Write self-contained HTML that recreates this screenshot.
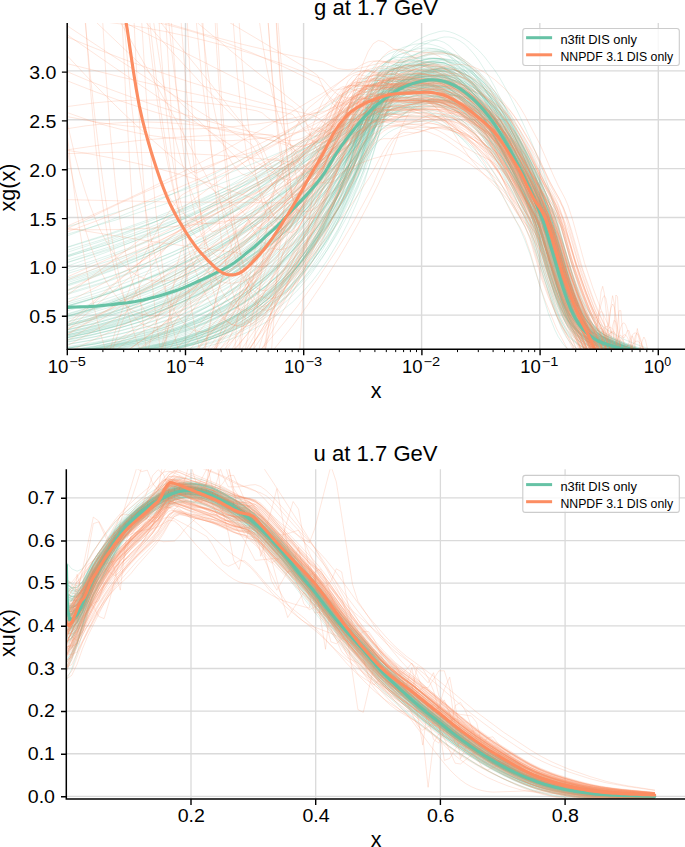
<!DOCTYPE html><html><head><meta charset="utf-8"><style>html,body{margin:0;padding:0;background:#fff;}svg{display:block;}text{font-family:"Liberation Sans", sans-serif;fill:#000;}</style></head><body>
<svg width="685" height="847" viewBox="0 0 685 847">
<rect width="685" height="847" fill="#fff"/>
<defs>
<clipPath id="ct"><rect x="67.2" y="23.0" width="617.8" height="326.3"/></clipPath>
<clipPath id="cb"><rect x="66.3" y="469.2" width="618.7" height="329.8"/></clipPath>
</defs>
<path d="M185.5,23.0V349.3M303.6,23.0V349.3M421.6,23.0V349.3M539.8,23.0V349.3M658.3,23.0V349.3M67.2,315.15H685.0M67.2,266.30H685.0M67.2,217.45H685.0M67.2,168.60H685.0M67.2,119.75H685.0M67.2,70.90H685.0" stroke="#dadada" stroke-width="1.4" fill="none"/>
<path d="M191.00,469.2V799.0M315.70,469.2V799.0M440.40,469.2V799.0M565.10,469.2V799.0M66.3,796.40H685.0M66.3,753.76H685.0M66.3,711.12H685.0M66.3,668.48H685.0M66.3,625.84H685.0M66.3,583.20H685.0M66.3,540.56H685.0M66.3,497.92H685.0" stroke="#dadada" stroke-width="1.3" fill="none"/>
<g clip-path="url(#ct)" fill="none" stroke-linejoin="round"><path d="M64.9 316.3l25.3-7.1 20.2-6.3 25.3-9.1 20.2-8.2 20.2-9.1 20.3-10.2 20.2-11.4 20.2-12.7 20.2-14.2 20.2-15.8 20.3-17.7 20.2-19.8 20.2-22 15.2-18.2 10.1-13.5 15.1-22.7 5.1-6.6 5.1-5.3 5-3.8 5.1-2.3 5-.9 10.1 .3 10.1-.3 5.1 .5 5 1.1 10.2 3.6 10.1 5.7 5 3.6 10.1 9.4 10.1 11.6 5.1 6.7 10.1 15.7 10.1 18.1 10.1 19.2 10.1 21.1 5.1 11.7 5 13.3 18.3 60.9 4.9 15.3 6.6 16.2 3.3 6.2 3.3 5.1 3.3 4.2 4.9 5 5 3.8 4.9 3 8.2 3.4 26.6 8.5M128.6 352.3l22.3-3.7 20.2-4.5 20.2-5.7 20.2-7.4 15.2-6.9 15.2-8.3 15.1-10.1 15.2-12.2 15.2-14.7 15.1-17.9 10.1-13.9 5.1-7.7 10.1-16.8 10.1-19.1 10.1-21.8 5.1-13.3 15.1-44.6 5.1-12.8 5-10.4 5.1-7.4 5.1-4.2 5-1.4 10.1 1.1 10.1-2.3 10.1-1 5.1 .2 5 .8 5.1 1.5 10.1 4.3 10.1 6.2 5.1 3.9 10.1 9.3 10.1 11.3 5.1 6.7 10.1 15.8 10.1 17.9 10.1 19.2 10.1 21.5 5 12.3 5.1 14.9 19.8 65.2 4.9 12.9 3.3 7.1 3.3 5.8 3.3 4.8 4.9 5.6 5 4.3 4.9 3.3 4.9 2.6 5 1.9 24.6 7.7M64.9 304.6l25.3-7.1 20.2-6.2 25.3-8.7 20.2-7.6 20.2-8.4 20.3-9.2 20.2-10 20.2-11 20.2-12 20.2-13.1 20.3-14.4 15.1-11.7 20.2-16.8 15.2-13.7 15.2-14.8 20.2-21 5.1-4.5 5-3.8 5.1-3 5-2.3 5.1-1.8 10.1-2.9 5-.9 5.1-.2 5 .4 5.1 1.3 5.1 2.1 10.1 5.3 5 3.6 5.1 4.1 10.1 9.9 10.1 12 5.1 6.9 10.1 16.1 10.1 17.9 10.1 18.9 10.1 21.2 5 12 5.1 14.9 18.1 58 5 13 4.9 10.2 3.3 5.3 3.3 4.3 3.3 3.4 4.9 3.9 5 2.9 4.9 2.1 4.9 1.5 8.1 1.6M64.9 351.5l35.4-5.1 30.4-6 25.2-6.5 25.3-8.3 15.2-6.1 10.1-4.5 20.2-10.6 10.1-6.1 10.1-6.8 15.2-11.4 10.1-8.6 10.1-9.4 15.2-16.1 10.1-12.1 10.1-13.3 15.1-22.6 15.2-26.2 10.1-19.7 5.1-10.9 20.2-51.7 5.1-10.6 5-8.2 5.1-5.7 5-3.1 5.1-.9 5 .3 5.1-.2 10.1-2.1 5-.5 5.1 .1 5.1 .8 5 1.7 10.1 5.3 10.1 7.2 10.1 9.1 10.2 11.3 10.1 13.8 5 8.1 10.1 18.4 10.1 20.2 10.1 22 5.1 12 4.9 13.1 3.3 10.2 18.1 63.8 5 15.5 6.6 16.3 3.3 6.3 3.3 5.3 4.9 6.2 4.9 4.9 5 3.8 4.9 3 6.6 3.1 11.5 4.6 11.6 4.2 11.6 3.5M131.6 352.3l24.3-4.2 25.3-5.9 20.2-6.3 20.2-8.1 10.1-4.9 10.2-5.5 15.1-9.8 15.2-11.9 15.2-14.3 15.1-17.3 10.1-13.6 10.1-15.3 5.1-8.5 10.1-18.6 10.1-21.1 10.1-24.3 5.1-15.2 15.1-48.9 5.1-13.2 5.1-10 5-6.1 5.1-2.4 5 1.1 5.1 2.6 5 1.6 15.2-2.4 10.1-1.1 10.1 .4 5.1 .9 5 1.5 5.1 2.3 5 3 5.1 3.6 5 4.2 10.2 10.3 10.1 12.4 10.1 14.9 15.1 27.3 10.1 19.7 6.7 14.2 9.9 23.5 3.3 9.5 18.1 62 5 15.4 4.9 12.7 3.3 6.9 3.3 5.8 3.3 4.6 4.9 5.7 5 4.4 6.6 4.4 4.9 2.4 6.6 2.5 27.5 9.1M64.9 335.3l25.3-6.1 25.3-7.3 25.3-9 20.2-8.5 20.2-9.9 20.2-11.5 20.2-13.5 15.2-11.6 10.1-8.4 10.1-9.2 15.2-15.1 10.1-11.2 10.1-11.9 15.2-19.9 15.1-22.2 10.1-16.3 10.2-17.8 20.2-41.4 5-9.1 5.1-7.7 5-6.2 5.1-4.4 5.1-3.1 15.1-6.7 10.1-2.9 5.1-.7 5-.2 5.1 .5 5 1.1 5.1 1.6 5.1 2.2 5 3 10.1 7.6 10.1 10.2 10.1 12.1 10.2 14.1 10.1 16.4 10.1 18.8 15.1 30.1 10.1 22.1 5.1 12.3 6.6 19.7 16.5 58 4.9 15.7 6.6 16.6 3.3 6.4 4.9 7.8 3.3 4.1 5 5.1 4.9 4 4.9 3.2 6.6 3.2 16.5 6.8 8.2 2.9 10.5 3.2M64.9 279.1l20.3-6.8 20.2-7.2 20.2-7.8 20.2-8.5 20.2-9.1 20.3-9.8 20.2-10.6 15.1-8.5 20.3-12.1 20.2-13.1 20.2-14.1 20.2-15.3 15.2-12.2 15.1-12.9 20.3-18.2 25.2-24.8 10.2-7.7 20.2-12 10.1-4.4 10.1-3 5-.9 5.1-.3 5.1 .5 5 1.5 5.1 2.4 10.1 6.4 5 4 10.1 9.7 10.2 12.3 5 7.2 5.1 8 10.1 18.3 10.1 19.8 10.1 21.3 11.7 28 5 15 16.5 58 4.9 15.9 6.6 17 3.3 6.6 3.3 5.5 3.3 4.6 4.9 5.5 4.9 4.3 6.6 4.3 6.6 3.1 16.5 6.7 9.9 3.4 10.8 3.2M64.9 247.8l45.5-14.5 45.5-16.2 45.5-18.2 40.5-18.1 40.4-20.1 20.2-10.8 20.2-11.4 30.4-18.3 25.2-16.2 15.2-10.5 5.1-3.3 5-2.7 5.1-2.1 5-1.6 10.1-2.2 10.1-1.2 5.1 .1 5.1 .6 10.1 2.8 5 2.2 10.1 6.3 10.1 8.8 10.2 10.9 5 6.3 5.1 7.1 10.1 16.6 10.1 18.6 10.1 19.8 10.1 22.1 4.9 12.3 5 14.8 19.7 67.5 6.6 17.3 3.3 6.8 3.3 5.5 3.3 4.5 5 5.1 3.2 2.7 5 3.2 8.2 3.2 26 6.8M64.9 326.4l25.3-6.7 25.3-7.9 25.3-9.3 20.2-8.6 20.2-9.8 20.2-11.2 20.2-12.8 15.2-10.7 20.2-16.1 20.2-18.3 20.3-20.8 15.1-17.6 10.1-12.7 10.1-13.5 15.2-22.1 10.1-16.4 15.2-28 5-8.5 5.1-7.3 5.1-5.9 5-4.5 5.1-2.9 10.1-2.9 20.2-9.6 10.1-4.1 5.1-1.2 5 0 5.1 1.1 5 2.3 5.1 3.5 5 4.8 5.1 5.9 5 6.8 10.2 16.3 5 9.1 10.1 19.8 25.3 53.2 10.1 23.5 6.6 18.8 18.1 64.6 4.9 16 6.6 17.1 3.3 6.7 3.3 5.6 5 6.8 4.9 5.4 4.9 4.2 6.6 4.5 19.8 9.7 13.2 4.9 15.1 4.7M64.9 280.7l40.5-13.3 20.2-7.5 20.2-8.1 20.2-8.7 20.3-9.3 20.2-10.1 15.1-8 25.3-14.5 20.2-12.6 25.3-17.2 20.2-14.9 20.2-16 20.3-17.3 10.1-9.2 20.2-20.2 5.1-4.6 5-3.8 5.1-3.1 5-1.9 5.1-1.2 20.2-2.6 10.1 .1 10.1 1.9 10.1 3.4 5.1 2.9 10.1 7.2 10.1 9.4 10.1 11.6 5.1 7.1 10.1 16.9 5 9.5 10.1 21.1 10.1 23.7 5.1 13.1 6.6 19.5 16.5 58.6 4.9 16 6.6 16.9 3.3 6.4 3.3 5.2 3.3 4.1 4.9 4.8 3.3 2.4 4.9 2.9 6.6 2.5 16.5 4.4 13.4 4.1M76.8 352.3l28.6-3.8 30.3-5.4 25.3-6 20.2-5.9 20.2-7.2 20.2-8.9 20.3-10.8 15.1-9.7 10.1-7.3 10.1-8 15.2-13.8 10.1-10.3 10.1-11.5 15.2-19.4 15.2-22.6 15.1-26.4 5.1-10.8 15.1-35 5.1-9.8 5.1-7.7 5-5.2 5.1-2.8 5-.7 10.1 .9 15.2-3.3 10.1-.9 10.1 .9 5.1 1.1 5 1.6 5.1 2.3 5 2.8 5.1 3.5 10.1 8.7 10.1 11.1 5.1 6.7 5 7.6 15.2 26 10.1 19.2 10.1 21.7 4.9 12 3.3 9.7 19.8 64.3 4.9 12.9 3.3 7.1 3.3 5.8 3.3 4.7 5 5.5 4.9 4.2 4.9 3.1 8.3 3.5 16.4 4.3 6.5 2M64.9 263.2l45.5-15 40.5-15.1 40.4-17.2 20.2-9.4 20.2-9.9 35.4-19.1 30.4-18 20.2-13 15.1-10.3 15.2-10.6 15.2-11.5 10.1-7.1 10.1-5.5 10.1-3.1 10.1-1.8 15.2-.8 10.1 .6 5 .9 10.2 2.7 10.1 3.3 5 2.3 5.1 3.3 10.1 8.3 10.1 10.4 5.1 6.1 10.1 14.9 10.1 17 10.1 18.4 10.1 20.9 5 12.1 5.1 14.5 16.5 55.1 4.9 15.1 4.9 12.4 5 9.5 3.3 5 4.9 5.8 5 4.4 4.9 3.4 4.9 2.5 5 1.8 20.7 5.8M149.6 352.3l21.5-3.9 20.2-4.9 20.2-6.5 15.2-6.1 15.2-7.5 15.1-9.3 15.2-11.3 15.2-14 10.1-11 5-6.1 10.1-13.5 5.1-7.5 10.1-16.6 5-9.2 10.2-20.4 10.1-23.4 5-13.5 20.2-67 5.1-13.4 5.1-10.3 5-6.6 5.1-3 5-.2 5.1 1.2 5-.1 10.1-3 5.1-.9 5-.4 5.1 .2 5.1 .9 5 1.9 10.1 5.8 10.1 7.9 10.1 10.1 5.1 5.9 10.1 14 5.1 8.2 10.1 18.3 10.1 19.5 10.1 21.3 5 11.6 5.1 12.8 3.3 10 18.1 63.2 4.9 15.3 6.6 16.2 3.3 6.2 3.3 5.2 3.3 4.3 5 5.3 4.9 4.1 6.6 4.2 6.6 3.1 18.1 7.4 17.3 5.5M64.9 269.6l25.3-8 20.2-6.9 25.3-9.2 20.2-8 25.3-10.6 20.2-9.2 20.2-9.8 20.3-10.5 25.2-14.1 20.3-12.1 20.2-12.9 20.2-13.8 40.4-29.7 25.3-22.4 10.1-8.7 5.1-3.7 5-3.1 10.1-4.8 5.1-1.6 5-.8 5.1 .1 5.1 1 5 2.1 5.1 2.9 10.1 7.3 10.1 9.2 10.1 11.6 5.1 7 5 7.9 10.1 17.9 15.2 29.8 10.1 23 5 13.1 5.1 15.8 14.8 52.6 5 16.2 6.5 17.6 3.3 6.8 5 8.2 3.3 4.4 4.9 5.3 5 4.2 4.9 3.3 9.9 4.6 19.7 7.6 9.9 3.1M149.6 352.3l21.5-3.9 20.2-4.8 20.2-6.3 15.2-5.9 15.2-7.3 15.1-9 15.2-10.9 15.2-13.4 10.1-10.6 5-5.9 10.1-12.9 10.1-14.8 5.1-8.2 10.1-18.1 10.1-20.8 5.1-11.5 5-13.3 15.2-46.5 5-14.2 5.1-11.9 5.1-9 5-5.9 5.1-3.2 5-2.2 5.1-1.4 10.1-5.5 5-2 5.1-1.2 5 0 5.1 1.1 5.1 2.3 5 3.5 5.1 4.5 10.1 10.1 10.1 11.6 5 6.8 5.1 7.6 10.1 17.4 20.2 39.1 10.1 22.3 5.1 12.7 5 15.7 15 51.1 4.9 15.4 6.6 16.5 3.3 6.4 3.3 5.3 3.3 4.5 4.9 5.5 5 4.3 4.9 3.4 9.9 4.7 24.7 8.8M64.9 319.9l25.3-6.8 20.2-6.1 25.3-8.7 20.2-7.9 20.2-8.8 20.3-10 20.2-11.1 15.1-9.2 20.3-13.5 20.2-15.2 20.2-17.1 15.2-14.1 20.2-20.8 15.2-17.2 10.1-12.5 20.2-27.3 5-5.8 5.1-5 5.1-3.9 5-3.1 20.2-8.5 10.1-2.7 5.1-.5 5 .1 5.1 1 5.1 1.8 5 2.4 5.1 3 10.1 7.9 10.1 10.1 10.1 12 5.1 6.9 10.1 15.8 20.2 35.9 10.1 20.1 5 11.4 6.7 18.5 19.8 63.4 6.6 16.1 3.3 6.2 3.3 5.1 3.3 4.3 4.9 5.1 5 4 4.9 3.2 9.9 4.5 26.9 9.4M64.9 306.7l25.3-7.2 20.2-6.4 25.3-9 20.2-8 20.2-8.7 20.3-9.7 20.2-10.6 20.2-11.6 20.2-12.8 20.2-14.1 20.3-15.5 15.1-12.6 15.2-13.6 15.2-14.6 20.2-20.8 20.2-23 5.1-5 5-4.2 10.1-7.4 5.1-3.4 5-2.7 5.1-1.9 5-1.4 5.1-.9 5-.3 5.1 .5 5.1 1.4 5 2.3 5.1 3 10.1 7.2 5 4 10.1 9.5 10.2 11.6 5 6.8 10.1 16 15.2 27.3 10.1 20.2 5 11.2 5.1 12.3 3.3 9.7 16.5 54.7 4.9 15.1 6.6 16 3.3 6.2 3.3 5.2 3.3 4.2 4.9 5.1 5 4.1 4.9 3.3 9.9 4.6 26.5 9.5M64.9 332.6l25.3-5.8 25.3-6.8 25.3-8 20.2-7.5 20.2-8.6 20.2-9.8 20.2-11.3 20.3-12.8 20.2-14.7 20.2-16.9 20.2-19.2 10.1-10.7 10.1-11.4 10.1-12.1 10.2-13.1 15.1-21.2 5.1-7.8 20.2-35.2 5.1-7.4 5-5.9 5.1-4.1 5-2.1 5.1-.6 10.1 .1 10.1-1.1 5 .1 5.1 .5 10.1 2.8 5.1 2.1 5 2.6 5.1 3.5 10.1 8.9 10.1 11.2 10.1 13.7 5.1 7.9 10.1 18.2 15.1 29.6 10.1 21.3 5.1 11.6 6.6 17.6 21.4 70 6.6 16.2 3.3 6.2 3.3 5.1 3.3 4.1 4.9 4.7 3.3 2.5 4.9 2.9 6.6 2.6 27.9 7.8M64.9 333.7l25.3-5.7 25.3-6.7 25.3-7.9 20.2-7.4 20.2-8.6 20.2-9.7 20.2-11.2 20.3-12.8 20.2-14.7 20.2-16.9 20.2-19.4 15.2-16.3 10.1-11.9 10.1-12.7 15.2-20.8 10.1-15.7 15.1-26.6 5.1-7.6 5.1-6.3 5-4.7 5.1-2.9 5-1.5 10.1-1.1 10.1-2 5.1-.3 5 .4 5.1 1.2 5.1 2 5 2.5 5.1 3.3 5 4.1 10.1 10.3 10.1 12.8 10.2 15 5 8.6 20.2 38.2 15.2 31.8 5 12.3 5.1 15.1 14.8 48.9 5 14.9 4.9 12.2 3.3 6.5 3.3 5.4 3.3 4.3 4.9 5.1 5 3.7 4.9 2.8 8.2 3.1 21.9 5.5M64.9 324.9l25.3-6.6 20.2-6.1 25.3-8.8 20.2-8.1 20.2-9.2 20.3-10.5 20.2-11.8 15.1-9.9 20.3-14.7 15.1-12.3 20.3-18.4 15.1-15.4 15.2-16.8 15.1-18.6 10.2-13.6 20.2-29.1 5-6.4 5.1-5.6 5-4.5 5.1-3.8 20.2-13.3 5.1-2.5 10.1-3.5 5-.9 5.1-.2 5 .7 5.1 1.7 5.1 2.4 5 3.3 5.1 4.1 10.1 9.2 10.1 10.7 5 6.2 5.1 6.8 10.1 16.2 10.1 18.3 10.1 19.6 10.1 21.8 5.1 12.4 5 14.9 16.6 56.8 5 15.3 6.6 16.2 3.2 6.2 3.3 5.1 3.3 4.2 5 5.1 4.9 4 5 3.1 8.2 3.6 29.5 10.1M64.9 348.7l30.4-4.7 30.3-6.1 15.2-3.7 15.1-4.3 25.3-8.5 15.2-6 10.1-4.5 20.2-10.4 20.2-12.3 10.1-7.1 10.1-7.7 15.2-12.9 15.2-14.7 15.1-16.9 15.2-19.3 10.1-14.3 10.1-15.7 15.2-26.3 5-9.8 20.3-46.5 5-9.4 5.1-7 5-4.4 5.1-1.9 5 0 10.1 1.7 10.1-.3 5.1 .6 5.1 1.1 10.1 3.9 5 2.8 10.1 7.9 10.1 10.2 5.1 6.1 10.1 14.1 10.1 17.4 15.2 29.4 10.1 21.4 5 11.7 5.1 12.8 3.3 9.8 16.5 56.2 4.9 15.5 4.9 12.8 5 9.9 3.3 5.2 4.9 6.1 5 4.6 6.5 4.5 8.3 3.6 28.7 9M64.9 352l30.4-4.1 25.2-4.5 25.3-5.7 25.3-7.3 15.2-5.3 10.1-4 20.2-9.3 20.2-11.3 15.2-10.1 10.1-7.6 10.1-8.4 15.2-14.2 10.1-10.7 10.1-11.8 15.1-20.1 15.2-23.2 10.1-17.5 5.1-9.4 5-10.8 15.2-36.1 5-10.5 5.1-8.5 5.1-6.1 5-3.6 5.1-1.1 10.1 1.5 15.1-1.8 10.1-.3 5.1 .5 10.1 2 10.1 3.5 5.1 2.8 5 3.2 10.1 8.1 10.2 10.2 5 5.9 10.1 14.3 15.2 25.8 10.1 19.1 10.1 21.8 4.9 12.3 3.3 9.8 19.8 65.7 4.9 13.2 3.3 7.3 3.3 6 3.3 4.9 5 5.8 4.9 4.5 4.9 3.4 5 2.5 4.9 1.9 24.9 7.6M142.6 352.3l23.4-4.4 20.3-5.1 20.2-6.8 10.1-4.1 10.1-4.8 15.2-8.5 15.1-10.4 15.2-12.9 10.1-10.2 5.1-5.6 10.1-12.5 10.1-14.4 10.1-16.5 10.1-19 10.1-21.8 5.1-12.1 5-13.7 15.2-51.4 5-15.8 5.1-13 5-9.4 5.1-5.4 5.1-1.6 5 1.2 5.1 2.4 5 1.1 15.2-1.8 15.1-.9 15.2 .2 5.1 .3 5 1 5.1 2.2 5 2.8 5.1 3.4 5 4.1 10.2 10.1 10.1 12.6 10.1 15.9 15.1 28.2 15.2 31.6 8.2 20 3.3 9.5 18.1 62.2 5 15.5 4.9 12.8 3.3 6.9 3.3 5.8 3.3 4.7 4.9 5.6 5 4.3 6.6 4.4 9.9 4.2 27.6 9.1M64.9 351.3l30.4-4.8 25.2-5.3 25.3-7 20.2-7.1 20.3-8.8 15.1-8 10.1-6 10.1-6.8 15.2-11.5 10.1-8.8 10.1-9.8 15.2-16.8 15.2-19.7 15.1-23.1 10.1-17.7 10.1-19.6 5.1-10.8 5-12.3 15.2-39.4 5.1-11.5 5-9.7 5.1-7.7 5-5.5 5.1-3.5 10.1-5.2 15.2-12.6 15.1-10.1 10.1-5.3 5.1-2.2 10.1-3.1 5.1-.7 5 .8 5.1 1.7 5 2.3 5.1 2.9 5 3.5 10.1 9 5.1 5.7 10.1 13.2 5.1 7.8 10.1 18.1 10.1 20.6 10.1 22.1 11.7 28.7 5 14.2 3.3 11 16.4 61.9 6.6 22.6 6.6 17.8 3.3 7 5 8.5 4.9 6.6 6.6 6.9 6.6 5.2 6.6 4.1 9.8 5.5 11.6 4.9 11.5 4.2 14.7 4.6M64.9 348.6l30.4-4.6 30.3-6 25.3-6.4 25.2-7.9 25.3-9.8 20.2-9.6 20.3-11.4 20.2-13.6 10.1-7.7 10.1-8.5 15.2-14.1 15.1-16.1 15.2-18.4 10.1-13.7 10.1-14.9 15.2-25 5-9.8 15.2-33 5.1-9.6 5-7.7 5.1-5.5 5-2.9 5.1-1 10.1 1.3 10.1-.9 10.1 .3 10.1 1.9 5.1 1.5 5 2 5.1 2.8 5 3.4 10.1 8.6 10.2 10.7 5 6.3 5.1 7.2 10.1 16.6 15.1 28 10.1 21.1 6.7 16 3.3 9.3 21.4 70.2 5 13 3.3 7.1 3.3 5.9 3.3 4.8 4.9 5.7 5 4.4 4.9 3.4 4.9 2.6 5 1.8 20.4 5.9M64.9 227.5l50.6-14.8 50.5-16.4 50.6-18.2 45.5-18.1 35.4-15.2 30.3-14 15.2-5.7 5-2.5 10.1-7 15.2-12.4 5-3.5 10.2-5.7 15.1-6.7 15.2-4.3 10.1-1.7 5-.3 5.1 .2 5.1 .8 5 1.3 5.1 2 5 2.5 5.1 3.1 5 3.6 10.1 9 10.2 11.1 5 6.4 5.1 7.1 10.1 16.4 10.1 18.1 10.1 19.3 5 10.5 8.4 19.1 4.9 14 16.5 55.6 4.9 15.4 6.6 16.3 3.3 6.3 3.3 5.2 3.3 4.3 5 5.1 4.9 3.9 4.9 3.1 8.3 3.4 25.7 8.2M64.9 318.3l25.3-6.8 20.2-6.3 25.3-8.8 20.2-7.9 20.2-9 20.3-9.9 20.2-11.2 15.1-9.2 20.3-13.6 20.2-15.2 20.2-17 20.2-18.9 20.2-21.3 15.2-17.5 10.1-12.7 20.2-29.1 5.1-6 5.1-4.7 5-3.5 5.1-2 5-.8 20.2-1.1 5.1 .1 10.1 1.1 5.1 1 5 1.6 5.1 2.1 5 2.8 5.1 3.6 5 4.4 5.1 5.1 5 5.9 5.1 7 5.1 8 10.1 18 10.1 19.3 10.1 21.3 5 11.6 5.1 13 5 16 15 51.3 4.9 15.2 6.6 16 3.3 6.1 3.3 5.1 3.3 4.2 4.9 5.1 5 4 4.9 3.1 8.2 3.6 23.1 8.4 7.9 2.5M122.8 352.3l28.1-4.8 25.2-5.9 20.3-6.3 20.2-8 10.1-4.9 10.1-5.4 15.2-9.6 10.1-7.5 10.1-8.4 15.2-14.8 15.1-17.8 10.1-13.8 10.1-15.6 5.1-8.6 10.1-18.9 10.1-21.3 10.1-24.6 15.2-48 5-15.1 5.1-12.7 5.1-9.6 5-6 5.1-2.5 5 .6 5.1 2.1 5 .9 10.1-.5 5.1 .6 5 1 10.2 3.6 10.1 5.6 5 3.6 10.1 9 10.1 11.1 10.2 13 10.1 15.7 10.1 18.3 10.1 19.4 15.1 31.7 6.7 16.4 3.3 9.6 16.5 55.5 4.9 15.4 5 12.8 3.3 7 3.3 5.8 3.3 4.7 4.9 5.6 5 4.3 4.9 3.3 4.9 2.5 5 1.9 29.5 9.6M64.9 335.6l25.3-5.5 20.2-5.1 25.3-7.5 20.2-7 20.2-8.1 20.3-9.3 20.2-10.8 15.1-9 20.3-13.7 20.2-15.8 20.2-18.2 15.2-15.4 10.1-11.2 10.1-12 15.2-19.7 10.1-15 15.1-25.3 5.1-7.2 5-5.9 5.1-4.3 5.1-2.5 5-.9 10.1 .8 25.3-.7 10.1 .6 10.1 1.8 10.1 2.9 5.1 2.3 5 2.9 5.1 3.5 5 4.2 5.1 4.9 5.1 5.5 5 6.5 5.1 7.4 10.1 16.9 15.1 28 10.1 21.4 5.1 12.3 3.3 9.6 19.8 63.6 4.9 12.8 3.3 7 3.3 5.7 3.3 4.7 4.9 5.3 5 4.1 4.9 3.1 8.2 3.3 22.2 5.7M130.2 352.3l25.7-4.6 20.2-4.9 20.3-6.3 15.1-5.9 15.2-7.3 15.2-8.8 15.1-10.8 15.2-13 15.2-16 10.1-12.5 5-6.8 10.1-15.2 5.1-8.4 10.1-18.5 10.1-21.1 10.1-24.2 5.1-15 15.1-49.5 5.1-14 5-11 5.1-7.6 5.1-4.2 5-1.5 10.1 .5 15.2-5.3 10.1-1.8 5-.1 5.1 .5 5.1 1.1 5 2 10.1 6 10.1 8.5 10.1 10.6 10.2 13.2 5 7.6 10.1 17.4 15.2 28.6 10.1 21.4 5 12 6.7 19 18.2 64.6 4.9 15.7 6.6 16.5 3.3 6.4 4.9 7.8 3.3 4.2 5 5.2 4.9 4 6.6 4.1 24.7 11.3 19.2 6.1M64.9 341l25.3-5.3 25.3-6.4 25.3-7.9 20.2-7.6 20.2-9 20.2-10.6 20.2-12.5 15.2-10.8 10.1-8 10.1-8.6 15.2-14.4 10.1-10.7 10.1-11.5 15.2-19.3 15.1-21.7 15.2-24.6 5.1-9.2 20.2-42 5-8.8 5.1-7 5-5.2 5.1-3.1 5.1-1.6 10.1-1.9 10.1-2.6 10.1-1.1 5 .1 5.1 .6 5 1.1 10.2 3.7 5 2.9 10.1 7.3 10.1 9.9 10.1 11.6 10.2 13.6 5 7.7 10.1 17.1 15.2 27.4 10.1 20 5 11.4 6.7 18.6 16.5 55.3 5 14.9 6.5 15.7 3.3 6.1 3.3 5 3.3 4.1 5 5.2 4.9 4 4.9 3.1 6.6 3.2 21.4 8.5 14.8 4.6M64.9 342.6l25.3-4.7 25.3-5.6 25.3-6.9 20.2-6.5 20.2-7.7 20.2-9 20.2-10.5 20.3-12.4 20.2-14.4 10.1-8.1 10.1-8.7 10.1-9.5 10.1-10.3 15.2-17 15.1-19.1 15.2-21.5 10.1-15.9 20.2-38.4 5.1-8 5.1-6.5 5-4.6 5.1-2.7 5-.8 10.1-.3 15.2-4 10.1-2.2 5.1-.6 10.1-.5 5 .5 5.1 1.2 5 1.6 5.1 2.3 5 2.8 10.2 7.5 10.1 9.8 5 6 5.1 7 10.1 16.5 15.1 28.8 10 22 5 12.4 6.6 19.9 14.8 52.3 6.6 21 6.6 16 3.3 6.2 3.3 5 3.2 4.1 5 5 4.9 3.8 5 2.9 8.2 3.3 26 8.2M64.9 306.7l25.3-7.4 20.2-6.6 25.3-9.3 20.2-8.2 20.2-9.1 20.3-10 20.2-11 20.2-12.2 20.2-13.4 20.2-14.8 20.3-16.4 15.1-13.3 15.2-14.3 15.2-15.4 15.1-16.5 20.2-24.1 10.2-10.2 5-3.9 5.1-3.3 10.1-5.8 5-2.2 5.1-1.6 5-1.2 5.1-.5 5 0 5.1 .7 5.1 1.5 5 2.2 10.1 6.4 10.1 8.2 10.1 10.4 10.2 12.2 10.1 14.6 5 8.3 20.2 37 10.1 20.7 6.7 15.4 6.6 18.9 14.9 49.5 4.9 15.2 6.6 16.2 3.3 6.3 3.3 5.1 3.3 4.2 4.9 5.1 4.9 3.9 5 3 8.2 3.4 25.1 7.9M64.9 314.5l25.3-7.5 20.2-6.8 20.3-7.7 20.2-8.5 20.2-9.6 15.2-7.9 20.2-11.7 15.1-9.6 20.3-14.2 15.1-11.8 20.2-17.3 15.2-14.4 15.2-15.6 15.1-17 10.1-12.2 25.3-33.2 5.1-5.8 10.1-9.5 15.2-10.8 10.1-6.5 15.1-7.2 10.1-3.8 10.1-2.6 10.2-1.2 5 .2 5.1 .7 5 1.4 5.1 2.4 5 3.2 5.1 3.9 5 4.6 5.1 5.5 5.1 6.5 5 7.4 10.1 18.1 10.1 20.8 5.1 11.2 15.1 37.5 6.7 19.8 18.2 66.2 4.9 16.2 6.6 17.2 3.3 6.7 3.3 5.5 4.9 6.7 5 5.2 4.9 4 4.9 3.1 6.6 3.2 19.8 8 16 5M171.3 352.3l20-4 20.2-5.3 15.2-5.2 15.2-6.5 15.1-8.2 15.2-10.1 15.2-12.6 10.1-10.2 10.1-11.7 5-6.6 10.1-14.6 10.1-17.1 5.1-9.4 10.1-21.3 10.1-24.6 5.1-14 5-17 15.2-56.4 5.1-15.6 5-12.3 5.1-8.2 5-4.3 5.1-.7 5 1.3 5.1 .6 10.1-3.2 5-.9 5.1-.1 5.1 .7 5 1.8 5.1 2.7 10.1 7.1 5 4.4 10.1 10.9 5.1 6.6 5.1 7.4 10.1 17.8 10.1 20.2 10.1 21.5 10.1 23.5 5 13 5.1 15.2 16.5 59.2 4.9 16.4 6.6 17.5 3.3 6.9 4.9 8.2 5 6.4 4.9 5.1 5 3.9 4.9 3.2 26.3 12.2 20.1 6.4M135.5 352.3l25.5-4.3 20.2-4.5 20.2-5.8 20.2-7.4 10.1-4.5 10.2-5 15.1-8.9 15.2-10.7 15.2-12.9 15.1-15.6 15.2-18.7 10.1-14.6 5-8 10.2-17.6 10.1-19.9 10.1-22.6 5-13.8 15.2-46.8 5.1-13.4 5-10.8 5.1-7.7 5-3.8 5.1-1.1 10.1 1.4 20.2-6.4 5.1-1 5-.3 5.1 .2 5 .8 5.1 1.6 5 2.2 5.1 2.9 5 3.5 10.2 9.2 10.1 11.6 10.1 14.3 5 8.3 10.1 18.6 10.1 19.8 13.3 29.2 5 12.4 4.9 14.8 16.5 57.4 4.9 15.8 6.6 16.9 3.3 6.6 4.9 7.7 5 5.9 4.9 4.7 5 3.6 4.9 2.9 8.2 3.6 21.5 7.4 9.2 2.8M180.2 352.3l21.2-4.3 20.2-5.6 15.2-5.5 15.2-6.8 15.1-8.6 10.1-6.8 15.2-12.5 10.1-10 10.1-11.6 5.1-6.6 10.1-14.5 10.1-17 10.1-19.6 10.1-22.9 5.1-13.9 15.1-50.2 5.1-15.2 5.1-12.6 5-9.3 5.1-5.7 5-2.8 5.1-.1 5 .8 10.1-2.5 5.1-.7 5 .2 5.1 1.1 5.1 2.2 5 3 10.1 8.5 10.1 9.7 10.1 11.8 10.2 14.1 5 8.1 20.2 36.3 10.1 20.1 5.1 11.1 5 12.7 23.2 73.9 6.6 15.9 3.3 6.1 3.3 5 3.3 4.1 4.9 4.7 3.3 2.6 5 3 8.2 3.4 24.1 6.9M64.9 348.1l25.3-4.1 25.3-5.2 25.3-6.6 20.2-6.5 20.2-7.7 20.2-9.4 20.2-11.3 15.2-9.9 10.1-7.5 10.1-8.1 15.2-13.8 10.1-10.2 10.1-11.3 15.2-19 15.1-21.9 15.2-25.1 5.1-9.8 15.1-33.3 5.1-10 5-8.3 5.1-6.2 5-4.1 5.1-2 10.1-.7 30.3-5.9 10.1-1.1 5.1-.1 10.1 .9 5.1 1 5 1.6 5.1 2.4 5 3.1 5.1 3.7 10.1 9.3 5.1 5.5 5 6.3 10.1 15.2 10.1 17.7 10.1 19 10.1 20.9 6.7 15.7 5 14.2 16.5 55.6 4.9 15.3 6.6 16.1 3.3 6.2 3.3 5.1 3.3 4.2 4.9 5.1 4.9 3.8 5 3 8.2 3.4 27.6 9M151.4 352.3l19.7-3.8 20.2-5.2 15.2-5 15.1-6.2 15.2-7.8 15.2-9.6 15.1-11.9 10.1-9.6 10.2-11 5-6.1 10.1-13.7 10.1-15.9 5.1-8.8 10.1-19.7 10.1-22.7 5.1-12.7 5-15.1 15.2-52.9 5-15.7 5.1-12.8 5-9.3 5.1-5.5 5.1-2.1 10.1 .8 15.1-5.4 5.1-1.3 5-1 5.1-.4 5 .2 5.1 .8 5.1 1.3 5 2.1 5.1 2.9 5 3.4 10.1 9.2 10.1 11.5 10.2 14.3 5 8.5 10.1 19 10.1 20.5 15.2 34 5 13.1 5.1 15.6 14.8 52.6 6.6 21.2 6.6 16.2 3.3 6.2 3.3 5.1 3.3 4.2 4.9 5.1 5 3.9 4.9 3 4.9 2.3 13.2 4.8 11.5 4.7 15.7 4.7M157.4 352.3l18.7-3.5 20.3-5 20.2-6.6 15.1-6.3 15.2-7.9 15.2-9.7 15.1-12 10.2-9.6 10.1-11 5-6.1 10.1-13.7 10.1-15.7 5.1-8.7 10.1-19.4 10.1-22.4 5.1-12.6 5-15.2 15.2-51.1 5-14.4 5.1-11.4 5.1-7.7 5-4 5.1-.7 10.1 2.3 15.1-3.9 5.1-.7 5-.1 5.1 .4 5.1 1 5 1.6 5.1 2.1 5 2.8 10.1 7.3 10.1 9.5 5.1 5.7 5.1 6.5 10.1 15.6 10.1 18.1 10.1 19.7 10.1 22.3 5 12.5 6.7 19.8 16.5 57.9 5 15.5 6.5 16.3 3.3 6.3 3.3 5.2 3.3 4.2 5 5.2 4.9 4.1 4.9 3.1 9.9 4.3 19.8 7.2 9.4 2.9M72.3 352.3l33.1-4.7 25.3-4.9 25.2-6.3 20.2-6.4 20.3-7.9 20.2-9.7 10.1-5.7 10.1-6.2 15.2-10.8 10.1-8.1 10.1-9.1 15.2-15.5 15.1-18 15.2-21.2 15.1-24.7 10.2-18.8 5-10.8 15.2-37.3 5-11.2 5.1-9.4 5-7.1 5.1-4.8 5.1-2.7 10.1-2.7 15.1-7.9 10.1-4.8 10.1-3.6 5.1-.9 5.1-.2 5 .8 5.1 1.6 5 2.5 5.1 3.1 5 4 5.1 4.7 5 5.5 5.1 6.3 5.1 7 10.1 16.7 20.2 39.6 10.1 21.9 5 12 6.7 18.4 18.2 62.6 4.9 15.3 6.6 15.9 3.3 6.2 3.3 5 3.3 4.2 4.9 5.1 5 4 4.9 3 6.6 3 21.4 8.3 15.3 4.7M64.9 326.5l25.3-6.1 20.2-5.4 25.3-7.9 20.2-7.2 20.2-8 20.3-9.1 20.2-10.3 20.2-11.5 20.2-13 20.2-14.6 20.3-16.4 15.1-13.7 15.2-15 15.2-16.4 15.1-18 20.2-26.3 5.1-5.7 5.1-4.8 5-3.9 5.1-3 15.1-6.9 5.1-1.6 10.1-2 5-.3 5.1 .1 10.1 1.9 5.1 1.6 5 2.1 10.1 5.8 5.1 3.7 10.1 8.6 10.1 10.3 5.1 5.9 10.1 14.1 15.1 24.9 10.1 18.3 8.4 16.8 4.9 11.2 3.3 8.9 21.4 68.1 5 12.5 3.3 6.8 3.3 5.6 3.3 4.6 4.9 5.3 4.9 4 5 3 8.2 3.2 11.5 2.8 9.5 2.8M64.9 306.4l25.3-7.4 25.3-8.3 25.3-9.4 20.2-8.3 20.2-9.2 20.2-10.1 20.2-11.1 20.3-12.2 20.2-13.5 20.2-14.9 20.2-16.3 15.2-13.3 15.1-14.4 15.2-15.4 10.1-10.9 20.2-24.6 5.1-5.5 10.1-9.1 15.2-11.8 10.1-7.1 5-3.1 5.1-2.2 5-1.2 5.1-.1 5.1 1.1 5 2.6 5.1 3.6 5 4.4 10.1 9.8 10.1 12.4 5.1 7.2 5.1 8.2 10.1 18.4 15.1 30.2 10.1 22.3 5.1 12.3 5 14.1 18.3 62.9 4.9 15.4 6.6 16.3 3.3 6.2 3.3 5.2 3.3 4.3 4.9 5.3 5 4.1 4.9 3.2 6.6 3.2 23 8.8 11.8 3.8M64.9 340.1l25.3-5.1 25.3-6.1 25.3-7.4 20.2-7.1 20.2-8.2 20.2-9.6 20.2-11.3 15.2-9.6 20.2-14.7 15.2-12.5 10.1-9.3 10.1-10 15.2-16.4 15.1-18.5 15.2-20.8 10.1-16 15.2-25.6 5-7.3 5.1-6 5-4.5 5.1-3 5.1-1.6 15.1-2 5.1-.3 10.1 .9 5 1.4 5.1 2.1 5 2.9 5.1 3.6 15.2 13 10.1 9.9 10.1 11.3 10.1 13.6 10.1 16 15.2 26.5 10.1 20.2 5 11.6 5.1 14 18.3 59 6.6 16.8 3.3 6.6 5 7.5 3.2 3.8 5.4 4.4M155.2 352.3l20.9-4.3 20.3-5.5 15.1-5.5 15.2-6.8 15.2-8.6 15.1-10.7 10.1-8.6 5.1-4.8 10.1-10.8 10.1-12.6 5.1-7 10.1-15.7 10.1-18.3 10.1-21.3 10.1-24.9 5.1-15.3 15.1-52.4 5.1-15.8 5-13.3 5.1-10 5-6.6 5.1-3.5 5.1-1.9 5-2.4 10.1-9.8 10.1-8.3 5.1-3.2 5-2.4 5.1-1.6 5-.5 5.1 .7 5.1 1.8 5 3.3 5.1 4.6 10.1 10.5 10.1 12.5 5 7.2 5.1 8.2 10.1 19 15.2 31.8 10.1 23.3 5 12.6 5.1 13.9 5 16.6 15 54.7 4.9 16.7 6.6 17.9 3.3 7.1 4.9 8.5 5 6.7 4.9 5.4 5 4.3 4.9 3.5 6.6 3.5 26.3 12.8 17.3 5.3M64.9 337.7l30.4-6.5 25.2-6.7 25.3-8.1 20.2-7.6 20.3-8.9 20.2-10.3 20.2-11.9 20.2-13.8 15.2-11.9 15.1-13.2 15.2-14.8 15.2-16.5 10.1-12.1 10.1-13 15.2-21.5 10.1-15.9 15.1-28.4 5.1-8.8 5-7.4 5.1-5.8 5.1-3.8 5-1.9 5.1-.2 5 .9 5.1 .3 10.1-.2 15.1 1 10.2 1.9 10.1 2.7 5 2 10.1 5.8 10.1 8.1 10.2 10 10.1 12.4 10.1 15.4 10.1 17.7 10.1 18.8 11.7 24.2 5 11.5 4.9 13.6 16.5 54 4.9 14.9 5 12.1 4.9 9.4 3.3 4.8 5 5.7 4.9 4.2 4.9 3.2 8.3 3.4 13.1 3.2 8.6 2.6M64.9 330.7l30.4-7.2 25.2-7.2 25.3-8.4 20.2-7.8 20.3-8.9 20.2-10.1 20.2-11.6 20.2-13.1 20.2-15 20.3-17.1 20.2-19.5 20.2-22.1 15.2-18.7 15.1-20.5 10.1-15.1 15.2-26.7 5.1-8.2 5-7.1 5.1-5.5 5-3.9 5.1-2.2 5-.8 20.2-1.1 5.1 .6 5.1 1.2 5 2 10.1 5.7 10.1 7.8 10.1 9.9 10.2 12.2 5 7.1 10.1 16.7 15.2 28.6 10.1 21.4 5 11.8 5.1 13.1 3.3 10.2 16.5 57 4.9 15.6 6.6 16.4 3.3 6.3 3.3 5.3 3.3 4.3 4.9 5.2 5 4 4.9 3.1 8.2 3.6 21.4 7.6 8.9 2.7M64.9 324.6l25.3-6.3 20.2-5.7 20.3-6.5 20.2-7.3 20.2-8.2 20.2-9.3 20.2-10.4 15.2-8.6 20.2-12.8 20.2-14.4 20.3-16.3 15.1-13.5 15.2-14.7 15.1-16.2 15.2-17.6 20.2-26.1 5.1-5.7 5-4.7 5.1-3.7 5.1-2.6 20.2-7.5 5-1.2 10.1-1.5 10.1 0 5.1 .8 5.1 1.5 10.1 3.9 10.1 5.8 5 3.8 5.1 4.3 10.1 10.1 10.1 12.4 5.1 7.5 10.1 17.1 15.1 28.7 10.1 21.7 5.1 12.2 6.6 18.8 16.5 54.3 4.9 14.1 3.3 7.8 4.9 9.1 5 6.5 4.9 4.4 6.2 3.7M64.9 317.1l20.3-5.4 20.2-5.9 20.2-6.7 20.2-7.4 20.2-8.2 15.2-6.8 20.2-10 15.2-8.2 20.2-12 20.2-13.5 20.2-14.9 20.3-16.7 20.2-18.5 15.1-15.3 15.2-16.8 15.2-19.3 5-5.9 5.1-5 5-3.9 5.1-2.7 5.1-1.3 10.1 .3 20.2-.5 10.1 .3 10.1 1.7 5.1 1.5 10.1 3.4 5 2.5 5.1 3.2 10.1 8.1 10.1 10.6 5.1 6.5 10.1 15.2 10.1 17 10.1 19.2 5 10.7 5.1 12 5 14.3 19.9 65.5 5 13.2 4.9 10.3 3.3 5.4 3.3 4.3 3.3 3.5 4.9 4 5 2.9 4.9 2.1 9.4 2.4M117.2 352.3l28.6-4.7 25.3-5.6 20.2-5.9 20.2-7.5 10.1-4.5 10.1-5.1 15.2-8.8 10.1-6.7 10.1-7.7 15.2-13.3 15.2-16 10.1-12.3 10.1-13.9 10.1-15.6 10.1-17.6 5.1-9.6 10.1-21.2 5-12.8 15.2-42.3 5-12.1 5.1-9.7 5.1-6.6 5-3.4 5.1-.5 10.1 2.8 10.1-.2 5 .4 5.1 1 5 1.5 5.1 2.1 10.1 5.3 10.1 6.4 10.1 8.7 10.1 10.7 10.2 12 10.1 14 15.1 25.3 15.2 27.7 10.1 21.1 3.3 7.4 3.3 8.8 21.4 66.4 4.9 11.9 3.3 6.4 3.3 5.2 3.3 4.1 3.3 3.3 5 3.9 3.2 2.1 5 2.3 4.9 1.5 7.1 1.3M64.9 302.9l20.3-6.1 20.2-6.7 20.2-7.3 20.2-8.1 20.2-8.9 20.3-9.7 20.2-10.8 15.1-8.7 20.3-12.7 20.2-14 20.2-15.3 20.2-16.9 20.2-18.5 15.2-15.1 15.2-16.3 20.2-24.5 5-5.3 5.1-4.4 5.1-3.3 5-2.1 5.1-1.2 20.2-2.3 10.1 .1 10.1 1.7 10.1 3.3 5.1 2.2 5 2.7 5.1 3.7 10.1 9.2 10.1 11.3 10.1 14 5.1 8.3 10.1 18 10.1 19.1 10.1 20.8 5 11.4 6.7 17.8 16.5 54.4 5 15.2 6.5 16.2 3.3 6.3 3.3 5.1 3.3 4.2 5 5 4.9 3.8 4.9 3 8.3 3.4 24 7.4M114.2 352.3l26.6-4.3 20.2-4.3 20.2-5.4 20.2-6.9 20.2-8.8 15.2-8.1 15.2-9.7 15.1-11.5 15.2-13.9 15.2-16.5 15.1-19.8 10.1-15.3 5.1-8.4 10.1-18.3 10.1-20.8 5.1-12.5 15.1-40.8 5.1-11.8 5-9.7 5.1-7 5.1-4.4 5-2.2 5.1-1 5-1.7 10.1-5 10.1-3.3 5.1-.8 5-.1 5.1 .8 5.1 1.6 5 2.5 10.1 7 10.1 8.9 10.1 11.3 5.1 6.5 5.1 7.2 10.1 16.9 20.2 39.2 10.1 21.9 5 12.2 5.1 14.3 16.5 54.8 4.9 15 4.9 12.3 3.3 6.6 3.3 5.5 3.3 4.4 5 5.1 4.9 3.9 5 2.9 8.2 3.3 27.6 8.2M64.9 336.6l30.4-6.5 25.2-6.5 25.3-7.8 25.3-9.3 25.3-11 20.2-10.4 20.2-12 20.2-13.7 20.2-15.9 15.2-13.5 15.2-14.9 15.1-16.6 10.1-12.1 10.2-13 15.1-21.3 10.1-15.8 15.2-28.5 5.1-8.5 5-7 5.1-4.9 5-2.9 5.1-.8 5 .7 5.1 1.5 10.1 2.3 5 1.7 5.1 2.3 5.1 3 10.1 7.1 5 4.3 10.1 10.6 10.1 12.2 10.2 14.4 10.1 16.7 15.1 27.1 10.1 19.9 5.1 11.1 5 13 18.3 58.8 4.9 14.4 5 11.7 4.9 9 3.3 4.6 4.9 5.4 5 4.1 4.9 3 8.2 3.5 22.9 6.2M64.9 342.3l30.4-5.8 25.2-6 25.3-7.2 20.2-6.9 20.3-8.2 20.2-9.5 20.2-11.1 20.2-13 20.2-15.2 15.2-13.2 10.1-9.6 10.1-10.4 15.2-17.3 15.1-19.4 10.2-14.3 10.1-16 15.1-27.7 5.1-8.3 5-7.1 5.1-5.6 5.1-4 5-2.7 10.1-3.6 10.1-4.7 5.1-1.9 5-1.4 5.1-.6 5 .4 5.1 1.3 5.1 2.2 5 3 5.1 3.9 10.1 9.1 10.1 11.1 10.1 13.9 5.1 8.2 10.1 18.2 10.1 19.4 10.1 21.1 5 11.4 5.1 12.8 23.3 74.8 6.6 15.9 3.3 6.1 3.2 5 3.3 4 5 4.6 3.3 2.5 4.9 2.9 8.3 3.2 21.6 5.7M160.6 352.3l20.6-4.2 15.2-4.1 15.1-5.1 15.2-6.5 15.2-8.1 10.1-6.5 15.1-11.9 10.1-9.6 10.2-11.1 5-6.2 10.1-14 10.1-16.3 10.1-19 10.1-22.1 5.1-13.1 20.2-64.3 5.1-13.2 5-10 5.1-6.6 5-3.2 5.1-.7 5.1 .4 5-1.2 5.1-2 10.1-2.9 10.1-1.8 5-.4 5.1 0 5 .6 5.1 1.2 10.1 3.5 5.1 2.4 5 2.9 5.1 3.8 10.1 9.3 10.1 11.5 5.1 6.7 10.1 15.8 15.1 27.8 10.1 20 10.1 22.3 6.7 17.9 16.5 54 5 15 4.9 12.3 4.9 9.6 3.3 4.9 5 5.6 4.9 4.2 5 3.2 4.9 2.3 4.9 1.7 21.1 5.2M88.7 352.3l26.8-3.9 25.3-4.8 25.2-6.4 20.3-6.5 20.2-8.1 20.2-10.1 10.1-5.9 10.1-6.5 15.2-11.4 15.1-13.3 15.2-15.7 15.2-18.5 15.1-21.7 10.1-16.6 10.2-18.5 5-10.4 5.1-11.8 15.1-37 5.1-10.3 5-8.3 5.1-5.9 5.1-3.5 5-1.5 5.1-.5 10.1-3.1 5-1 5.1-.5 5 .2 5.1 .9 5 1.6 5.1 2.6 5.1 3.4 10.1 8.2 10.1 9.5 10.1 10.6 10.1 12.2 10.1 14.8 15.2 25.5 10.1 18.7 10.1 21.4 5 13.1 21.6 68.8 4.9 12.6 4.9 9.8 3.3 5 5 5.9 4.9 4.4 5 3.3 4.9 2.4 4.9 1.8 19.9 5M64.9 351l30.4-4.5 25.2-4.9 25.3-6.2 25.3-8.1 20.2-7.9 20.2-9.8 10.1-5.6 10.1-6.2 15.2-10.6 10.1-7.9 10.1-8.8 15.2-14.9 10.1-11.3 10.1-12.4 15.2-21 15.1-24.5 10.2-18.4 5-10.5 15.2-36.2 5-10.9 5.1-9.3 5-7.2 5.1-4.9 5.1-2.8 5-1.1 5.1-.6 20.2-4.9 10.1-1 5 .1 5.1 .7 5.1 1.3 10.1 4.2 5 3 10.1 8.4 10.1 10.3 10.2 11.5 10.1 12.6 10.1 14.7 15.1 24 10.1 17.9 8.4 17.1 3.3 7.8 3.3 9.4 16.4 53.7 5 14.9 4.9 12.5 6.6 12.7 5 7.1 4.9 5.7 4.9 4.6 6.6 4.9 8.3 4.3 26.5 10.3M64.9 256.3l25.3-8.6 20.2-7.5 40.5-16.4 20.2-9 20.2-9.6 20.2-10.1 20.2-10.9 35.4-20.6 20.3-12.9 15.1-10.2 20.2-14.3 25.3-19 20.2-16.7 10.1-7.8 5.1-3.3 10.1-5.7 5.1-2.4 5-1.7 15.2-4.9 10.1-2.7 5-1.1 10.2-1.2 5 .1 5.1 .6 5 1.3 5.1 2.1 5 2.9 5.1 3.5 5 4.2 5.1 5 10.1 12.1 5.1 7.1 5 8 10.1 18.4 10.1 20.5 10.1 21.8 6.7 15.6 5 12.9 6.6 20.4 14.8 53 4.9 16.4 6.6 17.7 3.3 6.9 5 8.3 4.9 6.2 4.9 5 5 3.8 4.9 3.1 14.8 6.5 14.9 5.4 12.3 3.8M64.9 267l40.5-14.4 35.4-14.3 35.3-16.1 35.4-18.2 25.3-14.5 20.2-12.5 25.3-16.8 20.2-14.6 20.2-15.6 15.2-12.5 20.2-17.7 20.2-19.4 10.2-8 5-3.1 5.1-2.5 5-1.5 20.2-5.2 10.1-1.5 10.2-.1 5 1 5.1 1.5 5 2 10.1 6.3 10.1 8.5 10.2 11.3 5 6.7 5.1 7.7 10.1 17.8 15.1 30.3 10.1 23 5.1 12.9 4.9 15.2 18.2 65.7 4.9 16 6.6 17 3.3 6.6 4.9 7.9 3.3 4.4 5 5.2 4.9 4.2 6.6 4.3 21.4 10.2 9.9 3.7 14.5 4.4M64.9 338.2l30.4-6.5 25.2-6.7 25.3-8.1 20.2-7.6 20.3-8.9 20.2-10.3 20.2-12 20.2-14 20.2-16.2 10.1-9.1 10.2-9.7 10.1-10.6 10.1-11.4 15.1-18.7 15.2-21 15.2-23.5 10.1-18.1 15.1-30 5.1-8.4 5.1-7 5-5.4 5.1-3.5 5-2.1 20.2-4.7 5.1-.4 5 .5 5.1 1.3 5.1 2.1 5 2.9 10.1 8 10.1 9.7 10.1 11.8 5.1 6.8 10.1 16 10.1 18.4 10.1 19.5 10.1 21.6 5.1 12.1 5 13.5 19.9 68.7 5 15.3 6.5 16 3.3 6.2 3.3 5.1 3.3 4.3 5 5.3 4.9 4.2 5 3.2 6.5 3.2 21.4 8.4 12 3.9M64.9 311.5l25.3-7.3 25.3-8.4 25.3-9.5 25.2-10.8 25.3-12.3 20.2-11.1 20.2-12.3 20.3-13.6 20.2-15.2 15.2-12.4 15.1-13.5 15.2-14.5 20.2-21.3 20.2-23.6 15.2-19.6 15.2-23.2 5-7 5.1-5.8 5-3.9 5.1-2.1 5-.4 5.1 1 20.2 6.2 5.1 2 10.1 5.2 5 3.1 10.1 8 10.1 9.8 10.2 11.6 10.1 13.9 10.1 16.8 15.1 28.3 10.1 20.8 5.1 11.3 4.9 12.2 3.3 9.6 21.4 71.3 5 12.9 3.3 7.1 3.3 5.9 3.3 4.8 4.9 5.7 4.9 4.4 5 3.4 4.9 2.5 5 2 27.4 8.8M140.2 352.3l20.8-3.8 20.2-4.8 20.2-6.4 15.2-6.1 15.1-7.5 15.2-9.2 15.2-11.2 15.1-13.8 10.2-11 5-6 10.1-13.4 10.1-15.4 5.1-8.5 10.1-18.9 10.1-21.7 5.1-12.1 5-14.4 15.2-48.7 5-14 5.1-11.3 5-7.9 5.1-4.4 5.1-1.3 10.1 1.3 10.1-2.9 10.1-1.6 5 0 5.1 .8 5 1.5 5.1 2.2 5.1 2.8 5 3.6 10.1 9.1 10.1 11.6 10.1 13.8 5.1 8 10.1 18.2 10.1 19.6 20.2 41.9 5.1 12 5 14.7 15 48.6 4.9 14.7 6.6 15.4 3.3 5.9 3.3 4.8 3.3 3.8 4.9 4.6 5 3.4 4.9 2.6 6.6 2.5 14.8 4.1 15.1 4.8M64.9 338.1l30.4-6.6 25.2-6.8 25.3-8.2 20.2-7.8 20.3-9.1 20.2-10.5 20.2-12.3 20.2-14.3 15.2-12.3 15.1-13.7 15.2-15.4 15.2-17.2 10.1-12.6 10.1-13.7 15.2-22.5 5-8.3 15.2-29.6 5-8.9 5.1-7.4 5-5.6 5.1-3.4 5.1-1.5 5 .2 10.1 2 20.2-.5 10.1 .3 15.2 1.9 10.1 2.1 5.1 2.3 5 2.8 5.1 3.3 10.1 8.5 5.1 4.9 10.1 11.6 10.1 14.5 10.1 17.3 10.1 18.4 13.4 27.1 6.6 15.2 3.3 9.1 21.4 69.1 4.9 12.7 3.3 6.9 3.3 5.7 3.3 4.6 4.9 5.5 5 4.1 4.9 3 8.3 3.4 11.5 2.9 10 3M64.9 272.3l25.3-8.4 20.2-7.3 20.3-7.8 20.2-8.4 20.2-9 20.2-9.6 20.2-10.4 20.2-11.1 20.3-11.9 15.1-9.5 30.4-20.5 20.2-15 15.1-11.9 15.2-12.4 20.2-17.9 5.1-3.8 10.1-5.9 15.2-6 15.1-3.5 10.1-1.3 5.1-.3 10.1 .8 10.1 2.7 10.1 4.6 10.1 7.1 5.1 4.5 10.1 10.6 5.1 6.1 5 6.8 10.1 16.3 10.1 18.6 10.1 19.8 10.1 21.7 6.7 16.1 5 14.5 19.7 65.7 6.6 16.8 3.3 6.6 3.3 5.3 3.3 4.3 5 5.1 4.9 3.9 4.9 2.9 8.3 3.2 26.4 7.9M64.9 257.4l45.5-13.7 45.5-15.6 45.5-17.5 40.5-17.5 40.4-19.5 35.4-18.9 45.5-26.5 25.3-17.5 10.1-5.6 15.1-4.8 15.2-3.5 10.1-1.3 5.1-.2 10.1-.1 5 .5 5.1 1.3 5 1.7 5.1 2.4 10.1 6.5 10.1 8.8 5.1 5.5 5 6.4 10.1 15.7 5.1 9 10.1 19.8 5 10.7 8.4 19.1 4.9 12.6 5 15.2 14.8 51.5 4.9 16 6.6 17 3.3 6.7 3.3 5.4 3.3 4.5 4.9 5.3 3.3 2.9 5 3.3 8.2 3.8 11.5 2.9 8.4 2.6M129.6 352.3l26.3-4.6 20.2-4.8 20.3-6.1 20.2-7.9 10.1-4.8 10.1-5.5 15.2-9.6 15.1-11.7 15.2-14.1 15.2-17.1 10.1-13.4 5-7.3 10.1-16.3 5.1-8.9 10.1-19.6 10.1-22.4 5.1-12.6 5-14.8 15.2-47.8 5-13.3 5.1-10.7 5.1-7.6 5-4.8 15.2-7.2 5-3.7 5.1-3.1 5-2.3 5.1-1.5 5-.2 5.1 1 5.1 2.1 5 4 15.2 16.5 10.1 12.6 5 7.5 5.1 8.5 10.1 19.2 15.2 31.2 10.1 23.4 5 13.4 5.1 16.1 20 70.6 6.6 17.9 3.3 7.1 4.9 8.6 4.9 6.7 5 5.5 4.9 4.4 6.6 4.7 26.4 13.6 9.8 4.6 15.2 4.5M64.9 295.1l25.3-7.7 20.2-6.8 20.3-7.4 20.2-8 20.2-8.8 20.2-9.5 20.2-10.4 20.2-11.3 20.3-12.3 20.2-13.4 20.2-14.6 20.2-15.8 15.2-12.8 15.2-13.7 15.1-14.6 20.2-21.3 10.2-8.8 5-3.4 5.1-2.7 5-2.5 5.1-1.9 10.1-2.8 5-.7 5.1 .1 5 .9 5.1 1.9 5.1 2.9 5 3.9 5.1 4.8 15.1 15.8 10.1 11.5 10.2 12.9 15.1 22.5 10.1 16.3 10.1 18.8 5.1 11 5 13.1 18.3 60.6 4.9 15 6.6 15.8 3.3 6 3.3 5 3.3 4.2 4.9 5 5 3.9 4.9 3 8.2 3.5 29.3 10M101.8 352.3l23.8-3.5 25.3-4.8 20.2-5 20.2-6.1 20.2-7.8 15.2-7 10.1-5.4 10.1-6 15.2-10.4 15.1-12.2 15.2-14.5 15.2-17 15.1-20.2 15.2-23.8 10.1-19.5 15.2-31.8 5-9.5 5.1-8.2 5-6.6 5.1-4.9 5.1-3.5 5-2.7 15.2-11 5-3 5.1-2.4 10.1-3.3 5-1 5.1-.3 10.1 1.3 5.1 1.5 10.1 4.7 5 3.2 5.1 3.8 10.1 9.2 10.1 11.2 5.1 6.6 10.1 15.5 15.1 26.8 10.1 19.6 10 21.8 6.6 18.2 18.1 58.1 6.6 16.7 5 9.2 3.3 4.7 4.9 5.5 3.3 2.8 4.9 3.4 5 2.4 4.9 1.6 17 3.6M64.9 256.6l45.5-14.8 25.3-9.2 20.2-7.7 40.5-17 40.4-19.1 25.3-13 20.2-11.2 20.2-11.8 20.2-12.5 20.3-13.3 25.2-17.3 25.3-19.4 10.1-7 5.1-2.9 10.1-4.5 5-1.5 5.1-.8 5 0 5.1 1 5.1 1.8 5 2.7 5.1 3.5 10.1 8.6 10.1 10.8 5 6.4 5.1 7.1 10.1 17 10.1 19.2 10.1 20.4 10.1 22.6 5.1 12.5 5 14.7 16.6 57.1 5 15.7 6.6 16.6 3.2 6.5 3.3 5.2 3.3 4.4 5 5.2 4.9 4 5 3.1 8.2 3.6 27.5 9M83 352.3l27.4-4 25.3-5 25.3-6.5 20.2-6.7 20.2-8.4 10.1-4.9 10.1-5.4 10.1-6.1 10.2-6.9 15.1-11.7 10.1-9 10.1-10 15.2-17.3 15.2-20.3 15.1-24 15.2-28.3 10.1-21.7 5.1-12.4 15.1-44 5.1-13.4 5-11.2 5.1-8.6 5.1-5.6 5-2.9 5.1-.7 5 .4 5.1-.9 10.1-3.3 5-1.2 10.1-.9 10.2 .8 5 1.3 5.1 2 5 2.5 10.1 7.3 10.1 9.5 10.2 12.2 5 7.1 10.1 17.1 10.1 19.7 10.1 21.7 10.1 23.9 5.1 13.3 4.9 15.2 16.5 60.3 6.6 21.9 6.6 17 3.3 6.6 4.9 7.9 3.3 4.3 5 5.1 4.9 4.1 6.6 4.1 21.4 9.3 9.9 3.5 10.6 3.2M64.9 250.9l45.5-13.8 45.5-15.6 40.5-15.4 40.4-17 40.4-18.9 35.4-18.3 20.2-11.1 30.4-17.7 25.3-16 10.1-4.8 15.1-3.4 15.2-2 10.1-.1 15.2 1.6 5 1.3 5.1 1.9 5 2.5 5.1 3 5 3.8 10.2 9 5 5.4 5.1 6.3 5 7.3 10.1 17.1 15.2 29.9 10.1 22.7 6.6 16.2 4.9 14.8 14.8 50.2 5 15.4 4.9 12.7 3.3 6.9 3.3 5.6 3.3 4.4 5 5.2 3.2 2.7 5 3.2 8.2 3.2 16.4 3.2M64.9 335.4l25.3-5.7 20.2-5.3 25.3-7.8 20.2-7.4 20.2-8.5 20.3-9.8 20.2-11.3 15.1-9.7 20.3-14.6 20.2-16.9 10.1-9.4 10.1-10.1 15.2-16.5 10.1-12.1 10.1-13 15.2-21.4 10.1-16.4 15.1-27.3 5.1-7.5 5-6 5.1-4.3 5.1-2.7 5-1.3 10.1-.8 35.4-8.5 10.1-.8 5.1 .2 5 .8 5.1 1.7 5 2.3 5.1 2.9 5 3.7 5.1 4.3 10.1 10.7 5.1 6.3 5 7.1 10.1 16.7 10.1 18.7 10.1 20.1 8.4 18.3 4.9 12.2 6.6 19.6 14.8 51.3 5 15.8 6.6 16.9 3.3 6.5 4.9 7.7 3.3 4 4.9 4.9 5 3.7 4.9 2.9 9.9 3.9 27.2 8.8M64.9 317.1l25.3-6.8 20.2-6.1 25.3-8.6 20.2-7.8 20.2-8.6 20.3-9.7 20.2-10.7 20.2-12 20.2-13.3 20.2-14.8 20.3-16.5 20.2-18.4 15.1-15.2 15.2-16.4 15.2-18.1 20.2-26.5 5.1-5.5 5-4.6 5.1-3.6 5-2.6 5.1-1.8 15.1-4.7 10.1-1.9 5.1-.2 5.1 .4 5 1 5.1 1.6 10.1 4.8 10.1 7.2 5 4.4 10.2 10.5 10.1 12.8 5 7.6 10.1 17.2 10.1 18.5 10.1 20 6.7 14.6 5 12 3.3 9.5 18.1 60.2 4.9 14.6 6.6 15.2 3.3 5.8 3.3 4.8 3.3 4 4.9 4.8 5 3.8 4.9 2.9 6.6 2.8 25.9 8.6M64.9 347.2l30.4-5 25.2-5.3 25.3-6.5 25.3-8.2 20.2-7.9 20.2-9.5 20.2-11.2 20.3-13.4 10.1-7.6 10.1-8.3 10.1-9.1 10.1-9.9 10.1-10.8 10.1-11.7 15.2-19.7 15.2-22.5 15.1-25.5 5.1-9.7 20.2-43.8 5.1-9.1 5-7.3 5.1-5.3 5-2.7 5.1-1.2 5-.2 5.1-1 10.1-2.6 5-.7 10.2-.3 5 .4 10.1 2.6 5.1 2.2 5 2.9 10.1 7.3 10.2 9.8 10.1 12 5 6.9 10.1 16.2 10.1 18.6 10.1 19.7 6.7 14 6.6 15 5 12.5 3.3 9.8 16.4 56.4 6.6 20.3 6.6 15.5 3.3 5.9 3.3 4.9 3.3 4 4.9 4.8 5 3.8 4.9 2.9 9.9 4.1 26.5 8.6M153.9 352.3l27.3-5.1 20.2-5.2 20.2-6.7 10.1-4.2 10.2-4.7 15.1-8.4 15.2-10.3 15.2-12.5 15.1-15.4 10.1-12.1 5.1-6.7 10.1-14.9 10.1-16.9 10.1-19.5 10.1-22.2 10.1-25.7 5.1-16.3 15.2-52.8 5-14.1 5.1-10.5 5-6.6 5.1-2.3 5 1.1 10.1 5.7 5.1 .8 5 1.4 5.1 2.4 5.1 3.1 5 4 5.1 5 15.1 16.2 10.1 13.1 5.1 7.8 20.2 35.5 10.1 19.6 5.1 10.8 5 12.1 5.1 14.9 16.7 58 6.6 20.5 6.6 15.7 3.3 6.1 4.9 7.5 3.3 4 4.9 5.1 5 4.1 4.9 3.1 6.6 3.2 18.1 7.5 13.6 4.8M64.9 234.9l50.6-14.8 45.5-14.7 45.5-16.2 45.5-17.9 25.2-10.7 25.3-11.3 25.3-11.9 30.3-15.2 10.1-4.6 10.1-5.4 25.3-16.5 10.1-4.8 10.1-3.1 10.1-1.9 5.1-.3 10.1 1 5.1 1.3 5 1.8 5.1 2.5 10.1 6.7 10.1 9 10.1 11 5.1 6.4 5 7.1 10.1 16.3 15.2 27.7 10.1 20.8 6.6 15.1 6.6 18.8 19.7 65.7 6.6 16.6 3.3 6.5 3.3 5.3 3.3 4.3 4.9 5.2 5 4 4.9 3 6.6 2.8 25.3 7.8M64.9 351.9l30.4-4.2 25.2-4.6 25.3-5.9 25.3-7.6 15.2-5.5 10.1-4.2 20.2-9.7 10.1-5.7 10.1-6.2 15.2-10.6 10.1-8 10.1-8.8 15.2-15 10.1-11.3 10.1-12.5 15.1-21.3 15.2-24.7 10.1-18.7 5.1-10.8 15.1-36 5.1-10.8 5-9 5.1-6.9 5.1-4.8 5-2.9 10.1-3.1 10.1-4.8 5.1-1.9 5-1.4 5.1-.9 5-.2 5.1 .6 5.1 1.3 5 2.1 10.1 6.3 10.1 8.4 10.1 10.7 5.1 6.1 10.1 14.5 5.1 8.5 10.1 18.4 10.1 19.7 10.1 21.4 5 11.8 6.7 18.4 16.5 56.1 5 15.6 6.5 16.7 3.3 6.5 3.3 5.3 3.3 4.4 5 5.2 4.9 4.1 4.9 3.1 8.3 3.7 28.7 9.5M123.6 352.3l27.3-4.7 20.2-4.7 20.2-6 20.2-7.8 15.2-7.2 15.2-8.8 15.1-10.5 15.2-12.8 15.2-15.4 15.1-18.7 10.1-14.5 5.1-8 10.1-17.5 10.1-20 10.1-22.5 5.1-13.4 15.1-46.6 5.1-14.2 5-11.9 5.1-9 5.1-5.9 5-3.4 10.1-2.9 15.2-8.6 10.1-4 5-1.3 5.1-.8 5.1 0 5 1.2 5.1 2 10.1 5.5 5 3.5 5.1 4.1 5 4.8 5.1 5.5 5.1 6.4 5 7.2 10.1 17.5 10.1 20.2 10.1 21.7 10.1 23.1 5.1 12.7 6.6 19.6 16.5 59.1 4.9 16.4 6.6 17.7 3.3 6.9 4.9 8.4 5 6.5 4.9 5 4.9 4.1 6.6 4.1 21.4 10 9.9 3.6 14.2 4.3M64.9 307.6l20.3-6.2 20.2-6.8 20.2-7.6 20.2-8.4 20.2-9.3 15.2-7.6 20.2-11.2 15.2-9.2 20.2-13.4 20.2-14.9 20.2-16.4 20.3-18.3 15.1-15.1 15.2-16.2 15.2-17.6 20.2-26.4 10.1-10.9 5-4.3 5.1-3.4 5.1-2.5 10.1-4.3 10.1-3.1 15.1-3.2 5.1-.4 10.1 .2 5.1 .7 10.1 2.7 5 2.1 5.1 3.2 5 3.8 10.1 9.4 10.2 11.8 10.1 14.3 5 8.3 10.1 18.6 10.1 19.8 15.2 32.5 4.9 12.3 3.3 9.5 18.1 61.3 5 15.1 6.6 15.9 3.3 6.1 3.3 5 3.3 4.2 4.9 4.9 4.9 3.9 5 3 8.2 3.5 28.1 9.3M64.9 281.8l25.3-8 20.2-6.9 20.3-7.4 20.2-8 20.2-8.6 20.2-9.2 20.2-10 15.2-8 25.3-14.3 20.2-12.4 20.2-13.4 20.2-14.4 20.2-15.5 15.2-12.4 15.2-13.1 25.3-23.6 10.1-7.8 5-2.8 5.1-2.2 15.1-4.9 10.1-1.8 5.1-.1 5.1 .5 5 1.1 5.1 1.7 5 2.4 5.1 3.1 5 3.8 5.1 4.5 10.1 10.7 5.1 6.3 10.1 14.7 5 8.5 10.1 18.9 10.1 20.1 10.1 21.8 6.7 16 6.6 19.2 19.8 66.3 6.6 16.8 3.3 6.5 3.3 5.3 3.3 4.3 4.9 5.1 4.9 3.9 5 3 8.2 3.2 25.2 7.6M64.9 290.3l25.3-7.5 20.2-6.6 20.3-7.1 20.2-7.7 20.2-8.3 20.2-8.9 20.2-9.7 15.2-7.8 25.3-14 20.2-12.3 20.2-13.2 20.2-14.4 20.2-15.4 15.2-12.5 15.2-13.1 25.3-23.8 5-3.8 5.1-3.2 5-2.3 5.1-1.5 15.1-3.1 10.1-.9 5.1 .3 10.1 1.9 5.1 1.6 5 2.1 5.1 2.8 5 3.4 5.1 4 10.1 9.8 10.1 12 10.1 15.1 10.1 17.9 15.2 29.2 10.1 21.9 4.9 11.8 3.3 9.3 16.5 53.9 4.9 15.1 5 12.3 4.9 9.6 3.3 4.8 5 5.6 4.9 4.2 4.9 3 8.3 3.2 19.1 4.3M78.4 352.3l32-4.5 25.3-4.6 25.3-6.1 25.3-7.8 15.1-5.8 10.1-4.4 20.2-10.1 10.2-5.9 10.1-6.6 15.1-11.2 15.2-13 15.2-15.3 15.1-17.7 15.2-20.7 15.2-24.1 10.1-18.2 5-10.3 15.2-37 5-11.3 5.1-9.3 5.1-6.8 5-4 5.1-1.2 5 1 5.1 1.7 5 .8 10.1-.1 10.1 1.2 5.1 1.2 15.2 4.8 5 2.2 10.1 6.7 10.1 8.8 10.2 11.2 5 6.8 10.1 16.6 15.2 29.2 10.1 21.7 5 11.8 6.7 17.8 16.5 53.6 5 15 3.2 8.5 5 10.3 3.3 5.4 3.3 4.3 4.9 4.8 5 3.4 4.9 2.6 4.9 1.8 15.2 2.8M69.1 352.3l31.2-4.4 30.4-5.9 25.2-6.5 15.2-4.8 10.1-3.6 15.2-6.2 10.1-4.8 10.1-5.2 10.1-5.8 10.1-6.5 10.1-7.1 15.2-12.3 15.1-14.2 15.2-16.8 15.2-19.5 15.1-22.8 15.2-26.7 10.1-20.2 5.1-11.4 15.1-41.4 5.1-12.8 5-10.6 5.1-7.8 5.1-4.7 5-1.8 5.1 .4 5 1.8 5.1 .8 10.1-.5 5 .3 5.1 .9 5 1.3 10.2 3.8 10.1 5.8 5 3.9 5.1 4.9 10.1 11.6 10.1 14.2 10.1 17.7 15.2 30.4 15.1 33.9 5.1 12.7 5 14.6 16.6 56.9 5 15.4 4.9 12.6 4.9 9.7 3.3 4.9 5 5.8 4.9 4.2 5 3.2 8.2 3.4 18.1 4.6 14.5 4.6M74 352.3l31.4-4.4 25.3-4.6 25.2-6.1 25.3-7.8 20.2-7.8 20.2-9.7 10.1-5.6 10.2-6.2 15.1-10.6 10.1-8 10.1-8.9 15.2-15.2 15.2-17.7 15.1-20.6 15.2-24.1 10.1-18.2 5.1-9.9 5-11.4 15.2-37.6 5-10.7 5.1-8.7 5.1-6.2 5-3.7 5.1-1.4 10.1 .2 10.1-2 10.1-.7 5 .5 5.1 1.2 5.1 1.9 5 2.6 10.1 7 10.1 9 10.1 11.1 10.2 13.3 5 7.8 10.1 17.5 15.2 28.3 10.1 20.2 5 11.3 6.7 18.1 19.8 63.5 6.6 16.2 3.3 6.2 3.3 5.1 3.3 4.2 4.9 4.8 5 3.7 4.9 2.8 6.6 2.5 13.2 3.7 16.4 5.1M64.9 274.3l45.5-13.7 25.3-8.5 20.2-7.3 25.3-9.9 20.2-8.4 20.2-9 20.3-9.6 35.3-18.3 35.4-20.4 20.2-12.8 20.3-13.5 35.4-25.5 10.1-5.7 15.1-4.7 15.2-3.5 10.1-.9 15.2 .6 5 1 5.1 1.9 5 2.6 5.1 3.3 5 3.9 10.2 9.7 5 5.7 10.1 13.6 5.1 8.1 15.1 27.4 10.1 19.5 10 20.7 5 11.4 4.9 13.6 19.8 62.1 4.9 12.2 3.3 6.5 3.3 5.3 3.3 4.2 3.3 3.4 4.9 3.8 5 2.8 6.6 2.3 19.8 4.1M64.9 283.5l25.3-8.2 20.2-7.2 25.3-9.7 20.2-8.6 20.2-9.2 20.3-9.9 20.2-10.8 20.2-11.7 25.3-15.8 20.2-13.9 20.2-15 20.2-16.1 20.3-17.5 15.1-14.1 15.2-15 20.2-21.6 10.1-9.3 5.1-3.7 5-2.9 5.1-2.1 10.1-2.8 5-.4 5.1 .5 5.1 1.5 5 2.6 5.1 3.7 10.1 8.6 10.1 10.6 5 6.4 5.1 7.3 5.1 8.5 10.1 19 15.1 31.6 10.1 24 5.1 13.4 5 16.3 15 53.6 4.9 16.4 6.6 17.6 3.3 6.9 4.9 8.3 5 6.4 4.9 5.1 5 4.2 4.9 3.2 6.6 3.3 24.7 10.9 13.9 4.4M126.6 352.3l24.3-4 20.2-4.3 20.2-5.6 20.2-7 15.2-6.6 15.2-7.9 15.1-9.5 15.2-11.4 15.2-13.7 10.1-10.6 15.1-18.6 10.1-14.5 10.1-16.3 10.2-18.9 15.1-34.7 10.1-21.1 5.1-8.5 5-6.7 5.1-4.8 5.1-3.3 5-2.5 5.1-3.5 10.1-8.4 5-3.4 5.1-2.8 10.1-4.2 5-1.4 5.1-.8 5.1 0 5 .6 5.1 1.4 10.1 4.4 5 3.1 5.1 3.7 10.1 9.5 5.1 5.7 5 6.5 10.1 15.8 10.1 18.4 15.2 30.1 10.1 22.6 6.6 17.3 16.5 53.8 4.9 14.9 4.9 12.3 5 9.5 3.3 4.9 4.9 5.6 5 4.2 4.9 3.2 4.9 2.2 5 1.6 17.2 3.7M64.9 340l30.4-6 25.2-6.2 25.3-7.4 20.2-7 20.3-8.1 20.2-9.4 20.2-11 20.2-12.7 20.2-14.8 15.2-12.6 15.2-14.1 15.1-15.8 10.1-11.5 10.1-12.5 15.2-20.4 5.1-7.7 15.1-26.3 5.1-7.9 5-6.5 5.1-4.8 5.1-2.8 5-1 5.1 .4 5 1.4 5.1 .6 15.1 .7 30.4-.7 5 .3 5.1 .8 5 1.3 5.1 1.9 5 2.5 5.1 3.2 5.1 3.7 5 4.6 5.1 5.3 5 6.3 10.1 15.4 15.2 26 11.7 23.4 5 11.2 4.9 13.5 16.5 53.5 4.9 14.7 5 11.9 4.9 9.2 3.3 4.8 5 5.5 4.9 4.2 4.9 3.1 8.3 3.5 14.8 3.8 9 2.8M64.9 263.3l45.5-13.8 45.5-15.8 25.3-9.6 20.2-8.3 40.5-17.9 20.2-9.8 20.2-10.4 35.4-19.6 40.4-24.5 10.1-6.7 20.3-14.7 10.1-5.4 15.1-4.2 15.2-2.3 10.1-.3 15.2 1.7 5 1.2 5.1 1.9 5 2.4 10.1 6.6 10.2 8.6 10.1 10.8 5 6.5 5.1 7.4 10.1 16.6 15.1 28 8.4 17.2 4.9 11.4 5 14 19.7 64.6 6.6 16.8 3.3 6.6 3.3 5.4 3.3 4.5 4.9 5.4 3.3 2.8 5 3.4 8.2 3.8 17.9 4.7M64.9 322.1l25.3-6.6 20.2-6.1 25.3-8.6 20.2-7.8 20.2-8.9 20.3-9.9 20.2-11.2 20.2-12.6 20.2-14.1 20.2-15.9 20.3-17.9 20.2-20.2 15.1-16.7 15.2-18.2 10.1-13.2 20.2-30 5.1-6.8 5.1-5.9 5-4.9 5.1-3.8 5-2.7 20.2-7.7 10.1-2.8 5.1-.8 5.1-.2 5 .4 5.1 1.1 10.1 3.8 10.1 5.9 5 3.8 10.2 9.4 10.1 12.1 5 7.3 10.1 17.1 15.2 30 10.1 23 3.3 8.5 6.6 19.3 18.1 65.1 4.9 15.9 6.6 16.7 3.3 6.5 5 7.7 3.3 4.1 4.9 5.1 4.9 4 5 3 4.9 2.4 11.5 4.5 20.7 7M64.9 291.3l25.3-7.7 20.2-6.8 20.3-7.4 20.2-8 20.2-8.6 20.2-9.4 20.2-10.2 20.2-11.1 20.3-12 20.2-13 20.2-14.1 15.2-11.4 20.2-16.2 25.3-21.6 10.1-9.9 10.1-10.7 10.1-9.5 10.1-7.9 10.1-7.1 10.1-5.5 10.1-3.8 5.1-1.2 5-.4 5.1 .4 5.1 1.3 5 2 5.1 2.9 10.1 7.3 5 4.5 10.1 10.9 5.1 6.4 5.1 7.3 10.1 17 10.1 19.3 10.1 20.4 10.1 22.4 5 12.5 5.1 14.9 19.8 66.9 6.5 17.4 3.3 6.8 3.3 5.5 3.3 4.5 5 5.4 4.9 4 5 3.1 8.2 3.4 26.9 8M64.9 236.7l45.5-16.5 25.3-10.1 20.2-8.6 40.5-18.6 20.2-10.1 20.2-10.7 20.2-11.2 20.2-11.9 35.4-22.4 45.5-31.7 25.3-20.2 10.1-6.9 5.1-2.8 10.1-3.8 10.1-2.6 5-.5 5.1 0 10.1 1.4 5.1 1.4 10.1 4.7 5 3.3 10.1 9 10.1 11.2 10.2 13.3 5 7.6 10.1 17.6 10.1 19.7 10.1 21.2 10.1 23.3 5.1 13 4.9 15.3 16.5 59.1 4.9 16.2 6.6 17.3 3.3 6.8 5 8.1 3.3 4.3 4.9 5.3 4.9 4.1 6.6 4.2 23.1 10.2 9.9 3.5 10.5 3.1M64.9 338.4l25.3-5.3 25.3-6.4 25.3-7.7 20.2-7.4 20.2-8.4 20.2-9.9 20.2-11.5 15.2-9.8 20.2-14.9 20.2-17.4 10.2-9.7 10.1-10.4 15.1-17.3 15.2-19.3 15.2-21.6 10.1-16.2 15.1-28.1 5.1-8.6 5-7.5 5.1-5.9 5.1-4.4 5-2.8 5.1-1.5 5-.6 10.1-2.5 10.1-1.8 15.2-1.2 10.1 .7 10.1 2.1 10.1 4.5 5.1 3.1 5 3.6 10.2 9 10.1 11.1 5 6.5 10.1 15.2 10.1 17.8 15.2 29.1 9.9 21.4 4.9 12.2 3.3 9.6 16.5 55.4 4.9 15.4 5 12.7 4.9 9.9 3.3 5.2 4.9 6.1 5 4.6 6.6 4.5 8.2 3.7 27.1 8.6M64.9 344.9l30.4-5.3 25.2-5.5 25.3-6.8 20.2-6.5 20.3-7.7 20.2-9.1 20.2-10.6 15.2-9.2 20.2-14.2 10.1-8 10.1-8.7 10.1-9.4 10.1-10.3 15.2-17 15.1-19.2 15.2-21.8 10.1-16.9 15.2-28.2 5-8.1 5.1-6.8 5.1-5 5-3.2 5.1-1.5 10.1-.9 10.1-2.1 5-.7 10.1-.3 10.2 1.4 10.1 2.5 5 2 5.1 2.7 5 3.3 5.1 3.8 10.1 9.4 10.1 11.3 5.1 6.6 10.1 15.8 15.1 27.2 10.1 19.9 10 22 6.6 18.1 18.1 57.8 5 12.8 4.9 10 3.3 5.1 3.3 4 5 4.7 4.9 3.3 4.9 2.4 5 1.6 15.9 2.7M144.4 352.3l26.7-4.8 20.2-4.9 20.2-6.4 10.1-3.9 10.1-4.4 15.2-7.9 15.2-9.5 15.1-11.6 15.2-14.1 10.1-11.1 10.1-12.6 10.1-14.4 10.1-16.4 10.2-18.7 10.1-21.4 5-13.2 15.2-44.3 5-12.6 5.1-10 5.1-6.7 5-3.3 5.1-.4 10.1 2.4 10.1-1.3 5-.1 5.1 .6 5 1.3 5.1 2 10.1 5.7 10.1 7.6 10.1 9.2 10.1 11.3 10.2 14 10.1 16.8 15.1 27.7 10.1 20.9 5.1 11.9 5 14.5 15 48.8 4.9 14.9 5 12.3 3.3 6.7 3.2 5.4 3.3 4.4 3.3 3.5 5 4 4.9 3 5 2.1 4.9 1.5 6.9 1.5M73 352.3l32.4-4.6 25.3-4.8 25.2-6.3 25.3-8.1 20.2-8.2 20.2-10.1 10.1-5.8 10.2-6.6 15.1-11.1 10.1-8.5 10.1-9.4 15.2-16.1 15.2-18.8 15.1-21.9 15.2-25.7 10.1-19.4 5.1-10.9 20.2-51.5 5-10.5 5.1-8.3 5.1-5.8 5-3.4 5.1-1.3 5-.4 5.1-1 10.1-3.3 5-1 5.1-.5 5 .2 5.1 .9 5.1 1.6 5 2.6 5.1 3.3 5 4 10.1 9.7 10.1 12.2 10.2 14.6 5 8.4 10.1 19 15.2 30.3 10.1 21.1 5 11.5 6.7 17.7 16.5 54.4 5 15.1 6.5 15.9 3.3 6.2 3.3 5 3.3 4 5 4.9 4.9 3.7 4.9 2.8 6.6 2.7 11.6 3.6 11.5 4.2 12.7 3.7M115.9 352.3l24.9-3.9 20.2-4.1 20.2-5.3 20.2-6.6 15.2-6.1 15.1-7.3 15.2-8.6 15.2-10.4 15.1-12.4 15.2-14.7 15.2-17.6 15.1-21 10.1-16.3 5.1-8.8 10.1-19.5 5.1-11.9 15.1-39.1 5.1-10.7 5-8.4 5.1-5.6 5.1-2.9 5-.5 10.1 1.5 15.2-3.8 10.1-2 10.1-.6 10.1 .9 5.1 1 5 1.6 5.1 2.5 5 3.2 5.1 3.9 5 4.5 10.2 10.9 5 6.5 10.1 15.8 10.1 17.9 10.1 19.1 10.1 21.3 5.1 12.2 3.3 9.1 21.4 68.6 4.9 12.5 5 9.6 3.3 5 4.9 5.7 5 4.1 4.9 3.2 4.9 2.3 5 1.5 17.1 3.7M64.9 253.1l45.5-14.8 45.5-16.9 40.5-16.8 40.4-18.8 25.3-12.9 20.2-11 25.3-14.6 20.2-12.5 40.4-26.3 10.1-7.6 25.3-21 10.1-6.6 10.1-4.6 5.1-1.5 5-.9 5.1-.1 5.1 .9 5 1.9 5.1 3 10.1 8.1 5 5.2 10.1 12.5 5.1 7.4 10.1 16.7 5.1 9.6 30.3 65.6 11.7 27.4 5 14 19.7 63.6 5 12.6 3.3 6.8 3.3 5.5 3.3 4.4 4.9 4.8 3.3 2.4 4.9 2.7 6.6 2.4 11.6 2.3 24.2 6.3M64.9 332.3l30.4-6.9 25.2-6.9 25.3-8 25.3-9.5 25.3-11.2 20.2-10.4 20.2-11.8 20.2-13.5 20.2-15.4 20.3-17.5 20.2-19.9 15.1-16.8 10.2-12.1 10.1-13 15.1-21.1 10.1-16 15.2-26.8 5.1-7.6 5-6.3 5.1-4.6 5-2.9 5.1-1.5 20.2-2.1 5.1 .4 5 1.5 5.1 2.2 5 3 5.1 3.7 5 4.4 10.1 10.8 5.1 6.5 10.1 15 5.1 8.6 25.2 47.8 10.1 20.3 5.1 11.3 6.6 18.6 16.5 54.6 4.9 14.5 6.6 15.3 3.3 5.8 3.3 4.9 3.3 4.1 4.9 5 4.9 3.9 6.6 4 23.1 9.6 18.7 6M64.9 316.7l25.3-7.4 20.2-6.7 20.3-7.5 20.2-8.4 20.2-9.5 20.2-10.6 20.2-12 15.2-9.9 20.2-14.6 20.2-16.4 20.3-18.4 20.2-20.6 20.2-23.2 15.2-19.3 10.1-14 20.2-31.3 5-6.4 5.1-5.2 5.1-3.8 5-2.5 5.1-1.2 5-.3 15.2-2 10.1 0 10.1 1.6 5.1 1.1 5 1.7 10.1 4.6 5.1 3.5 10.1 8.8 10.1 10.8 10.1 13.1 5.1 7.6 10.1 17.3 10.1 19.1 10.1 20.2 10.1 22.5 4.9 12.8 3.3 10 16.5 56.7 4.9 15.6 6.6 16.5 3.3 6.3 5 7.6 3.3 4 4.9 4.8 4.9 3.8 5 3 9.9 4.1 18.1 6.5 10.2 3.2M64.9 317.2l25.3-7.5 20.2-6.9 20.3-7.7 20.2-8.7 20.2-9.9 20.2-11 20.2-12.5 15.2-10.4 20.2-15.3 20.2-17.4 20.3-19.5 15.1-16.2 15.2-17.7 15.1-19.4 10.2-14.1 20.2-32 5-7 5.1-6 5-4.8 5.1-3.6 5.1-2.6 10.1-4.7 15.1-7.6 10.1-3.6 5.1-.8 5-.2 5.1 .7 5.1 1.5 5 2.7 5.1 3.8 5 4.6 10.1 11.7 10.1 14.2 5.1 8.2 10.1 18.6 20.2 41.3 10.1 23.1 5.1 12.9 5 15.1 16.6 60 5 16.6 6.6 17.7 3.2 6.9 5 8.1 3.3 4.3 4.9 5.1 5 3.9 4.9 3 19.8 7.7 13.1 5.7 16.1 4.8M119.1 352.3l26.7-4.5 20.2-4.5 20.3-5.7 15.1-5.4 20.2-8.8 15.2-8.2 15.2-9.9 15.1-11.9 15.2-14.3 15.2-17.2 10.1-13.4 5-7.3 10.1-16.1 10.1-18.1 10.2-20.7 5-12.5 15.2-41.7 5-12 5.1-9.8 5-7.1 5.1-4.3 5.1-1.8 10.1-.3 10.1-3.1 10.1-2.5 10.1-1.3 5-.1 5.1 .4 10.1 2.1 5.1 1.6 5 2.3 5.1 3 5 3.7 10.1 9.1 10.2 11.2 5 6.5 10.1 15.5 15.2 27 10.1 19.6 10.1 22.1 3.3 8.1 3.3 9.5 19.7 64.6 5 13.2 3.3 7.3 3.3 6.1 3.3 4.9 4.9 5.8 5 4.5 4.9 3.5 4.9 2.5 5 1.9 22.5 6.5M64.9 294l40.5-12.6 35.4-12.8 35.3-14.9 30.4-14.5 20.2-10.8 20.2-11.6 20.2-12.7 20.3-13.8 20.2-15 15.1-12.1 15.2-12.8 20.2-19.1 5.1-4.1 5-3.4 10.1-4.9 10.2-3.6 25.2-10.4 10.1-3.7 5.1-1.3 5-.8 5.1-.1 5.1 .5 5 1.1 5.1 1.6 5 2.4 5.1 3.4 5 4 10.1 10.2 5.1 6.1 5.1 6.9 10.1 16.3 20.2 37.6 10.1 21.2 5 12.2 5.1 14.8 14.8 48.7 5 15 6.5 15.9 3.3 6 3.3 5 3.3 4.1 5 4.7 3.3 2.5 4.9 3.1 8.2 3.4 23.6 6.6M64.9 248.2l45.5-13.9 40.5-13.7 40.4-15.3 40.4-16.8 25.3-11.4 20.2-9.7 40.5-20.9 25.3-14.1 30.3-18 25.3-16.4 10.1-5.7 5-2.1 10.1-2.6 5.1-.5 5 .1 5.1 1 10.1 3.9 5.1 2.7 10.1 7.1 5 4.4 10.1 10.3 10.2 12.2 5 7.2 15.2 25.1 10.1 18.8 10.1 21.8 5 12.6 6.7 20.1 18.2 63.2 4.9 14.5 4.9 11.5 3.3 6.1 3.3 5 3.3 4 5 4.7 4.9 3.5 4.9 2.5 5 1.7 5.7 1.2M87.7 352.3l32.8-4.9 25.3-5.1 25.3-6.7 20.2-6.8 20.2-8.4 20.2-10.4 10.2-6.2 10.1-6.8 15.1-11.7 10.1-9 10.2-9.9 15.1-17.1 15.2-20.1 15.1-23.7 15.2-27.7 10.1-21.2 5.1-12.6 15.1-42.2 5.1-12.1 5.1-9.9 5-7.2 5.1-4.4 5-2.1 10.1-.2 10.1-2.7 5.1-1 5-.5 5.1 .3 5.1 .9 5 2.2 10.1 6.3 10.1 8 10.1 9.9 10.2 12.1 5 7.1 10.1 16.4 10.1 18 10.1 19.1 10.1 21.6 5.1 12.5 4.9 15.6 16.5 57.9 4.9 15.4 6.6 16.3 3.3 6.4 5 7.8 4.9 6.2 3.3 3.4 4.9 4.3 6.6 4.4 23.1 11.3 9.9 3.6 11.8 3.6M111.2 352.3l24.5-3.8 25.3-5.1 25.3-6.9 20.2-7.2 20.2-9 15.2-8.2 10.1-6.4 10.1-7.1 15.1-12.4 15.2-14.7 10.1-11.3 15.2-19.7 10.1-15.1 10.1-16.9 5.1-9.3 10.1-20.2 5-11.9 15.2-41.8 5-12.3 5.1-9.8 5.1-6.8 5-3.4 5.1-.2 10.1 4.8 5 1 10.1 1.2 10.1 2.4 15.2 5.5 10.1 4.4 10.1 6.9 5.1 4.1 10.1 9.7 5.1 5.8 5 6.5 5.1 7.4 15.1 25.4 10.1 18.9 10.1 21.6 6.7 17.6 16.5 53.6 5 14.8 4.9 12.3 4.9 9.4 3.3 4.8 5 5.6 4.9 4.2 5 3.2 4.9 2.3 4.9 1.6 18.9 4.5M168.1 352.3l23.2-4.7 20.2-5.7 10.1-3.6 10.1-4.1 15.2-7.5 15.2-9.4 15.1-11.7 10.2-9.3 5-5.3 10.1-11.7 5.1-6.6 10.1-14.7 10.1-17.1 10.1-19.8 10.1-23 10.1-26.6 5.1-16.4 15.1-59.8 5.1-17.6 5.1-14 5-9.4 5.1-4.6 5 .3 10.1 7.5 5.1 1.1 10.1-.5 10.1 .4 5.1 .6 5 1.3 5.1 1.8 5 2.3 10.1 6.7 10.1 9.2 5.1 5.6 10.1 13.3 10.1 16.5 5.1 9.6 15.1 31.2 15.2 32.8 6.6 16 3.3 9.1 18.1 60.2 4.9 15.2 5 12.5 3.3 6.9 3.3 5.8 4.9 6.8 4.9 5.2 5 4.2 6.6 4.4 6.6 3.2 9.8 4.1 14.9 5.4 12.8 3.9M64.9 333.4l30.4-7 25.2-7.1 25.3-8.4 25.3-10 25.3-11.9 20.2-11.1 20.2-12.7 20.2-14.6 20.2-16.8 15.2-14.2 15.2-15.8 15.1-17.5 10.1-12.7 10.2-13.6 10.1-14.6 10.1-15.7 5-8.2 5.1-9.4 15.2-30 5-8.3 5.1-6.5 5-4.4 5.1-2.3 5-.6 20.2 3.2 5.1 1.6 5.1 2.2 5 3.2 5.1 3.9 5 4.5 5.1 5.4 10.1 12.1 10.1 14 5.1 8 10.1 18 15.1 29 10.1 21.1 5.1 11.7 5 13.1 5.1 16.2 14.8 50.8 5 14.9 6.5 15.5 3.3 5.9 3.3 5 3.3 4.1 5 5 4.9 4.1 5 3 6.5 3.1 24.7 10 12.4 3.7M108.9 352.3l26.8-4.1 25.3-5.2 20.2-5.3 20.2-6.8 20.2-8.4 15.2-7.7 10.1-6 10.1-6.6 15.2-11.5 15.2-13.7 15.1-16.2 15.2-19.2 15.1-22.8 10.2-17.6 5-9.5 10.1-21.1 20.2-53.1 5.1-11.4 5.1-9.1 5-6.5 5.1-4 5-2 10.1-1.9 5.1-2.3 10.1-3.2 10.1-1.5 5.1 .1 5 .9 5.1 1.7 10.1 5 5 3.5 10.1 8.6 10.2 11.1 10.1 13.4 5 7.7 10.1 17.8 10.1 19.1 10.1 20.1 8.4 18 4.9 11.9 5 14.1 16.4 54.9 5 15.1 6.6 15.8 3.3 6 3.3 4.9 3.3 4.1 4.9 4.7 4.9 3.7 5 2.8 8.2 3.2 27.4 8.5M64.9 348.7l30.4-5 25.2-5.3 25.3-6.7 20.2-6.6 20.3-8 20.2-9.7 20.2-11.6 10.1-6.6 10.1-7.3 10.1-8.1 10.1-8.8 15.2-14.9 10.1-11.1 10.1-12.2 15.2-20.7 15.1-23.7 10.2-17.8 5-9.7 5.1-11.1 15.1-35.1 5.1-9.7 5-7.7 5.1-5.6 5.1-3.3 5-1.4 10.1-.7 10.1-2.5 5.1-.9 10.1-.6 10.1 1.4 5.1 1.4 5 1.9 10.1 5.3 5.1 3.7 10.1 9 10.1 10.9 10.1 13.1 5.1 7.7 10.1 17.3 10.1 18.4 10.1 20.2 5 11.1 5.1 12.2 3.3 9.4 18.1 61.3 4.9 15.2 6.6 16 3.3 6.1 3.3 5.1 3.3 4.1 5 5.1 4.9 3.9 4.9 3 8.3 3.5 28.9 9.7M64.9 286.9l25.3-8.4 20.2-7.3 20.3-7.9 20.2-8.6 20.2-9.4 20.2-10.1 20.2-11 15.2-8.9 20.2-12.7 20.2-13.8 20.3-15 15.1-12.1 15.2-12.8 15.1-13.6 15.2-14.5 25.3-25.9 10.1-8.4 20.2-13.4 5.1-2.8 10.1-4.8 5-1.8 5.1-1.3 5-.6 5.1 .2 5.1 .9 5 2 5.1 2.8 10.1 7.3 10.1 9.6 5 5.8 5.1 6.5 5.1 7.4 5 8.3 10.1 18.4 10.1 19.8 5.1 10.8 10.1 23.7 5 13.7 5.1 16.7 14.8 53.3 5 15.7 6.5 16.7 3.3 6.6 3.3 5.4 5 6.7 4.9 5.3 5 4.3 4.9 3.4 8.2 4.3 21.4 9.9 15.7 5M64.9 315.1l25.3-7.3 20.2-6.5 20.3-7.4 20.2-8.2 20.2-9.1 20.2-10.3 20.2-11.4 15.2-9.4 20.2-13.9 20.2-15.5 20.3-17.3 15.1-14.3 15.2-15.5 15.1-16.9 15.2-18.6 20.2-27.3 5.1-5.7 5-4.9 5.1-4.1 5.1-3.1 15.1-6.6 10.1-3.3 5.1-1.2 10.1-1.3 5-.1 10.2 1.1 10.1 3.2 5 2.4 10.1 7 10.1 9.3 10.2 11.4 10.1 14 5 8.2 10.1 17.9 10.1 19.1 10.1 21 5.1 11.6 6.6 17.8 18.1 61.4 4.9 15.1 6.6 15.7 3.3 6 3.3 5 3.3 4.1 5 5 4.9 3.8 4.9 3 8.3 3.5 29.1 9.8M64.9 325.6l25.3-6.4 20.2-5.9 25.3-8.4 20.2-7.7 20.2-8.7 20.3-9.8 20.2-11.2 15.1-9.3 20.3-13.8 20.2-15.6 20.2-17.6 15.2-14.8 20.2-21.9 15.2-18.2 10.1-13.5 20.2-29.5 5-6.1 5.1-5.1 5.1-3.9 5-2.8 5.1-1.8 15.1-4.2 10.1-2 10.1-1 5.1 .1 10.1 1.5 10.1 3.1 5.1 2.5 10.1 6.6 10.1 8.2 10.1 9.6 10.1 11.4 5.1 6.7 10.1 15 5 8.5 10.1 19.3 6.7 15 5 12.6 4.9 15.2 19.8 70.1 4.9 14.2 3.3 7.7 3.3 6.5 3.3 5.3 5 6.3 4.9 4.7 4.9 3.7 5 2.6 4.9 2 24.2 7.5M64.9 336.6l25.3-5.6 25.3-6.7 25.3-8 20.2-7.6 20.2-8.9 20.2-10.2 20.2-11.9 15.2-10.2 20.2-15.4 15.2-13.1 10.1-9.6 10.1-10.4 15.2-17 15.1-19.1 10.1-13.9 10.2-15.3 20.2-34 5-7.6 5.1-6.4 5-5.2 5.1-4 15.2-9.5 10.1-4.8 5-1.9 10.1-3 10.1-1.9 5.1-.3 5.1 .1 5 .8 5.1 1.2 5 1.8 5.1 2.5 5 3.1 5.1 3.7 10.1 9.2 10.1 11.4 10.1 14.2 5.1 8.3 10.1 18.2 10.1 19.3 13.4 28.8 4.9 12.3 3.3 9.6 18.1 61.6 5 15.1 6.6 15.9 3.3 6 3.3 5 3.3 4.2 4.9 4.9 4.9 3.9 5 3 8.2 3.6 28.8 9.5M64.9 285.8l20.3-6.5 20.2-7 20.2-7.6 20.2-8.2 20.2-9 15.2-7.1 20.2-10.3 15.2-8.2 20.2-11.8 20.2-12.8 20.2-13.9 20.3-14.9 15.1-12.1 15.2-12.8 25.3-22.7 20.2-20.3 5-4.4 10.2-7.5 10.1-6.2 5-2.6 10.1-4.4 10.1-3.7 10.1-2.8 5.1-.7 5.1-.3 5 .5 5.1 1.2 5 1.8 5.1 2.6 5 3.4 5.1 4.2 5 4.9 10.2 12.1 5 7.1 10.1 16.9 20.2 39.9 10.1 22 5.1 11.9 4.9 13 3.3 10.2 16.5 57.1 4.9 15.5 6.6 16.6 3.3 6.4 3.3 5.2 3.3 4.4 5 5.3 4.9 4.1 4.9 3.2 9.9 4.4 19.8 7.1 10.5 3.3M64.9 260.9l45.5-14.3 40.5-14.5 40.4-16.2 40.4-18.2 35.4-17.8 35.4-19.7 35.4-21.8 30.3-20.7 10.1-6 5.1-2.5 15.2-5.9 20.2-5.9 5-1 5.1-.4 5 0 5.1 .7 15.2 4.1 5 2.2 10.1 6.7 10.1 8.4 15.2 14.6 10.1 11.4 5.1 6.6 10.1 15.1 10.1 16.6 11.7 21.6 8.3 17.3 3.3 8 3.3 9.5 19.7 63.2 5 12.6 4.9 9.9 3.3 5.1 4.9 5.9 5 4.4 4.9 3.3 8.3 3.6 21.1 5.5M142.2 352.3l23.8-4.5 20.3-5.1 20.2-6.8 15.1-6.5 15.2-7.9 15.2-9.8 15.1-12 10.1-9.5 10.2-11 5-6 10.1-13.5 5.1-7.5 10.1-16.5 5-9.2 10.1-20.4 10.2-23.3 5-13 5.1-15.4 15.1-53.3 5.1-15.7 5-12.4 5.1-8.6 5.1-4.6 5-1.1 10.1 2.8 5.1-1.1 20.2-6.3 5-.9 5.1-.4 5.1 .1 5 1.3 5.1 1.9 5 2.7 5.1 3.4 5 4 10.1 10.1 10.2 12.7 5 7.4 10.1 17.2 10.1 19.5 10.1 20.6 10.1 22.4 5.1 12.4 6.6 19.6 16.5 58.9 4.9 16.2 6.6 17.3 3.3 6.9 4.9 8.1 3.3 4.5 5 5.3 4.9 4.3 6.6 4.4 21.4 10 11.5 4.2 13.4 4.1M93.6 352.3l26.9-4 25.3-5 25.3-6.7 20.2-6.8 20.2-8.5 10.1-5 10.1-5.6 10.2-6.2 10.1-7 15.1-12.1 10.1-9.2 10.2-10.3 15.1-17.8 15.2-21 15.1-24.9 10.2-19 10.1-21.2 5-12.1 15.2-43.9 5-13.4 5.1-11.3 5.1-8.5 5-5.5 5.1-2.6 5-.2 5.1 .7 5-.4 10.1-2.6 5.1-.6 5-.1 10.2 1.5 5 1.7 5.1 2.3 10.1 5.9 10.1 7.6 10.1 9.5 5.1 5.9 10.1 14.4 10.1 16.9 5 9.5 5.1 10.7 10.1 25 5 14.7 5.1 18 14.8 57.8 5 17.4 4.9 14.5 3.3 7.9 3.3 6.7 4.9 8.1 3.3 4.4 5 5.5 4.9 4.2 4.9 3.3 6.6 3.4 21.4 9.5 14.6 4.5M125 352.3l20.8-3.6 20.2-4.5 20.3-5.8 15.1-5.5 15.2-6.6 15.1-8.1 15.2-9.9 15.2-11.9 15.1-14.5 10.2-11.3 5-6.3 10.1-13.7 5.1-7.6 10.1-16.8 10.1-19 10.1-22 5.1-13.5 15.1-44.1 5.1-12.4 5-9.7 5.1-6.7 5-3.6 5.1-1.2 5.1 .2 5-.3 5.1-1.9 15.1-3.8 10.1-1.9 10.1-1.1 5.1 0 5.1 .6 10.1 2.5 5 2.2 5.1 3.2 5 3.8 10.1 9.6 10.2 11.5 10.1 13.2 10.1 15.4 15.1 25 5.1 9 5 9.8 8.4 18.2 6.6 18.7 16.4 55.4 5 14.8 6.6 15.4 3.3 5.9 3.3 4.8 3.3 4 4.9 4.9 4.9 3.7 5 2.9 8.2 3.4 27.8 9.2M64.9 330l25.3-6 25.3-7.1 25.3-8.3 20.2-7.7 20.2-8.7 20.2-10 20.2-11.4 15.2-9.5 20.2-14.3 20.2-16.2 20.3-18.6 15.1-15.5 15.2-17.2 15.2-18.9 10.1-14 15.1-23.3 5.1-7.1 5-6.3 5.1-5.2 5.1-4.1 5-3 15.2-6.2 5-1.8 10.1-2.7 5.1-.8 5-.3 5.1 .3 5.1 .9 10.1 3.3 5 2.5 5.1 3.1 5 3.7 10.1 9 10.2 11.3 5 6.7 10.1 15.8 10.1 17.7 10.1 18.9 10.1 21.3 5.1 12.2 4.9 14.5 16.5 55.8 4.9 15.1 6.6 15.8 3.3 6.1 3.3 5 3.3 4.2 5 5 4.9 3.9 4.9 3 8.3 3.4 24.9 8M96 352.3l29.6-4.4 25.3-5 25.2-6.6 20.3-6.7 20.2-8.4 15.1-7.6 10.2-5.8 10.1-6.4 15.1-11.2 10.1-8.4 10.2-9.5 15.1-16.3 15.2-19.1 15.1-22.6 10.2-17.2 10.1-19.3 5-11 15.2-38.2 5-11.9 5.1-10.1 5.1-8 5-5.6 5.1-3.5 25.2-9.7 5.1-1.1 5-.4 5.1 .6 5.1 1.5 5 2.4 10.1 7 10.1 8.6 10.1 10.8 5.1 6.3 5.1 7 10.1 16.4 10.1 18.5 10.1 19.6 10.1 21.7 5 12.2 5.1 14.5 16.5 55.9 4.9 15.4 6.6 16.2 3.3 6.3 3.3 5.2 3.3 4.2 4.9 5 5 3.9 4.9 3 8.2 3.4 26.5 8.4M64.9 326l25.3-5.8 20.2-5.3 25.3-7.5 20.2-6.9 20.2-7.6 20.3-8.6 20.2-9.6 20.2-10.8 20.2-12 20.2-13.6 20.3-15.1 15.1-12.6 15.2-13.7 15.2-14.9 15.1-16.4 20.2-24.1 5.1-5 5.1-4 5-2.9 10.1-4.1 10.1-3.1 10.1-1.5 5.1 0 5 .8 5.1 1.6 5.1 2.6 10.1 6.4 10.1 7.6 10.1 9.1 5 5.3 10.2 12.4 5 7.3 10.1 16.2 10.1 17.4 10.1 19.3 5.1 10.9 5 12.8 19.9 61.5 6.6 16.3 4.9 9 5 6.4 4.9 4.4 7 4.1M67.2 352.3l33.1-4.6 30.4-5.9 25.2-6.4 25.3-8.3 15.2-6.1 10.1-4.7 20.2-10.8 10.1-6.3 10.1-6.9 15.2-11.9 15.1-13.9 15.2-16.1 15.2-18.8 15.1-22 15.2-25.6 10.1-19.3 5.1-10.8 15.1-39.8 5.1-12.2 5-10.2 5.1-7.5 5.1-4.4 5-1.4 5.1 1.1 5 2.5 5.1 1.7 10.1 .5 10.1 1.7 5 1.2 10.2 3.3 10.1 4.1 5 2.6 10.1 7.5 10.1 9.3 10.2 11.1 10.1 13.7 15.1 25.1 10.1 18.5 10.1 21.2 5.1 12.2 3.3 9.6 21.4 70.9 4.9 12.9 3.3 7 3.3 5.9 3.3 4.8 5 5.7 4.9 4.3 4.9 3.4 8.3 3.8 26.4 8.3M64.9 285.4l25.3-8.6 20.2-7.6 25.3-10.5 20.2-9.1 20.2-10 20.3-10.9 20.2-11.8 20.2-12.8 20.2-13.9 20.2-15.2 20.3-16.5 15.1-13.3 20.2-19 15.2-15.4 5.1-5.5 15.1-18.1 5.1-5.7 5-4.8 5.1-3.6 5.1-2.1 5-.7 5.1 .7 10.1 3.2 15.1 3.3 15.2 4.1 15.2 4.7 5 2.1 10.1 6.4 5.1 4 5 4.5 10.2 10.5 10.1 12.8 10.1 15.9 15.1 27.4 10.1 20.1 5.1 10.9 6.6 15.7 3.3 9.4 21.4 70.7 4.9 12.9 3.3 7.1 3.3 5.9 3.3 4.7 5 5.7 4.9 4.3 4.9 3.3 8.3 3.7 26.1 8M64.9 344.7l30.4-5.4 30.3-6.8 25.3-7.2 25.2-8.7 25.3-10.8 20.2-10.4 20.3-12.1 20.2-14.4 10.1-8.1 10.1-8.8 15.2-14.6 15.1-16.6 15.2-18.7 15.2-21.1 15.1-23.9 5.1-8.8 20.2-41.5 5.1-8.5 5-6.5 5.1-4.1 5-1.7 5.1 .2 10.1 1.9 10.1-.4 5 .4 10.2 1.9 10.1 3.2 5 2.3 10.1 6.7 10.1 8.7 10.2 10.5 10.1 12.4 10.1 15.2 20.2 35 11.7 23.5 5 11.3 3.3 8.9 18.1 59.1 4.9 14.7 5 12.1 4.9 9.3 3.3 4.8 5 5.6 4.9 4.4 4.9 3.2 8.3 3.7 25.6 7.7M64.9 330.4l30.4-7 25.2-7 25.3-8.1 20.2-7.5 20.3-8.6 20.2-9.6 20.2-11 20.2-12.5 15.2-10.5 15.1-11.5 15.2-12.6 15.2-13.9 20.2-20.7 20.2-23.5 10.1-13.1 15.2-23.1 5-7.2 5.1-6.3 5.1-5 5-3.2 5.1-1.4 5 .1 10.1 1.6 10.1 .5 10.1 1.4 5.1 1.2 10.1 3.2 10.1 4 10.1 5.9 5.1 3.7 10.1 8.6 10.1 10.7 5.1 6.5 5 7.4 10.1 16.8 10.1 18.5 10.1 21.2 6.7 15.9 3.3 9.1 16.5 53.6 4.9 14.9 3.3 8.3 5 10 3.3 5 3.3 3.9 4.9 4.2 5 2.9 4.9 2.1 4.9 1.3 18.8 2.7M152 352.3l24.1-4.3 20.3-4.8 20.2-6.2 20.2-8.2 10.1-4.9 10.1-5.6 15.2-10 15.2-12.1 15.1-14.8 10.1-11.6 5.1-6.4 10.1-14.1 10.1-16.2 10.1-18.3 10.1-21 10.1-24.4 5.1-15.5 10.1-33.5 5.1-15.2 5-12.7 5.1-9.1 5-4.9 5.1-1.2 5 1.6 5.1 3 5 1.6 10.1-.4 10.2 .7 10.1 1.9 5 1.6 5.1 2.5 5 3.2 5.1 3.8 5 4.4 10.2 10.7 10.1 13.1 10.1 16.3 20.2 39.1 13.4 28.4 6.6 15.7 3.3 9.4 16.4 53.2 5 14.7 4.9 12.1 5 9.3 3.3 4.8 4.9 5.5 4.9 4.2 5 3.2 8.2 3.6 26.4 7.8M158.1 352.3l18-3.4 20.3-5.1 20.2-6.8 15.1-6.5 15.2-8.1 15.2-10.1 15.1-12.6 10.2-10 10.1-11.6 5-6.5 10.1-14.4 10.1-16.6 10.1-19.3 10.2-22.3 5-13.2 20.2-62.9 5.1-13 5-10.1 5.1-6.8 5.1-3.8 10.1-3.5 10.1-8.6 10.1-7.5 5-3 5.1-2.2 5-1.5 5.1-.5 5.1 .7 5 1.9 5.1 3.2 10.1 7.8 10.1 9.7 10.1 11.6 10.1 13.9 10.1 16.6 10.1 18 10.1 19.6 5.1 10.7 5 11.7 5.1 13 4.9 16 14.9 52.9 4.9 16.1 6.6 17.2 3.3 6.8 4.9 8.1 5 6.4 4.9 5.1 4.9 3.9 5 3.1 6.6 3.3 16.4 7 17 5.6M64.9 322.8l25.3-6.5 20.2-5.9 25.3-8.4 20.2-7.6 20.2-8.6 20.3-9.7 20.2-10.8 15.1-9 20.3-13.4 20.2-14.9 20.2-16.8 20.2-18.9 15.2-15.7 15.2-17.1 10.1-12.3 20.2-28.5 5-6.5 5.1-5.5 5.1-4.2 5-2.7 5.1-1.5 10.1-1.1 10.1-1.8 5-.4 5.1 .2 5 .7 5.1 1.4 10.1 4.4 5.1 3.1 5 3.8 5.1 4.6 5 5.4 10.1 13.2 10.2 16.2 15.1 28.2 10.1 20.1 10.1 22.4 5.1 12.9 21.6 70.4 5 13.4 4.9 10.5 3.3 5.5 4.9 6.3 3.3 3.2 5 3.8 4.9 2.7 5 1.9 12.5 3M64.9 328.3l25.3-6.2 20.2-5.8 25.3-8.4 20.2-7.7 20.2-8.8 20.3-10 20.2-11.4 15.1-9.5 20.3-14.3 20.2-16.2 20.2-18.5 15.2-15.5 20.2-23.2 15.2-19.4 10.1-14.7 15.1-24.8 5.1-7 5-5.7 5.1-4.1 5.1-2.4 5-.9 10.1 1 20.2 0 10.1 .9 5.1 1 10.1 2.8 10.1 3.8 10.1 6.2 5.1 3.8 10.1 8.9 10.1 10.7 10.1 13.5 15.2 24.9 10.1 18.2 10.1 20.7 4.9 11.5 3.3 9 21.4 69 5 12.8 3.3 6.9 3.3 5.7 3.3 4.6 4.9 5.5 4.9 4.1 5 3.1 8.2 3.5 14.8 3.8 8.2 2.6M132.9 352.3l23-3.8 20.2-4.4 20.3-5.7 20.2-7.2 10.1-4.3 10.1-5 15.2-8.6 15.1-10.5 15.2-12.6 15.2-15.1 15.1-18.3 10.1-14.3 5.1-7.8 10.1-17.2 10.1-19.5 10.1-22 5.1-13.1 15.1-46.2 5.1-13.9 5.1-11.5 5-8.6 5.1-5.3 5-2.3 5.1 0 5 .8 5.1-.8 10.1-2.3 5-.4 5.1 .3 5.1 1 5 1.9 5.1 2.6 10.1 7 10.1 9.2 10.1 11.5 10.1 14.1 5.1 8.2 10.1 18.5 15.1 29.9 10.1 21.9 5.1 12.2 4.9 14.4 16.5 56 4.9 15.3 6.6 16.1 3.3 6.2 3.3 5 3.3 4.2 5 4.9 4.9 3.7 4.9 2.9 6.6 2.7 32 10.2M64.9 352.2l35.4-4.7 30.4-5.4 15.1-3.4 15.2-3.8 25.3-7.9 15.1-5.7 10.1-4.2 15.2-7.2 10.1-5.5 10.1-5.9 10.1-6.6 10.1-7.2 10.1-7.9 15.2-13.4 15.2-15.5 15.1-17.9 15.2-20.6 10.1-15.4 10.1-17.1 15.2-28.8 5-11.5 15.2-38.4 5.1-11.1 5-8.7 5.1-6.1 5-3.4 5.1-1 10.1 1.6 10.1-.4 5.1 .4 5 1.1 5.1 1.8 5 2.4 5.1 3.1 10.1 7.8 10.1 9.8 10.1 11.7 10.1 14.2 10.1 16.9 15.2 27.7 10.1 21.3 4.9 12.2 5 14.4 16.4 57.5 5 16.1 6.6 17.2 3.3 6.8 3.3 5.6 3.3 4.7 4.9 5.6 4.9 4.5 6.6 4.5 6.6 3.3 11.5 4.6 13.2 4.8 10.4 3.2M64.9 350.4l30.4-4.5 25.2-4.8 25.3-6.2 25.3-7.9 20.2-7.8 20.2-9.5 20.2-11.4 15.2-10.2 10.1-7.6 10.1-8.4 15.2-14.2 10.1-10.7 10.1-11.7 15.2-19.9 15.1-23 15.2-26.4 5.1-10 5-11.3 15.2-35.6 5-9.9 5.1-8 5.1-5.7 5-3.4 5.1-1.6 10.1-.5 10.1-2.7 10.1-1.6 10.1-.4 10.1 1.1 5.1 1.1 5 1.7 5.1 2.3 5 3 5.1 3.6 10.1 9.1 10.1 11.4 5.1 6.6 10.1 15.7 10.1 18.7 15.1 30.6 10 22.4 5 12.4 3.3 9.6 21.4 71.7 4.9 13 5 10.2 3.3 5.3 4.9 6.2 4.9 4.8 5 3.6 4.9 2.7 5 2 25.8 8M64.9 257.7l45.5-14.3 40.5-14.3 40.4-16 35.4-15.6 25.3-12.1 20.2-10.3 20.2-10.9 20.2-11.5 20.2-12.2 25.3-16.1 30.4-21.1 15.1-9 10.1-4.6 10.1-3.5 5.1-1 5-.3 5.1 .5 5.1 1.3 5 2 5.1 2.7 10.1 7.3 5 4.5 10.1 10.9 5.1 6.3 5.1 7 10.1 16.5 20.2 38.7 10.1 21.6 5 12 6.7 19.1 14.9 49.6 4.9 15.3 6.6 16.2 3.3 6.2 3.3 5.1 3.3 4.1 4.9 4.8 3.3 2.5 5 3 8.2 3.2 25.3 7M64.9 300l25.3-7.7 20.2-6.9 20.3-7.5 20.2-8.2 20.2-9 20.2-9.9 20.2-10.8 15.2-8.8 20.2-12.7 20.2-13.9 20.3-15.2 20.2-16.7 20.2-18.3 15.2-14.9 15.1-15.9 20.2-24 5.1-5.4 5.1-4.7 5-3.7 5.1-2.6 5-1.1 20.2-2.5 10.1 0 10.2 1.6 10.1 3.5 5 2.5 10.1 7.1 10.1 8.9 10.2 10.3 10.1 11.8 10.1 14.1 10.1 16.3 10.1 17.5 10.1 19.6 4.9 10.8 5 12 3.3 9.6 16.4 55.2 5 15.3 6.6 16.2 3.3 6.3 4.9 7.3 3.3 3.9 4.9 4.6 5 3.7 4.9 2.7 8.3 3.3 26.6 8.6" stroke="#66c2a5" stroke-width="0.8" stroke-opacity="0.27"/><path d="M234.6 352.3l2.2-29.2 5.1-52.4 20.2-21.4 15.1-17.2 15.2-18.2 15.2-19.3 15.1-20.6 15.2-22 15.2-26.1 5-7 5.1-4.9 5-2.9 5.1-.9 10.1 .2 10.1-1.7 10.1-2.1 20.2-5.5 5.1-.9 5-.2 5.1 .3 5.1 1 10.1 3.4 5 2.5 10.1 7.1 10.1 8.6 10.2 9.9 5 6.3 10.1 15.1 10.1 16.8 15.2 29.4 10.1 16.4 3.3 6.9 4.9 14.4 9.9 33.8 8.2 23.1 8.3 20.7 11.5 22.9 6.1 13.7M221.4 352.3l20.5-22 20.2-23.6 20.2-25.6 20.2-28.3 20.2-31.3 15.2-25.9 10.1-18.6 5.1-10.4 10.1-22.6 5-9.9 5.1-7.6 5-4.8 5.1-2.3 10.1-.8 10.1-2.3 10.1-.7 20.2 .3 5.1 .6 5.1 1.4 5 2.3 15.2 9.1 5 3.5 20.3 15.6 5 4.6 5.1 5.5 5 6.5 15.2 22.6 15.1 27.7 10 14.8 3.3 6.3 5 13.5 9.9 32.4 8.2 22.1 8.2 19.6 14.8 28.3M64.9 136.4l5.1 28.2 5 24.6 5.1 21.3 5.1 18.5 5 15.9 5.1 13.7 5 11.6 5.1 9.9 5 8.3 5.1 6.9 5 5.7 5.1 4.6 5.1 3.6 5 2.7 5.1 1.9 5 1.3 5.1 .6 5 .1 5.1-1.2 20.2-16.1 15.2-12.6 30.3-27 15.2-14.5 15.1-15.2 25.3-27 20.2-23.5 25.3-32 20.2-29.2 5.1-5.5 5-3.9 5.1-2.3 5-1.2 15.2-2.7 10.1-.8 20.2-.7 10.1 .3 5.1 .9 10.1 3.3 10.1 5 10.1 6.3 15.2 11.4 10.1 8.8 5.1 5.5 5 6.5 15.2 22.2 15.1 27.6 10.1 15.9 5.1 12 13.2 44.1 9.9 27.6 6.5 16.6 11.6 23.7 5.9 14.2M268 20l4.2 55.2 5 47.5 5.1 33.7 5.1 23.1 5 15 5.1-.5 5-9.6 10.1-20.1 10.1-21.4 15.2-37.5 5.1-10.3 5-7.3 5.1-4.1 5-1.4 5.1-.1 5-1 10.1-3.8 20.3-6 20.2-6.7 5-.9 5.1-.1 5 .9 5.1 1.8 5.1 2.6 5 3.4 10.1 8.6 20.2 21.3 10.2 12.4 5 7.4 15.2 24.8 5 9.2 10.1 20.1 10.1 16.3 5.1 10.1 1.6 4.6 13.2 46.2 11.5 33.6 6.6 16.8 11.6 25 8.2 21.9 1.1 1.6M64.9 70.7l20.3 8.6 25.2 10.1 25.3 9.3 25.3 8.6 30.3 9.2 25.3 7 30.3 7.3 30.3 6.3 5.1 4 5.1 2.8 5 1.9 5.1 .7 5-.2 5.1-1.3 5-2.3 40.5-22.9 20.2-12.5 5-2.4 5.1-1.8 5.1-.9 5-.3 10.1 0 20.2-.9 10.1 .4 10.2 2.2 10.1 3.7 5 2.5 10.1 6.4 10.1 7.6 10.2 8.3 5 4.6 5.1 5.4 10.1 13.6 10.1 15.5 5 8.6 10.1 19.4 11.7 18.3 4.9 11.2 13.2 43.8 9.9 27.2 6.6 16.2 11.5 22.9 5.9 13.5M214 352.3l12.7-26.3 20.2-38.1 50.6-88.5 20.2-32.8 10.1-17.2 10.1-18.7 10.1-21.4 5.1-9.3 5-7.4 5.1-5.1 5-2.8 5.1-1.1 5-.5 5.1-1.6 25.3-9.8 10.1-3.4 5-1.3 10.1-1.1 10.2 .8 10.1 2.7 5 2.3 10.1 7.7 10.1 9.7 20.3 23.2 10.1 13.7 5 8.1 15.2 26.9 13.4 27.4 3.3 6.2 8.2 13.7 3.3 7.1 5 14.6 11.5 39.9 8.2 23.2 6.6 16.9 13.2 27.4 6.1 14.9M64.9 199.6l106.2 2.4 111.2 .7 5.1 .4 5 4.1 5.1 2.9 5 1.4 5.1-.1 5-1.5 5.1-3.1 5-4.5 15.2-16.4 15.2-17.3 10.1-12.5 10.1-14.3 5-6 5.1-4.6 5.1-3 5-1.5 10.1-1.5 5.1-1.6 20.2-8.6 5-1.3 5.1-.2 5.1 .8 5 1.8 5.1 2.5 10.1 6.8 5 4.3 10.1 9.7 10.2 11.1 5 6.8 5.1 7.9 15.1 26.4 15.2 29.4 10.1 15.4 3.3 6 4.9 13 9.9 31.3 6.6 17.2 9.9 22.5 14.6 25.9M93.9 20l77.2 73.5 80.9 79.4 5 6.2 5.1 14.9 5 11.6 5.1 8.2 5 4.9 5.1 1.5 5.1-2.1 5-5.7 20.2-30.2 15.2-24.7 10.1-18 10.1-21.2 5.1-9.1 5-6.6 5.1-3.5 5-.5 5.1 1.9 5 2.7 5.1 1.5 20.2 3.7 10.1 3 10.1 4.1 10.1 4.6 15.2 7.6 10.1 5.9 15.2 11.3 5 4.3 5.1 5.2 5.1 6.2 15.1 21.1 15.2 25.9 10.1 14.2 5 11.3 13.3 42.7 9.9 26.1 6.6 15.6 11.5 22.4 5.5 12.4M149.5 20l6.4 55.2 5.1 37.2 5 32.9 5.1 29.1 5 25.5 5.1 22.4 5.1 19.5 5 17 5.1 14.5 5 12.4 5.1 10.4 5 8.6 5.1 7 5 5.5 5.1 4.1 5 2.9 5.1 1.7 5.1 .6 5-.4 5.1-1.3 5-5.8 15.2-26.3 10.1-18.8 15.2-30.6 10.1-22.1 10.1-23.8 10.1-25.6 5-14.6 10.2-32.3 5-14.2 5.1-11 5-7.5 5.1-4.2 5-1.5 5.1-.6 5-1.7 5.1-1 5.1 0 5 .8 5.1 1.4 20.2 7.1 20.2 6.5 15.2 5.7 5 2.4 10.1 6.3 10.1 7.5 10.2 8.3 5 4.6 5.1 5.4 10.1 13.8 10.1 15.7 5 8.9 10.1 19.6 5.1 8.5 4.9 7.4 3.3 6 5 12.9 13.1 44.1 8.3 22.5 6.6 16.3 11.5 23.2 6.2 14.2M64.9 347.2l45.5-25.6 25.3-15.3 20.2-12.7 20.2-13.4 20.3-14 35.3-26.2 20.3-16.1 15.1-12.6 30.4-27 30.3-29.4 10.1-10.5 15.2-17.5 5-5.2 5.1-4.2 5-3.1 5.1-1.9 5-.9 15.2-1.4 30.3-.2 10.1 .4 10.2 1.4 10.1 2.4 5 1.9 5.1 2.6 10.1 6.5 10.1 7.8 10.1 8.6 5.1 4.7 5 5.4 5.1 6.5 15.1 23.4 5.1 8.7 10.1 20 4.9 8.2 8.3 11.8 3.3 6.3 4.9 13.6 9.9 32.3 6.6 17.8 9.9 23.4 15.1 28.6M89.8 20l35.8 4.6 20.2 3.3 20.2 3.8 20.3 4.3 20.2 4.9 20.2 5.4 20.2 5.9 35.4 11.6 40.4 15.3 10.1 11.5 5.1 4 5.1 2.4 5 1 5.1-.6 5-2.3 10.1-7 10.1-5.8 5.1-1.9 5.1-1 5-.3 35.4 1.2 15.2 2.1 10.1 3 5 2 15.2 8.8 10.1 7.1 15.2 11.9 5 4.6 5.1 5.5 10.1 13.8 10.1 15.6 5 8.9 11.7 22.4 9.9 16.2 4.9 11.9 13.2 45.4 9.9 28.5 6.6 17.2 13.1 28.7 7 18.4M179.5 352.3l21.9-23.6 25.3-29.5 15.2-19.2 10.1-13.4 20.2-28.7 20.2-31.6 20.2-35 10.1-19 5.1-10.7 10.1-23.3 5.1-9.8 5-7.3 5.1-4.7 5-2 5.1 0 5 .4 15.2-1.4 30.3-.9 15.2 .4 10.1 1.1 10.1 1.9 5.1 1.2 5 1.8 10.1 6.5 10.1 8.6 10.2 10.7 10.1 12.4 5 7.5 5.1 8.7 20.2 39.3 10.1 21.5 4.9 8.6 6.6 9.4 3.3 5.7 5 12.3 9.8 30.6 6.6 16.8 9.9 21.7 13.2 22.8 4.9 10.2M135.9 352.3l35.2-25.5 30.3-23.7 30.3-25.9 25.3-23.4 15.2-15 15.2-15.7 15.1-16.7 15.2-17.6 15.1-18.6 15.2-19.8 15.2-23.4 5-6.1 5.1-4.3 5-2.1 5.1-.1 10.1 2.2 25.3 .2 10.1 .7 5 1 10.2 3.5 10.1 5.4 5 3.4 5.1 4.1 15.1 14.1 10.2 10.4 5 6.2 15.2 21.4 5 7.5 10.1 16.7 5.1 7.7 5 6.3 5.1 7 1.6 2.9 5 12.1 11.5 36.1 9.9 25.3 6.6 15.1 9.9 18.6 4.7 10M201.6 20l4.9 42.3 5 33.3 5.1 25 5 18.6 5.1 13.6 5 9.7 5.1 6.8 5.1 4.6 5 1.7 5.1-3.1 30.3-18.9 25.3-16.6 30.3-21 15.2-11.6 5-3.3 5.1-2.5 5-1.6 5.1-.8 15.2-.1 20.2 1.9 15.1 .7 5.1 .6 5 1.1 10.2 3.8 10.1 5.3 10.1 6.6 15.1 11.6 5.1 4.6 5.1 5.5 10.1 14 10.1 16 5 9 10.1 19.8 10.1 16.3 5.1 10.7 1.6 4.6 13.2 44.4 9.9 27.3 6.6 16.1 11.5 23 5.7 13.3M600.1 352.3l4.2-24.2 1.7-1.8 1.6 .8 1.7-5.9 1.6-14.8 1.7-10.7 1.6 7.4 3.3 43.2 .8 6M204.6 352.3l6.9-33.7 5.1-21.6 10.1-37.5 10.1-31.3 5.1-7.8 35.3-27.4 35.4-29.8 30.4-27.9 10.1-9.7 15.1-16.4 5.1-4.9 5-3.9 5.1-2.9 5.1-1.7 5-.8 15.2-1.3 25.2-1.1 5.1 .5 5.1 1.1 10.1 3.9 15.1 7.6 20.3 12.1 5 3.8 5.1 4.8 5 6.1 10.1 14.3 5.1 8.7 15.1 32.1 8.4 15.6 3.3 7.4 4.9 15.1 11.6 42 8.2 24.3 8.2 21.4 11.6 23.9 6.2 15M624.9 352.3l5.8-14.1 1.6-3.1 1.7-1.9 1.6-.3 1.7 1.3 1.6 2.7 6.3 15.4M212.6 352.3l4-9.1 20.2-30.1 20.2-33.1 15.2-27.3 15.2-29.8 15.1-32.7 10.1-23.7 5.1-12.8 15.1-44.6 5.1-11.5 5.1-7.7 5-4 5.1-.7 5 1 5.1 .2 5-.9 10.1-.5 25.3 1.1 10.1 1.1 15.2 3.3 25.3 8.2 5 2.2 5.1 2.8 15.1 9.3 5.1 4 5.1 5.1 5 6.1 10.1 14.1 5.1 7.8 15.1 28.6 10.1 17.1 5.1 12.9 13.2 47.2 9.9 29.6 6.5 17.7 13.2 29.7 7.3 19.4M224 352.3l12.8-32.1 10.1-22.3 10.1-20.4 15.2-28.6 30.3-46.8 20.2-34.5 15.2-28.3 15.2-33.9 5-9.5 5.1-6.7 5-3.6 5.1-.7 10.1 3.5 5.1 .9 20.2 5.1 25.2 4 5.1 1.4 10.1 4.2 10.1 5.6 10.1 7.6 15.2 13.5 10.1 10.2 5.1 6.2 5 7.3 10.1 15.8 5.1 8.3 15.1 28 8.4 12.5 3.3 5.7 4.9 12.2 13.2 42.8 8.2 21.8 8.3 19.3 9.9 18.7 5.8 12.8M64.9 335.6l45.5-27.7 40.5-26.6 20.2-14.2 20.2-14.9 35.4-27.7 20.2-16.9 15.2-13.4 20.2-18.6 15.2-14.6 25.2-25.8 15.2-16.5 15.2-18.2 5-5.2 5.1-4.4 5-3.6 5.1-2.7 20.2-8.2 30.3-10 10.1-1.6 5.1-.1 5.1 .8 5 1.5 5.1 2.2 5 3.2 10.1 8.8 35.4 37.2 10.1 13.7 10.1 15.8 5.1 8.7 10.1 20.3 4.9 9.1 6.6 10.7 5 10.7 3.3 9.9 9.8 35.7 5 15.9 9.9 28.1 6.6 15.8 1.6 2.9 1.6 2 1.7 .3 1.6-2.1 1.7-4.8 3.3-12.8 1.6-2.7 1.7 3.2 1.6 9.4 3.3 25.8 1.7 9.4 2.3 8.9M224.8 352.3l17.1-24.2 15.1-23.4 15.2-25.4 15.2-28 15.1-31 10.1-22.7 5.1-12.3 15.1-42.7 5.1-11.3 5.1-7.7 5-4 5.1-.9 5 .3 5.1-1 15.1-5.3 20.3-4.8 20.2-5.6 10.1-2.3 10.1-1 10.1 .5 5.1 .8 5 1.4 5.1 2.3 10.1 6.3 10.1 7.9 10.1 9.5 5.1 6 10.1 15 10.1 16.8 15.1 29.8 10 16.5 3.3 6.6 5 13.9 11.5 39.5 8.2 23 8.3 20.6 11.5 23.2 5.8 13.7M215.1 20l1.5 29 5 74.8 5.1 56.2 5 41.9 5.1 30.7 5.1 22.1 5 15.4 5.1 10.3 5 6.3 5.1 3 5 .6 5.1-1.7 15.2-23.2 10.1-16.6 10.1-17.5 10.1-18.7 15.1-30.3 10.2-22 5-12.1 10.1-27.5 5.1-12.6 5-10 5.1-6.6 5-3.2 5.1-.8 5.1 0 15.1-4.1 5.1-.8 20.2-1.3 10.1 .3 5.1 1.1 5 1.9 5.1 2.6 10.1 6.1 10.1 7.3 15.2 12.7 5 4.8 5.1 5.7 10.1 14.3 10.1 16.1 5 9 10.1 19.9 5.1 8.6 4.9 7.2 3.3 6 5 12.8 13.1 43.5 11.6 30.3 3.3 7.7 4.9 9.8 5 8.4 9.6 14.9M635.3 352.3l2-2.8 1.6-1.5 1.7-.5 1.6 .5 1.7 1.5 2 2.8M159.8 352.3l6.2-13.1 10.1-19.2 15.2-25.3 15.2-22.1 10.1-13.4 10.1-12.6 20.2-23.3 30.3-32.5 30.4-27.3 25.2-24.6 20.3-20.9 15.1-17.8 5.1-5.2 5-4.1 5.1-2.8 5.1-1.4 10.1-.5 30.3-3.5 5 0 5.1 .6 5.1 1.1 5 1.7 10.1 4.5 10.1 5.8 15.2 10.9 5.1 4.4 5 5.4 5.1 6.4 15.1 23.2 5.1 9.3 10.1 20.7 10.1 17.4 4.9 11 5 15.8 9.9 35.8 8.2 24.7 8.2 22.4 13.2 29.4 7.1 19.1M111.7 352.3l8.8-25.9 5.1-12.6 5.1-11.4 10.1-19.5 10.1-16 10.1-13.3 10.1-11.4 15.2-14.3 50.5-24.7 40.4-21.2 40.5-22.8 45.5-27.5 10.1-4 5-1.2 10.2-1.1 10.1 .5 20.2 3.8 10.1 2.5 10.1 4.2 10.1 6 15.2 10.9 25.3 19.5 5 4.5 5.1 5.5 15.1 19.3 5.1 7.3 10.1 16.5 13.4 18.2 4.9 11.4 11.6 35.5 6.5 16.7 9.9 22.5 12.4 22.1M239 20l2.9 40.2 5 53.6 5.1 39.3 5 28.7 5.1 20.4 5 14.2 5.1 9.4 5 1.4 20.3-22.4 20.2-24 20.2-26 5.1-6.9 15.1-23.5 5.1-6.6 5-5 5.1-3 5-1.1 10.2 .9 30.3-.6 15.1 .4 15.2 2.6 10.1 3.1 5.1 2.5 10.1 5.8 15.2 10.2 10.1 7.9 5 5.3 5.1 6.4 10.1 14.3 5 8.1 15.2 28.7 8.2 12.6 3.3 6.4 5 13.8 11.5 39.5 8.2 23.1 8.3 20.6 11.5 23.1 3.9 8.9M161.8 352.3l4.2-16.5 5.1-17.2 5-15.1 5.1-13.2 5.1-11.6 5-10.4 5.1-9.2 5-5.5 25.3-16.1 20.2-13.6 25.3-17.8 20.2-15.1 20.2-15.9 20.2-16.7 20.3-17.6 15.1-14.4 5.1-4 5-3.1 5.1-2.4 20.2-6.1 5.1-.8 20.2-1.5 5 .2 5.1 1.1 5.1 2.2 5 3 15.2 11.4 10.1 8.3 10.1 9.5 5.1 5.7 5 6.8 5.1 7.8 10.1 16.8 5 9.3 10.1 20.9 5.1 9.1 5 8 5.1 10.3 4.9 14.2 9.9 33 6.6 18 9.9 23.6 13.4 24.6M268 20l4.2 58 5 52.3 5.1 39.3 5.1 27.6 20.2-16.2 20.2-17 25.3-22.6 15.1-14.8 5.1-4.3 5-3.5 10.2-5.4 15.1-6.9 5.1-1.5 15.1-3 5.1-.5 5 .7 5.1 2.3 5.1 3.3 5 4.3 10.1 10.6 10.1 8.5 5.1 5 5 6 5.1 7 15.2 24.6 15.1 30.2 10.1 16.9 5.1 11.5 13.4 45.1 8.2 23.1 5 12.7 4.9 11.3 9.9 18.7 4.2 9M181 20l5.3 69.6 5 52.9 5.1 42.1 5 33.2 5.1 26 5 20.2 5.1 15.3 5 11.5 5.1 8.3 5 5.6 5.1 3.5 5.1 1.7 5 .3 5.1-.9 5-3.1 20.2-24.6 15.2-19.9 10.1-14.1 15.2-22.5 10.1-16 20.2-34.8 5.1-9.5 15.1-31.5 5.1-8.8 5-6.3 5.1-3.4 5.1-.8 5 .5 5.1-.3 5-1.6 5.1-.7 5 .2 20.2 4.2 5.1 1.3 5.1 2.5 5 3.2 10.1 7.8 15.2 9.2 10.1 7 5.1 4.4 5 5.6 5.1 6.8 10.1 15 5 8.3 10.1 19.7 5.1 8.8 5 7.4 5.1 9 4.9 12.7 11.6 38 8.2 22 8.2 19.6 14.5 27.7M64.9 63.1l55.6 13.8 60.7 14.1 55.6 12 55.6 11.3 5.1 5.6 5 8 5.1 5.4 5 2.8 5.1 .1 5-3.4 5.1-7 5-9 5.1-7.8 5.1-5.7 5-3.3 5.1-1.1 10.1 1.1 10.1 .5 25.3 4.6 10.1 2.4 10.1 3.4 15.1 5.7 10.2 4.3 10.1 5 10.1 6.4 10.1 8 5 5.1 5.1 6.3 15.2 22 15.1 27.5 10.1 15.4 5.1 10.9 5 15.7 8.4 28.3 11.5 31.5 6.6 15.6 9.9 19.4 6.3 14.3M64.9 330.4l40.5-19.2 35.4-17.9 35.3-19.2 30.4-17.5 25.2-15.6 20.3-13 20.2-13.7 20.2-14.4 20.2-15.1 20.2-15.9 20.3-16.8 15.1-14 5.1-3.8 5-3.1 5.1-2.4 5.1-1.7 10.1-2.1 5-.8 5.1-.1 10.1 .9 10.1 1.9 5 1.6 5.1 2.3 5.1 2.9 15.1 10.2 5.1 3 10.1 5.6 15.2 7.6 5 3.4 5.1 4.7 5 5.7 10.1 13.2 5.1 7.6 10.1 18.4 5 8.2 6.7 9.6 3.3 6 5 13 11.5 37.2 6.6 17.4 9.9 23.2 13.1 24.6M233.1 20l3.7 50.4 5.1 49.9 5 36.1 5.1 12.4 30.3-16.7 25.3-14.5 30.3-18.3 25.3-16.1 5-2.4 5.1-1.8 5-1.1 35.4-3.7 10.1-.3 10.1 1 5.1 1.2 5.1 1.7 10.1 4.3 5 2.8 10.1 7.8 15.2 14.6 5.1 5.8 5 6.7 10.1 16.8 10.1 18.8 15.2 31.3 5 8.8 6.7 10.3 3.3 6.6 5 13.9 9.9 31.9 6.5 17.3 9.9 23 11.6 21.2 5.7 12.6M207.4 352.3l29.4-29.3 25.3-27.4 25.3-29.8 25.2-32.8 15.2-21.3 10.1-15.1 20.2-32.2 15.2-26.2 5-9.7 10.2-21.6 5-9.5 5.1-7.4 5-4.9 5.1-2.2 10.1-.2 10.1-2.5 5-.5 5.1 .6 5.1 1.5 5 2.5 15.2 10.7 5 4 10.1 9.4 5.1 5.8 5.1 7.1 5 8.3 10.1 18.6 5.1 10.1 15.1 34.9 10.1 20 5.1 14.2 13.2 47.3 8.2 23.9 8.2 21 11.6 23.2 4.2 9.5M67.8 352.3l47.7-23.3 50.5-25.6 50.6-26.5 50.5-27.3 5.1-1.5 5 1.3 5.1 0 5.1-1.5 5-3 5.1-4.7 5-6.4 10.1-17 15.2-28.2 10.1-20.1 10.1-21.3 5.1-12 10.1-26.8 5-11.4 5.1-8.5 5-4.9 5.1-1.4 5.1 1.3 5 2.2 5.1 .8 30.3 2.2 5 1.1 5.1 1.6 5.1 2.2 10.1 5.9 10.1 7.2 15.1 13.2 10.2 10.7 5 6.7 5.1 7.7 10.1 16.6 5 8.9 10.1 19.9 5.1 9.2 10.1 15.8 1.6 3.6 5 13.8 11.5 38.6 6.6 18.1 8.2 20.6 13.2 26.6 6.5 15.6M64.9 227.5l40.5 6.8 45.5 7 40.4 5.6 45.5 5.7 5.1 2 5 5.9 5.1 4.1 5 2.2 5.1 .2 5-1.7 5.1-3.8 5-5.9 15.2-20.2 15.2-21.7 15.1-23.3 15.2-25 10.1-17.8 15.2-31.3 5-8.5 5.1-6.3 5-3.5 5.1-1 10.1 1.7 10.1 .6 20.2 2.3 10.1 1.8 10.2 2.9 10.1 3.9 5 2.5 10.1 6.4 10.1 7.9 15.2 12.9 5.1 5.3 5 6.3 5.1 7.3 15.1 24.4 10.1 20 5.1 9.1 8.2 12.1 3.3 6.4 5 13.7 9.8 32.9 8.3 22.5 9.9 23.6 9.8 18.6 4.9 10.2M134 20l1.7 35.7 5.1 87.5 5 70.9 5.1 57.3 5 46 4.8 34.9M248 352.3l19.1-31.7 15.2-27.4 15.2-29.8 15.1-32.8 15.2-36.3 10.1-26.6 5.1-14.5 10.1-34.7 5-15.9 5.1-12.4 5-8.1 5.1-3.7 5-.1 5.1 1.7 5.1 .4 10.1-1 20.2-.8 10.1 0 5 .6 5.1 1.1 5.1 1.7 10.1 4.6 5 2.9 10.1 7.1 15.2 13 10.1 10.5 5.1 6.6 5 7.7 10.1 16.4 5.1 8.7 10.1 20.5 5 9.2 6.7 10.5 3.3 6.5 5 13.4 13.2 45.7 8.2 23.4 6.6 17.1 13.2 28 7.2 18.5M173.1 352.3l28.3-30.1 25.3-29.5 25.3-32.3 20.2-28.4 20.2-31.2 20.2-34.3 15.2-28.5 10.1-23.2 5.1-10.5 5-8.1 5.1-5.2 5-2.4 5.1 0 5 1.1 5.1 0 10.1-1.7 20.2-4.6 10.1-1.2 10.1 .4 10.1 2.5 5.1 1.7 10.1 4.2 5.1 2.4 5 2.9 10.1 8.2 15.2 13.9 5.1 5.6 5 6.7 5.1 7.6 15.1 25.1 10.1 20.5 5.1 9.2 5 7.9 5.1 9.1 4.9 13.4 13.2 45.3 8.2 23.2 6.6 16.8 13.2 27.6 6.3 15.9M230.1 352.3l16.8-28.1 15.2-27.5 15.1-29.9 10.2-21.5 15.1-35.1 15.2-39.1 5-14.1 15.2-50.7 5.1-14.5 5-10.5 5.1-5.8 5-1.3 10.1 2.6 10.1-1.8 10.2-.7 20.2 .5 15.1-.6 5.1 .3 5 1 10.2 3.4 10.1 5.2 20.2 12.8 5 4 5.1 5 5.1 6.3 5 7.2 10.1 15.6 5.1 8.8 10.1 19.8 10.1 16.2 5 10.2 5.1 15.1 9.9 36.4 9.9 30.1 6.5 18.2 14.9 34.9 6.6 19 1.6 2.2 24.4 6.4M64.9 53.2l20.3 21.7 20.2 20.7 20.2 19.7 25.3 23.4 25.2 21.9 20.3 16.5 20.2 15.5 25.3 18.1 5 6 5.1 11.3 5 8.4 5.1 5.5 5 2.5 5.1-.4 5-3.6 5.1-6.5 10.1-15.3 15.2-24.5 15.1-26.6 5.1-9.7 10.1-22.4 5.1-10 5-7.7 5.1-5 5-2.3 5.1-.2 5 .8 5.1-.2 25.3-2.1 25.2-3 15.2-.7 10.1 .8 5.1 .8 5 1.3 10.1 5.1 10.1 6.7 10.2 7.9 10.1 8.9 5 5.6 10.1 14.1 10.1 15.8 5.1 8.9 10.1 19.7 3.3 5.7 8.2 12.4 5 11.3 13.1 43.6 9.9 27.1 6.6 16.1 11.5 22.7 5.7 12.8M109.3 352.3l6.2-21.8 10.1-31 5.1-13.6 10.1-24 10.1-20.4 10.1-17.5 10.1-15.2 10.1-13.4 5.1-3 50.5-26.2 40.4-22.5 35.4-20.9 30.4-18.8 20.2-13.2 10.1-5.7 10.1-3.9 10.1-2.1 25.3-1.2 5 .3 5.1 .9 10.1 3.3 10.1 4.9 25.3 15.2 5 3.6 5.1 4.6 5.1 5.9 5 6.8 10.1 15.1 5.1 8.8 10.1 20.8 10.1 18.5 5 11.6 5.1 16.5 9.9 37.5 9.9 30.8 6.5 18.4 13.2 30.3 7.6 20.6M619.2 352.3l1.6-7.8 1.6-5.2 1.7 2.8 2.2 10.2M64.9 303.9l40.5-21.6 40.4-23.3 35.4-21.9 35.4-23.6 30.3-21.8 30.3-23.3 35.4-29.4 10.1-9 15.2-14.6 5.1-4 5-3.1 5.1-2.3 5-1.5 15.2-2.7 30.3-3.7 10.1 0 10.1 1.8 10.1 3.4 10.2 4.9 10.1 6.3 10.1 7.8 5 4.5 5.1 5.2 5 6.3 5.1 7.5 10.1 17.3 5.1 9.7 15.1 34.3 10.1 19.3 5.1 13.1 11.7 39.6 6.6 17.8 9.9 22.4 13.2 22.9 4.8 10.1M64.9 111.8l25.3 8.9 15.2 4.6 15.1 4 15.2 3.4 15.2 2.8 15.1 2.2 15.2 1.6 15.2 1.1 20.2 .5 15.1-.3 15.2-.9 20.2-2.1 15.2-2.3 20.2-4 15.2-3.6 5 2.2 5.1 2.9 5 1.1 5.1-.6 5.1-2.4 5-4.4 5.1-7 10.1-16.7 5-6.9 5.1-5.6 5-4.3 5.1-3.1 10.1-4.7 5.1-2.1 5-1.4 5.1-.9 10.1-.3 10.1 1.1 10.1 1.8 15.2 4.4 5 2.2 5.1 3.1 10.1 7.5 10.1 9.2 10.1 10.7 10.1 11.2 5.1 6.2 5 7.2 15.2 24.8 5 8.9 11.7 23 4.9 8.6 6.6 10 3.3 6.5 4.9 13.8 11.6 39 8.2 22.7 8.2 20.4 11.6 23 5.7 13.5M238.5 352.3l3.4-27.4 5-33.7 5.1-27.5 5-22.6 5.1-18.8 5-15.6 5.1-13.1 5-11.2 5.1-9.6 5.1-8.4 5-7.5 10.1-12.7 5.1-4.7 40.4-30 10.1-7.9 15.2-13.1 5-3.5 5.1-2.6 5.1-1.6 15.1-1.4 20.2-5.8 5.1-1 5-.4 5.1 .4 5.1 1.1 5 1.9 5.1 2.7 5 3.6 5.1 4.5 5 5.3 10.1 12 10.2 14.2 5 8.4 20.2 36.9 10.1 20.5 5.1 8.7 5 7.1 5.1 8.6 4.9 13.1 11.6 38.8 6.6 18.6 9.8 25.5 13.2 28.3 7.5 19.9M615.4 352.3l5.4-12.6 1.6-3.3 1.7-1.7 1.6 .3 1.7 2.3 6 15M165.7 20l5.4 89 5 66.6 5.1 53.9 5.1 43.6 5 34.9 5.1 27.7 3.8 16.6M239.4 352.3l17.6-25.5 15.2-23.9 15.2-25.9 15.1-28.4 15.2-31.5 10.1-22.9 5-12.1 5.1-13.4 10.1-30.1 5.1-13.2 5-10 5.1-6 5-2.3 10.1 1.2 10.2-2 10.1-.7 25.2 1.2 25.3 .2 10.1 1.1 5.1 1.4 10.1 4 10.1 5.3 5.1 3.1 15.1 10.7 5.1 4.1 5 4.9 5.1 6 5 6.9 10.1 15.2 5.1 8.4 9.9 19 4.9 8.4 6.6 9.8 3.3 6.2 4.9 13.3 11.6 39.1 9.9 27.1 6.5 16.1 11.6 22.7 5.5 12.5M147.4 352.3l3.5-13.3 5-15.9 5.1-13.1 5-11.2 5.1-9.6 5-8.4 5.1-7.3 25.3-22.4 20.2-19 20.2-20.3 20.2-21.7 20.3-23.1 15.1-18.5 15.2-19.4 15.1-21.5 5.1-6.4 5.1-5 5-3.4 5.1-2.2 20.2-6.7 5-1.1 10.2-1.2 25.2-1.2 10.1 .5 10.1 1.8 5.1 1.4 10.1 3.7 10.1 4.9 10.1 7.3 15.2 13.6 5.1 5.3 5 6.3 5.1 7.5 15.1 26.7 5.1 9.8 10.1 21.6 5 9.1 6.7 10.9 3.3 7 5 14.4 9.9 33.9 6.5 18.7 9.9 24.8 13.2 26.4 6.7 16.3M64.9 342.2l25.3-15.6 20.2-13 40.5-27.8 20.2-14.9 20.2-15.5 35.4-29.2 20.2-17.9 15.2-14.1 30.3-30.1 15.2-16.1 15.1-16.9 10.1-11.8 10.2-13.3 5-6 5.1-4.8 5-3.5 5.1-2.3 5-1.3 15.2-2.6 35.4-1.9 15.1-.2 10.2 1 10.1 2.1 5 1.8 5.1 2.8 5 3.4 10.1 8.7 10.2 10.9 10.1 12.9 5 7.7 20.2 34.7 10.1 19.1 6.7 11.1 6.6 9.6 3.3 6.2 5 13.4 11.5 38.8 9.9 27.3 6.6 16.3 13.1 27.4 5.5 13.7M64.9 280.9l45.5-18.8 40.5-17.7 40.4-19 40.4-20.1 35.4-18.9 35.4-20 35.4-21.4 15.2-9.6 15.1-10.4 5.1-2.7 5-1.9 5.1-.8 5.1 .2 10.1 1.4 10.1 .9 10.1-.6 10.1-2.3 15.2-4.7 5-1.1 5.1-.8 5-.3 5.1 .8 5 1.5 5.1 2.1 10.1 5.7 10.1 7.3 10.1 8.5 5.1 4.8 5 5.6 5.1 6.8 5 7.9 10.1 16.7 15 28.2 4.9 8.4 6.6 9.5 3.3 5.9 4.9 12.7 11.6 37.8 8.2 21.9 8.2 19.5 11.6 21.3 3.4 7.1M64.9 227.2l40.5-18 35.4-16.6 40.4-20 35.4-18.3 35.4-19.3 35.4-20.4 40.4-24.6 20.2-13.8 5.1-2.7 5-1.9 5.1-.7 5 .3 10.1 2 20.3 2.1 15.1 2.8 40.5 11 5 1.9 5.1 2.9 15.1 10.4 10.2 8.6 5 5.6 10.1 14.1 10.1 16 5.1 9.2 10.1 20 10.1 16.6 3.3 7 4.9 14.5 11.6 41.1 9.8 28.9 6.6 17.3 13.2 28.9 7.7 20.2M619.3 352.3l4.8-4.8 1.6-1.1 1.7-.4 1.6 .3 1.7 1.1 4.4 4.9M187 352.3l29.6-32.1 25.3-29.8 25.2-32.5 20.3-28.3 15.1-22.8 10.1-16.1 15.2-25.5 10.1-18 15.2-28.7 5-10.8 10.1-23.7 5.1-9.9 5-7.4 5.1-4.5 5.1-1.6 5 .6 5.1 1.1 25.2-.4 5.1 .4 5 1.1 5.1 1.9 5.1 2.7 5 3.4 20.2 16.4 10.1 8.9 5.1 5.4 5.1 6.3 10.1 15.3 10.1 16.7 15.1 29.2 10.1 16.4 5.1 12 13.2 47.4 11.5 34.6 6.6 17.3 11.5 26 8.3 22.7 1.6 2.1 18.1 4.2M102.6 20l2.8 46.9 5 66.7 5.1 51.1 5 39 5.1 29.6 5.1 22.3 5 16.5 5.1 12.1 5 8.5 5.1 5.8 5-2.8 20.2-15.1 35.4-28.4 30.4-26.6 30.3-28.9 25.3-26.3 25.2-28.5 25.3-31 15.2-22.1 5-6.1 5.1-4.8 5-3.4 5.1-2.3 10.1-3.1 10.1-3.9 20.2-5.2 5.1-.8 5-.2 5.1 .5 5.1 1.2 10.1 4.3 10.1 5.9 15.1 11 10.2 8.7 5 5.2 5.1 6.2 5 7.2 10.1 15.4 5.1 8.4 10.1 19.6 5 8.7 5.1 7.3 3.3 5.6 3.3 7.1 4.9 14.8 11.6 39.5 11.5 32.3 4.9 12.4 11.6 25.8 8.2 22.9 1.6 2.5 2 .8M64.9 292l45.5-24 40.5-21.9 40.4-22.5 45.5-26 85.9-50.9 5.1-2.4 5-3.8 10.2-9 5-3.5 5.1-2.2 10.1-1.8 5-2.3 20.3-10.7 10.1-4.2 5-1.3 5.1-.8 5-.4 10.1 .5 15.2 2.7 15.2 4 5 2.2 10.1 6.9 15.2 12.7 5.1 4.9 5 5.7 5.1 6.9 15.1 24.1 5.1 9.2 10.1 20 10.1 16.3 3.3 6.1 4.9 13.2 11.6 38.5 8.2 22.4 8.2 20 11.6 22.3 4.2 9.4M85.4 20l4.8 66.7 5.1 56.2 5 44.8 5.1 35.4 5 27.9 5.1 21.7 5 16.8 5.1 12.8 5.1 9.4 5 6.8 5.1 4.6 5 2.9 5.1 1.4 5 .2 5.1-1.8 20.2-19.2 15.2-15.1 20.2-21.2 15.1-16.9 15.2-17.8 15.2-18.8 15.1-19.8 15.2-21.1 15.2-22.4 15.1-23.8 5.1-8.6 10.1-19.6 5.1-8.7 5-7 5.1-4.8 5-2.4 5.1-.4 5 .6 5.1 .1 45.5-2.3 15.1-1.2 20.3-2.1 5 0 5.1 1.3 5 1.8 5.1 2.4 5 3 10.2 8.2 10.1 10.1 5 5.9 5.1 6.9 5 8 15.2 27 5 10 10 21.4 3.3 6.5 6.6 11.3 3.3 6.9 5 14.2 11.5 41.2 9.9 28.9 6.6 17.3 13.1 28.4 7 18.3M244.9 352.3l2-11.4 5.1-23.5 5-20.1 5.1-17.2 5-15 5.1-13.2 10.1-22.3 10.1-18.6 10.1-16.3 20.2-24 15.2-18.8 20.2-26.9 15.2-23.8 5-6.4 5.1-4.4 5.1-2.5 5-.7 10.1 .1 20.2-5.5 10.1-1.5 5.1-.1 10.1 1.5 5.1 1.4 5 2.3 5.1 3.3 5 4 10.1 9.8 10.2 11.4 10.1 13 5 8 10.1 18.1 10.1 19.2 10.1 22.1 5.1 9.7 6.6 10.5 3.3 6.2 4.9 13.1 11.5 39.3 8.3 23.1 8.2 20.5 11.5 22.8 5.7 12.8M64.9 79.9l30.4 11.9 25.2 9.1 30.4 10 25.2 7.5 30.4 8.1 25.2 5.9 25.3 5.1 30.4 5.3 5 2.7 5.1 11.1 5 7.8 5.1 4.3 5 .8 5.1-3 5-7.5 15.2-41.2 5.1-10.2 5-6.5 5.1-3 5-.3 5.1 .5 10.1-2.2 10.1-1.3 25.3-1.2 10.1 .1 10.1 1.3 10.1 2.8 10.1 3.8 10.1 4.8 10.1 6.9 10.1 8.1 5.1 4.7 5.1 5.8 5 7.1 5.1 8.2 10.1 18.2 5 10.2 10.1 22.6 5.1 9.7 5 8.5 5.1 10.5 4.9 14.7 9.9 33.8 6.6 18.3 9.9 24.1 11.5 21.8 5.8 12.7M159 20l2 31.3 5 58.1 5.1 42.4 5 30.6 5.1 22 5.1 15.5 5 10.5 5.1 7 5-1 10.1-7.5 30.4-23.5 25.2-21 20.3-17.8 20.2-18.9 20.2-19.8 15.2-17.1 5-4.9 5.1-3.7 5-2.5 5.1-1.1 10.1 .1 40.4-1.7 5.1 .1 10.1 .9 10.1 1.9 10.1 2.6 5.1 1.5 5 2.2 5.1 3.3 10.1 7.8 15.2 13.5 5 5.5 5.1 6.6 15.1 23.8 5.1 8.7 10.1 20.3 5 8.9 6.7 10.2 3.3 6.3 5 13.4 11.5 39 8.2 22.7 8.3 20.4 11.5 22.7 5.7 13M64.9 232.8l35.4-13.3 35.4-14 35.4-14.6 35.4-15.2 30.3-13.7 30.3-14.2 55.6-27.5 20.3-10.9 10.1-4.5 5-1.8 10.1-2.6 5.1-.8 30.3-1.7 20.2 .3 10.1 1 10.2 1.8 10.1 2.4 5 1.9 10.1 6.4 10.1 8 10.2 8.8 10.1 10.1 5 6.3 10.1 15 10.1 16.2 15.2 28.8 8.2 12.6 3.3 6.4 5 13.6 8.2 28.6 4.9 15.7 9.9 26.7 6.6 15.2 6.6 12.3 1.6 2.3 1.7 1 1.6-1.2 3.3-6.6 1.7 .1 1.6 5.7 2.7 14.9M205.5 352.3l21.2-28.8 15.2-22.2 15.1-23.9 15.2-25.6 10.1-18.4 10.1-19.3 10.1-20.6 10.1-21.9 10.1-23.3 15.2-42.8 5.1-11.4 5-7.9 5.1-3.9 5-.3 10.1 4.1 25.3 1.7 20.2 1.9 10.1 .4 10.1-.3 25.3-2.4 5.1 1 10.1 3.1 10.1 5.1 10.1 6.8 5.1 4.2 5 5.2 5.1 6.5 5 7.8 10.1 17.7 5.1 9.8 15 32.8 6.6 11.8 3.3 7.1 5 14.3 11.5 41.7 8.2 24.4 8.3 21.8 13.1 28 6.3 15.8M119.1 20l26.7 46.3 30.3 54.2 30.4 55.8 25.2 47.6 5.1 13.7 5.1 23.8 5 18.9 5.1 14 5 8.9 5.1 3.7 5-1.6 5.1-6.8 10.1-17.6 10.1-18.7 15.2-30.4 10.1-22.1 10.1-23.7 5-12.6 15.2-45.5 5.1-12.6 5-9 5.1-4.9 5-1.4 10.1 1.6 10.2-1.3 5-.1 20.2 1 25.3 .5 15.2 1.4 10.1 2 10.1 3.2 10.1 4.2 10.1 5.2 5.1 3.6 5 4.8 5.1 6.1 5 7.2 10.1 17.1 5.1 10.3 10.1 22.6 9.9 18.8 3.3 7.6 4.9 15.4 8.2 30.6 5 16.4 11.5 32 6.6 14.6 3.3 5.3 1.6 1.3 1.7 .1 3.3-2.9 1.6-.6 1.7 1.2 3.3 5.8 1.6 1.3 3.3-3.8 1.7-1 1.6 .6 1.7 2.4 1.6 3.9 4.9 13.9M125.2 20l5.5 39 5 30.2 5.1 25.4 5 21.4 5.1 17.9 5 14.9 5.1 12.4 5 10.2 5.1 8.3 5 6.7 5.1 5.3 5.1 4.2 5 3.1 5.1 2.3 5 1.5 5.1 .9 10.1 .1 5-.5 5.1-1.9 40.4-24.3 40.5-26.5 25.2-17.6 20.3-14.9 10.1-8 10.1-8.9 5-3.7 5.1-2.6 5.1-1.2 5 .1 10.1 2.5 5.1 .8 10.1 .6 15.1-.8 10.2-.1 10.1 1.1 5 1 5.1 1.6 10.1 4.2 5 2.6 10.2 6.2 10.1 7.4 5 4.8 5.1 5.9 15.1 21.5 5.1 8.2 10.1 18.9 3.3 5.5 8.2 12 3.3 6.5 5 13.7 11.5 38.2 8.2 22.2 8.3 19.8 11.5 22.5 5 11.7M199.5 352.3l17.1-19.9 20.2-25.3 20.2-27.6 15.2-22.6 20.2-32.9 10.1-17.9 10.1-18.9 10.1-20.2 5.1-11.5 10.1-25.1 5.1-10.5 5-7.7 5.1-4.6 5-1.7 10.1 1.3 10.1-.5 25.3 1.4 10.1 1.3 5.1 1 10.1 2.9 15.2 6.3 10.1 5.1 5 3.1 10.1 8 20.3 17.6 5 5.5 5.1 6.4 15.1 21.3 15.2 26.1 10.1 14.9 1.6 3.1 5 12.7 11.5 38.2 9.9 26.5 8.2 19 8.3 15.1 4.9 10.1M259.2 20l2.9 20.7 5 29 5.1 23.5 5 18.8 5.1 15.1 5.1 11.9 5 9.2 5.1 3.7 40.4-27.9 15.2-11 15.1-12 5.1-3.3 5-2.6 5.1-1.7 5.1-.8 30.3-.7 15.1 .3 10.2 1.3 10.1 2.5 5 1.9 5.1 2.6 10.1 6.4 10.1 7.7 15.2 13.1 5 5.2 5.1 6.2 15.1 22.5 5.1 8.2 11.7 22 5 8.1 6.6 9.3 3.3 6 4.9 13 11.5 38.9 9.9 27.8 6.6 16.9 11.5 24.4 6.6 16.1M143.7 20l27.4 30.8 30.3 32.8 25.3 26.3 30.3 30.4 5.1 6.7 5 11.3 5.1 9 5 6.6 5.1 4.2 5.1 1.9 5-.4 5.1-2.7 25.2-17.7 20.3-14.8 10.1-7.9 10.1-8.9 5-3.7 5.1-2.8 5-1.4 5.1-.2 15.2 3.2 10.1 1.4 5 .1 15.2-.7 5 .3 10.2 1.9 10.1 3.4 15.1 6.3 10.1 5.1 5.1 3.5 5.1 4.6 5 5.6 10.1 12.4 5.1 7.1 10.1 17.4 5 8 5.1 7.1 5 9.4 5.1 14.5 11.5 39.1 9.9 27.9 6.6 16.8 11.5 24.7 5.5 13.7M64.9 325.7l50.6-43.4 45.5-37.1 50.5-39 45.5-33.1 50.6-34.5 10.1 3.9 5-.1 5.1-2 5-4.5 5.1-7.9 10.1-21.6 5.1-8.6 5-5.8 5.1-2.8 5-.3 5.1 .8 10.1-.5 10.1 .3 15.2 .9 10.1 1.4 5 1.2 5.1 1.8 10.1 4.9 10.1 6 10.1 7.2 10.1 9.2 10.1 9.9 10.2 11.3 10.1 15 10.1 16.8 5 9.3 10.1 20.7 5.1 9 5 7.8 5.1 9.9 4.9 14 9.9 33.5 8.3 22.9 9.8 23.7 13.7 26.4M225.3 20l87.3 51.8 5.1 3.8 5 10.7 5.1 8.3 5 5.6 5.1 2.7 5.1-.3 5-2.8 5.1-4.4 5-3.6 5.1-1.8 10.1-1.8 10.1-.8 5.1 .1 25.2 3.2 15.2 1.3 5 1.1 5.1 1.9 10.1 5.4 15.2 10.9 15.1 12.7 10.2 10 5 6.3 5.1 7.4 15.1 24.2 10.1 19.9 5.1 8.9 5 7.5 5.1 9.1 4.9 13.4 11.6 39.4 8.2 23.1 8.2 20.7 11.6 23.3 6.4 15.1M612.5 352.3l3.4-57.3 1.6 1.7 3.2 55.6M158.7 20l47.8 58.6 50.5 63.6 5.1 12.7 5 16.5 5.1 12.7 5 8.8 5.1 4.7 5.1 .7 5-3.5 5.1-7.2 15.1-24.8 15.2-26.6 15.2-30.6 5-9.2 5.1-7.3 5-4.8 5.1-2.7 10.1-3.1 10.1-4.6 10.1-3.6 15.2-3.7 10.1-1.7 5-.1 5.1 .7 5 1.5 5.1 2.3 10.1 6.7 15.2 12.7 15.1 13.9 10.2 9.9 5 6 5.1 7 15.1 24.4 5.1 9.5 10.1 20.8 10.1 17.5 3.3 7.1 4.9 14.7 11.6 41.4 8.2 24.4 8.2 21.8 13.2 28.7 6.3 16.5M187.2 20l4.1 79.2 5.1 71.1 5 51.5 5.1 37 5 25.9 5.1 17.8 5 11.7 5.1 7 5 3.5 5.1 .9 5.1-1.1 5-2.6 5.1-3.9 15.1-21.7 15.2-23.2 15.2-25.1 10.1-17.8 10.1-18.9 10.1-20 10.1-21.2 10.1-22.7 15.2-41 5-10.9 5.1-7.6 5-4.3 5.1-1.2 10.1 1.1 10.1-1.6 15.2-1.3 10.1-.5 5 .3 5.1 1 5.1 1.6 5 2.2 10.1 5.7 10.1 7.1 10.1 8.2 10.2 9.3 5 5.5 5.1 6.6 5 7.5 15.2 24.8 10.1 20.2 5 9.1 6.7 10.5 3.3 6.5 5 13.6 11.5 40.5 6.6 19.4 9.9 26.2 11.5 24 1.7 2.6 1.6 1.1 1.6-1.3 1.7-4.6 3.3-13 1.6-3.5 1.7 2.2 4.9 30.5 1.7 6.6 1.1 1.8M612.7 352.3l1.5-2.6 1.7-4.8 4.9-17.7 1.6-3.6 1.7-.8 1.6 2.1 1.7 4.7 4.9 18.5 1.5 4.2M123.8 20l6.9 76 5 45.2 5.1 38.1 5 31.9 5.1 26.6 5 22 5.1 18.1 5 14.7 5.1 11.7 5 9.2 5.1 7 5.1 5.1 5 3.5 5.1 2 5 .8 5.1-.3 5-1.3 5.1-2.1 5-5.3 20.3-28.1 15.1-22.7 15.2-24.5 15.2-26.4 10.1-18.9 15.1-30.5 10.1-21.9 15.2-39.9 5.1-11.3 5-8.2 5.1-4.7 5-1.5 10.1 2.1 15.2-1.2 20.2-2.4 10.1-.4 5.1 .3 10.1 1.8 10.1 3 10.1 4.1 10.1 5.6 10.1 7.9 10.1 9.3 5.1 6.1 10.1 15 10.1 16.9 15.2 30.2 10.1 17.3 5 11.9 13.3 46.3 8.3 24.2 8.2 21.8 13.2 28.2 7.7 20M119.5 20l87 43.4 85.9 43.7 5.1 4.7 5 7.7 5.1 5.8 5 3.9 5.1 2 5 0 5.1-1.8 5-3.8 10.2-8.7 5-3.7 5.1-3 5-2.3 10.1-3.4 5.1-1.4 10.1-1.9 30.3-1.3 10.1 1 5.1 1.4 10.1 4.4 5.1 2.8 10.1 6.7 10.1 8.1 10.1 9 5 4.9 5.1 5.6 5.1 6.7 15.1 23.5 5.1 8.9 10.1 19.8 5 8.6 5.1 7.6 5 10 5.1 14.8 9.9 33.4 11.5 31.2 6.6 15.2 9.9 18.9 4.6 9.9M202.8 20l3.7 64.3 5 67.2 5.1 50.9 5 38.2 5.1 28.4 5 20.6 5.1 14.7 5.1 10 5 6.3 5.1 3.5 5-5.9 15.2-19.5 15.2-20.8 15.1-22.2 10.1-15.7 20.2-33.9 15.2-28 15.2-30.6 15.1-36.9 5.1-9.5 5.1-6.5 5-3.2 5.1-.5 5 1 5.1 .2 10.1-2.5 5-.8 5.1-.2 5 .8 5.1 1.6 5.1 2.3 5 2.9 15.2 11.2 10.1 8.2 5 4.9 5.1 6 5.1 7.2 10.1 16.3 5 8.8 5.1 10 10.1 21.3 10.1 18.2 5 12.7 13.3 46.7 9.9 28.7 6.6 16.9 11.5 23.8 6.5 15.2M239.4 352.3l7.5-44.1 5.1-24.9 5-22.1 5.1-19.6 5-13.4 15.2-21.5 10.1-15.1 15.2-24 10.1-16.9 15.1-26.8 5.1-10 10.1-22.4 5.1-9.4 5-7 5.1-4 5-1 10.1 2.6 5.1-.1 10.1-1.2 20.2-1.6 20.2-.8 10.2 .2 10.1 .6 5 1.2 10.1 5.4 10.1 7.5 15.2 14.4 5.1 5.6 5 6.6 5.1 7.7 15.1 26.5 16.8 34.7 8.3 14.9 3.3 7.1 4.9 14.6 11.5 41.7 9.9 29.3 6.6 17.5 13.2 28.8 7.2 19M231.5 352.3l25.5-29.1 20.2-25 20.3-27 20.2-29.5 15.1-24.1 10.2-17 20.2-36.8 10.1-20 15.2-36.6 5-9.9 5.1-6.7 5-2.9 5.1 1 10.1 7.7 10.1 5.2 5 4 5.1 5.4 5.1 6.6 5 7.7 10.1 17 10.1 14.9 10.1 12.2 25.3 26.8 5.1 5.8 10.1 14.6 5 6.5 5.1 5.5 5 7.8 5.1 12.8 11.5 36.1 11.6 29 4.9 10.8 9.9 18 4.5 9.2M64.9 332.5l40.5-35 35.4-29.5 40.4-32.5 40.4-31.2 40.5-30 40.4-28.6 10.1-2.8 5.1-2.3 5-3.2 5.1-4 5-5.1 5.1-6 15.2-20.6 10.1-14.4 15.1-24.9 5.1-6.3 5.1-4.4 5-2.2 5.1-.2 10.1 1.8 20.2 1.7 5 1.2 5.1 2.2 5.1 3.1 5 3.9 25.3 22.9 5 4.8 5.1 5.6 5.1 6.5 10.1 15.3 10.1 16.4 15.1 28.3 10.1 15.9 5.1 12.1 13.2 48.5 11.5 35.6 6.6 17.9 11.5 27 8.3 23.1 1.6 1.9 26.9 7.3M258 352.3l4.1-14.1 5-15 5.1-13.1 5-11.7 5.1-10.4 15.2-19.5 10.1-13.7 20.2-30 10.1-16.3 10.1-17.3 5.1-9.8 10.1-21.6 5-9 5.1-6.5 5-4 5.1-1.6 10.1-.1 25.3-6.5 10.1-3.1 5-1.3 5.1-.7 5.1 0 5 .8 5.1 1.5 10.1 4.4 5 2.9 15.2 11 10.1 8.3 5.1 5.1 5 6.3 5.1 7.2 10.1 15.4 5 8.6 10.1 19.7 5.1 8.7 6.6 8.7 3.3 5.8 4.9 12.5 9.9 32 6.6 17.9 6.6 15.9 4.9 10.8 12.1 21.8M264.7 352.3l7.5-32.1 5-11.5 15.2-25.5 15.2-27.5 15.1-29.9 10.1-21.5 15.2-35 10.1-25.4 15.2-46.6 5-12.7 5.1-8.7 5.1-4.2 5-.1 10.1 5.1 25.3 2.7 5 1.3 5.1 1.9 5.1 2.6 5 3.1 10.1 7.5 15.2 12.7 10.1 9.5 5.1 5.7 5 6.8 15.2 24.3 5 9 10.1 20.8 5.1 9.2 5 7.8 5.1 9.4 4.9 13.9 11.6 40.3 8.2 23.7 8.2 21.2 13.2 27.5 5.9 14.7M253.6 352.3l3.4-41 5.1-46.9 5-36.3 5.1-28.2 5-22.1 5.1-17.7 5.1-14.2 5-11.7 5.1-9.8 5-8.4 5.1-7.1 25.2-20.5 20.3-17.4 5-3.9 5.1-3.1 5-2.1 5.1-.9 10.1 .6 5.1 1 35.3 12 10.1 2.9 20.3 4.6 5 1.4 5.1 2.1 10.1 5 5 3 10.2 7 10.1 8.1 5 4.9 5.1 6.1 10.1 15.2 10.1 17.5 11.7 24.8 5 9.6 6.6 11.6 3.3 7.3 4.9 14.9 11.5 41.6 8.3 24.5 8.2 21.9 11.5 24.8 7.5 18.9M64.9 113.8l5.1 44.6 5 39.3 5.1 34.6 5.1 30.4 5 26.5 5.1 23.2 5 20.2 5.8 19.7M251.6 352.3l20.6-31.2 15.2-24.9 15.1-26.9 15.2-29.3 10.1-21.1 10.1-22.4 15.2-36.6 5-13.3 15.2-47.6 5-11.7 5.1-7.3 5.1-2.5 5 1.4 5.1 3.5 5 2.2 10.1 .4 5.1 .6 5 1.3 5.1 1.9 10.1 5.7 5.1 3.6 15.1 12.5 15.2 11.7 5 5.1 5.1 6.1 10.1 13.9 5.1 7.5 5 8.6 10.1 18.5 10.1 15.4 5.1 11.5 13.4 45.3 11.5 33.3 6.6 16.5 11.5 24.9 8.3 21.9 1.4 1.5M168.6 20l2.5 25.8 5 42.3 5.1 33.8 5.1 27 5 21.5 5.1 2.7 55.6-25.5 30.3-14.8 30.3-15.4 10.1-4.4 5.1-2.7 15.2-9.5 5-2.5 10.1-4 10.1-3.2 10.1-2.1 35.4-5 10.1-.9 10.1 .2 5.1 .4 10.1 1.8 5.1 1.2 5 1.8 5.1 2.7 10.1 6.7 10.1 8.1 10.1 9 5.1 5.3 5 6.2 10.1 15.2 10.1 16.8 16.8 32.7 8.3 13.7 4.9 12 13.2 45.6 9.9 28.5 6.6 17 13.1 27.8 6.5 16.5M171.2 20l4.9 64.7 5.1 49.6 5.1 37.3 5 27.7 5.1 20.4 5 14.7 5.1 10.4 5 7 5.1 4.4 5 2.4 5.1-2.7 20.2-17.2 20.2-18.3 20.3-19.5 20.2-20.9 20.2-22.4 15.2-19.9 5-5.4 5.1-4.3 5-3.5 15.2-8.9 25.3-19.7 10.1-6.3 5-2.1 5.1-1.2 5-.2 5.1 .5 5 1.2 5.1 1.9 5.1 2.4 10.1 6.3 10.1 8 10.1 9.4 5 5.7 5.1 7 15.2 24.9 5 9.3 10.1 21.2 5.1 9.2 5 8.2 5.1 10.4 5 15.2 11.7 40.8 8.2 23.6 6.6 17.2 13.2 27.9 6.3 15.9M603.3 352.3l6-17.8 1.6-2.5 1.7 .3 1.6 3 5.5 17M628.6 352.3l2.1-3.8 1.6-.5 2.5 4.3M112.2 352.3l33.6-23 35.4-26.1 30.3-24.4 30.4-26.5 20.2-19.1 15.1-15.1 15.2-15.9 15.2-16.8 15.1-17.6 15.2-18.7 5.1-6.6 15.1-22 5.1-5.7 5-3.8 5.1-1.9 5-.2 10.2 1.4 25.2-.3 10.1 .6 10.1 1.6 10.2 2.8 10.1 3.9 5 2.6 5.1 3.6 10.1 8.6 15.2 14.7 5 5.8 5.1 6.8 5 7.7 15.2 24.2 10.1 18.9 5 8.4 6.7 9.2 3.3 5.2 5 11.6 11.5 36.9 9.9 25.8 8.2 18.7 13.3 24.7M634.4 352.3l1.2-12.1 1.7-11.7 1.6 8.1 1.5 15.7M64.9 278l45.5-20 40.5-18.9 40.4-20.1 35.4-18.8 35.4-19.9 35.4-21.2 35.3-22.7 35.4-24.3 10.1-5.4 10.2-3.4 10.1-2.1 30.3-2.5 10.1 .3 5.1 1 5 1.5 10.1 4.2 10.1 5.7 15.2 10.9 10.1 8.4 5.1 5.2 5 6.3 10.1 14.7 10.1 16.7 10.1 19.6 11.7 18.4 3.3 6.8 4.9 14.2 11.5 38.9 11.6 31.3 4.9 11.8 9.9 20.2 6.6 14.5 1.6 2.5 1.6 .5M602.7 352.3l1.6-3.1 1.7-4.8 1.6-2.5 1.7 2 2.5 8.4M64.9 106.9l30.4-4.1 20.2-1.8 15.2-.7 30.3-.3 30.3 1.5 30.3 3.3 20.3 3.2 15.1 2.9 5.1 1.9 5 4.4 5.1 3.3 5 2.2 5.1 1.1 5.1-.1 5-1.3 5.1-2.4 25.2-14.4 30.4-18 5-2.4 5.1-1.9 5-1.2 30.4-4.8 10.1-.8 10.1-.3 10.1 .8 5 .8 10.2 2.2 10.1 3.1 5 2.3 10.1 7.5 10.1 9 15.2 15.2 5.1 5.9 5 6.7 10.1 15.9 10.1 17.2 15.2 29.8 8.2 13.5 3.3 6.7 5 13.9 11.5 40.1 8.2 23.5 8.3 21 11.5 23.8 7.1 17.2M156.3 20l45.1 13.5 40.5 10.7 40.4 9.5 40.4 8.2 15.2 6.6 5.1 .8 5 .3 10.1-1 20.2-5.1 5.1-.9 5.1-.4 10.1 .5 20.2-6.2 5-1.2 10.1-1.5 10.2-.3 10.1 1.1 5 1.8 5.1 3.4 5 4.1 10.1 9.7 10.2 11.5 20.2 24.8 5 7.1 5.1 8.1 15.1 26.3 5.1 9.8 8.2 18 5 9.5 6.6 11.1 3.3 6.9 4.9 14.3 11.5 40.9 8.3 24.2 8.2 21.6 13.2 28.2 6.3 16.4M216.3 352.3l25.6-22.6 25.2-24.2 25.3-26.6 20.2-23.3 20.2-25.5 20.3-28 15.1-22.9 5.1-8.6 10.1-19.2 5.1-8.2 5-6.2 5.1-4.1 5-2.8 5.1-1.5 5-.7 5.1-1.6 15.1-6.2 5.1-1.5 5.1-.4 5 1.1 15.2 7.4 10.1 6.6 15.2 12 5 5 5.1 6.1 15.1 22.6 5.1 8.4 10.1 19.8 5 8.8 8.4 12.6 3.3 6.7 4.9 14.2 9.9 32.7 6.6 17.9 9.9 23.8 14.7 28.4M141.6 20l4.2 69.6 5.1 67.3 5 54.6 5.1 44.1 5 35.5 5.1 28.3 5 22.3 3.1 10.6M193.4 352.3l23.2-26.3 20.2-24.7 20.2-26.6 20.2-29.1 15.2-23.6 10.1-16.8 20.2-36.2 15.2-30.2 15.2-35.4 5-9 5.1-6.3 5-3.2 5.1-.4 5 1.2 15.2 2.2 25.3 6.6 15.1 4.9 15.2 6.6 10.1 5.4 10.1 7.1 15.2 12.5 10.1 9.6 5.1 6.2 5 7.1 10.1 15.7 5.1 8.5 15.1 29 8.4 12.9 3.3 6.3 4.9 13.6 11.6 38.5 8.2 22.3 8.2 19.9 11.6 22.4 4.1 9.3M211.2 352.3l20.5-26.7 20.3-28.6 20.2-31.4 15.2-25.7 15.1-27.9 15.2-30.5 15.1-33.9 10.2-27.8 5-12.6 5.1-10 5-6.6 5.1-3.3 5-.7 5.1 .6 5-.5 10.2-1.9 25.2-2.8 5.1 0 5 .7 5.1 1.6 5 2.3 5.1 2.9 10.1 7.5 15.2 13.3 5 4.6 5.1 5.4 5 6.6 15.2 24 5.1 9 10.1 20.6 5 9.1 5.1 7.9 5 9.8 5.1 14.6 11.7 40.7 8.3 23.6 6.6 17.4 13.1 28.3 8 20.4M614.4 352.3l3.1-11.8 1.6-4.6 1.7-.7 1.6 2 1.7 .7 1.6-2.9 1.7-4.3 1.6-.1 1.7 6.4 2.9 15.3M271.6 352.3l20.8-26.3 15.2-20.7 15.1-22.2 15.2-24 10.1-17.1 10.1-18.1 10.1-19.3 10.1-20.5 10.2-22.5 10.1-27.1 5-11.8 5.1-9 5-5.3 5.1-1.6 5 1.1 5.1 1.7 15.2-.4 5 .9 5.1 1.8 10.1 5 10.1 6.3 15.2 12 10.1 9.3 5 5.7 10.1 14.4 10.1 16.2 15.2 28.7 3.3 5.4 6.6 9.4 3.3 6 4.9 12.9 11.5 38 8.3 22 8.2 19.6 11.5 21.9 3.6 7.6M213 352.3l18.7-23.7 20.3-27.5 20.2-29.9 15.2-24.3 20.2-35.2 20.2-39.2 15.2-32.5 5-12 10.1-27.1 5.1-12.3 5-9.7 5.1-6.7 5-3.4 5.1-.7 5.1 .6 10.1-.4 5 .2 20.2 2.2 10.1 1.8 10.2 3.4 5 2.3 10.1 5.7 5.1 3.3 10.1 7.6 15.2 13.3 5 5.3 5.1 6.2 10.1 15.2 10.1 16.9 15.1 29.8 8.4 13.9 3.3 6.6 4.9 13.7 13.2 46.4 8.2 23.8 8.3 21.3 13.1 28.6 6.2 16.5M64.9 24.3l45.5 30.1 45.5 29.5 45.5 28.9 45.5 28.2 5.1 3.9 5 8.7 5.1 6.8 5 4.8 5.1 2.9 5 .8 5.1-1.1 5.1-3.1 20.2-16.2 20.2-17 20.2-19.3 5.1-3.3 5-1.7 5.1-.1 5 1.2 10.1 3.4 10.2 2.1 5 .6 5.1 .1 5-.6 20.2-5.6 5.1-1 5-.4 5.1 .2 5.1 .8 5 1.4 5.1 2.1 10.1 5.6 10.1 7.3 5 4.6 5.1 5.8 5.1 6.9 15.1 23.9 15.2 29.1 10.1 16.4 5 12.4 13.3 45.1 9.9 27.6 6.6 16.3 11.5 23.6 6.8 16.3M125.3 352.3l30.6-22.4 30.4-24.1 30.3-26.2 25.3-23.8 15.1-15.3 15.2-16.2 25.3-29.1 25.2-32.1 5.1-6.9 15.2-22.9 5-6.4 5.1-4.4 5-2.2 5.1-.3 20.2 1.9 25.3 4.8 10.1 .6 15.1 .4 5.1 .5 15.2 3.2 5 1.7 10.1 4.3 20.3 10.6 5 3 5.1 3.8 5 4.8 10.1 12.6 10.1 14.2 15.2 26.8 6.6 8.9 3.3 5.6 4.9 12.1 11.5 37.9 9.9 26.6 8.3 19.3 9.8 18.7 4.7 10M167.8 352.3l13.4-23.8 10.1-16.2 10.1-15.3 15.2-21.5 5-6 20.3-21.7 15.1-17.3 15.2-18.3 15.2-19.4 15.1-20.7 15.2-21.9 10.1-16 10.1-17.8 5.1-7.8 5-5.8 5.1-3.7 5-1.7 10.1-.7 10.1-1.8 5.1-.5 25.3-1.2 10.1-1.6 25.3-5.8 10.1-1.5 5-.1 5.1 .9 5 1.6 10.1 5 10.2 7.1 15.1 13.4 5.1 5.1 5 5.8 5.1 6.9 15.1 24.7 5.1 9 9.9 20.9 4.9 9.3 8.3 13.7 3.2 7.2 5 15 11.5 40 11.5 31.9 6.6 15.5 14.9 29.7 3.1 5.4M621.2 352.3l4.5-5.7 1.7-1.3 1.6-.4 1.7 .6 1.6 1.4 3.9 5.4M64.9 229.9l50.6-24.6 25.3-11.5 30.3-13 30.3-12.3 30.3-11.4 15.2-3.2 10.1-3.5 5.1-2.4 5-2.8 15.2-9.7 30.3-20.1 25.3-17.6 20.2-15.1 5.1-3 5-2.4 5.1-1.6 5-.8 10.2-.9 25.2-1 10.1 .7 5.1 1.2 5 1.8 5.1 2.3 10.1 5.7 10.1 7.4 15.2 12.8 5 4.8 5.1 5.8 5.1 6.9 15.1 23.9 5.1 8.9 10.1 19.8 10.1 16.1 5 10.3 5.1 15.3 9.9 35.5 11.5 34 6.6 17 11.5 25.8 8.3 22.4 .9 .9M592 352.3l.8-.7 1.6-3.8 1.7-8.5 4.9-47.4 1.7-5.6 1.6 7.1 5 49 2.2 9.9M628 352.3l6-9.4 1.6-1.5 1.7-.3 1.6 .8 1.7 1.9 5 8.5M124.8 352.3l21-14.6 20.2-14.6 35.4-27.5 20.2-16.8 15.2-13.3 30.3-28.3 15.2-15.2 15.2-16 25.2-28.5 25.3-31.2 10.1-13.8 10.1-15.2 5.1-6.6 5-5.3 5.1-3.5 5.1-1.7 5-.2 5.1 .4 15.1-.6 5.1 .2 5 .8 5.1 2.1 5 3 5.1 3.9 10.1 9.9 10.1 11.6 10.1 10.4 5.1 6.2 10.1 15.2 10.1 16.9 5.1 9.3 10.1 20.7 5 9.1 5.1 7.9 5 10 5.1 14.8 10.1 34.7 4.9 13.9 11.6 28.2 12.6 23.7M608.5 352.3l4.1-26.7 1.6-5.3 1.7 1.8 1.6 8 3.4 22.2M164.7 352.3l6.4-50.4 5-33.1 5.1-18.9 20.2-15.6 20.2-16.4 20.3-17.2 20.2-18.3 20.2-19.4 15.2-15.3 10.1-10.6 15.1-17.8 5.1-5.3 5-4.2 5.1-3 5.1-1.8 5-.8 35.4-3.2 10.1-.4 5.1 .4 20.2 0 15.1 .6 20.3 1.9 5 1.4 10.1 6.7 15.2 12.2 5.1 4.5 5 5.3 5.1 6.2 15.1 21.6 5.1 8.2 10.1 19.1 11.7 18.9 3.3 6.7 5 14.2 11.5 40.9 9.9 29.2 6.6 17.3 11.5 24.9 4.7 11.5M196.1 20l5.3 53.3 5.1 42.5 5 36.1 5.1 30.6 5 25.7 5.1 21.4 5 17.7 5.1 14.4 5.1 11.6 5 9 5.1 6.7 5 4.8 5.1 3 5 1.5 5.1 0 5-1.2 5.1-2.4 5.1-3.3 5-4.4 5.1-5.1 10.1-12.8 5-7.9 15.2-32.8 15.2-36.5 10.1-26.7 15.1-49.7 5.1-13.7 5-9.8 5.1-5.6 5.1-1.7 10.1 1.4 10.1-2.4 20.2-2.8 5-.1 5.1 .7 5.1 1.7 5 2.5 15.2 10.1 10.1 7.9 10.1 8.9 5.1 5.5 5 6.5 5.1 7.5 10.1 16.7 5 9.1 15.2 31.2 10.1 18.1 1.6 3.9 5 15 11.5 41.7 9.9 28.8 6.6 16.8 11.5 23.6 6.8 15.3M599.7 352.3l7.9-22.3 1.7-2.4 1.6-.3 1.7 1.7 1.6 3.5 4.9 13.7 1.7 3.4 2.1 2.7M215.2 352.3l6.4-23.3 5.1-14.3 5-12.2 5.1-10.6 5.1-7.7 20.2-25.9 15.1-20.9 15.2-22.2 15.2-23.7 20.2-34.3 15.2-28 5-10.6 10.1-23.7 5.1-9.7 5-6.8 5.1-3.5 5-.3 10.2 3.7 25.2 1 15.2 1.5 20.2 3.2 5.1 1 5 1.6 10.1 6 10.1 7.6 10.2 8.8 5 5 5.1 5.8 5 6.9 5.1 7.9 10.1 16.9 5 9.3 10.1 20.9 13.3 23.6 5 12.9 11.5 40.4 9.9 28.9 8.2 21.1 11.5 23.9 7.9 19.8M635.8 352.3l3.1-3.1 1.7-.9 1.6-.1 1.7 .8 3.3 3.3M100 352.3l20.5-14 20.3-14.4 35.3-26.9 20.3-16.5 15.1-13 30.4-27.7 15.1-14.8 15.2-15.6 15.2-16.4 15.1-17.2 15.2-18.2 15.1-19.1 15.2-22.3 5.1-6.3 5-4.8 5.1-3.1 5-1.4 10.1 .2 25.3-.7 30.3 .4 15.2 .9 10.1 1.6 5.1 2 10.1 5.8 10.1 7.7 10.1 9.2 10.1 10.1 10.1 11.4 5.1 6.8 15.1 23.1 5.1 8.5 9.9 18.3 4.9 7.9 6.6 9 3.3 6 4.9 13 11.6 37.3 8.2 21.7 8.2 19.4 11.6 21.7 4.7 10.4M203.9 352.3l2.6-13.7 5-22.8 5.1-19.4 5-16.7 5.1-14.5 5-12.7 5.1-11.2 5.1-10.1 10.1-17.5 10.1-15.1 5-5.6 25.3-25.6 15.2-16.4 20.2-23 15.2-19.7 5-5.7 5.1-4.6 5-3.3 5.1-2 35.4-7.8 10.1-1.6 5-.3 5.1 .3 5 1 5.1 1.5 10.1 4.4 10.1 5.9 10.1 7.7 10.1 9.7 5.1 5.4 5 6.1 5.1 7.2 10.1 17 10.1 18.4 10.1 21.9 5.1 9.9 5 8.6 5.1 9.6 5 14.1 11.7 40.7 8.2 23.4 8.3 20.9 11.5 23.1 5.5 12.5M194.1 20l52.8 44.2 55.6 44.7 5.1 18.3 5 14.1 5.1 9.5 5 4.9 5.1-.3 5-6.6 5.1-12.6 5.1-14.1 5-11.4 5.1-7.7 5-3.9 5.1-.8 5 .5 5.1-.6 10.1-2.4 10.1-1.1 25.3-1.9 5 0 5.1 .5 10.1 2.6 10.1 4.4 10.1 6 15.2 11.4 5 4.4 5.1 5.3 5.1 6.4 10.1 15.8 10.1 17.7 15.1 31.5 10.1 18.1 5.1 13.6 13.2 45.7 8.2 23 8.2 20.3 9.9 19.3 6 13.5M276.3 20l6 86.7 5.1 52.1 5 38.5 5.1 16.3 20.2-32.7 15.1-26.6 10.2-19 15.1-32.7 5.1-9.9 5-8 5.1-5.9 5-3.9 5.1-2.3 15.2-5.5 5-1 5.1-.4 10.1 .1 5 .7 5.1 1.3 5 1.9 5.1 2.7 5.1 3.5 10.1 8.6 10.1 10.1 20.2 22.6 10.1 12.3 5.1 7.4 15.1 25.7 5.1 9.3 10.1 21.2 5 9.5 8.4 13.5 3.3 7.2 4.9 14.8 9.9 34.1 8.2 23.1 8.3 20.7 11.5 22.9 5.9 13.4M217.4 352.3l24.5-31.2 20.2-28.1 20.2-31 15.2-25.4 15.1-27.6 15.2-30.2 10.1-21.8 15.2-39.6 5-10.6 5.1-7.6 5-4.2 5.1-1.3 10.1 1.3 40.4-5.4 10.1-.5 10.2 1 10.1 2.6 5 1.9 5.1 2.7 10.1 6.7 10.1 8.1 10.1 9.6 5.1 6 10.1 15.1 10.1 17 15.1 30.3 10 16.9 3.3 6.9 5 14.4 11.5 40.1 8.2 23.4 8.3 20.9 11.5 23.7 6.5 15.9M299.7 352.3l2.8-48.9 5.1-67.5 5-44.2 15.2-33.3 15.2-36.3 5-13 15.2-45.9 5-11.8 5.1-7.8 5-3.1 5.1 1.1 10.1 7.2 10.1 3.9 10.1 4.8 10.1 5.7 10.1 6.8 25.3 18.1 20.2 16.7 10.2 9.3 5 5.7 5.1 6.8 15.1 23.2 15.2 28.6 10.1 16.3 1.6 3.4 5 13.7 13.2 46.6 9.8 28.6 6.6 17 11.6 25.1 8.2 21.8 .9 1.4M247.7 352.3l19.4-31.6 15.2-26.9 15.2-29.3 15.1-32.1 15.2-35.6 15.2-39.7 15.1-50.3 5.1-13.2 5-9 5.1-4.3 5-.2 10.2 4.3 35.3-.4 10.1 .3 10.2 1.6 10.1 3.2 5 2.2 5.1 3 10.1 7.3 5 4.2 10.2 9.6 10.1 11.1 5 6.8 5.1 7.8 10.1 17 5 8.8 15.2 29.5 8.2 13.1 3.3 6 5 12.7 13.1 43.9 8.3 22.3 6.6 16.4 13.1 26.6 6.1 14.9M147.4 20l3.5 32.1 5 39.8 5.1 34.2 5 29.3 5.1 24.9 5 21.1 5.1 17.9 5.1 14.9 5 12.3 5.1 10.1 5 8.1 5.1 6.4 5 4.9 5.1 3.5 5 2.2 5.1 1.3 5 .3 5.1-.6 5.1-1.3 5-2 5.1-2.6 5-5.1 15.2-19.2 15.2-20.5 15.1-21.8 15.2-23.2 15.1-25 10.2-17.6 10.1-19.2 10.1-22.1 5-9.4 5.1-6.7 5-3.6 5.1-.9 10.1 2.4 15.2-.3 20.2 .8 5 1 5.1 2.1 5.1 3.2 5 4 5.1 4.7 25.2 24.5 10.2 11 5 6.6 15.2 23.1 5 8.4 10.1 19.2 5.1 8.4 5 7.1 5.1 9.2 4.9 13.8 11.6 38.9 8.2 22.7 8.2 20.4 11.6 23.2 6.3 15.4M134.9 352.3l36.2-28.7 30.3-25.9 30.3-28.1 30.4-30.7 20.2-22.1 15.2-17.5 15.1-18.5 15.2-19.5 15.2-20.6 15.1-21.8 15.2-25.9 5-7.2 5.1-4.9 5.1-2.5 5-.2 10.1 2.8 15.2 .3 10.1 1.6 5 1.6 10.2 4.7 10.1 6.2 5 3.6 15.2 12.8 10.1 9.6 5.1 5.8 5 6.8 15.2 24 5 9 10.1 20.2 5.1 8.8 5 7.8 5.1 9.9 4.9 14.7 11.6 40.1 8.2 23.2 6.6 16.8 13.2 27.3 6.7 16.5M609.3 352.3l1.6-4 1.8 4M639.7 352.3l2.5-11.2 1.7-4.1 1.6 3.1 2.7 12.2M233.1 352.3l18.9-24.6 20.2-28.6 20.2-31.6 15.2-25.9 15.1-28.4 15.2-31 10.1-22.7 10.1-28.1 5.1-13 5-10.1 5.1-6.7 5-3.2 5.1-.3 5.1 1.2 5 .3 15.2-2.4 15.1-1.5 5.1-.1 5 .3 5.1 1 5.1 1.7 5 2.2 10.1 5.9 15.2 11.1 15.2 12.1 5 4.3 5.1 5 10.1 12.7 10.1 14.3 5 8.1 10.1 18.4 10 15.3 5 9.8 4.9 14.7 9.9 34.1 9.9 27.8 6.6 16.6 13.1 27.2 5.7 14.1M246.4 352.3l20.7-27.8 20.3-29.3 20.2-31.9 15.1-26.1 20.3-37.9 10.1-20.6 10.1-21.8 10.1-23.2 5-13.2 10.2-29.4 5-12.3 5.1-8.7 5-4.5 5.1-.6 5 2.3 5.1 2.9 5 .7 15.2 .1 5.1 .4 5 1 5.1 1.6 10.1 4.3 10.1 5.8 5 3.5 10.2 8.2 10.1 9.3 5 5.7 5.1 6.8 10.1 16.4 10.1 18.2 13.4 28.4 8.2 14.9 3.3 7.1 5 14.4 11.5 41.9 9.9 29.3 6.6 17.5 13.1 28.6 6.9 18M263.4 352.3l3.7-21.3 5.1-19.7 15.2-28.7 10.1-20.6 10.1-21.9 10.1-23.6 10.1-25.3 10.1-27.4 5.1-16.1 10.1-34.8 5-14.5 5.1-10.5 5-6 5.1-2.1 10.1 1.2 10.1-2.9 20.2-4.1 30.4-7.4 10.1-1.8 5-.4 5.1 .4 5 1 5.1 1.6 5 2.1 5.1 2.8 10.1 7.3 10.1 9 10.1 11 5.1 7.3 5 8.6 15.2 29.1 13.2 30.6 4.9 10.4 6.6 12.4 3.3 7.7 4.9 15.4 11.6 42.1 8.2 24.5 8.2 21.8 11.6 24.7 7.1 18.1M64.9 153.7l50.6-1.4 50.5 .4 50.6 2.4 50.5 4.2 25.3 2.8 5.1 6.8 5 5.5 5.1 3.3 5 1.2 5.1-1.2 5-3.5 5.1-6.4 10.1-16.8 5.1-7.4 5-5.8 5.1-3.9 5-2.3 10.1-3.2 15.2-6.4 30.3-8.1 5.1-.8 5-.1 5.1 .8 5 1.5 5.1 2.2 5.1 2.8 5 3.4 15.2 12.2 10.1 9.2 5 5.8 5.1 6.8 15.2 23.5 15.1 28.7 10.1 16 5.1 11 13.4 44.2 6.6 18.3 9.9 24.2 14.8 28.7M631.1 352.3l4.5-17.3 1.7-2.3 1.6 1.5 1.7 4.9 3.2 13.2M195.6 352.3l21-24.6 20.2-25.8 20.2-28.3 15.2-23.3 10.1-16.6 10.1-17.5 15.2-28.5 10.1-21.1 10.1-24.3 5-11 5.1-8.6 5.1-5.5 5-2.5 5.1-.2 5 .4 10.1-1.2 10.1 .6 15.2 2.6 10.1 1.2 30.3 1.6 10.2 .9 10.1 1.3 5 1.2 10.1 4.7 15.2 9.6 10.1 7.9 5.1 5.2 5 6.3 5.1 7.3 10.1 15.9 5 9.1 10.1 20.2 5.1 8.6 4.9 7.1 3.3 5.9 5 12.8 11.5 38.1 8.2 22.2 8.3 19.7 14.8 28.6M265 352.3l2.1-17.1 5.1-32.4 5-26.4 5.1-22.1 5.1-18.9 5-11.9 15.2-28.7 15.1-31.4 5.1-11.5 10.1-27.4 5.1-12.2 5-9.3 5.1-5.5 5-1.7 5.1 1.4 5 2.8 5.1 1.3 20.2 .3 45.5 2.4 15.2 1.3 5 1.2 5.1 2.7 10.1 6.7 10.1 7.9 10.1 9.2 5.1 5.6 5 6.8 15.2 23.4 5 8.9 10.1 19.5 10 15.6 3.3 6.2 5 13.2 11.5 39.1 9.9 27.2 6.6 16.2 11.5 23.1 6.2 14.5M85 20l5.2 54.3 5.1 46.5 5 41.1 5.1 36.3 5 31.9 5.1 27.9 5 24.5 5.1 21.2 5.1 18.4 5 15.9 5.4 14.3M244.8 352.3l17.3-30.1 15.1-28.7 15.2-31.3 10.1-22.7 15.2-37 15.1-41.4 5.1-15.9 10.1-36.7 5.1-16 5-12.1 5.1-7.2 5-2.3 5.1 1.6 5 3 5.1 .9 30.3 1.6 10.1 1.2 10.1 2.1 15.2 4.5 10.1 4.2 10.1 6.7 15.2 11.3 5.1 4.5 5 5.3 10.1 13.2 10.1 14.9 5.1 9 10.1 19.9 10.1 17.4 1.6 3.6 5 14.1 13.2 48.4 9.8 29.9 6.6 17.5 13.2 29.5 6.4 17.1M276.1 20l1.1 21.1 5.1 68.8 5.1 51 5 37.4 5.1-1.3 10.1-15.5 15.1-24.5 10.1-17.4 5.1-9.6 10.1-21 5.1-9.1 5-6.9 5.1-4.5 5-2.3 5.1-.5 5 0 10.2-1.6 30.3-1 10.1 .8 5 1.2 10.2 3.9 10.1 5.6 10.1 7.3 15.1 13.3 10.2 10.2 5 6.2 5.1 7.2 15.1 23.1 15.2 25.9 10.1 13.6 3.3 6.5 3.3 8.8 11.5 37.6 11.5 31.6 6.6 16.3 11.6 25.7 8.2 23.1 1 1.3M64.9 297.2l86-65.8 80.8-60.1 80.9-58.3 5.1-.7 5-3.8 10.1-13.4 5.1-5.8 5.1-2.8 5 .8 5.1 2.5 10.1 1.6 5 1.4 15.2 5.2 5.1 1.4 15.1 2.7 10.1 .5 5.1-.2 25.3-2.1 10.1 .3 5 1 5.1 2.4 10.1 6.3 10.1 7.6 5.1 4.9 5 6.1 5.1 7.1 10.1 15.5 5 8.5 10.1 19.9 5.1 9 5 7.7 5.1 9 4.9 13.4 13.2 45.7 8.2 23.4 6.6 17.2 13.2 28.1 7.4 18.9M104.2 352.3l36.6-24.6 35.3-26 20.3-15.9 15.1-12.6 30.4-26.9 15.1-14.4 15.2-15.2 25.3-27.1 15.1-17.6 15.2-18.5 20.2-27 5.1-5.5 5-4.1 5.1-2.4 10.1-3 10.1-3.5 10.1-2.3 35.4-2.9 10.1-.3 10.1 1.1 5.1 1.2 5 1.7 10.1 5.3 5.1 3.3 10.1 7.8 10.1 8.9 5.1 5 5 5.7 5.1 6.9 15.1 25 5.1 9 11.7 23.9 3.3 5.8 8.3 12.6 3.3 6.5 4.9 13.6 9.9 32.7 6.6 18 9.9 23.6 11.5 21.3 5.2 10.9M64.9 33.2l50.6 35 55.6 37.7 55.6 36.8 55.6 36 5.1 4.4 5 14.6 5.1 10.9 5 7.2 5.1 3.2 5-.9 5.1-5.2 5-9.7 10.1-24.8 15.2-42.9 5.1-11 5-7.6 5.1-3.9 5-1.4 5.1-.7 10.1-4.8 10.1-3.8 10.1-2.2 10.1-1.3 10.1-.8 5.1 .2 5 .8 5.1 1.6 5.1 2.4 5 3.1 10.1 7.6 10.1 9.4 15.2 15.8 10.1 11.8 5.1 7.1 15.1 24.2 5.1 8.6 10.1 19 5 8.2 8.4 12 4.9 11.2 13.2 41.8 8.2 21.3 8.3 19 9.9 18.2 5.2 11M271.4 352.3l5.8-81 5.1-50.2 5.1-37.5 5-25.4 25.3-16.3 20.2-13.7 30.3-22 5.1-2.6 5-1.7 5.1-.7 20.2 1.1 25.3 .6 10.1 1.6 10.1 3.3 10.1 4.7 5.1 3.1 10.1 7.4 15.2 12.8 5 5 5.1 5.9 10.1 14.6 10.1 16.2 15.1 28.7 8.4 12.7 3.3 5.7 4.9 12.3 13.2 43 8.2 21.9 8.3 19.4 9.9 19 5.4 12.1M629.8 352.3l2.5-16.5 1.7 4.7 1.4 11.8M258.6 352.3l18.6-21.2 20.3-25 20.2-27.5 15.1-22.6 10.2-16.2 10.1-17.2 15.1-27.9 5.1-10.3 10.1-24.4 5.1-11.1 5-8.6 5.1-5.5 5-2.4 5.1-.1 5 .6 5.1-.7 10.1-3.3 5-1.1 5.1-.2 5.1 .5 5 1.2 10.1 4.1 10.1 6.1 20.3 15.1 5 4.4 5.1 5.2 10.1 12.9 10.1 14.1 15.1 26.6 8.4 12.1 3.3 5.9 4.9 13.1 11.6 38.4 8.2 22.5 8.2 19.8 12 22.7M160.3 352.3l5.7-24.4 5.1-17.9 5-15.3 5.1-13.1 5.1-11.4 5-10 5.1-8.9 5-7.9 5.1-5.9 35.4-27.6 20.2-16.9 15.1-13.3 30.4-28.3 20.2-20.4 15.2-16.5 5-4.8 5.1-4.1 20.2-13 10.1-5.1 5.1-1.8 10.1-2.5 10.1-1.9 10.1-.9 5 .1 5.1 .7 10.1 2.9 10.1 4.7 10.1 6.2 15.2 12.2 10.1 9.4 5.1 5.8 10.1 14.6 10.1 16.5 5 9 10.1 20.3 5.1 8.7 5 7.7 5.1 9.9 4.9 14.6 9.9 34.2 6.6 19 9.9 25.4 13.2 27.6 8.8 22.4M146.4 20l19.6 4.5 15.2 4 15.2 4.4 20.2 6.5 15.1 5.5 20.3 7.9 30.3 13.3 20.2 9.8 20.2 10.7 5.1 9.6 5 7.4 5.1 5.3 5.1 3.1 5 .8 5.1-1.7 10.1-8.7 5-3.7 5.1-2.6 5-1.7 5.1-1.1 15.2-1.9 35.3 .7 10.2 .9 5 1.1 10.1 3.5 5.1 2.4 5 2.8 10.1 6.8 10.2 8.1 10.1 9 5 5.6 5.1 6.6 15.1 23.7 5.1 8.9 10.1 20.3 13.2 22.1 4.9 12.3 13.2 44.7 9.9 27.4 6.6 16.3 11.5 23.3 6 14.4M64.9 336.3l60.7-36.1 65.7-40 60.7-37.7 65.7-41.7 5 2 5.1 .3 5-1.2 5.1-3.1 5.1-4.9 5-7 5.1-9.1 5-11 10.1-24.8 5.1-10.7 5-8.1 5.1-4.7 5.1-1.4 5 1 5.1 1.9 5 .5 15.2-.6 10.1 .2 5 .7 10.2 2.9 10.1 4.3 5 2.7 10.1 6.4 15.2 11.4 5.1 4.4 5 5.3 5.1 6.6 5 7.4 10.1 16.3 5.1 9.4 10.1 20.9 10.1 17.3 3.3 6.4 4.9 13.6 11.6 39.8 8.2 23 8.2 20.5 11.6 22.5 4.7 10.4M153.3 20l7.7 49.5 5 27.3 5.1 24.1 5 21.1 5.1 18.6 5.1 16.3 5 14.2 5.1 12.4 5 10.7 5.1 9.4 5 8 5.1-.7 45.5-19.7 45.5-21.4 30.3-15.1 15.2-8 10.1-4.5 10.1-3.6 10.1-2.7 5.1-1 25.2-3.3 10.1-.9 10.1 .1 5.1 .6 5.1 1 10.1 2.8 5 2.1 10.1 6 25.3 19 5.1 4.6 5 5.8 10.1 14.1 10.1 15.7 10.1 19.3 5.1 8.7 6.6 7.4 4.9 7.9 3.3 7.9 9.9 30 4.9 13.1 9.9 22 3.3 6.4 4.3 7.1M605.2 352.3l4.1-34.1 1.6-10.2 1.7-4 1.6 3 1.7 8.9 5.1 36.4M64.9 229.4l20.3 .4 25.2-.1 25.3-.8 20.2-1 20.2-1.5 25.3-2.4 20.2-2.4 25.3-3.5 5.1 5.3 5 3.9 5.1 1.7 5-.6 5.1-2.8 5-5.2 5.1-7.7 5.1-9.3 15.1-29.5 10.1-21.3 5.1-11.7 10.1-26.6 5-11.6 5.1-8.8 5.1-5.6 5-2.5 5.1-.1 5 .7 15.2-1.6 25.3-1.6 10.1 .1 10.1 1.4 5 1.1 10.1 3.4 10.2 4.7 10.1 6.1 5 3.9 10.1 10.4 10.1 11.2 5.1 6.4 10.1 15.6 15.2 25.3 10.1 19.4 5 8.2 5.1 6.7 5 8.4 5.1 13.1 11.5 38.1 8.3 22.4 8.2 20.4 13.2 27 6.2 15.8M64.9 116.2l30.4 5.7 15.1 2.2 20.3 2.3 30.3 2.1 20.2 .4 15.2-.1 15.1-.6 20.2-1.4 20.3-2.1 20.2-2.9 20.2-3.6 30.3-6.5 5.1-1.7 10.1-4.6 5.1-1.8 5-.8 15.2-1.1 20.2-2.3 5.1-.1 10.1 1.1 20.2-.2 10.1 .8 10.1 1.8 15.2 4.7 5 2.8 10.1 9.7 10.1 10.5 5.1 5.8 5.1 6.7 10.1 15.8 10.1 17.1 15.1 29.8 10.1 16.6 5.1 12 13.2 43.9 9.9 26.9 6.5 16 11.6 22.4 4 8.8M277.8 20l4.5 57.4 5.1 47.2 5 33.7 5.1 23.3 5-7.2 15.2-27.2 5-9.7 15.2-33.2 5.1-8.6 5-6.1 5.1-3.3 5-1 10.1 .5 10.1-.5 45.5 3.4 15.2 1.9 15.2 2.6 5 1.5 5.1 2.5 10.1 6 10.1 7.6 10.1 8.5 10.1 9.8 5.1 6.3 5 7.2 15.2 24.4 11.7 23.3 5 8.8 6.6 10.3 3.3 6.5 4.9 13.6 11.5 39.7 8.3 23.3 8.2 20.8 11.5 23.4 6.6 15.6M64.9 150l20.3 3.1 25.2 4.7 25.3 5.3 20.2 4.9 25.3 6.8 20.2 6 20.2 6.5 25.3 8.8 20.2 7.6 10.1 18.5 5.1 6.6 5.1 3.4 5 .1 5.1-3.3 5-7 15.2-31.2 5-12.1 10.1-26.9 5.1-11.6 5.1-8.7 5-5.2 5.1-2.2 10.1 .5 10.1-2 5-.6 35.4-1.2 10.1 .8 5.1 .9 5 1.2 10.2 3.5 10.1 4.4 5 2.8 10.1 7.9 15.2 13.4 5.1 5.1 5 6.1 15.2 22.5 5 8.3 15.2 28 5 7.4 6.7 11.2 3.3 8 11.6 36.4 6.6 17.5 9.8 23 3.3 6.4 9.6 16.7M216.8 20l4.8 79.8 5.1 61.1 5 44.3 5.1 31.6 5.1 22 5 14.9 5.1 9.4 5 5.2 5.1 2.2 5-.3 5.1-4.7 15.2-22.6 10.1-16.2 10.1-17.3 15.1-28 10.1-21.1 10.2-24.4 5-10.6 5.1-8.1 5-5.6 5.1-3.2 10.1-2.4 45.5-18.8 10.1-3.7 5-1.3 10.2-1.4 5 0 5.1 .6 5 1.4 5.1 2.7 5 3.4 10.1 8.9 10.2 10.7 5 6.1 5.1 7.1 15.1 25.9 5.1 9.2 15.1 30.7 10 16.2 3.3 6.6 5 13.8 9.9 33.3 8.2 22.8 9.9 23.6 9.9 18.6 4.7 9.9M64.9 129.1l20.3-3.2 20.2-2.2 20.2-1.3 20.2-.4 20.2 .6 20.3 1.5 20.2 2.4 20.2 3.3 15.2 3.2 15.1 3.6 15.2 4.1 15.2 4.7 5 5 5.1 10.7 5 7.6 5.1 4.5 5 1.2 5.1-2.3 5-5.8 5.1-9.4 15.2-32.8 15.1-39.8 5.1-10.7 5-7.6 5.1-4.3 5-1.2 10.2 1.5 15.1-2.7 20.2-5.8 5.1-1 5-.5 5.1 .1 5.1 .7 5 1.2 5.1 1.9 5 2.6 5.1 3.2 10.1 8.4 5 5.1 5.1 6.1 5.1 7.3 10.1 18 10.1 19.8 15.1 34.5 10.1 19.4 5.1 12.3 3.3 11.3 9.9 37.9 9.9 31.2 8.2 22.9 11.5 26.4 8.3 22.3 1.6 3.5 1.6 1.2 13.4 3M194.9 352.3l26.7-33.4 20.3-27.6 20.2-30 20.2-33 20.2-36.6 15.2-30.2 10.1-21.7 15.2-38 5-11.2 5.1-8.9 5-6.3 5.1-3.9 5-1.9 10.1-2.8 5.1-.6 5.1 .4 5 1.1 15.2 4.5 10.1 1.9 10.1 .8 25.3 .7 5 .8 5.1 1.6 10.1 4.6 10.1 6.2 15.2 12 5 4.5 5.1 5.3 5 6.3 5.1 7.6 10.1 16.8 5 9.1 15 31.5 9.9 18.2 4.9 13.5 13.2 47.5 9.9 29.4 6.5 17.4 11.6 25.2 7.4 19.2M64.9 36.1l30.4 12.3 30.3 11.6 30.3 10.8 35.4 11.7 30.3 9.2 30.4 8.6 30.3 7.7 30.3 7.1 5.1 2.6 5 4.2 5.1 2.9 5 1.8 5.1 .7 5.1-.6 5-2 10.1-5.5 10.1-4.3 10.1-2.8 5.1-1 10.1-.9 35.4-1 15.2 .7 10.1 1.6 5 1.5 10.1 5.1 5.1 3.4 10.1 8.3 10.1 10.2 10.1 12.1 5.1 7.3 5 8.3 28.6 47.8 4.9 6.7 6.6 7.1 3.3 4.6 1.7 3 3.3 7.8 13.1 40.1 9.9 24.8 6.6 14.8 9.9 18.3 4.5 9.6M64.9 328.9l50.6-45.4 50.5-42.9 50.6-40.3 25.3-19.3 25.2-18.6 5.1-3.6 5-.1 5.1 4.3 5.1 1.8 5-.8 5.1-3.7 5-7.5 5.1-11.7 10.1-28.9 5-11.1 5.1-7.4 5-3.5 10.2-1.3 10.1-4.2 10.1-3 10.1-1.5 10.1 .1 15.2 1.6 15.1 3.6 15.2 5.1 25.3 10.2 5 2.7 5.1 3.7 15.1 12.6 10.2 9.9 5 6.4 10.1 15.3 10.1 16.7 10.1 20.1 5.1 9.3 5 7.8 5.1 8.8 4.9 12.9 13.2 44.8 8.2 22.9 6.6 16.7 13.2 27 5.7 13.9M122.1 20l3.5 73.8 5.1 85.8 5 68.8 5.1 54.9 5.8 49M259.8 352.3l12.4-21.1 15.2-27.8 15.1-30.3 10.1-21.8 10.1-23.3 10.1-25 15.2-41.2 5.1-16.1 10.1-37 5-15.6 5.1-11.1 5-5.8 5.1-.5 5.1 3.3 5 4.3 5.1 1.6 35.3 7.9 25.3 3.5 10.1 3.5 10.1 4.8 10.2 6.6 10.1 7.6 5 4.4 5.1 5.2 5 6.3 5.1 7.2 10.1 15.7 5 8.6 10 20 5 9 6.6 10.3 3.3 6.4 4.9 13.6 11.5 40 9.9 28.1 6.6 16.7 13.2 27.5 5.8 14.5M64.9 110.8l5.1 23.9 5 21.2 5.1 18.8 5.1 16.6 5 14.7 5.1 12.9 5 11.3 5.1 9.8 5 8.4 5.1 7.3 5 6.1 5.1 5.2 5.1 4.2 5 3.4 5.1 2.6 5 1.9 5.1 1.3 5 .7 10.1-.1 5.1-.8 10.1-2.8 5.1-1.9 10.1-4.8 10.1-6 10.1-7 10.1-10.5 15.2-16.5 15.1-17.3 15.2-18.2 15.2-19.2 15.1-20.4 15.2-21.6 5-7.5 15.2-25.3 5.1-7.6 5-6 5.1-4.3 5-2.9 25.3-9 20.2-4.9 10.1-1.7 10.1-.4 5.1 .4 5 1 10.2 3 10.1 4 5 2.7 5.1 3.5 10.1 8 10.1 9.2 10.1 10.2 5.1 5.9 5 7 10.1 16.6 10.1 18.3 10.1 21.8 5.1 9.9 8.2 14.6 3.3 7.5 5 15.2 11.5 41.1 8.2 24 6.6 17.5 13.2 28.4 7.1 18.1M64.9 150.2l35.4-5.2 35.4-4.2 35.4-3.1 35.4-2.1 30.3-.9 30.3-.1 5.1 .3 5 2.8 5.1 1.9 5.1 1 5 0 5.1-.8 5-1.8 5.1-2.7 40.4-26.1 15.2-10.5 5-2.9 10.1-4.5 5.1-1.6 10.1-2.4 10.1-1.3 20.2-1.2 5.1 .3 5 1.1 5.1 1.9 10.1 6 15.2 11.8 15.1 13.1 5.1 5.3 5.1 6.5 10.1 15.4 10.1 16.6 10.1 20.1 5 9 5.1 7.5 5 9.2 5.1 13.8 11.5 39.9 9.9 28 6.6 16.8 13.2 27.9 6.6 17.3M611.7 352.3l2.5-5.2 1.7-5.6 3.2-30.8 1.7-.1 3.3 39.6 .5 2.1" stroke="#fc8d62" stroke-width="0.8" stroke-opacity="0.27"/><path d="M60 308.2l4-.4 3.9-.4 4-.3 3.9-.1 4-.1 4-.1 3.9-.1 4-.3 4-.2 3.9-.4 4-.4 3.9-.4 4-.4 4-.5 3.9-.5 4-.5 4-.4 3.9-.6 4-.6 3.9-.7 4-.8 4-.9 3.9-1 4-1 4-1.2 3.9-1.1 4-1.3 3.9-1.2 4-1.3 4-1.4 3.9-1.5 4-1.7 4-1.7 3.9-1.9 4-1.8 3.9-1.7 4-1.8 4-1.9 3.9-1.9 4-2 4-2 3.9-2.1 4-2.3 3.9-2.6 4-2.9 4-3.2 3.9-3.3 4-3.2 4-3.1 3.9-3.4 4-3.7 3.9-3.7 4-3.6 4-3.5 3.9-3.7 4-4.1 3.9-4.4 4-4.4 4-4.3 3.9-4.1 4-4 4-4.2 3.9-4.4 4-4.5 3.9-4.7 4-5.1 4-5.9 3.9-6.4 4-6.7 4-6.3 3.9-5.8 4-5.4 3.9-5.2 4-5.1 4-5 3.9-4.8 4-4.4 4-4.1 3.9-3.7 4-3.5 3.9-3.2 4-3.1 4-2.9 3.9-2.6 4-2.4 4-2.2 3.9-1.9 4-1.6 3.9-1.4 4-1.2 4-1 3.9-.8 4-.6 4-.2 3.9 .2 4 .6 3.9 .9 4 1.3 4 1.7 3.9 2 4 2.4 4 2.7 3.9 3.1 4 3.4 3.9 3.8 4 4.2 4 4.4 3.9 4.8 4 5.2 3.9 5.7 4 6.3 4 6.7 3.9 7 4 7.2 4 7.4 3.9 7.5 4 7.7 3.9 8.1 4 8.5 4 8.8 3.9 9.5 4 11 4 12.8 3.9 13.5 4 13.5 3.9 13.5 4 13 4 11.7 3.9 9.9 4 8 4 6.4 3.9 5 4 4 3.9 3.3 4 2.7 4 2.1 3.9 1.7 4 1.3 4 1.3 3.9 1.2 4 1.2 3.9 1.3 4 1.4 4 1.2 3.9 1.2 4 1 4 1 3.9 1 4 .9 3.9 .8 4 .9 4 .7 3.9 .8 4 .7 4 .6 3.9 .7 4 .6 3.9 .6 4 .6" stroke="#66c2a5" stroke-width="3.1" stroke-linecap="round"/><path d="M118-15.1l3 12.3 3.1 14 3 17.2 3 20.6 3.1 20.9 3 18.9 3 16.6 3.1 13.9 3 11.9 3 10.8 3 10.2 3.1 9.8 3 9.3 3 8.7 3.1 8.2 3 7.6 3 6.9 3.1 6.3 3 5.8 3 5.4 3.1 5.1 3 4.9 3 4.8 3.1 4.6 3 4.3 3 4.1 3 3.6 3.1 3.4 3 3.3 3 3 3.1 3.1 3 2.9 3 2.6 3.1 2.1 3 1.6 3 .9 3.1 .4 3 0 3-.6 3.1-1.1 3-1.8 3-2.3 3.1-2.8 3-3 3-3.2 3-3.2 3.1-3.3 3-3.6 3-3.8 3.1-4.1 3-4.3 3-4.5 3.1-4.6 3-4.6 3-4.8 3.1-4.8 3-5 3-5 3.1-5.3 3-5.3 3-5.4 3-5.4 3.1-5.4 3-5.3 3-5.1 3.1-5 3-5.3 3-5.6 3.1-5.9 3-5.8 3-5.7 3.1-5 3-4.4 3-3.8 3.1-3.5 3-3.1 3-2.7 3.1-2.3 3-1.9 3-1.7 3-1.5 3.1-1.4 3-1.3 3-1.3 3.1-1.3 3-1.1 3-1 3.1-.9 3-.7 3-.6 3.1-.5 3-.3 3-.2 3.1-.2 3-.1 3-.1 3.1-.1 3-.2 3-.2 3-.1 3.1-.2 3 0 3 .1 3.1 .3 3 .5 3 .7 3.1 .9 3 1.1 3 1.3 3.1 1.5 3 1.5 3 1.8 3.1 1.8 3 2 3 2.1 3 2.3 3.1 2.4 3 2.5 3 2.5 3.1 2.6 3 2.6 3 2.8 3.1 3 3 3.2 3 3.7 3.1 4.1 3 4.4 3 4.7 3.1 4.8 3 4.8 3 4.9 3.1 5.1 3 5.5 3 6.1 3 6.3 3.1 6.1 3 5.7 3 4.8 3.1 4.5 3 4.9 3 6.1 3.1 7.8 3 9.7 3 10.6 3.1 10.7 3 10.3 3 9.3 3.1 8.5 3 8.1 3 8 3 7.7 3.1 7 3 6.3 3 5.8 3.1 6 3 6.3 3 7 3.1 7.8 3 8.1" stroke="#fc8d62" stroke-width="3.1" stroke-linecap="round"/></g>
<g clip-path="url(#cb)" fill="none" stroke-linejoin="round"><path d="M66.3 581.4l5.4 6.2 5.4 5.1 5.4 .9 5.4-7 5.4-12.2 5.4-10.8 5.4-8.2 5.4-7 10.8-15.6 5.4-6.5 10.8-11.7 5.4-5 5.4-4.4 10.8-7.7 10.8-6.5 5.4-2.7 5.4-2.1 5.4-1.5 5.4-.7 5.4-.2 5.4 .4 5.4 .7 5.4 1.3 5.4 2 5.4 2.6 16.2 8.8 5.4 3.5 10.8 7.9 10.8 9.3 10.8 10.7 10.8 11.7 16.2 20 16.2 19.1 21.6 27.6 10.8 12.3 16.2 17.7 16.2 19.3 5.4 5.7 21.6 20.2 16.2 14.1 37.8 30.8 21.6 15.8 10.8 7.1 10.8 6.6 16.2 8.7 16.2 7.4 16.2 5.7 10.8 3 10.8 2.5 10.8 2.1 10.8 1.7 21.6 2.1 32.4 2.2M66.3 634.4l5.4-2 5.4-5.8 5.4-11.2 5.4-14.1 5.4-12.8 5.4-10.1 5.4-8.6 10.8-18.9 5.4-8.4 5.4-7.1 5.4-6.1 5.4-5.1 5.4-4.5 10.8-7.9 10.8-6.7 5.4-2.9 5.4-2.3 5.4-1.7 5.4-1 5.4-.2 5.4 .2 5.4 .7 5.4 1.1 5.4 1.9 5.4 2.4 16.2 8.6 5.4 3.4 10.8 7.7 10.8 9.2 10.8 10.4 10.8 11.6 16.2 19.9 16.2 19.1 21.6 26.9 10.8 12.1 16.2 17.3 16.2 19 5.4 5.7 21.6 20.1 16.2 14 32.4 25.8 16.2 11.9 10.8 7.3 10.8 6.7 10.8 6.3 16.2 8.3 10.8 4.7 10.8 4.1 16.2 4.7 21.6 4.4 16.2 2.2 21.6 1.3 37.8 .9M66.3 635.1l5.4-8.3 5.4-13.4 5.4-16.1 5.4-13.6 5.4-9.9 5.4-8.9 10.8-19.3 5.4-8.3 5.4-7.1 5.4-6.2 5.4-5.2 10.8-8.2 10.8-6.8 10.8-5.4 5.4-2 5.4-1.4 5.4-.5 5.4 0 5.4 .6 5.4 1 5.4 1.6 5.4 2.2 5.4 2.8 16.2 9.6 10.8 7.8 10.8 9.1 10.8 10.6 10.8 11.6 5.4 6.3 16.2 20.7 16.2 19.8 16.2 20.9 5.4 6.5 10.8 12.3 16.2 17.6 16.2 19.1 5.4 5.7 21.6 20 16.2 13.9 32.4 25.3 21.6 15 10.8 6.7 10.8 6.2 16.2 8.2 10.8 4.7 10.8 4 16.2 4.7 10.8 2.3 10.8 1.9 10.8 1.6 10.8 1 21.6 1 43.2 .4M66.3 623.6l5.4-1.3 5.4-4.6 5.4-9.7 10.8-26 5.4-10.3 16.2-26.7 5.4-8.3 5.4-7.1 5.4-5.9 5.4-5 10.8-8.3 10.8-6.9 10.8-5.5 5.4-2.2 5.4-1.5 5.4-.8 5.4-.1 5.4 .5 5.4 .9 5.4 1.4 5.4 2 5.4 2.6 16.2 9.5 10.8 7.4 10.8 8.9 5.4 4.9 10.8 10.8 10.8 11.9 21.6 27.1 10.8 12.9 21.6 27.3 10.8 12.4 16.2 17.4 16.2 18.9 5.4 5.8 21.6 20 16.2 13.9 32.4 25.2 21.6 15.3 10.8 6.8 10.8 6.3 16.2 8.5 10.8 4.9 10.8 4.2 16.2 5.1 10.8 2.6 10.8 2.1 10.8 1.8 10.8 1.2 21.6 1.4 37.8 1.1M66.3 607.6l5.4 .8 5.4-3 5.4-8.2 10.8-24.7 5.4-9.4 5.4-8 10.8-17.5 5.4-7.7 5.4-6.4 5.4-5.5 5.4-5 10.8-8.3 10.8-6.8 10.8-5.5 5.4-2.1 5.4-1.4 5.4-.6 5.4 0 5.4 .5 5.4 .9 5.4 1.5 5.4 2.1 5.4 2.8 16.2 9.5 5.4 3.6 10.8 8.4 10.8 9.6 10.8 11 10.8 12.1 16.2 20.6 16.2 19.6 21.6 27.7 10.8 12.5 16.2 17.7 16.2 19.2 5.4 5.8 21.6 20.1 16.2 14 32.4 25.5 21.6 15.5 10.8 6.9 10.8 6.4 16.2 8.6 10.8 5 10.8 4.3 16.2 5.1 10.8 2.7 10.8 2.1 10.8 1.8 10.8 1.4 21.6 1.5 37.8 1.5M66.3 617.4l5.4-2.9 5.4-7.6 10.8-24.9 5.4-10.9 21.6-35.1 5.4-7.2 5.4-6.1 5.4-5.3 5.4-4.6 10.8-7.9 10.8-6.5 10.8-5 5.4-1.8 5.4-1 5.4-.2 5.4 .3 5.4 .7 5.4 1.3 5.4 1.8 5.4 2.5 16.2 9.3 10.8 7.3 10.8 8.7 5.4 4.9 10.8 10.7 10.8 11.8 5.4 6.5 16.2 20.7 16.2 19.7 16.2 20.9 10.8 12.7 21.6 23.8 16.2 18.9 5.4 5.4 16.2 15.1 16.2 14.2 32.4 25.6 10.8 8 10.8 7.6 16.2 10.3 10.8 6.2 10.8 5.6 10.8 5 10.8 4.4 16.2 5.3 10.8 2.6 10.8 2.2 10.8 1.8 10.8 1.4 21.6 1.4 43.2 1.3M66.3 630l5.4-2.2 5.4-6.5 5.4-11.5 5.4-13.8 5.4-12.3 5.4-9.6 5.4-8.7 10.8-18.7 5.4-8.1 5.4-6.8 5.4-5.9 5.4-5.1 5.4-4.6 10.8-8 10.8-6.7 5.4-2.8 5.4-2.3 5.4-1.6 5.4-.9 5.4-.2 5.4 .3 5.4 .7 5.4 1.3 5.4 1.9 5.4 2.5 16.2 8.7 5.4 3.4 10.8 7.9 10.8 9.4 10.8 10.6 10.8 11.8 16.2 20.2 16.2 19.2 21.6 27.2 27 29.9 16.2 19.2 5.4 5.7 21.6 20.3 16.2 14.2 32.4 26.2 21.6 15.8 10.8 7.1 10.8 6.5 16.2 8.8 10.8 5 10.8 4.4 16.2 5.1 10.8 2.7 10.8 2.1 10.8 1.8 10.8 1.2 21.6 1.3 37.8 .8M66.3 622.2l5.4-3 5.4-7.6 5.4-12.2 5.4-13.8 5.4-11.7 21.6-36.5 5.4-7.7 5.4-6.5 5.4-5.6 5.4-4.8 10.8-8.1 10.8-6.7 10.8-5.3 5.4-1.8 5.4-1.2 5.4-.4 5.4 .2 5.4 .7 5.4 1.2 5.4 1.7 5.4 2.4 16.2 9.4 10.8 7.3 10.8 8.7 5.4 4.9 10.8 10.8 10.8 11.9 5.4 6.4 16.2 21 16.2 20 10.8 14.2 10.8 13.6 27 30.4 16.2 19.2 5.4 5.6 16.2 15.3 16.2 14.4 32.4 25.8 10.8 8.1 10.8 7.5 16.2 10.3 10.8 6.2 10.8 5.6 10.8 5 10.8 4.4 16.2 5.2 10.8 2.6 10.8 2.1 10.8 1.7 10.8 1.3 21.6 1.3 43.2 .9M66.3 602.6l5.4 1.1 5.4-3.2 5.4-8.2 10.8-23.2 5.4-8.8 5.4-7.9 10.8-17 5.4-7.2 5.4-5.9 10.8-10.3 5.4-4.3 5.4-4 10.8-6.9 10.8-5.6 5.4-2 5.4-1.4 5.4-.6 5.4 .1 5.4 .5 5.4 .9 5.4 1.5 5.4 2.2 5.4 2.7 16.2 9.2 5.4 3.6 10.8 8.3 10.8 9.7 10.8 10.9 10.8 12 16.2 20.5 16.2 19.4 21.6 27.6 10.8 12.4 16.2 17.7 16.2 19.3 5.4 5.6 21.6 20.2 16.2 14 32.4 26 21.6 15.7 10.8 7.1 10.8 6.5 16.2 8.7 10.8 5.1 10.8 4.4 16.2 5.2 10.8 2.7 10.8 2.2 10.8 1.9 10.8 1.3 21.6 1.6 37.8 1.7M66.3 670.9l5.4-10.9 5.4-15.4 5.4-20.1 5.4-18.1 5.4-13.2 21.6-42.4 5.4-9.2 5.4-8.1 5.4-6.2 5.4-4.6 5.4-4.1 10.8-6.9 10.8-5.6 5.4-2.3 5.4-1.6 5.4-1 5.4-.2 5.4 .3 5.4 1 5.4 1.4 5.4 2 5.4 2.6 10.8 6.5 10.8 7.1 5.4 4.1 10.8 9.1 5.4 5.1 5.4 5.4 10.8 11.7 10.8 12.8 16.2 21.4 27 34.4 10.8 13.3 27 29.7 16.2 18.9 5.4 5.4 16.2 14.9 16.2 14 27 20.8 10.8 7.8 10.8 7.1 10.8 6.7 10.8 6 10.8 5.6 10.8 5 10.8 4.4 10.8 3.8 16.2 4.3 10.8 2.1 10.8 1.6 10.8 1.2 10.8 .8 21.6 .4 43.2-.9M66.3 615.4l5.4-1.1 5.4-5.3 5.4-10.4 5.4-12.9 5.4-11.7 21.6-35.5 5.4-7.6 5.4-6.4 5.4-5.5 5.4-5 10.8-8.4 10.8-7 10.8-5.6 5.4-2.1 5.4-1.4 5.4-.6 5.4 .1 5.4 .5 5.4 .9 5.4 1.5 5.4 2.2 5.4 2.7 16.2 9.3 5.4 3.7 10.8 8.3 10.8 9.8 10.8 11 10.8 12.2 16.2 20.6 16.2 19.6 21.6 27.6 27 30.3 16.2 19.3 5.4 5.7 21.6 20.3 16.2 14 32.4 26 21.6 15.6 10.8 6.9 10.8 6.5 16.2 8.5 10.8 5 10.8 4.2 16.2 5 10.8 2.6 10.8 2.1 10.8 1.7 10.8 1.2 21.6 1.3 37.8 1.1M66.3 624l5.4-.9 5.4-4.8 5.4-10.3 10.8-26.3 5.4-9.9 5.4-8.5 10.8-18.7 5.4-8.2 5.4-6.9 5.4-6 5.4-5.3 10.8-8.8 10.8-7.5 10.8-6.1 5.4-2.4 5.4-1.7 5.4-1 5.4-.2 5.4 .2 5.4 .7 5.4 1.2 5.4 1.9 5.4 2.5 16.2 8.8 5.4 3.5 10.8 7.9 10.8 9.4 10.8 10.7 10.8 11.9 16.2 20.4 16.2 19.5 21.6 27.6 10.8 12.5 16.2 17.8 16.2 19.5 5.4 5.8 21.6 20.6 16.2 14.4 32.4 26.3 21.6 15.9 10.8 7.1 10.8 6.6 16.2 8.8 10.8 5.1 10.8 4.4 16.2 5.2 10.8 2.6 10.8 2.2 10.8 1.7 10.8 1.3 21.6 1.3 37.8 .8M66.3 615.4l5.4-1.8 5.4-6.3 5.4-11 5.4-12.9 5.4-11.3 5.4-9 16.2-26.1 5.4-7.4 5.4-6.2 5.4-5.4 5.4-4.8 10.8-8.2 10.8-6.7 10.8-5.3 5.4-1.9 5.4-1.2 5.4-.5 5.4 .2 5.4 .6 5.4 1.1 5.4 1.7 5.4 2.3 16.2 9.1 10.8 7.1 10.8 8.5 5.4 4.8 10.8 10.6 10.8 11.7 5.4 6.3 16.2 20.7 16.2 19.7 10.8 14 10.8 13.4 27 30.2 16.2 19.1 5.4 5.6 21.6 20.1 16.2 13.9 32.4 25.6 21.6 15.4 10.8 6.8 10.8 6.3 16.2 8.4 10.8 4.8 10.8 4.2 16.2 4.9 10.8 2.5 10.8 2 10.8 1.7 10.8 1.1 21.6 1.3 37.8 1.1M66.3 608.5l5.4 .1 5.4-4.1 5.4-9.2 10.8-24 5.4-9.1 5.4-8 10.8-17.5 5.4-7.4 5.4-6.2 10.8-10.4 10.8-8.3 10.8-7 10.8-5.5 5.4-2.1 5.4-1.4 5.4-.5 5.4 0 5.4 .5 5.4 .9 5.4 1.5 5.4 2.2 5.4 2.7 16.2 9.4 5.4 3.6 10.8 8.3 10.8 9.8 10.8 11 10.8 12.1 16.2 20.5 16.2 19.6 21.6 27.6 10.8 12.4 16.2 17.9 16.2 19.3 5.4 5.6 21.6 20.3 16.2 14 32.4 25.9 21.6 15.7 10.8 7 10.8 6.4 16.2 8.7 10.8 5 10.8 4.3 16.2 5.1 10.8 2.6 10.8 2.2 10.8 1.8 10.8 1.3 21.6 1.4 37.8 1.4M66.3 613.6l5.4 .5 5.4-.7 5.4-4.8 5.4-10.4 5.4-13.3 5.4-12 5.4-9.3 5.4-8.3 10.8-17.9 5.4-7.6 5.4-6.5 5.4-5.6 5.4-4.9 10.8-8.3 10.8-6.8 10.8-5.5 5.4-2 5.4-1.3 5.4-.6 5.4 .1 5.4 .6 5.4 1 5.4 1.6 5.4 2.2 5.4 2.8 16.2 9.6 5.4 3.8 10.8 8.4 10.8 9.9 10.8 11.2 10.8 12.2 16.2 20.8 16.2 19.7 21.6 27.8 10.8 12.5 16.2 17.8 16.2 19.3 5.4 5.7 21.6 20.2 16.2 14 32.4 25.6 16.2 11.8 16.2 10.5 10.8 6.3 10.8 5.8 10.8 5.2 10.8 4.6 16.2 5.4 10.8 2.8 10.8 2.3 10.8 1.9 10.8 1.4 21.6 1.7 37.8 1.2M66.3 649.2l5.4-5.8 5.4-9.8 10.8-31.6 5.4-13.4 5.4-10.5 5.4-9.1 10.8-20.1 5.4-8.9 5.4-7.6 5.4-6.1 5.4-4.8 10.8-8 10.8-6.6 10.8-5.3 5.4-1.9 5.4-1.3 5.4-.5 5.4 .1 5.4 .7 5.4 1.1 5.4 1.7 5.4 2.3 5.4 2.9 16.2 9.9 10.8 7.9 10.8 9.3 10.8 10.6 10.8 11.7 10.8 13.1 10.8 14.2 16.2 19.8 21.6 27.4 10.8 12.2 16.2 17.4 16.2 19 5.4 5.6 21.6 19.8 16.2 13.7 32.4 24.7 16.2 11 10.8 6.8 10.8 6.2 10.8 5.6 10.8 5.1 10.8 4.5 10.8 3.9 16.2 4.5 21.6 3.9 10.8 1.4 10.8 1 21.6 .7 37.8 .1M66.3 660.2l5.4-6.9 5.4-9.9 5.4-15 5.4-16.3 5.4-14.3 5.4-11.9 21.6-40.8 5.4-8.6 5.4-6.8 5.4-5.3 10.8-8.8 10.8-7.3 10.8-5.9 5.4-2.3 5.4-1.7 5.4-1 5.4-.2 5.4 .4 5.4 .8 5.4 1.3 5.4 2 5.4 2.6 16.2 9.5 10.8 7.6 10.8 9 5.4 5 10.8 11.1 10.8 12.2 54 68.8 10.8 12.6 16.2 17.8 16.2 19.3 5.4 5.9 21.6 20.6 16.2 14.3 32.4 25.4 16.2 11.3 10.8 7 10.8 6.3 10.8 5.8 10.8 5.3 10.8 4.6 10.8 3.9 16.2 4.5 10.8 2.2 10.8 1.8 10.8 1.3 10.8 .9 21.6 .5 37.8-.4M66.3 661.1l5.4-7.4 5.4-10.8 10.8-32.9 5.4-14.2 5.4-11.5 16.2-30.9 5.4-9.6 5.4-8.4 5.4-6.6 5.4-5.1 10.8-8.5 10.8-7 10.8-5.7 5.4-2.1 5.4-1.6 5.4-.7 5.4-.1 5.4 .5 5.4 1 5.4 1.5 5.4 2.1 5.4 2.8 16.2 9.8 10.8 7.8 10.8 9.1 5.4 5.2 10.8 11.2 10.8 12.3 21.6 27.9 10.8 13.4 21.6 27.6 10.8 12.5 16.2 17.7 16.2 19.2 5.4 5.8 21.6 20.3 16.2 14.1 32.4 25 16.2 11.2 10.8 6.8 10.8 6.2 10.8 5.7 10.8 5.1 10.8 4.5 10.8 3.8 16.2 4.4 21.6 3.8 10.8 1.3 10.8 .8 21.6 .5 37.8-.5M66.3 588.4l5.4 4.4 5.4 1.7 5.4-3.2 5.4-9.4 5.4-11.9 5.4-9.9 21.6-31.2 5.4-6.2 10.8-11 5.4-4.7 10.8-8 10.8-6.7 5.4-2.8 5.4-2.4 5.4-1.8 5.4-1 5.4-.4 5.4 .2 5.4 .7 5.4 1.1 5.4 1.7 5.4 2.4 5.4 2.8 16.2 9.4 5.4 3.8 10.8 8.5 10.8 9.9 10.8 11.1 10.8 12.2 16.2 20.4 10.8 12.8 16.2 21 10.8 13.3 21.6 24.1 21.6 25.3 5.4 5.4 16.2 15.2 16.2 14.3 37.8 30.6 21.6 15.8 10.8 7.1 10.8 6.6 16.2 8.7 10.8 5.1 10.8 4.4 16.2 5.2 10.8 2.7 10.8 2.3 16.2 2.6 21.6 2.1 37.8 2.1M66.3 593.3l5.4 3.4 5.4-.5 5.4-6 10.8-22.9 5.4-8.8 5.4-7.4 10.8-16.7 5.4-7.2 5.4-5.9 10.8-10.5 5.4-4.5 5.4-4.1 10.8-7.2 10.8-5.9 5.4-2.2 5.4-1.6 5.4-.8 5.4-.1 5.4 .3 5.4 .8 5.4 1.2 5.4 2 5.4 2.6 16.2 9 5.4 3.5 10.8 8 10.8 9.5 10.8 10.7 10.8 11.9 16.2 20.4 16.2 19.3 21.6 27.8 10.8 12.6 16.2 17.8 16.2 19.5 5.4 5.8 21.6 20.5 16.2 14.2 37.8 30.6 21.6 15.7 10.8 7 10.8 6.4 16.2 8.6 10.8 4.9 10.8 4.3 16.2 4.9 10.8 2.6 10.8 2.2 16.2 2.4 21.6 1.8 37.8 2M66.3 585.1l5.4 3.3 5.4-1.1 5.4-6 10.8-21 21.6-31.5 5.4-6.6 5.4-5.3 10.8-9.8 10.8-8.3 10.8-6.8 5.4-2.9 5.4-2.5 5.4-1.9 5.4-1.3 5.4-.5 5.4 .1 5.4 .6 5.4 1 5.4 1.5 5.4 2.2 5.4 2.8 16.2 9.4 5.4 3.6 10.8 8.4 10.8 9.8 10.8 11 10.8 12.1 16.2 20.5 16.2 19.4 21.6 27.8 27 30.4 16.2 19.3 5.4 5.6 21.6 20.3 10.8 9.4 37.8 30.6 21.6 15.9 10.8 7.2 10.8 6.6 16.2 8.8 10.8 5.2 10.8 4.5 16.2 5.3 10.8 2.8 10.8 2.4 10.8 1.9 10.8 1.5 21.6 1.8 37.8 2.2M66.3 611.1l5.4 .4 5.4-2.9 5.4-8.1 10.8-24.8 5.4-10.1 16.2-26.1 5.4-8.1 5.4-6.8 5.4-5.8 5.4-5.1 10.8-8.7 10.8-7.1 10.8-5.7 5.4-2.2 5.4-1.6 5.4-.8 5.4-.2 5.4 .4 5.4 .9 5.4 1.3 5.4 2 5.4 2.7 16.2 9.4 10.8 7.5 10.8 8.9 5.4 5 10.8 11 10.8 12 21.6 27.4 10.8 13.1 21.6 27.9 10.8 12.7 16.2 17.8 16.2 19.4 5.4 5.9 21.6 20.5 16.2 14.2 32.4 25.8 21.6 15.7 10.8 7 10.8 6.4 16.2 8.7 10.8 5 10.8 4.3 16.2 5.2 10.8 2.6 10.8 2.2 10.8 1.7 10.8 1.3 21.6 1.4 37.8 1.3M66.3 592.2l5.4 3.8 5.4 1.3 5.4-3.3 5.4-9.6 5.4-12.2 5.4-10.3 21.6-32 5.4-6.5 10.8-11.2 10.8-9.1 10.8-7.4 5.4-3.2 10.8-5.2 5.4-1.9 5.4-1.1 5.4-.3 5.4 .1 5.4 .6 5.4 1.1 5.4 1.7 5.4 2.4 5.4 2.8 16.2 9.5 5.4 3.8 10.8 8.5 10.8 9.9 10.8 11.2 10.8 12.3 16.2 20.5 16.2 19.7 10.8 14.2 10.8 13.4 21.6 24.3 21.6 25.3 5.4 5.6 16.2 15.2 16.2 14.4 37.8 30.6 21.6 15.8 10.8 7 10.8 6.5 16.2 8.7 10.8 5 10.8 4.4 16.2 5.1 10.8 2.7 10.8 2.3 16.2 2.5 21.6 2 37.8 1.9M66.3 616.3l5.4-1.2 5.4-5.4 5.4-10.5 5.4-13.2 5.4-12 21.6-36.2 5.4-7.8 5.4-6.6 5.4-5.6 5.4-5.1 10.8-8.6 10.8-7.2 10.8-5.7 5.4-2.2 5.4-1.4 5.4-.7 5.4 0 5.4 .5 5.4 .9 5.4 1.5 5.4 2.2 5.4 2.7 16.2 9.4 5.4 3.6 10.8 8.5 10.8 9.8 10.8 11.1 10.8 12.3 16.2 20.9 16.2 19.8 21.6 28 10.8 12.6 16.2 18.1 16.2 19.6 5.4 5.7 21.6 20.7 16.2 14.2 32.4 26.2 21.6 15.7 10.8 7 10.8 6.4 16.2 8.6 10.8 4.9 10.8 4.2 16.2 5 10.8 2.5 10.8 2 10.8 1.7 10.8 1.1 21.6 1.2 37.8 .9M66.3 622.4l5.4-2.6 5.4-7.1 5.4-11.8 5.4-13.2 5.4-11.3 21.6-35.9 5.4-7.5 5.4-6.4 5.4-5.5 10.8-9.2 10.8-7.6 10.8-6.3 5.4-2.6 5.4-1.9 5.4-1.3 5.4-.5 5.4 0 5.4 .5 5.4 1 5.4 1.6 5.4 2.3 5.4 2.7 16.2 9.2 5.4 3.7 10.8 8.3 10.8 9.8 10.8 11 10.8 12.1 16.2 20.5 16.2 19.5 10.8 14 10.8 13.3 27 30 16.2 19 5.4 5.6 21.6 20.1 16.2 14 32.4 25.8 21.6 15.5 10.8 6.9 10.8 6.3 16.2 8.5 10.8 4.9 10.8 4.2 16.2 4.9 10.8 2.6 10.8 2 10.8 1.7 10.8 1.2 21.6 1.2 37.8 .9M66.3 626.8l5.4-2.2 5.4-6.3 5.4-11.6 5.4-14.1 5.4-12.4 5.4-9.7 5.4-8.6 10.8-18.7 5.4-8.1 5.4-6.8 5.4-5.8 5.4-5 5.4-4.4 10.8-7.6 10.8-6.4 5.4-2.6 5.4-2.1 5.4-1.4 5.4-.7 5.4 0 5.4 .5 5.4 .9 5.4 1.5 5.4 2.1 5.4 2.8 16.2 9.3 5.4 3.6 10.8 8.3 10.8 9.7 10.8 11 10.8 12.1 16.2 20.6 16.2 19.6 21.6 27.4 10.8 12.4 16.2 17.6 16.2 19.3 5.4 5.6 21.6 20.2 16.2 14 32.4 25.7 21.6 15.3 10.8 6.9 10.8 6.3 16.2 8.4 10.8 4.9 10.8 4.2 16.2 4.9 10.8 2.5 10.8 2 10.8 1.7 10.8 1.1 21.6 1.2 37.8 .8M66.3 635l5.4-3.5 5.4-7.5 5.4-12.9 5.4-14.9 5.4-12.9 5.4-10 5.4-8.8 10.8-19.3 5.4-8.5 5.4-7.1 5.4-6 5.4-4.9 10.8-8.3 10.8-7 10.8-5.5 5.4-2.1 5.4-1.4 5.4-.6 5.4 0 5.4 .5 5.4 1 5.4 1.5 5.4 2.2 5.4 2.8 16.2 9.5 10.8 7.7 10.8 9.1 10.8 10.5 16.2 17.8 16.2 20.8 16.2 19.8 21.6 27.5 10.8 12.4 16.2 17.6 16.2 19.2 5.4 5.7 21.6 20.1 16.2 14 32.4 25.4 21.6 15 10.8 6.8 10.8 6.2 16.2 8.2 10.8 4.7 10.8 4.1 16.2 4.8 10.8 2.3 10.8 2 10.8 1.5 10.8 1.1 21.6 1 37.8 .5M66.3 613.7l5.4-3.4 5.4-8.7 10.8-24.3 5.4-9.5 5.4-8.1 10.8-17.5 5.4-7.7 5.4-6.6 5.4-5.4 5.4-4.9 10.8-8.2 10.8-6.7 10.8-5.5 5.4-2.1 5.4-1.4 5.4-.7 5.4 0 5.4 .5 5.4 .9 5.4 1.3 5.4 2.1 5.4 2.7 16.2 9.2 5.4 3.6 10.8 8.1 10.8 9.4 10.8 10.8 10.8 11.7 16.2 20.2 16.2 19.3 21.6 27.1 10.8 12.2 16.2 17.3 16.2 18.8 5.4 5.7 21.6 19.8 16.2 13.7 32.4 25.2 21.6 15.4 10.8 6.9 10.8 6.4 16.2 8.6 10.8 5 10.8 4.4 16.2 5.2 10.8 2.7 10.8 2.2 10.8 1.9 10.8 1.4 21.6 1.6 43.2 1.7M66.3 658.7l5.4-7.1 5.4-10.7 10.8-32.9 5.4-14.1 5.4-11.4 5.4-9.7 10.8-21 5.4-9.5 5.4-8.3 5.4-6.5 5.4-5.1 10.8-8.5 10.8-7 10.8-5.7 5.4-2.1 5.4-1.5 5.4-.8 5.4 0 5.4 .5 5.4 1 5.4 1.5 5.4 2.2 5.4 2.8 10.8 6.5 10.8 7.1 10.8 8.5 5.4 4.8 10.8 10.7 16.2 18.1 16.2 21.2 37.8 48 10.8 12.5 16.2 17.8 16.2 19.3 5.4 5.8 21.6 20.4 16.2 14.1 32.4 25.1 16.2 11.2 10.8 6.8 10.8 6.3 10.8 5.7 10.8 5.1 10.8 4.4 10.8 3.9 16.2 4.3 21.6 3.8 10.8 1.3 10.8 .8 21.6 .5 37.8-.5M66.3 667l5.4-9.5 5.4-14 5.4-18.7 5.4-17.2 5.4-12.9 21.6-41.6 5.4-9 5.4-7.8 5.4-6.3 10.8-9.1 5.4-3.9 10.8-6.8 10.8-5.4 5.4-1.9 5.4-1.3 5.4-.5 5.4 .1 5.4 .7 5.4 1.1 5.4 1.7 5.4 2.4 16.2 9.1 10.8 7.1 10.8 8.6 5.4 4.8 10.8 10.7 10.8 11.7 5.4 6.4 16.2 20.9 10.8 13.1 21.6 27.4 10.8 12.5 21.6 23.5 16.2 19 5.4 5.4 16.2 15.1 16.2 14.3 32.4 25.5 10.8 7.8 10.8 7.2 10.8 6.7 10.8 6.2 10.8 5.6 10.8 5.1 10.8 4.4 10.8 3.8 16.2 4.2 21.6 3.7 10.8 1.2 10.8 .8 21.6 .3 37.8-.6M66.3 638.8l5.4-3.6 5.4-6.7 5.4-11.8 10.8-27.9 5.4-11 16.2-28.6 5.4-9 5.4-7.7 5.4-6.3 5.4-5.2 5.4-4.6 10.8-7.7 10.8-6.5 5.4-2.7 5.4-2.3 5.4-1.6 5.4-.9 5.4-.2 5.4 .4 5.4 .8 5.4 1.3 5.4 2 5.4 2.6 16.2 9.4 10.8 7.5 10.8 8.9 5.4 4.9 10.8 10.9 10.8 12 21.6 27.4 10.8 13.1 21.6 27.5 10.8 12.6 16.2 17.6 16.2 19.1 5.4 5.9 21.6 20.4 16.2 14.1 32.4 25.4 21.6 15.2 10.8 6.8 10.8 6.3 16.2 8.3 10.8 4.8 10.8 4.2 16.2 4.8 10.8 2.5 10.8 1.9 10.8 1.6 10.8 1.1 21.6 1 37.8 .5M66.3 578.3l5.4 5.6 5.4 1.8 5.4-3.5 5.4-9.7 5.4-11.2 5.4-8.5 5.4-6.9 10.8-15.6 5.4-6.6 16.2-15.5 5.4-4.5 10.8-7.6 10.8-6.3 5.4-2.7 5.4-2.1 5.4-1.5 5.4-.8 5.4 0 5.4 .4 5.4 .8 5.4 1.3 5.4 2 5.4 2.6 16.2 9.1 5.4 3.5 10.8 8 10.8 9.4 10.8 10.7 10.8 11.8 16.2 20.2 16.2 19.2 21.6 27.8 10.8 12.5 16.2 17.7 16.2 19.3 5.4 5.8 21.6 20.2 16.2 14.1 16.2 12.8 21.6 17.6 21.6 15.7 10.8 7 10.8 6.5 16.2 8.7 10.8 5 10.8 4.4 16.2 5.1 10.8 2.8 10.8 2.3 16.2 2.6 21.6 2.2 37.8 2.6M66.3 583.9l5.4 3.8 5.4-.6 5.4-5.5 10.8-20.4 21.6-30.5 5.4-6.4 5.4-5.1 10.8-9.5 10.8-8 10.8-6.6 5.4-2.8 5.4-2.4 5.4-1.9 5.4-1.3 5.4-.4 5.4 .1 5.4 .6 5.4 1 5.4 1.5 5.4 2.2 5.4 2.7 16.2 9.3 5.4 3.6 10.8 8.2 10.8 9.5 10.8 10.8 10.8 11.9 16.2 20 16.2 19 21.6 27.2 27 29.7 16.2 18.9 5.4 5.5 21.6 19.8 10.8 9.3 37.8 30.1 21.6 15.8 10.8 7.1 10.8 6.7 16.2 8.9 10.8 5.2 10.8 4.5 16.2 5.5 10.8 2.9 10.8 2.5 10.8 2 10.8 1.6 21.6 2.1 37.8 2.5M66.3 619.4l5.4-1.3 5.4-4.4 5.4-9.4 10.8-26 5.4-10.7 16.2-27.1 5.4-8.4 5.4-7.2 5.4-6 5.4-5.2 10.8-8.5 10.8-7 10.8-5.6 5.4-2.2 5.4-1.5 5.4-.8 5.4 0 5.4 .5 5.4 .9 5.4 1.4 5.4 2.1 5.4 2.8 16.2 9.7 10.8 7.8 10.8 9.1 5.4 5.1 10.8 11.2 10.8 12.2 21.6 27.9 10.8 13.3 21.6 28.1 10.8 12.8 16.2 17.9 16.2 19.4 5.4 5.9 21.6 20.6 16.2 14.1 32.4 25.6 16.2 11.6 10.8 7.2 10.8 6.5 10.8 6.1 10.8 5.4 10.8 4.8 10.8 4.2 16.2 4.9 10.8 2.4 10.8 2 10.8 1.6 10.8 1.2 21.6 1.2 37.8 .8M66.3 624.4l5.4-1.6 5.4-5.1 5.4-10.3 10.8-26.4 5.4-10.2 5.4-8.6 10.8-18.5 5.4-8.3 5.4-7.1 5.4-5.9 5.4-5 10.8-8.5 10.8-6.9 10.8-5.7 5.4-2.1 5.4-1.5 5.4-.8 5.4 0 5.4 .4 5.4 .9 5.4 1.4 5.4 2.1 5.4 2.7 16.2 9.4 10.8 7.6 10.8 9 5.4 5 10.8 10.9 10.8 12 21.6 27.4 10.8 12.9 21.6 27.6 10.8 12.5 16.2 17.6 16.2 19.2 5.4 5.8 21.6 20.2 16.2 14 32.4 25.4 21.6 15.3 10.8 6.9 10.8 6.3 16.2 8.4 10.8 4.9 10.8 4.2 16.2 5 10.8 2.5 10.8 2.1 10.8 1.7 10.8 1.2 21.6 1.2 37.8 1M66.3 631.3l5.4-4.6 5.4-8.8 5.4-13.9 5.4-15.2 5.4-12.7 5.4-10.1 5.4-9.1 10.8-19.4 5.4-8.4 5.4-7.2 5.4-5.9 5.4-4.8 10.8-8.1 10.8-6.6 10.8-5.1 5.4-1.8 5.4-1.2 5.4-.3 5.4 .3 5.4 .8 5.4 1.3 5.4 1.8 5.4 2.6 16.2 9.9 10.8 7.7 10.8 9.1 5.4 5 10.8 11.2 10.8 12.3 5.4 6.6 16.2 21.7 16.2 20.6 21.6 28.4 10.8 12.7 16.2 18.2 16.2 19.6 10.8 10.9 16.2 15.2 10.8 9.5 32.4 25.6 16.2 11.6 10.8 7.1 10.8 6.5 10.8 5.9 10.8 5.4 10.8 4.7 10.8 4.1 16.2 4.9 10.8 2.3 10.8 1.9 10.8 1.4 10.8 1.1 21.6 .9 43.2 .2M66.3 630.4l5.4-2.5 5.4-5.1 5.4-10 10.8-27 5.4-11.4 21.6-37.4 5.4-7.7 5.4-6.5 5.4-5.4 5.4-4.8 10.8-8.2 10.8-6.7 5.4-2.9 5.4-2.4 5.4-1.8 5.4-1 5.4-.3 5.4 .3 5.4 .7 5.4 1.2 5.4 1.9 5.4 2.5 16.2 9.4 10.8 7.5 10.8 8.9 5.4 4.9 10.8 11 10.8 12.1 5.4 6.6 16.2 21.1 16.2 20.2 16.2 21.3 10.8 12.9 16.2 18 21.6 25.6 5.4 5.6 16.2 15.4 16.2 14.4 32.4 26 10.8 8.1 10.8 7.5 10.8 7 10.8 6.4 16.2 8.5 10.8 4.9 10.8 4.2 16.2 5 10.8 2.4 10.8 2 10.8 1.6 10.8 1.1 21.6 1.1 37.8 .4M66.3 604.6l5.4 1.8 5.4-2.2 5.4-7.7 10.8-24 5.4-9.1 5.4-7.7 10.8-17.3 5.4-7.5 5.4-6.2 10.8-10.5 5.4-4.5 5.4-4 10.8-7.1 10.8-5.8 5.4-2.2 5.4-1.6 5.4-.7 5.4-.1 5.4 .3 5.4 .8 5.4 1.3 5.4 2 5.4 2.6 16.2 9 5.4 3.5 10.8 8 10.8 9.5 10.8 10.7 10.8 11.8 16.2 20.3 16.2 19.3 21.6 27.5 10.8 12.4 16.2 17.7 16.2 19.3 5.4 5.7 21.6 20.3 16.2 14.1 32.4 26 21.6 15.9 10.8 7.2 10.8 6.6 16.2 8.8 10.8 5.2 10.8 4.5 16.2 5.4 10.8 2.7 10.8 2.3 10.8 2 10.8 1.4 21.6 1.7 37.8 1.6M66.3 616.1l5.4 .1 5.4-2.2 5.4-7 5.4-11.5 5.4-13 5.4-11 21.6-34.9 5.4-7.2 5.4-6.2 5.4-5.3 5.4-4.7 10.8-7.9 10.8-6.6 10.8-5.2 5.4-1.7 5.4-1.1 5.4-.3 5.4 .2 5.4 .7 5.4 1.2 5.4 1.7 5.4 2.5 16.2 9.1 10.8 7.2 10.8 8.6 5.4 4.8 10.8 10.7 10.8 11.7 5.4 6.4 16.2 20.6 16.2 19.7 10.8 14 10.8 13.3 27 30 16.2 18.9 5.4 5.5 16.2 15 16.2 14.2 32.4 25.7 10.8 8.1 10.8 7.6 16.2 10.4 10.8 6.3 10.8 5.7 10.8 5.1 10.8 4.4 16.2 5.4 10.8 2.7 10.8 2.2 10.8 1.9 10.8 1.4 21.6 1.5 37.8 1.3M66.3 632.3l5.4-3.1 5.4-6.5 5.4-11.8 5.4-14.4 5.4-13.2 5.4-10.6 5.4-8.9 10.8-19.1 5.4-8.6 5.4-7.4 5.4-6 5.4-5.1 5.4-4.4 10.8-7.5 10.8-6.3 5.4-2.5 5.4-2.1 5.4-1.5 5.4-.7 5.4 0 5.4 .5 5.4 1 5.4 1.5 5.4 2.2 5.4 2.7 16.2 9.7 10.8 7.8 10.8 9.1 5.4 5.1 10.8 11.2 10.8 12.1 54 68.6 10.8 12.6 16.2 17.6 16.2 19.2 5.4 5.9 21.6 20.2 16.2 14 32.4 25.2 16.2 11.5 10.8 7 10.8 6.4 10.8 5.9 10.8 5.3 10.8 4.7 10.8 4.1 16.2 4.8 10.8 2.3 10.8 2 10.8 1.5 10.8 1.1 21.6 1 37.8 .6M66.3 603.9l5.4 1.9 5.4-1.6 5.4-6.9 10.8-23.7 5.4-9.5 5.4-7.9 10.8-17.1 5.4-7.7 5.4-6.3 10.8-10.8 5.4-4.5 5.4-4.1 10.8-7.2 10.8-5.8 5.4-2.3 5.4-1.6 5.4-.9 5.4-.1 5.4 .3 5.4 .7 5.4 1.3 5.4 1.9 5.4 2.6 16.2 9 10.8 7.3 10.8 8.6 5.4 4.9 10.8 10.7 10.8 11.8 21.6 26.8 10.8 12.8 21.6 27.6 10.8 12.5 16.2 17.7 16.2 19.3 5.4 5.8 21.6 20.4 16.2 14.1 32.4 26 21.6 16 10.8 7.2 10.8 6.6 16.2 8.9 10.8 5.1 10.8 4.6 16.2 5.4 10.8 2.8 10.8 2.3 10.8 1.9 10.8 1.5 21.6 1.7 37.8 1.7M66.3 601.7l5.4-1.3 5.4-6.3 5.4-10.4 5.4-11.9 5.4-10.6 21.6-33.9 5.4-6.8 5.4-5.8 10.8-9.7 10.8-7.9 10.8-6.5 5.4-2.7 5.4-2.2 5.4-1.7 5.4-.9 5.4-.1 5.4 .4 5.4 .9 5.4 1.3 5.4 2 5.4 2.6 16.2 9.7 10.8 7.6 10.8 9.1 5.4 5.1 10.8 11.1 10.8 12.2 5.4 6.6 16.2 21.2 16.2 20.3 16.2 21.4 10.8 13 16.2 18.3 21.6 25.6 5.4 5.5 16.2 15.4 16.2 14.4 32.4 25.9 10.8 8.2 10.8 7.6 16.2 10.3 10.8 6.2 10.8 5.7 10.8 4.9 10.8 4.4 16.2 5.2 10.8 2.6 10.8 2.1 10.8 1.8 10.8 1.3 21.6 1.4 43.2 1.4M66.3 626.5l5.4-2.4 5.4-6.5 5.4-11.9 5.4-14.3 5.4-12.6 5.4-9.8 5.4-8.5 10.8-18.7 5.4-8.2 5.4-6.8 5.4-5.8 5.4-4.8 10.8-8.2 10.8-6.7 10.8-5.3 5.4-2 5.4-1.3 5.4-.6 5.4 .2 5.4 .6 5.4 1.1 5.4 1.5 5.4 2.3 5.4 2.9 16.2 9.7 10.8 7.8 10.8 9.2 10.8 10.6 16.2 17.9 16.2 20.9 16.2 19.8 21.6 27.6 10.8 12.3 16.2 17.6 16.2 19.2 5.4 5.7 21.6 20 16.2 13.8 32.4 25.2 16.2 11.4 10.8 7.1 10.8 6.4 10.8 5.9 10.8 5.3 10.8 4.7 10.8 4.1 16.2 4.8 21.6 4.4 10.8 1.5 10.8 1.2 21.6 1.1 37.8 .8M66.3 605.5l5.4 2.2 5.4-2 5.4-7.4 10.8-23.6 5.4-9.1 5.4-7.7 10.8-17.3 5.4-7.5 5.4-6.2 10.8-10.7 5.4-4.7 5.4-4.2 10.8-7.5 10.8-6.2 5.4-2.3 5.4-1.8 5.4-.9 5.4-.3 5.4 .2 5.4 .6 5.4 1.1 5.4 1.8 5.4 2.5 16.2 8.4 5.4 3.3 10.8 7.8 10.8 9.1 10.8 10.5 10.8 11.6 16.2 20 16.2 19.1 21.6 27.4 10.8 12.3 16.2 17.7 16.2 19.4 5.4 5.8 21.6 20.5 16.2 14.3 37.8 30.9 21.6 15.8 10.8 7.1 10.8 6.5 16.2 8.7 10.8 5 10.8 4.3 16.2 5 10.8 2.7 10.8 2.2 16.2 2.4 21.6 1.7 37.8 1.7M66.3 620.9l5.4-2.3 5.4-6.7 5.4-11.6 5.4-13.5 5.4-11.7 5.4-9.3 16.2-26.6 5.4-7.6 5.4-6.5 5.4-5.5 5.4-4.8 10.8-8 10.8-6.7 10.8-5.2 5.4-1.9 5.4-1.2 5.4-.5 5.4 .2 5.4 .7 5.4 1.1 5.4 1.6 5.4 2.4 16.2 9.1 10.8 7.2 10.8 8.5 5.4 4.8 10.8 10.6 10.8 11.6 5.4 6.4 16.2 20.7 16.2 19.6 16.2 20.9 5.4 6.6 27 29.9 16.2 19.1 5.4 5.5 21.6 20 16.2 13.8 32.4 25.3 16.2 11.5 10.8 7.1 10.8 6.5 10.8 5.9 10.8 5.4 10.8 4.8 10.8 4.1 16.2 4.8 10.8 2.4 10.8 2.1 10.8 1.6 10.8 1.1 21.6 1.2 37.8 1M66.3 600l5.4-.8 5.4-5.8 5.4-9.6 5.4-11 5.4-9.7 16.2-24.9 5.4-7.6 5.4-6.4 5.4-5.4 10.8-9.5 10.8-7.9 10.8-6.6 5.4-2.8 5.4-2.4 5.4-1.7 5.4-.9 5.4-.2 5.4 .2 5.4 .7 5.4 1.2 5.4 1.9 5.4 2.4 16.2 9 10.8 7.2 10.8 8.6 5.4 4.8 10.8 10.7 10.8 11.7 21.6 26.8 10.8 12.8 21.6 27.6 10.8 12.6 16.2 17.7 16.2 19.3 5.4 5.9 21.6 20.5 16.2 14.3 37.8 30.2 21.6 15.6 10.8 6.9 10.8 6.5 16.2 8.5 10.8 4.9 10.8 4.3 16.2 5 10.8 2.6 10.8 2.1 10.8 1.8 10.8 1.2 21.6 1.6 37.8 1.6M66.3 615.1l5.4-1.3 5.4-5.8 5.4-10.7 5.4-13 5.4-11.8 21.6-35.5 5.4-7.6 5.4-6.3 5.4-5.5 5.4-4.9 10.8-8.2 10.8-6.9 10.8-5.4 5.4-1.9 5.4-1.3 5.4-.5 5.4 .2 5.4 .6 5.4 1 5.4 1.6 5.4 2.3 5.4 2.9 16.2 9.6 5.4 3.7 10.8 8.6 10.8 9.9 10.8 11.2 10.8 12.3 16.2 20.8 16.2 19.8 21.6 27.7 27 30.3 16.2 19.3 5.4 5.6 21.6 20.3 10.8 9.4 37.8 30.2 16.2 11.7 10.8 7.2 10.8 6.5 10.8 6.1 10.8 5.4 10.8 4.9 10.8 4.1 16.2 4.9 10.8 2.5 10.8 2 10.8 1.7 10.8 1.1 21.6 1.3 37.8 1M66.3 619.4l5.4-3.2 5.4-8.1 10.8-25.4 5.4-11 21.6-35.8 5.4-7.3 5.4-6.3 5.4-5.4 5.4-4.7 10.8-8.1 10.8-6.8 5.4-2.8 5.4-2.4 5.4-1.8 5.4-1.1 5.4-.3 5.4 .2 5.4 .7 5.4 1.2 5.4 1.8 5.4 2.5 16.2 9.2 10.8 7.3 10.8 8.7 5.4 4.9 10.8 10.8 10.8 11.9 5.4 6.5 16.2 20.8 16.2 19.9 16.2 21.1 10.8 12.8 16.2 17.9 21.6 25.4 5.4 5.5 16.2 15.3 16.2 14.3 32.4 26 10.8 8.2 10.8 7.6 16.2 10.4 10.8 6.2 10.8 5.7 10.8 5 10.8 4.4 16.2 5.2 10.8 2.6 10.8 2.2 10.8 1.7 10.8 1.3 21.6 1.4 43.2 1M66.3 631.1l5.4-2.6 5.4-5.5 5.4-10.6 10.8-27.1 5.4-11.1 21.6-37 5.4-7.6 5.4-6.3 5.4-5.2 5.4-4.7 10.8-7.9 10.8-6.5 5.4-2.7 5.4-2.3 5.4-1.7 5.4-.9 5.4-.2 5.4 .4 5.4 .8 5.4 1.3 5.4 2 5.4 2.6 16.2 9.5 10.8 7.5 10.8 8.9 5.4 5 10.8 11 10.8 12.1 21.6 27.6 10.8 13.2 21.6 27.9 10.8 12.7 16.2 17.9 16.2 19.3 5.4 6 21.6 20.5 16.2 14.3 32.4 25.6 10.8 8 10.8 7.4 10.8 6.9 10.8 6.3 16.2 8.4 10.8 4.8 10.8 4.2 16.2 4.9 10.8 2.4 10.8 2 10.8 1.6 10.8 1.2 21.6 1 37.8 .6M66.3 617l5.4-1.8 5.4-6.3 5.4-11 5.4-12.9 5.4-11.4 21.6-35.3 5.4-7.4 5.4-6.3 5.4-5.4 5.4-4.8 10.8-8.1 10.8-6.8 10.8-5.4 5.4-1.9 5.4-1.2 5.4-.5 5.4 .1 5.4 .6 5.4 1.1 5.4 1.6 5.4 2.3 5.4 2.8 16.2 9.5 5.4 3.7 10.8 8.4 10.8 9.9 10.8 11.1 10.8 12.2 16.2 20.5 16.2 19.6 10.8 14 10.8 13.4 27 30 16.2 19.1 5.4 5.5 21.6 20.1 16.2 13.8 32.4 25.6 21.6 15.4 10.8 6.8 10.8 6.4 16.2 8.4 10.8 4.9 10.8 4.2 16.2 4.9 10.8 2.5 10.8 2.1 10.8 1.6 10.8 1.2 21.6 1.3 37.8 1.1M66.3 588.2l5.4 3.8 5.4-.2 5.4-5.6 10.8-21.8 5.4-8.5 5.4-7.2 10.8-16.2 5.4-6.8 5.4-5.6 10.8-10.1 10.8-8.4 10.8-7 5.4-3.1 5.4-2.6 5.4-2.1 5.4-1.5 5.4-.7 5.4 0 5.4 .4 5.4 .8 5.4 1.4 5.4 2.1 5.4 2.6 16.2 9 5.4 3.5 10.8 8.1 10.8 9.5 10.8 10.8 10.8 11.8 16.2 20.3 16.2 19.2 21.6 27.6 10.8 12.4 16.2 17.8 16.2 19.3 5.4 5.7 21.6 20.2 10.8 9.6 37.8 30.7 21.6 16.1 10.8 7.2 10.8 6.7 16.2 9.1 10.8 5.2 10.8 4.6 16.2 5.5 10.8 2.9 10.8 2.5 10.8 2 10.8 1.5 21.6 2 37.8 2.2M66.3 645.4l5.4-6.6 5.4-11 10.8-31.9 5.4-12.5 21.6-39 5.4-8.4 5.4-7.2 5.4-5.8 5.4-4.5 5.4-4 5.4-3.6 10.8-6.2 10.8-4.8 5.4-1.7 5.4-.9 5.4-.3 5.4 .4 5.4 .9 5.4 1.4 5.4 1.9 5.4 2.6 16.2 9.9 10.8 7.6 10.8 8.9 5.4 5 5.4 5.3 10.8 11.6 10.8 12.6 16.2 21.1 37.8 47.3 10.8 12.2 16.2 17.4 16.2 18.8 10.8 10.5 16.2 14.6 10.8 9.1 32.4 24.7 16.2 11.2 10.8 6.8 10.8 6.3 10.8 5.8 10.8 5.2 10.8 4.6 10.8 4.1 16.2 4.7 10.8 2.3 10.8 1.9 10.8 1.5 10.8 1.1 21.6 1 43.2 .2M66.3 620.1l5.4-2.4 5.4-7 5.4-11.6 5.4-13.2 5.4-11.4 21.6-35.7 5.4-7.5 5.4-6.4 5.4-5.4 5.4-4.8 10.8-8.1 10.8-6.8 10.8-5.4 5.4-1.9 5.4-1.2 5.4-.4 5.4 .1 5.4 .6 5.4 1.1 5.4 1.7 5.4 2.3 16.2 9 10.8 7.1 10.8 8.5 5.4 4.7 10.8 10.6 10.8 11.6 5.4 6.4 16.2 20.6 16.2 19.6 10.8 14.1 10.8 13.3 27 30.1 16.2 19 5.4 5.5 21.6 20.1 16.2 13.9 32.4 25.6 21.6 15.3 10.8 6.8 10.8 6.3 16.2 8.4 10.8 4.8 10.8 4.1 16.2 4.8 10.8 2.5 10.8 2.1 10.8 1.6 10.8 1.1 21.6 1.2 37.8 1M66.3 613.6l5.4 .5 5.4-3 5.4-8.2 10.8-24.9 5.4-10 5.4-8.3 10.8-17.8 5.4-8.1 5.4-6.8 5.4-5.8 5.4-5.2 10.8-8.7 10.8-7.3 10.8-5.9 5.4-2.2 5.4-1.7 5.4-.9 5.4-.2 5.4 .3 5.4 .7 5.4 1.3 5.4 1.9 5.4 2.5 16.2 9.1 10.8 7.4 10.8 8.7 5.4 4.9 10.8 10.7 10.8 11.9 21.6 27 10.8 12.9 21.6 27.7 10.8 12.5 16.2 17.8 16.2 19.3 5.4 5.9 21.6 20.4 16.2 14.2 32.4 26 21.6 15.8 10.8 7.1 10.8 6.5 16.2 8.8 10.8 5.1 10.8 4.4 16.2 5.3 10.8 2.7 10.8 2.2 10.8 1.8 10.8 1.4 21.6 1.5 37.8 1.3M66.3 620.5l5.4-1.2 5.4-5.1 5.4-10.4 10.8-26.4 5.4-10 5.4-8.4 10.8-18.6 5.4-8.1 5.4-6.9 5.4-5.9 5.4-5 10.8-8.5 10.8-7 10.8-5.6 5.4-2.1 5.4-1.5 5.4-.7 5.4 0 5.4 .5 5.4 .9 5.4 1.5 5.4 2.1 5.4 2.8 16.2 9.6 5.4 3.6 10.8 8.5 10.8 9.8 10.8 11.1 10.8 12.2 16.2 20.9 16.2 19.9 21.6 27.9 10.8 12.6 16.2 17.8 16.2 19.5 5.4 5.8 21.6 20.4 16.2 14.1 32.4 25.6 21.6 15.4 10.8 6.9 10.8 6.3 16.2 8.4 10.8 4.8 10.8 4.2 16.2 4.9 10.8 2.5 10.8 2 10.8 1.7 10.8 1.1 21.6 1.2 37.8 .9M66.3 663.2l5.4-7.6 5.4-11.4 10.8-34.2 5.4-14.1 5.4-11.4 5.4-9.9 10.8-21.4 5.4-9.6 5.4-8.4 5.4-6.7 5.4-5.1 10.8-8.7 10.8-7.3 10.8-5.8 5.4-2.3 5.4-1.6 5.4-.8 5.4-.1 5.4 .5 5.4 .9 5.4 1.4 5.4 2.2 5.4 2.7 16.2 9.6 5.4 3.7 10.8 8.5 10.8 9.9 10.8 11.2 10.8 12.3 16.2 21.2 16.2 20.2 21.6 27.9 10.8 12.5 16.2 17.9 16.2 19.5 5.4 5.8 21.6 20.5 16.2 14.3 32.4 25.5 16.2 11.3 10.8 6.9 10.8 6.3 10.8 5.7 10.8 5.2 10.8 4.5 10.8 3.9 16.2 4.3 10.8 2.1 10.8 1.7 10.8 1.2 10.8 .8 21.6 .4 37.8-.7M66.3 596.1l5.4 3.6 5.4 1.8 5.4-2.7 5.4-9.2 5.4-12.4 5.4-10.9 21.6-32.6 5.4-6.8 10.8-11.6 5.4-4.9 5.4-4.4 5.4-3.9 10.8-7 10.8-5.5 5.4-2 5.4-1.4 5.4-.5 5.4 0 5.4 .5 5.4 .9 5.4 1.5 5.4 2.2 5.4 2.7 16.2 9.2 5.4 3.6 10.8 8.2 10.8 9.7 10.8 10.9 10.8 12.1 16.2 20.3 16.2 19.5 10.8 14.1 10.8 13.4 27 30.3 16.2 19.2 5.4 5.6 21.6 20.2 10.8 9.5 37.8 30.8 21.6 15.9 10.8 7.2 10.8 6.6 16.2 8.8 10.8 5.1 10.8 4.5 16.2 5.3 10.8 2.7 10.8 2.3 16.2 2.7 21.6 2 37.8 2M66.3 639.1l5.4-4.8 5.4-9.1 10.8-29.5 5.4-12.7 5.4-10.1 5.4-9.1 10.8-19.6 5.4-8.4 5.4-7.3 5.4-5.9 5.4-4.9 10.8-8.3 10.8-6.8 10.8-5.4 5.4-2 5.4-1.3 5.4-.5 5.4 .1 5.4 .6 5.4 1.1 5.4 1.6 5.4 2.3 16.2 9.3 10.8 7.2 10.8 8.6 5.4 4.8 10.8 10.7 10.8 11.8 10.8 13.2 10.8 14.2 16.2 20 21.6 27.7 10.8 12.4 16.2 17.8 16.2 19.2 5.4 5.7 21.6 20.2 16.2 13.9 32.4 25.3 16.2 11.4 10.8 7 10.8 6.3 10.8 5.8 10.8 5.2 10.8 4.6 10.8 4 16.2 4.5 21.6 4.1 10.8 1.4 10.8 1 21.6 .7 37.8 .3M66.3 625.4l5.4-1.6 5.4-5.4 5.4-10.9 5.4-13.9 5.4-12.7 5.4-10 5.4-8.5 10.8-18.6 5.4-8.3 5.4-6.9 5.4-5.9 5.4-5 10.8-8.5 10.8-7.1 10.8-5.7 5.4-2.1 5.4-1.6 5.4-.7 5.4-.1 5.4 .5 5.4 .8 5.4 1.4 5.4 2.1 5.4 2.7 16.2 9.3 5.4 3.6 10.8 8.2 10.8 9.6 10.8 10.9 10.8 12 16.2 20.6 16.2 19.6 21.6 27.6 10.8 12.4 16.2 17.6 16.2 19.3 5.4 5.7 21.6 20.3 16.2 14 32.4 25.7 21.6 15.4 10.8 6.8 10.8 6.4 16.2 8.5 10.8 4.9 10.8 4.2 16.2 5 10.8 2.5 10.8 2.1 10.8 1.7 10.8 1.2 21.6 1.2 37.8 .9M66.3 624.9l5.4-.9 5.4-3.6 5.4-8.4 10.8-25.5 5.4-11 21.6-35.8 5.4-7.4 5.4-6.3 5.4-5.3 5.4-4.8 10.8-8 10.8-6.8 10.8-5.3 5.4-1.8 5.4-1.2 5.4-.4 5.4 .2 5.4 .7 5.4 1.1 5.4 1.7 5.4 2.4 16.2 8.9 10.8 7 10.8 8.6 5.4 4.7 10.8 10.6 10.8 11.6 5.4 6.4 16.2 20.5 16.2 19.5 16.2 20.7 10.8 12.6 16.2 17.6 21.6 25.1 5.4 5.4 16.2 15.1 16.2 14.3 32.4 25.9 10.8 8.1 10.8 7.6 10.8 7.1 10.8 6.6 16.2 8.7 10.8 5.1 10.8 4.5 16.2 5.3 10.8 2.7 10.8 2.2 10.8 1.9 10.8 1.3 21.6 1.4 37.8 1M66.3 641.8l5.4-4.1 5.4-7.5 5.4-12.6 5.4-14.8 5.4-13.6 5.4-11 16.2-28.9 5.4-9 5.4-7.8 5.4-6.3 5.4-5.2 5.4-4.5 10.8-7.7 10.8-6.5 5.4-2.7 5.4-2.2 5.4-1.6 5.4-.8 5.4-.2 5.4 .5 5.4 .8 5.4 1.4 5.4 2 5.4 2.7 16.2 9.5 10.8 7.5 10.8 9 5.4 5 10.8 11 10.8 12 54 68.3 10.8 12.5 16.2 17.6 16.2 19.2 5.4 5.9 21.6 20.3 16.2 14.1 32.4 25.4 16.2 11.5 10.8 7 10.8 6.5 10.8 5.9 10.8 5.3 10.8 4.8 10.8 4.1 16.2 4.8 10.8 2.3 10.8 1.9 10.8 1.6 10.8 1 21.6 .9 37.8 .3M66.3 583.5l5.4 4.2 5.4 .1 5.4-5.2 10.8-21.7 5.4-8.4 5.4-7.3 10.8-16 5.4-6.8 5.4-5.5 10.8-10.1 10.8-8.4 10.8-7 5.4-3 5.4-2.5 5.4-2.1 5.4-1.4 5.4-.6 5.4 0 5.4 .5 5.4 .9 5.4 1.4 5.4 2.2 5.4 2.7 16.2 9.3 5.4 3.6 10.8 8.3 10.8 9.7 10.8 11 10.8 12 16.2 20.6 16.2 19.5 21.6 28 10.8 12.6 16.2 18 16.2 19.5 5.4 5.7 21.6 20.4 16.2 14.1 16.2 12.9 16.2 13.3 21.6 16.1 10.8 7.2 10.8 6.6 16.2 9 10.8 5.1 10.8 4.6 16.2 5.4 10.8 2.8 10.8 2.4 10.8 2 10.8 1.5 21.6 1.8 37.8 2.2M66.3 620.1l5.4-4.2 5.4-9.3 10.8-25.9 5.4-10.3 16.2-26.7 5.4-8.3 5.4-7 5.4-5.9 5.4-5.2 10.8-8.6 10.8-7.1 10.8-5.7 5.4-2.3 5.4-1.6 5.4-.8 5.4-.2 5.4 .4 5.4 .8 5.4 1.3 5.4 2 5.4 2.6 16.2 9.3 10.8 7.4 10.8 8.8 5.4 4.9 10.8 10.9 10.8 11.9 21.6 27.1 10.8 13 21.6 27.6 10.8 12.5 16.2 17.6 16.2 19.2 5.4 5.9 21.6 20.3 16.2 14.1 32.4 25.7 21.6 15.5 10.8 7 10.8 6.4 16.2 8.6 10.8 4.9 10.8 4.4 16.2 5.1 10.8 2.6 10.8 2.1 10.8 1.8 10.8 1.3 21.6 1.3 43.2 1.1M66.3 612.9l5.4 .3 5.4-3.6 5.4-9 10.8-25.7 5.4-9.7 5.4-8.4 10.8-18.4 5.4-8.1 5.4-6.7 10.8-11.3 10.8-9.1 10.8-7.7 10.8-6.2 5.4-2.4 5.4-1.7 5.4-1 5.4-.2 5.4 .2 5.4 .7 5.4 1.3 5.4 1.9 5.4 2.6 16.2 9 5.4 3.5 10.8 8.2 10.8 9.6 10.8 11 10.8 12.1 16.2 20.9 16.2 19.9 21.6 28.4 10.8 12.9 16.2 18.3 16.2 20 5.4 5.9 21.6 21.1 16.2 14.7 32.4 26.8 21.6 16.2 10.8 7.2 10.8 6.6 16.2 8.9 10.8 5.1 10.8 4.4 16.2 5.1 10.8 2.6 10.8 2.2 10.8 1.7 10.8 1.2 21.6 1.2 37.8 .9M66.3 606.7l5.4 1.3 5.4-2.8 5.4-8.1 10.8-24 5.4-9 5.4-7.8 10.8-17.2 5.4-7.5 5.4-6.1 10.8-10.4 5.4-4.5 5.4-4 10.8-7 10.8-5.7 5.4-2.1 5.4-1.5 5.4-.8 5.4 0 5.4 .4 5.4 .8 5.4 1.3 5.4 2.1 5.4 2.6 16.2 9 5.4 3.5 10.8 8.1 10.8 9.4 10.8 10.7 10.8 11.8 16.2 20.3 16.2 19.2 21.6 27.3 10.8 12.4 16.2 17.5 16.2 19.2 5.4 5.7 21.6 20.1 16.2 14 32.4 25.9 21.6 15.8 10.8 7.1 10.8 6.5 16.2 8.8 10.8 5.2 10.8 4.4 16.2 5.4 10.8 2.7 10.8 2.3 10.8 1.9 10.8 1.5 21.6 1.6 37.8 1.7M66.3 586.1l5.4 4.6 5.4 .8 5.4-4.6 5.4-10.3 5.4-11.5 5.4-8.6 5.4-7.2 10.8-16.1 5.4-6.9 5.4-5.7 10.8-10.3 10.8-8.6 10.8-7.2 5.4-3.1 5.4-2.7 5.4-2.3 5.4-1.6 5.4-.8 5.4-.1 5.4 .3 5.4 .8 5.4 1.2 5.4 1.9 5.4 2.6 16.2 8.9 5.4 3.4 10.8 8 10.8 9.3 10.8 10.7 10.8 11.7 16.2 20.2 16.2 19.1 21.6 27.8 10.8 12.5 16.2 17.7 16.2 19.4 5.4 5.8 21.6 20.4 16.2 14.2 37.8 30.6 21.6 15.7 10.8 7.1 10.8 6.5 16.2 8.7 10.8 5 10.8 4.4 16.2 5.1 10.8 2.7 10.8 2.3 16.2 2.6 21.6 2 37.8 2.3M66.3 633.4l5.4-3.7 5.4-7.9 5.4-13.1 5.4-14.5 5.4-12.3 21.6-37.2 5.4-8 5.4-6.9 5.4-5.7 5.4-4.8 10.8-8 10.8-6.6 10.8-5.3 5.4-1.9 5.4-1.3 5.4-.5 5.4 .1 5.4 .7 5.4 1 5.4 1.6 5.4 2.3 5.4 2.9 16.2 9.5 10.8 7.8 10.8 9.1 10.8 10.4 10.8 11.6 10.8 12.9 10.8 13.9 16.2 19.5 21.6 27.1 10.8 12.1 16.2 17.5 16.2 18.8 5.4 5.6 21.6 19.7 16.2 13.7 32.4 25.1 16.2 11.3 10.8 7 10.8 6.4 10.8 5.9 10.8 5.3 10.8 4.7 10.8 4.1 16.2 4.7 21.6 4.4 10.8 1.6 10.8 1.1 21.6 1.1 37.8 .7M66.3 628.6l5.4-3.8 5.4-8.5 10.8-26.9 5.4-11.5 21.6-36.4 5.4-7.7 5.4-6.5 5.4-5.5 5.4-4.7 10.8-7.9 10.8-6.6 10.8-5.2 5.4-1.8 5.4-1.1 5.4-.4 5.4 .3 5.4 .7 5.4 1.1 5.4 1.7 5.4 2.4 16.2 9.2 10.8 7.1 10.8 8.6 5.4 4.8 10.8 10.6 10.8 11.6 5.4 6.4 16.2 20.5 16.2 19.6 16.2 20.7 10.8 12.6 21.6 23.5 16.2 18.9 5.4 5.4 16.2 14.9 16.2 14.2 32.4 25.4 10.8 8 10.8 7.5 10.8 7 10.8 6.4 10.8 5.9 10.8 5.3 10.8 4.7 10.8 4 16.2 4.7 21.6 4.4 10.8 1.5 10.8 1.1 21.6 1.1 37.8 .8M66.3 603.6l5.4 .9 5.4-3.4 5.4-8.4 10.8-23.3 5.4-8.9 5.4-7.9 10.8-17.1 5.4-7.2 5.4-6 10.8-10.2 5.4-4.4 5.4-4 10.8-6.9 10.8-5.6 5.4-2 5.4-1.4 5.4-.6 5.4 .1 5.4 .4 5.4 1 5.4 1.5 5.4 2.1 5.4 2.8 16.2 9.2 5.4 3.6 10.8 8.3 10.8 9.7 10.8 11 10.8 12 16.2 20.5 16.2 19.5 21.6 27.5 10.8 12.4 16.2 17.8 16.2 19.3 5.4 5.7 21.6 20.2 16.2 14 32.4 25.9 21.6 15.8 10.8 7 10.8 6.6 16.2 8.7 10.8 5 10.8 4.4 16.2 5.2 10.8 2.7 10.8 2.2 10.8 1.8 10.8 1.4 21.6 1.5 37.8 1.6M66.3 594.1l5.4 2.8 5.4-1.3 5.4-6.6 10.8-22.6 5.4-8.7 5.4-7.5 10.8-16.6 5.4-7.1 5.4-5.8 10.8-10.1 5.4-4.5 5.4-3.9 10.8-7 10.8-5.6 5.4-2.1 5.4-1.4 5.4-.7 5.4 0 5.4 .5 5.4 .8 5.4 1.5 5.4 2.1 5.4 2.6 16.2 9.2 5.4 3.6 10.8 8.2 10.8 9.6 10.8 10.8 10.8 12 16.2 20.4 16.2 19.4 21.6 27.7 10.8 12.4 16.2 17.8 16.2 19.3 5.4 5.7 21.6 20.2 16.2 14.1 32.4 26 21.6 15.9 10.8 7.2 10.8 6.6 16.2 8.9 10.8 5.1 10.8 4.5 16.2 5.4 10.8 2.8 10.8 2.3 10.8 2 10.8 1.4 21.6 1.8 37.8 2M66.3 583.6l5.4 5.1 5.4 1.3 5.4-4.1 5.4-10 5.4-11.4 5.4-8.7 5.4-7.2 10.8-15.9 5.4-6.9 5.4-5.6 10.8-10.4 5.4-4.6 10.8-7.8 10.8-6.6 5.4-2.8 5.4-2.3 5.4-1.6 5.4-.8 5.4-.2 5.4 .3 5.4 .7 5.4 1.2 5.4 1.9 5.4 2.5 10.8 5.8 10.8 6.5 10.8 7.9 10.8 9.3 10.8 10.7 10.8 11.7 16.2 20.1 16.2 19.2 21.6 27.8 10.8 12.5 16.2 17.8 16.2 19.5 5.4 5.8 21.6 20.4 16.2 14.3 37.8 30.7 21.6 15.9 10.8 7 10.8 6.6 16.2 8.8 10.8 5 10.8 4.4 16.2 5.2 10.8 2.7 10.8 2.3 16.2 2.6 21.6 2.1 37.8 2.4M66.3 595.4l5.4 3.4 5.4 1.5 5.4-3 5.4-9.4 5.4-12.4 5.4-10.7 21.6-32.5 5.4-6.8 10.8-11.4 5.4-4.8 5.4-4.3 5.4-3.9 10.8-6.8 10.8-5.4 5.4-1.9 5.4-1.2 5.4-.5 5.4 .1 5.4 .6 5.4 1 5.4 1.6 5.4 2.3 5.4 2.8 16.2 9.4 5.4 3.7 10.8 8.4 10.8 9.8 10.8 11 10.8 12.2 16.2 20.4 16.2 19.6 10.8 14.1 10.8 13.5 27 30.3 16.2 19.1 5.4 5.6 21.6 20.2 10.8 9.4 37.8 30.6 21.6 15.7 10.8 7.1 10.8 6.5 16.2 8.7 10.8 5.1 10.8 4.4 16.2 5.2 10.8 2.7 10.8 2.2 16.2 2.6 21.6 2 37.8 1.9M66.3 637.1l5.4-5.4 5.4-10.2 10.8-29.1 5.4-11.6 21.6-37.6 5.4-8 5.4-6.7 5.4-5.7 5.4-4.8 10.8-8.1 10.8-6.8 10.8-5.3 5.4-1.9 5.4-1.1 5.4-.4 5.4 .2 5.4 .6 5.4 1.2 5.4 1.7 5.4 2.4 16.2 9 10.8 7.2 10.8 8.6 5.4 4.8 10.8 10.6 10.8 11.8 5.4 6.4 16.2 20.7 10.8 13 21.6 27.5 10.8 12.6 21.6 23.8 16.2 19 5.4 5.4 16.2 15.1 16.2 14.4 32.4 25.8 10.8 8 10.8 7.5 10.8 6.9 10.8 6.4 10.8 5.9 10.8 5.3 10.8 4.6 10.8 4 16.2 4.6 21.6 4.2 10.8 1.4 10.8 1 21.6 .9 37.8 .3M66.3 618l5.4 .3 5.4-2.1 5.4-6.8 5.4-11.5 5.4-13 5.4-11.1 16.2-26.5 5.4-8.6 5.4-7.3 5.4-6.3 5.4-5.4 5.4-4.9 10.8-8.2 10.8-6.9 10.8-5.4 5.4-1.9 5.4-1.2 5.4-.5 5.4 .1 5.4 .6 5.4 1 5.4 1.6 5.4 2.3 5.4 2.8 16.2 9.3 5.4 3.6 10.8 8.4 10.8 9.8 10.8 11 10.8 12.3 16.2 20.4 16.2 19.5 10.8 14 10.8 13.3 27 30 16.2 19.1 5.4 5.5 16.2 15.1 16.2 14.4 37.8 30.3 21.6 15.5 10.8 6.9 10.8 6.4 16.2 8.5 10.8 4.9 10.8 4.2 16.2 4.9 10.8 2.6 10.8 2.1 16.2 2.3 21.6 1.6 37.8 1.2M66.3 636.4l5.4-6.1 5.4-11.1 10.8-29.6 5.4-11.3 21.6-37.5 5.4-7.8 5.4-6.6 5.4-5.6 5.4-4.6 10.8-7.9 10.8-6.5 5.4-2.8 5.4-2.3 5.4-1.7 5.4-.9 5.4-.3 5.4 .4 5.4 .8 5.4 1.2 5.4 2 5.4 2.5 16.2 9.4 10.8 7.4 10.8 8.8 5.4 5 10.8 10.8 10.8 12 5.4 6.5 16.2 20.9 10.8 13.1 21.6 27.6 10.8 12.6 16.2 17.7 16.2 19.2 5.4 5.9 21.6 20.4 16.2 14.2 32.4 25.6 10.8 7.9 10.8 7.4 10.8 6.8 10.8 6.3 16.2 8.4 10.8 4.8 10.8 4.2 16.2 4.9 10.8 2.5 10.8 2 10.8 1.6 10.8 1.1 21.6 1.1 43.2 .4M66.3 620.5l5.4-.1 5.4-1.7 5.4-6 5.4-11 5.4-13.5 5.4-11.9 21.6-36.2 5.4-7.8 5.4-6.6 5.4-5.7 5.4-4.9 10.8-8.5 10.8-7 10.8-5.7 5.4-2.1 5.4-1.4 5.4-.6 5.4 0 5.4 .5 5.4 .9 5.4 1.5 5.4 2.2 5.4 2.7 16.2 9.3 5.4 3.7 10.8 8.3 10.8 9.8 10.8 11 10.8 12.2 16.2 20.6 16.2 19.7 21.6 27.6 27 30.3 16.2 19.3 5.4 5.7 21.6 20.3 16.2 14.1 32.4 25.9 21.6 15.6 10.8 6.9 10.8 6.4 16.2 8.5 10.8 4.9 10.8 4.3 16.2 4.9 10.8 2.5 10.8 2.1 10.8 1.6 10.8 1.2 16.2 1 37.8 1.1M66.3 642.9l5.4-4.1 5.4-6.5 5.4-11.4 10.8-28 5.4-11.7 21.6-38.6 5.4-8.1 5.4-6.7 5.4-5.3 5.4-4.8 10.8-8 10.8-6.7 10.8-5.3 5.4-1.8 5.4-1 5.4-.4 5.4 .3 5.4 .7 5.4 1.2 5.4 1.8 5.4 2.5 16.2 9.3 10.8 7.3 10.8 8.8 5.4 4.9 10.8 10.8 10.8 11.9 5.4 6.5 16.2 20.9 16.2 20 16.2 20.8 10.8 12.7 21.6 23.9 16.2 19 5.4 5.5 16.2 15.2 16.2 14.3 32.4 25.6 10.8 7.9 10.8 7.4 16.2 10 10.8 6.1 10.8 5.4 10.8 4.9 10.8 4.2 16.2 4.9 10.8 2.4 10.8 2 10.8 1.6 10.8 1.1 21.6 .9 37.8 .3M66.3 654.4l5.4-6 5.4-9.2 5.4-14.4 5.4-16 5.4-14 5.4-11.5 16.2-30.4 5.4-9.5 5.4-8.3 5.4-6.7 5.4-5.2 10.8-8.8 10.8-7.3 10.8-6 5.4-2.3 5.4-1.7 5.4-.9 5.4-.3 5.4 .4 5.4 .8 5.4 1.3 5.4 2 5.4 2.6 16.2 9.4 10.8 7.6 10.8 8.9 5.4 5.1 10.8 11 10.8 12.1 54 68.7 10.8 12.6 16.2 17.8 16.2 19.4 5.4 5.9 21.6 20.6 16.2 14.3 32.4 25.5 10.8 7.8 10.8 7.3 10.8 6.7 10.8 6.2 16.2 8.1 10.8 4.7 10.8 4 16.2 4.7 10.8 2.2 10.8 1.8 10.8 1.4 10.8 .9 21.6 .7 37.8-.3M66.3 601.6l5.4 0 5.4-4.9 5.4-9.1 5.4-11.4 5.4-10.4 21.6-33.1 5.4-6.7 5.4-5.6 10.8-9.8 10.8-8.1 10.8-6.7 10.8-5.3 5.4-1.9 5.4-1.1 5.4-.4 5.4 .2 5.4 .6 5.4 1.1 5.4 1.7 5.4 2.4 5.4 2.8 16.2 9.4 5.4 3.7 10.8 8.5 10.8 9.8 10.8 11.1 10.8 12.3 16.2 20.4 16.2 19.5 10.8 14.1 10.8 13.3 21.6 23.9 21.6 25.3 5.4 5.4 16.2 15.2 16.2 14.3 37.8 30.4 21.6 15.6 10.8 7 10.8 6.4 16.2 8.6 10.8 5 10.8 4.3 16.2 5.1 10.8 2.6 10.8 2.2 10.8 1.8 10.8 1.3 21.6 1.5 37.8 1.6M66.3 642.6l5.4-4.9 5.4-8.8 5.4-14.3 5.4-15.9 5.4-13.5 5.4-10.5 5.4-9.1 10.8-20 5.4-8.9 5.4-7.5 5.4-6.2 5.4-4.9 10.8-8.3 10.8-6.9 10.8-5.4 5.4-2.1 5.4-1.3 5.4-.6 5.4 0 5.4 .7 5.4 1 5.4 1.6 5.4 2.3 5.4 2.9 16.2 9.9 10.8 8 10.8 9.3 10.8 10.7 16.2 18.2 16.2 21.3 16.2 20.1 21.6 27.9 10.8 12.5 16.2 17.7 16.2 19.4 5.4 5.8 21.6 20.2 16.2 14 32.4 25.2 16.2 11.2 10.8 6.9 10.8 6.3 10.8 5.8 10.8 5.2 10.8 4.5 10.8 3.9 16.2 4.5 21.6 4 10.8 1.3 10.8 1 21.6 .7 37.8 0M66.3 610.5l5.4 1 5.4-2.6 5.4-7.8 10.8-24.5 5.4-9.8 5.4-8.2 10.8-17.6 5.4-7.9 5.4-6.6 10.8-10.9 10.8-8.8 10.8-7.2 10.8-5.9 5.4-2.3 5.4-1.7 5.4-.9 5.4-.2 5.4 .3 5.4 .7 5.4 1.2 5.4 2 5.4 2.5 16.2 9 10.8 7.3 10.8 8.7 5.4 4.8 10.8 10.7 10.8 11.8 21.6 27 10.8 12.9 21.6 27.6 10.8 12.5 16.2 17.8 16.2 19.3 5.4 5.8 21.6 20.5 16.2 14.2 32.4 26.1 21.6 15.9 10.8 7.1 10.8 6.6 16.2 8.9 10.8 5.1 10.8 4.5 16.2 5.3 10.8 2.7 10.8 2.3 10.8 1.9 10.8 1.4 21.6 1.5 37.8 1.4M66.3 622.6l5.4-1.6 5.4-4.2 5.4-9 10.8-26.1 5.4-11.3 21.6-36.4 5.4-7.5 5.4-6.3 5.4-5.4 5.4-4.6 10.8-7.9 10.8-6.6 5.4-2.7 5.4-2.3 5.4-1.6 5.4-1 5.4-.2 5.4 .4 5.4 .8 5.4 1.4 5.4 1.9 5.4 2.7 16.2 9.6 10.8 7.7 10.8 9 5.4 5 10.8 11.1 10.8 12.2 5.4 6.6 16.2 21.3 16.2 20.3 16.2 21.2 10.8 13 21.6 24.3 10.8 13.1 5.4 6.1 5.4 5.5 16.2 15.3 16.2 14.4 32.4 25.7 16.2 11.7 10.8 7.2 10.8 6.6 10.8 6.1 10.8 5.4 10.8 4.9 10.8 4.2 16.2 5 10.8 2.4 10.8 2 10.8 1.6 10.8 1.2 21.6 1.1 37.8 .7M66.3 639l5.4-3.9 5.4-6.9 5.4-11.9 10.8-27.9 5.4-11.3 21.6-37.7 5.4-7.8 5.4-6.4 5.4-5.1 5.4-4.5 10.8-7.7 10.8-6.4 5.4-2.6 5.4-2.2 5.4-1.6 5.4-.8 5.4-.1 5.4 .4 5.4 .9 5.4 1.5 5.4 2 5.4 2.7 16.2 9.6 10.8 7.6 10.8 9.1 5.4 5 10.8 11 10.8 12.1 54 68.5 10.8 12.6 16.2 17.7 16.2 19.1 5.4 5.9 21.6 20.3 16.2 14.1 32.4 25.2 16.2 11.4 10.8 7 10.8 6.4 10.8 5.9 10.8 5.3 10.8 4.7 10.8 4.1 16.2 4.8 10.8 2.3 10.8 1.9 10.8 1.6 10.8 1.1 21.6 .9 37.8 .4M66.3 562l5.4 6.8 5.4 2.4 5.4-2.4 5.4-8.2 5.4-9.8 21.6-28.3 5.4-5.8 21.6-18.3 5.4-4 10.8-6.9 10.8-5.5 5.4-2 5.4-1.3 5.4-.5 10.8 .5 5.4 .9 5.4 1.5 5.4 2.2 5.4 2.6 16.2 9.1 5.4 3.6 10.8 8.2 10.8 9.6 10.8 10.8 10.8 12 16.2 20.2 16.2 19.1 21.6 27.9 27 30.5 16.2 19.4 5.4 5.6 21.6 20.4 10.8 9.5 21.6 17.4 21.6 18 10.8 8.3 10.8 7.7 10.8 7.1 10.8 6.7 16.2 8.8 16.2 7.3 10.8 4 10.8 3.4 10.8 2.8 10.8 2.4 16.2 2.7 21.6 2.3 37.8 3M66.3 609.5l5.4 .5 5.4-2.8 5.4-7.9 10.8-24.6 5.4-10.1 16.2-25.8 5.4-8 5.4-6.7 5.4-5.7 5.4-5.1 10.8-8.5 10.8-6.9 10.8-5.6 5.4-2.1 5.4-1.5 5.4-.8 5.4-.1 5.4 .5 5.4 .9 5.4 1.4 5.4 2.1 5.4 2.6 16.2 9.6 10.8 7.6 10.8 9 5.4 5 10.8 11 10.8 12 21.6 27.4 10.8 13.1 21.6 27.8 10.8 12.7 16.2 17.7 16.2 19.3 5.4 5.9 21.6 20.3 16.2 14.1 32.4 25.5 21.6 15.6 10.8 6.9 10.8 6.4 16.2 8.6 10.8 4.9 10.8 4.4 16.2 5.1 10.8 2.6 10.8 2.2 10.8 1.7 10.8 1.3 21.6 1.5 37.8 1.4M66.3 680.4l5.4-11.4 5.4-15.9 5.4-20.7 5.4-18.7 5.4-13.8 21.6-44 5.4-9.6 5.4-8.5 5.4-6.7 5.4-4.8 5.4-4.3 10.8-7.5 10.8-6.1 5.4-2.5 5.4-2 5.4-1.3 5.4-.5 5.4 .2 5.4 .7 5.4 1.1 5.4 1.8 5.4 2.4 10.8 6.1 10.8 6.8 5.4 3.8 10.8 8.8 5.4 4.9 5.4 5.3 10.8 11.5 10.8 12.6 16.2 21.2 37.8 47.7 27 29.9 16.2 19.1 5.4 5.5 21.6 20.1 16.2 13.9 27 20.9 10.8 7.6 10.8 7.1 10.8 6.6 10.8 5.9 10.8 5.5 10.8 4.8 10.8 4.2 10.8 3.6 16.2 3.9 21.6 3.3 10.8 1.1 10.8 .5 21.6 0 37.8-1.2M66.3 630.3l5.4-2.7 5.4-5.4 5.4-10.2 10.8-27.2 5.4-11.4 21.6-37.5 5.4-7.8 5.4-6.4 5.4-5.4 5.4-4.7 10.8-8 10.8-6.7 5.4-2.8 5.4-2.3 5.4-1.7 5.4-1 5.4-.2 5.4 .4 5.4 .8 5.4 1.3 5.4 2 5.4 2.6 16.2 9.6 10.8 7.6 10.8 9 5.4 5.1 10.8 11.1 10.8 12.2 5.4 6.6 16.2 21.3 16.2 20.4 16.2 21.3 10.8 12.9 16.2 18.1 21.6 25.6 5.4 5.5 16.2 15.4 16.2 14.4 32.4 25.8 16.2 11.8 10.8 7.2 10.8 6.5 10.8 6 10.8 5.5 10.8 4.8 10.8 4.2 16.2 4.8 10.8 2.4 10.8 1.9 10.8 1.6 10.8 1.1 21.6 .9 37.8 .4M66.3 616l5.4-2.2 5.4-7 5.4-11.3 5.4-12.7 5.4-10.9 21.6-34.9 5.4-7.3 5.4-6.1 5.4-5.3 5.4-4.7 10.8-8.1 10.8-6.7 10.8-5.3 5.4-1.8 5.4-1.1 5.4-.4 5.4 .2 5.4 .6 5.4 1.1 5.4 1.7 5.4 2.4 16.2 9 10.8 7.1 10.8 8.6 5.4 4.7 10.8 10.6 10.8 11.7 5.4 6.3 16.2 20.6 16.2 19.6 10.8 14 10.8 13.3 21.6 23.9 21.6 25.2 5.4 5.4 16.2 15.2 16.2 14.3 37.8 30 21.6 15.4 10.8 6.8 10.8 6.3 16.2 8.4 10.8 4.8 10.8 4.2 16.2 4.9 10.8 2.4 10.8 2.1 10.8 1.7 10.8 1.1 21.6 1.3 37.8 1.1M66.3 616.4l5.4-1.5 5.4-6 5.4-10.8 5.4-12.9 5.4-11.5 5.4-9.1 16.2-25.9 5.4-7.5 5.4-6.2 5.4-5.4 5.4-4.7 10.8-8 10.8-6.6 10.8-5.3 5.4-1.8 5.4-1.2 5.4-.5 5.4 .2 5.4 .7 5.4 1 5.4 1.7 5.4 2.3 16.2 9.1 10.8 7 10.8 8.5 5.4 4.7 10.8 10.5 10.8 11.6 5.4 6.3 16.2 20.5 16.2 19.5 16.2 20.7 5.4 6.5 27 29.8 16.2 18.9 5.4 5.5 21.6 19.9 16.2 13.7 32.4 25.3 21.6 15.2 10.8 6.8 10.8 6.3 16.2 8.4 10.8 4.8 10.8 4.2 16.2 4.9 10.8 2.5 10.8 2.1 10.8 1.7 10.8 1.3 21.6 1.3 37.8 1.3M66.3 607.9l5.4-2.3 5.4-7.6 10.8-23 5.4-9.9 5.4-8.1 10.8-17.6 5.4-7.9 5.4-6.6 5.4-5.6 5.4-5 10.8-8.7 10.8-7.2 10.8-5.9 5.4-2.3 5.4-1.6 5.4-.9 5.4-.2 5.4 .4 5.4 .7 5.4 1.3 5.4 1.9 5.4 2.6 16.2 9.1 10.8 7.4 10.8 8.8 5.4 4.9 10.8 10.8 10.8 11.9 21.6 27.1 10.8 12.9 21.6 27.8 10.8 12.6 16.2 17.8 16.2 19.4 5.4 5.9 21.6 20.5 16.2 14.2 32.4 26 21.6 15.9 10.8 7.1 10.8 6.5 16.2 8.8 10.8 5.1 10.8 4.5 16.2 5.3 10.8 2.7 10.8 2.3 10.8 1.8 10.8 1.4 21.6 1.5 43.2 1.5M66.3 605.8l5.4 1.6 5.4-1.9 5.4-7.3 10.8-23.9 5.4-9.6 5.4-7.9 10.8-17.2 5.4-7.7 5.4-6.4 10.8-10.7 5.4-4.5 5.4-4.1 10.8-7.1 10.8-5.8 5.4-2.2 5.4-1.6 5.4-.8 5.4-.2 5.4 .3 5.4 .8 5.4 1.3 5.4 1.9 5.4 2.6 16.2 9.1 10.8 7.3 10.8 8.7 5.4 4.9 10.8 10.7 10.8 11.8 21.6 26.8 10.8 12.8 21.6 27.6 10.8 12.4 16.2 17.7 16.2 19.2 5.4 5.8 21.6 20.3 16.2 14.1 32.4 25.9 21.6 15.9 10.8 7.1 10.8 6.6 16.2 8.8 10.8 5.1 10.8 4.6 16.2 5.3 10.8 2.8 10.8 2.3 10.8 1.9 10.8 1.4 21.6 1.7 37.8 1.7M66.3 597.8l5.4 3 5.4-.3 5.4-5.4 5.4-10.8 5.4-12.1 5.4-9.5 16.2-24.5 5.4-7.6 5.4-6.2 10.8-10.9 5.4-4.6 5.4-4.1 10.8-7.3 10.8-5.9 5.4-2.3 5.4-1.7 5.4-1 5.4-.2 5.4 .2 5.4 .7 5.4 1.2 5.4 1.8 5.4 2.5 16.2 8.9 10.8 7.2 10.8 8.6 5.4 4.8 10.8 10.6 10.8 11.7 21.6 26.7 10.8 12.8 21.6 27.6 10.8 12.6 16.2 17.7 16.2 19.3 5.4 5.9 21.6 20.5 16.2 14.2 37.8 30.4 21.6 15.7 10.8 6.9 10.8 6.5 16.2 8.6 10.8 4.9 10.8 4.3 16.2 5 10.8 2.7 10.8 2.2 16.2 2.5 21.6 1.8 37.8 1.9M66.3 638.2l5.4-5.6 5.4-10.4 10.8-29.3 5.4-11.5 21.6-37.5 5.4-7.9 5.4-6.8 5.4-5.6 5.4-4.7 10.8-8 10.8-6.6 10.8-5.2 5.4-1.8 5.4-1.1 5.4-.4 5.4 .2 5.4 .7 5.4 1.2 5.4 1.8 5.4 2.4 16.2 9 10.8 7.2 10.8 8.6 5.4 4.8 10.8 10.6 10.8 11.7 5.4 6.4 16.2 20.6 10.8 13 21.6 27.3 10.8 12.5 21.6 23.6 16.2 18.8 5.4 5.4 16.2 15 16.2 14.2 32.4 25.6 10.8 7.9 10.8 7.4 10.8 7 10.8 6.3 10.8 5.9 10.8 5.2 10.8 4.6 10.8 4 16.2 4.5 21.6 4.2 10.8 1.5 10.8 1 21.6 .9 37.8 .4M66.3 643l5.4-5.3 5.4-9.7 10.8-30.3 5.4-12.8 5.4-10.2 5.4-9.2 10.8-19.7 5.4-8.6 5.4-7.3 5.4-6 5.4-4.9 10.8-8.2 10.8-6.8 10.8-5.4 5.4-2 5.4-1.3 5.4-.5 5.4 .1 5.4 .6 5.4 1.1 5.4 1.6 5.4 2.4 16.2 9.2 10.8 7.1 10.8 8.6 5.4 4.8 10.8 10.7 10.8 11.8 10.8 13.1 10.8 14.2 16.2 19.9 21.6 27.5 10.8 12.4 16.2 17.7 16.2 19.2 5.4 5.6 21.6 20.1 16.2 13.9 32.4 25.3 16.2 11.3 10.8 6.9 10.8 6.3 10.8 5.8 10.8 5.2 10.8 4.6 10.8 4 16.2 4.5 21.6 4 10.8 1.4 10.8 .9 21.6 .8 37.8 .1M66.3 604.8l5.4 .9 5.4-3.3 5.4-8.6 10.8-24.2 5.4-9.1 5.4-7.9 10.8-17.4 5.4-7.4 5.4-6.2 10.8-10.3 10.8-8.4 10.8-6.8 10.8-5.5 5.4-2.1 5.4-1.3 5.4-.6 5.4 0 5.4 .6 5.4 .9 5.4 1.5 5.4 2.2 5.4 2.8 16.2 9.5 5.4 3.7 10.8 8.4 10.8 9.8 10.8 11.1 10.8 12.1 16.2 20.7 16.2 19.7 21.6 27.8 10.8 12.5 16.2 17.9 16.2 19.3 5.4 5.7 21.6 20.3 16.2 14 32.4 25.8 21.6 15.6 10.8 7 10.8 6.4 16.2 8.6 10.8 5 10.8 4.3 16.2 5.1 10.8 2.6 10.8 2.2 10.8 1.8 10.8 1.3 21.6 1.4 37.8 1.5M66.3 586.6l5.4 3.9 5.4-.3 5.4-5.4 10.8-21.5 5.4-8.3 5.4-7.3 10.8-16.1 5.4-6.7 5.4-5.5 10.8-10.1 10.8-8.5 10.8-7.1 5.4-3 5.4-2.7 5.4-2.1 5.4-1.5 5.4-.6 5.4-.1 5.4 .4 5.4 .8 5.4 1.4 5.4 2.1 5.4 2.6 16.2 9 5.4 3.5 10.8 8.1 10.8 9.5 10.8 10.8 10.8 11.8 16.2 20.3 16.2 19.3 21.6 27.6 10.8 12.5 16.2 17.8 16.2 19.4 5.4 5.7 21.6 20.4 16.2 14.1 37.8 30.5 21.6 15.7 10.8 7 10.8 6.5 16.2 8.6 10.8 4.9 10.8 4.3 16.2 5 10.8 2.7 10.8 2.2 16.2 2.5 21.6 1.9 37.8 2.2M66.3 624.9l5.4-2.7 5.4-7.2 5.4-12 5.4-13.6 5.4-11.9 21.6-36.3 5.4-7.7 5.4-6.6 5.4-5.6 5.4-4.8 10.8-8.2 10.8-6.8 10.8-5.5 5.4-1.9 5.4-1.3 5.4-.5 5.4 .1 5.4 .6 5.4 1 5.4 1.6 5.4 2.3 16.2 9 10.8 7 10.8 8.4 5.4 4.7 10.8 10.5 10.8 11.6 5.4 6.3 16.2 20.6 16.2 19.6 10.8 14 10.8 13.3 27 29.9 16.2 19.1 5.4 5.6 21.6 20 16.2 13.9 32.4 25.5 21.6 15.2 10.8 6.8 10.8 6.3 16.2 8.4 10.8 4.8 10.8 4.1 16.2 4.8 10.8 2.5 10.8 2 10.8 1.6 10.8 1.2 21.6 1.1 37.8 .9M66.3 610.2l5.4-.8 5.4-5.5 5.4-10 5.4-12 5.4-10.8 21.6-33.8 5.4-7 5.4-5.9 10.8-9.9 10.8-8.2 10.8-6.7 10.8-5.4 5.4-1.9 5.4-1.2 5.4-.5 5.4 .2 5.4 .5 5.4 1 5.4 1.6 5.4 2.3 5.4 2.8 16.2 9.1 5.4 3.7 10.8 8.3 10.8 9.7 10.8 10.9 10.8 12.1 16.2 20.2 16.2 19.3 10.8 13.9 10.8 13.1 27 29.8 16.2 18.9 5.4 5.4 16.2 15.1 16.2 14.2 37.8 30.2 21.6 15.6 10.8 6.9 10.8 6.5 16.2 8.6 10.8 5 10.8 4.3 16.2 5.1 10.8 2.6 10.8 2.3 10.8 1.8 10.8 1.3 21.6 1.5 37.8 1.5M66.3 653.9l5.4-7.1 5.4-11.2 10.8-33.3 5.4-13.4 5.4-10.6 5.4-9.5 10.8-20.6 5.4-9 5.4-7.7 5.4-6.2 5.4-4.8 10.8-8 10.8-6.6 10.8-5.3 5.4-1.9 5.4-1.2 5.4-.5 5.4 .2 5.4 .8 5.4 1.2 5.4 1.7 5.4 2.4 5.4 3 16.2 10.1 10.8 8.1 10.8 9.4 10.8 10.9 10.8 11.9 5.4 6.4 16.2 21.3 37.8 47.7 10.8 12.3 16.2 17.6 16.2 19.2 5.4 5.6 21.6 19.9 16.2 13.8 27 20.8 16.2 11.4 10.8 6.9 10.8 6.4 10.8 5.9 10.8 5.3 10.8 4.7 10.8 4 16.2 4.8 10.8 2.3 10.8 1.9 10.8 1.5 10.8 1 21.6 .8 43.2-.2M66.3 610.6l5.4 1 5.4-2.4 5.4-7.7 10.8-24.5 5.4-9.7 5.4-8.2 10.8-17.5 5.4-7.9 5.4-6.6 10.8-11 5.4-4.5 5.4-4.2 10.8-7.2 10.8-5.9 5.4-2.3 5.4-1.7 5.4-.9 5.4-.2 5.4 .2 5.4 .8 5.4 1.2 5.4 1.9 5.4 2.5 16.2 8.9 10.8 7.3 10.8 8.6 5.4 4.9 10.8 10.6 10.8 11.8 21.6 26.8 10.8 12.8 21.6 27.6 10.8 12.5 16.2 17.6 16.2 19.3 5.4 5.8 21.6 20.4 16.2 14.2 32.4 26.1 21.6 15.9 10.8 7.1 10.8 6.6 16.2 8.9 10.8 5.1 10.8 4.5 16.2 5.4 10.8 2.8 10.8 2.3 10.8 1.8 10.8 1.4 21.6 1.7 37.8 1.4M66.3 593.2l5.4 3.2 5.4-.9 5.4-6.2 10.8-22.4 5.4-8.7 5.4-7.3 10.8-16.5 5.4-7 5.4-5.7 10.8-10.1 5.4-4.4 5.4-4 10.8-7 10.8-5.6 5.4-2.1 5.4-1.5 5.4-.6 5.4-.1 5.4 .5 5.4 .8 5.4 1.4 5.4 2 5.4 2.7 16.2 9.1 5.4 3.5 10.8 8.1 10.8 9.4 10.8 10.8 10.8 11.8 16.2 20.2 16.2 19.2 21.6 27.5 10.8 12.4 16.2 17.6 16.2 19.3 5.4 5.7 21.6 20.1 16.2 14 32.4 26 21.6 15.9 10.8 7.2 10.8 6.7 16.2 8.9 10.8 5.2 10.8 4.6 16.2 5.4 10.8 2.9 10.8 2.4 10.8 2 10.8 1.5 21.6 1.9 37.8 2.1M66.3 622.3l5.4-3.2 5.4-8 10.8-25.6 5.4-11.1 21.6-35.6 5.4-7.4 5.4-6.2 5.4-5.4 5.4-4.7 10.8-7.9 10.8-6.6 10.8-5.1 5.4-1.8 5.4-1.1 5.4-.3 5.4 .2 5.4 .7 5.4 1.2 5.4 1.7 5.4 2.5 16.2 9.1 10.8 7.1 10.8 8.6 5.4 4.8 10.8 10.7 10.8 11.7 5.4 6.3 16.2 20.6 16.2 19.6 16.2 20.7 10.8 12.6 21.6 23.7 16.2 18.9 5.4 5.4 16.2 15 16.2 14.2 32.4 25.6 10.8 8.1 10.8 7.5 10.8 7.1 10.8 6.4 10.8 6 10.8 5.3 10.8 4.8 10.8 4 16.2 4.8 21.6 4.4 10.8 1.6 10.8 1.1 21.6 1.2 37.8 1M66.3 594.9l5.4 1.7 5.4-3.1 5.4-7.5 10.8-20.6 21.6-31.8 5.4-6.5 5.4-5.4 10.8-9.7 5.4-4.3 10.8-7.6 5.4-3.3 10.8-5.5 5.4-1.9 5.4-1.3 5.4-.5 5.4 0 5.4 .5 5.4 .9 5.4 1.6 5.4 2.1 5.4 2.7 16.2 8.9 5.4 3.5 10.8 8.2 10.8 9.5 10.8 10.7 10.8 12 16.2 19.9 16.2 19.1 10.8 13.9 10.8 13.2 21.6 23.7 21.6 25.1 5.4 5.5 16.2 15.1 16.2 14.3 37.8 30.7 21.6 16 10.8 7.2 10.8 6.6 16.2 9 10.8 5.2 10.8 4.5 16.2 5.4 10.8 2.8 10.8 2.4 10.8 2 10.8 1.5 21.6 1.8 37.8 2M66.3 596.9l5.4 1.8 5.4-2.4 5.4-7.5 10.8-22.8 5.4-8.7 5.4-7.8 10.8-16.9 5.4-7.1 5.4-5.9 10.8-10.2 5.4-4.5 5.4-4 10.8-7.1 10.8-5.6 5.4-2.1 5.4-1.3 5.4-.7 5.4 .1 5.4 .4 5.4 .9 5.4 1.5 5.4 2.2 5.4 2.7 16.2 9.3 5.4 3.6 10.8 8.4 10.8 9.7 10.8 11 10.8 12.2 16.2 20.6 16.2 19.6 21.6 27.9 10.8 12.6 16.2 18 16.2 19.5 5.4 5.7 21.6 20.4 16.2 14.2 32.4 26.2 21.6 15.9 10.8 7.2 10.8 6.5 16.2 8.8 10.8 5.1 10.8 4.4 16.2 5.3 10.8 2.7 10.8 2.2 10.8 1.9 10.8 1.3 21.6 1.6 37.8 1.7M66.3 589.9l5.4 3.9 5.4-.3 5.4-5.6 10.8-21.5 5.4-8.3 5.4-7.1 10.8-15.7 5.4-6.7 5.4-5.4 10.8-9.7 10.8-8 10.8-6.7 5.4-2.8 5.4-2.5 5.4-2 5.4-1.4 5.4-.6 5.4 .1 5.4 .5 5.4 .9 5.4 1.4 5.4 2 5.4 2.7 16.2 9 5.4 3.5 10.8 8 10.8 9.3 10.8 10.5 10.8 11.6 16.2 19.9 16.2 18.7 21.6 27 10.8 12 16.2 17.2 16.2 18.8 5.4 5.5 21.6 19.6 10.8 9.3 37.8 29.9 21.6 15.8 10.8 7.1 10.8 6.6 16.2 9 10.8 5.2 10.8 4.6 16.2 5.6 10.8 3 10.8 2.5 10.8 2.1 10.8 1.6 21.6 2.2 37.8 2.5M66.3 607.3l5.4 0 5.4-4.5 5.4-9.3 10.8-23.1 21.6-33.9 5.4-7.2 5.4-5.9 10.8-10.2 10.8-8.2 10.8-7 10.8-5.5 5.4-1.9 5.4-1.3 5.4-.6 5.4 .1 5.4 .5 5.4 .9 5.4 1.6 5.4 2.2 5.4 2.7 16.2 9.2 5.4 3.6 10.8 8.3 10.8 9.7 10.8 10.9 10.8 12.1 16.2 20.4 16.2 19.4 10.8 14 10.8 13.3 27 30.1 16.2 19.1 5.4 5.5 21.6 20.2 16.2 13.9 32.4 26 21.6 15.6 10.8 7.1 10.8 6.5 16.2 8.6 10.8 5.1 10.8 4.3 16.2 5.2 10.8 2.6 10.8 2.2 10.8 1.8 10.8 1.4 21.6 1.5 37.8 1.5M66.3 607.4l5.4 .6 5.4-3.6 5.4-8.7 10.8-23.6 21.6-34.3 5.4-7.3 5.4-6.1 10.8-10.4 10.8-8.5 10.8-7.1 10.8-5.7 5.4-2.2 5.4-1.4 5.4-.7 5.4 0 5.4 .4 5.4 .8 5.4 1.4 5.4 2.1 5.4 2.6 16.2 9.1 5.4 3.5 10.8 8.2 10.8 9.5 10.8 10.8 10.8 12 16.2 20.3 16.2 19.4 21.6 27.4 10.8 12.4 16.2 17.8 16.2 19.2 5.4 5.7 21.6 20.3 16.2 14 32.4 26.2 21.6 15.8 10.8 7.1 10.8 6.6 16.2 8.8 10.8 5.1 10.8 4.4 16.2 5.3 10.8 2.7 10.8 2.2 10.8 1.9 10.8 1.3 21.6 1.6 37.8 1.5M66.3 600.1l5.4 .6 5.4-4.1 5.4-8.6 10.8-22 21.6-32.9 5.4-6.8 5.4-5.6 10.8-9.9 5.4-4.2 5.4-3.9 10.8-6.8 10.8-5.4 5.4-1.9 5.4-1.1 5.4-.5 5.4 .1 5.4 .6 5.4 1.1 5.4 1.6 5.4 2.3 5.4 2.8 16.2 9.3 5.4 3.7 10.8 8.3 10.8 9.8 10.8 11 10.8 12.2 16.2 20.4 16.2 19.4 10.8 14.1 10.8 13.3 27 30.1 16.2 19.1 5.4 5.5 16.2 15.2 16.2 14.4 37.8 30.3 21.6 15.7 10.8 7.1 10.8 6.5 16.2 8.6 10.8 5.1 10.8 4.3 16.2 5.2 10.8 2.6 10.8 2.3 10.8 1.8 10.8 1.4 21.6 1.6 37.8 1.6M66.3 614.8l5.4-1.8 5.4-6.4 5.4-11 5.4-13 5.4-11.5 5.4-9.2 16.2-26.5 5.4-7.5 5.4-6.3 5.4-5.5 5.4-4.9 10.8-8.3 10.8-6.9 10.8-5.4 5.4-1.9 5.4-1.2 5.4-.5 5.4 .1 5.4 .7 5.4 1 5.4 1.7 5.4 2.4 16.2 9.1 10.8 7.2 10.8 8.6 5.4 4.9 10.8 10.7 10.8 11.8 5.4 6.4 16.2 21 16.2 19.9 10.8 14.3 10.8 13.6 27 30.6 16.2 19.4 5.4 5.6 21.6 20.5 16.2 14 32.4 25.9 21.6 15.4 10.8 6.9 10.8 6.3 16.2 8.4 10.8 4.8 10.8 4.1 16.2 4.8 10.8 2.4 10.8 2 10.8 1.6 10.8 1.1 21.6 1.1 37.8 1M66.3 619.2l5.4-.2 5.4-3 5.4-7.9 10.8-25.2 5.4-10.8 16.2-26.8 5.4-8.5 5.4-7.2 5.4-6.2 5.4-5.4 5.4-4.8 10.8-8.1 10.8-6.8 5.4-2.9 5.4-2.5 5.4-1.8 5.4-1.1 5.4-.4 5.4 .2 5.4 .7 5.4 1.1 5.4 1.7 5.4 2.4 16.2 9 10.8 7.1 10.8 8.6 5.4 4.8 10.8 10.7 10.8 11.7 5.4 6.5 16.2 20.6 10.8 12.9 21.6 27.7 10.8 12.7 16.2 17.8 21.6 25.4 21.6 20.7 16.2 14.4 32.4 26.1 10.8 8.2 10.8 7.7 10.8 7.2 10.8 6.5 16.2 8.9 10.8 5.1 10.8 4.5 16.2 5.3 10.8 2.7 10.8 2.2 10.8 1.8 10.8 1.3 21.6 1.5 37.8 1M66.3 609.4l5.4 .9 5.4-2 5.4-6.8 5.4-11.6 5.4-12.8 5.4-10.5 16.2-26 5.4-8.2 5.4-7 5.4-6 5.4-5.3 5.4-4.7 10.8-8 10.8-6.7 5.4-2.7 5.4-2.4 5.4-1.7 5.4-1 5.4-.3 5.4 .3 5.4 .7 5.4 1.2 5.4 1.9 5.4 2.5 16.2 9.2 10.8 7.4 10.8 8.8 5.4 4.9 10.8 10.8 10.8 11.9 5.4 6.5 16.2 20.8 10.8 13.1 21.6 27.9 10.8 12.8 16.2 18 16.2 19.4 5.4 6 5.4 5.4 16.2 15.3 16.2 14.4 32.4 26 10.8 8.2 10.8 7.7 10.8 7.2 10.8 6.5 16.2 8.8 10.8 5.1 10.8 4.4 16.2 5.3 10.8 2.7 10.8 2.3 10.8 1.8 10.8 1.3 21.6 1.5 37.8 1.3M66.3 605.2l5.4 1.4 5.4-.9 5.4-5.6 5.4-10.7 5.4-12.7 5.4-10.8 16.2-25.5 5.4-8.2 5.4-6.9 5.4-6 5.4-5.3 5.4-4.6 10.8-7.8 10.8-6.4 10.8-5 5.4-1.7 5.4-1 5.4-.2 5.4 .3 5.4 .8 5.4 1.2 5.4 1.9 5.4 2.5 16.2 9.4 10.8 7.4 10.8 8.8 5.4 4.9 10.8 10.7 10.8 11.9 5.4 6.4 16.2 20.8 16.2 19.8 10.8 14.2 10.8 13.4 27 30.2 16.2 19 5.4 5.5 16.2 15 16.2 14.2 37.8 29.8 16.2 11.5 16.2 10.4 10.8 6.2 10.8 5.7 10.8 5.1 10.8 4.4 16.2 5.4 10.8 2.7 10.8 2.3 10.8 1.9 10.8 1.4 21.6 1.7 37.8 1.5M66.3 628.2l5.4-1.7 5.4-4.9 5.4-10 10.8-26.4 5.4-10.6 16.2-27.4 5.4-8.6 5.4-7.3 5.4-6.1 5.4-5.1 10.8-8.7 10.8-7.1 10.8-5.8 5.4-2.3 5.4-1.7 5.4-.9 5.4-.2 5.4 .3 5.4 .8 5.4 1.3 5.4 1.9 5.4 2.5 16.2 9.2 10.8 7.4 10.8 8.7 5.4 4.9 10.8 10.7 10.8 11.8 21.6 27.1 10.8 12.9 21.6 27.4 10.8 12.5 16.2 17.5 16.2 19.1 5.4 5.8 21.6 20.3 16.2 14.1 32.4 25.6 21.6 15.4 10.8 6.9 10.8 6.4 16.2 8.6 10.8 4.9 10.8 4.3 16.2 5.1 10.8 2.6 10.8 2.1 10.8 1.8 10.8 1.2 21.6 1.3 37.8 .9M66.3 622.5l5.4-.9 5.4-4.8 5.4-10.2 5.4-13.5 5.4-12.5 5.4-9.6 5.4-8.2 10.8-18.2 5.4-8 5.4-6.7 5.4-5.7 5.4-5 10.8-8.4 10.8-6.9 10.8-5.7 5.4-2.2 5.4-1.5 5.4-.7 5.4-.1 5.4 .4 5.4 .9 5.4 1.3 5.4 2 5.4 2.7 16.2 9 5.4 3.5 10.8 8.1 10.8 9.4 10.8 10.8 10.8 11.7 16.2 20.3 16.2 19.2 21.6 27.2 10.8 12.2 16.2 17.4 16.2 19 5.4 5.7 21.6 19.9 16.2 14 32.4 25.5 21.6 15.5 10.8 6.9 10.8 6.4 16.2 8.6 10.8 5 10.8 4.4 16.2 5.1 10.8 2.6 10.8 2.2 10.8 1.8 10.8 1.4 21.6 1.4 37.8 1.2M66.3 625.6l5.4-1.9 5.4-5.5 5.4-10.6 10.8-26.5 5.4-10.3 5.4-8.7 10.8-18.4 5.4-8.4 5.4-7 5.4-5.9 5.4-5 5.4-4.3 10.8-7.4 10.8-6.1 5.4-2.6 5.4-2 5.4-1.5 5.4-.6 5.4 0 5.4 .5 5.4 1 5.4 1.5 5.4 2.2 5.4 2.7 16.2 9.7 10.8 7.7 10.8 9 5.4 5.1 10.8 11 10.8 12.1 21.6 27.4 10.8 13 16.2 20.9 10.8 12.9 21.6 23.6 16.2 19.1 5.4 5.7 21.6 20 16.2 13.9 32.4 25.1 16.2 11.4 10.8 7.1 10.8 6.4 10.8 6 10.8 5.3 10.8 4.8 10.8 4.2 16.2 4.9 10.8 2.4 10.8 2.1 10.8 1.6 10.8 1.2 21.6 1.3 37.8 .9M66.3 595l5.4 3.2 5.4-.8 5.4-6.3 10.8-22.9 5.4-8.9 5.4-7.4 10.8-16.7 5.4-7.2 5.4-5.9 10.8-10.3 5.4-4.5 5.4-4 10.8-7.1 10.8-5.8 5.4-2.2 5.4-1.5 5.4-.7 5.4-.1 5.4 .4 5.4 .8 5.4 1.3 5.4 2 5.4 2.6 16.2 9 5.4 3.5 10.8 8.1 10.8 9.4 10.8 10.8 10.8 11.8 16.2 20.3 16.2 19.3 21.6 27.6 10.8 12.5 16.2 17.7 16.2 19.3 5.4 5.8 21.6 20.3 16.2 14.1 32.4 26.1 21.6 16 10.8 7.2 10.8 6.7 16.2 8.9 10.8 5.3 10.8 4.5 16.2 5.5 10.8 2.8 10.8 2.4 10.8 2 10.8 1.5 21.6 1.8 37.8 2M66.3 629.5l5.4-3.1 5.4-7.6 5.4-12.4 5.4-14 5.4-11.9 21.6-36.9 5.4-7.9 5.4-6.7 5.4-5.7 5.4-4.9 10.8-8.3 10.8-6.9 10.8-5.5 5.4-2 5.4-1.4 5.4-.5 5.4 0 5.4 .5 5.4 1 5.4 1.5 5.4 2.2 10.8 5.8 10.8 6.2 5.4 3.7 10.8 8.3 10.8 9.7 10.8 11 10.8 12.1 16.2 20.4 16.2 19.6 21.6 27.2 27 29.8 16.2 19 5.4 5.6 21.6 20.1 16.2 13.8 32.4 25.7 21.6 15.2 10.8 6.9 10.8 6.3 16.2 8.4 10.8 4.8 10.8 4.2 16.2 4.8 10.8 2.5 10.8 2 10.8 1.7 10.8 1.1 21.6 1.2 37.8 .7M66.3 620.8l5.4-.8 5.4-4.6 5.4-10 10.8-25.7 5.4-9.5 5.4-8.1 10.8-17.9 5.4-7.9 5.4-6.6 5.4-5.6 5.4-4.8 10.8-8.1 10.8-6.7 10.8-5.4 5.4-2 5.4-1.4 5.4-.7 5.4 0 5.4 .5 5.4 1 5.4 1.4 5.4 2.1 5.4 2.7 16.2 9.3 5.4 3.5 10.8 8.2 10.8 9.4 10.8 10.8 10.8 11.7 16.2 20.3 16.2 19.1 21.6 27 10.8 12.1 16.2 17.1 16.2 18.9 5.4 5.6 21.6 19.6 16.2 13.7 32.4 25.1 21.6 15.2 10.8 6.8 10.8 6.3 16.2 8.5 10.8 5 10.8 4.3 16.2 5.1 10.8 2.6 10.8 2.3 10.8 1.8 10.8 1.3 21.6 1.5 37.8 1.4M66.3 614.2l5.4-1.1 5.4-5.1 5.4-10.5 5.4-13.7 5.4-12.5 5.4-9.6 5.4-8.2 10.8-18.2 5.4-7.8 5.4-6.6 5.4-5.6 5.4-4.7 10.8-8 10.8-6.4 10.8-5.1 5.4-1.9 5.4-1.2 5.4-.4 5.4 .3 5.4 .8 5.4 1.2 5.4 1.7 5.4 2.5 5.4 3 16.2 10.2 10.8 8.2 10.8 9.5 10.8 10.9 16.2 18.3 16.2 21.3 16.2 20.1 21.6 28.1 10.8 12.5 16.2 17.8 16.2 19.4 5.4 5.7 21.6 20 16.2 13.8 32.4 25 16.2 11.4 16.2 10.2 10.8 6.1 10.8 5.5 10.8 5 10.8 4.3 16.2 5.2 10.8 2.6 10.8 2.2 10.8 1.7 10.8 1.4 21.6 1.4 43.2 1.3M66.3 618l5.4-.4 5.4-3.2 5.4-8.2 10.8-25.1 5.4-10.6 16.2-26.5 5.4-8.3 5.4-7.1 5.4-6 5.4-5.1 5.4-4.6 10.8-7.7 10.8-6.4 5.4-2.6 5.4-2.3 5.4-1.6 5.4-.9 5.4-.2 5.4 .4 5.4 .8 5.4 1.3 5.4 1.9 5.4 2.6 16.2 9.3 10.8 7.4 10.8 8.8 5.4 4.9 10.8 10.8 10.8 11.8 5.4 6.5 16.2 20.6 10.8 13 21.6 27.5 10.8 12.5 16.2 17.6 16.2 19 5.4 5.9 5.4 5.4 16.2 14.9 16.2 14 32.4 25.5 21.6 15.5 10.8 6.9 10.8 6.4 16.2 8.6 10.8 5 10.8 4.4 16.2 5.1 10.8 2.7 10.8 2.2 10.8 1.8 10.8 1.3 21.6 1.5 37.8 1.2" stroke="#66c2a5" stroke-width="0.8" stroke-opacity="0.27"/><path d="M66.3 601.7l16.2-19.6 5.4-7.9 10.8-16.7 10.8-14.3 5.4-6.1 5.4-5.4 10.8-9.8 10.8-11.7 5.4-7 10.8-17.3 5.4-4.7 5.4-.7 16.2 3.7 21.6 4.2 16.2 5.2 5.4 1.3 10.8 1.4 5.4 2.1 5.4 3.8 5.4 5.2 16.2 18.5 27 29.3 10.8 13.2 5.4 7.3 21.6 31.9 10.8 14.8 16.2 20.2 10.8 12.2 10.8 10.1 21.6 17.7 43.2 37.9 10.8 8.8 16.2 12.2 16.2 11 21.6 13.3 5.4 2.9 10.8 5 16.2 5.7 21.6 5.7 10.8 2.3 10.8 1.7 10.8 1.2 16.2 1.2 27 1.6 10.8 .3M66.3 594.8l5.4-9.1 10.8-16.2 10.8-18.1 10.8-16 5.4-7.1 5.4-6.3 5.4-5.6 21.6-18.7 5.4-5.3 5.4-6.8 5.4-7.9 5.4-5.6 5.4-.9 5.4 1.8 10.8 5 21.6 8.8 21.6 11.1 10.8 3.5 5.4 2.3 5.4 4.1 5.4 5.6 21.6 25.1 21.6 23.4 10.8 12.6 10.8 14.5 16.2 23.5 10.8 14.5 16.2 19.5 10.8 11.8 10.8 9.8 21.6 16 48.6 39.3 10.8 7.9 16.2 11.3 21.6 13.4 16.2 9.2 5.4 2.7 10.8 4.6 16.2 5.3 21.6 5.8 10.8 2.3 10.8 1.7 27 3 32.4 2.4M66.3 625.6l5.4 1.5 10.8-20.6 5.4-9.4 10.8-20.1 5.4-8.5 5.4 3.4 5.4 4 5.4-4.7 10.8-35.7 5.4-8.4 21.6-19.6 5.4-6.4 5.4-8.5 5.4-7.1 5.4-2.1 5.4 1.3 10.8 4 21.6 6 5.4 1.8 10.8 4.4 5.4 1.1 5.4 .3 5.4-.1 5.4 2.2 5.4 4.4 48.6 53.8 5.4 17.4 16.2 61.8 5.4 2 16.2-15.4 5.4 2.7 16.2 20.7 10.8 12.4 5.4 5.4 10.8 9.2 16.2 11.8 43.2 34.4 16.2 11.8 16.2 10.8 10.8 6.7 21.6 12.4 10.8 5.4 10.8 4.5 10.8 3.6 16.2 4.4 16.2 3.7 10.8 1.8 16.2 1.8 37.8 2.4M66.3 625.3l5.4-8.8 5.4-22.3 5.4-24.5 10.8-52.6 5.4 3.9 10.8 19.8 5.4 10.8 5.4-4.4 27-25.1 5.4-5.6 5.4-7.1 5.4-8.4 5.4-6.3 5.4-1.6 5.4 1.4 10.8 3.9 5.4 3.2 5.4-3.7 5.4-16.4 10.8-28.5 5.4 5 16.2 53 5.4 3.1 5.4 1.4 5.4 3.4 5.4 5.4 21.6 23.8 27 27.8 10.8 12.8 21.6 29.8 10.8 14 16.2 18.8 10.8 11.5 10.8 9.5 21.6 15.5 10.8 8.6 5.4 11.9 5.4 17.3 5.4-.1 5.4 34.9 5.4-2 16.2-26.5 5.4 2.7 21.6 14.8 27 16.2 5.4 3 10.8 5.1 16.2 6 21.6 6 10.8 2.5 10.8 1.9 21.6 2.3 37.8 2.1M66.3 642.9l10.8-22.3 16.2-29.9 10.8-17.6 10.8-15.2 5.4-6.7 5.4-5.9 10.8-10.4 10.8-9.5 5.4-5.2 5.4-6.5 5.4-8.5 5.4-7.2 5.4-2.2 5.4 1.2 10.8 4.2 21.6 6.8 5.4 2 16.2 7 5.4 1.6 10.8 2.2 5.4 3.2 5.4 5 21.6 23.1 21.6 21.5 10.8 11.6 10.8 13.3 16.2 22.4 10.8 14 16.2 18.8 10.8 11.5 10.8 9.7 21.6 15.6 48.6 39.1 10.8 8 21.6 14.8 27 16.3 10.8 5.7 5.4 2.4 10.8 4.2 16.2 5 10.8 2.7 10.8 2.2 16.2 2.4 21.6 1.6 32.4 .9M66.3 643.5l10.8-22.4 16.2-29.9 5.4-9 10.8-16.1 5.4-7.1 5.4-6.5 5.4-5.7 21.6-20.2 5.4-5.6 5.4-7.2 5.4-8.3 5.4-5.9 5.4-1.2 5.4 1.4 10.8 4 21.6 6.6 21.6 8.8 10.8 2.4 5.4 1.7 5.4 3.7 5.4 5.3 21.6 23.5 21.6 21.9 10.8 11.9 10.8 13.8 16.2 22.5 10.8 14 16.2 18.8 10.8 11.3 10.8 9.5 21.6 15.6 48.6 38.7 16.2 11.4 16.2 10.7 21.6 12.7 10.8 5.9 5.4 2.5 5.4 2.3 10.8 3.9 16.2 4.6 10.8 2.5 10.8 2 16.2 2.1 21.6 1.2 32.4 .5M66.3 644.9l5.4-13.4 5.4-12.2 10.8-22.9 5.4-9.6 5.4-8.8 10.8-15.5 5.4-6.8 5.4-6.1 5.4-5.4 5.4-4.7 16.2-13 5.4-5.6 10.8-14.4 5.4-3.1 5.4 .8 10.8 5.1 27 11.9 16.2 8.7 5.4 2.4 10.8 3.3 5.4 3 5.4 4.7 21.6 24 21.6 22.2 10.8 11.5 10.8 13 16.2 21.9 10.8 13.9 10.8 12.5 16.2 17.1 10.8 9.4 5.4 3.9 21.6 14.3 37.8 27.9 16.2 11 16.2 10.1 10.8 6.2 16.2 8.8 16.2 8.1 5.4 2.2 10.8 3.9 16.2 4.4 10.8 2.4 10.8 1.9 16.2 2 21.6 1 37.8 .2M66.3 656.7l10.8-23.6 16.2-31.5 10.8-18.1 10.8-15.6 5.4-6.8 5.4-6 10.8-11.1 16.2-15.7 5.4-6.7 5.4-8.7 5.4-7.4 5.4-2.6 5.4 .9 10.8 3.9 21.6 6.3 5.4 1.9 16.2 6.9 5.4 1.6 10.8 2.2 5.4 3.2 5.4 5.3 21.6 24.5 21.6 22.9 10.8 12.2 10.8 13.8 16.2 23 10.8 14.5 16.2 19.3 10.8 11.7 10.8 9.9 5.4 4.1 16.2 11.5 43.2 33.7 16.2 11.5 16.2 10.4 16.2 9.3 21.6 11.4 5.4 2.4 10.8 4.1 16.2 4.6 10.8 2.3 10.8 1.9 16.2 2 21.6 1 37.8-.1M66.3 655.2l5.4-7.2 5.4-10.4 21.6-37.6 5.4-8.3 10.8-14.6 5.4-6.4 16.2-16.8 16.2-16.1 5.4-6.5 10.8-16.4 5.4-3.9 5.4 0 10.8 3.3 27 6.2 16.2 5.5 5.4 1.3 10.8 1.3 5.4 2.5 5.4 7.4 10.8 42.4 5.4 9.3 10.8-18.8 5.4-.2 10.8 11 10.8 11.8 10.8 13.3 21.6 29.9 10.8 13.5 16.2 18.5 10.8 10.9 5.4 6.8 10.8 12.5 5.4 5.8 5.4 3.6 10.8 3.9 5.4 6.4 5.4 20.3 5.4 3.7 5.4-14 5.4 .4 10.8 8.1 10.8 7.5 16.2 10.5 10.8 6.6 27 14.7 10.8 4.8 10.8 3.8 10.8 3.1 10.8 2.5 16.2 3 10.8 1.4 10.8 .8 10.8 .4 37.8 .2M66.3 618.8l5.4 5.1 10.8-13.6 5.4-7.6 10.8-19.2 5.4-8.6 10.8-15.3 5.4-6.7 16.2-18.6 21.6-22.9 5.4-7.2 5.4-9.2 5.4-7.8 5.4-2.9 5.4 .5 5.4 1.6 5.4 1.1 21.6 3.6 5.4 1.3 16.2 5.1 5.4 .9 5.4 .4 5.4 1 5.4 3.5 5.4 5.2 21.6 24.2 21.6 22.7 10.8 12.2 10.8 14.2 16.2 23.5 10.8 14.8 16.2 20 10.8 12.3 10.8 10.4 21.6 16.8 43.2 37.1 10.8 8.8 16.2 12.1 16.2 11.3 16.2 10.2 10.8 6.4 10.8 5.4 5.4 2.3 10.8 4 21.6 6.3 10.8 2.6 10.8 2.1 21.6 2.7 32.4 2.3M66.3 629l5.4-7.6 5.4-11 16.2-30.4 5.4-9.7 10.8-17.1 5.4 17.7 5.4 19.2 5.4-47.9 5.4-15.3 5.4-5.1 16.2-14.4 5.4-6 10.8-15.2 5.4-3.3 5.4 .5 10.8 4.5 21.6 8.3 5.4 2.4 16.2 8.3 5.4 2.2 10.8 3.2 5.4 3.2 5.4 40.8 5.4-17.1 5.4-6.5 10.8 12.4 21.6 23.1 5.4 11.2 5.4 25.9 5.4-8.8 5.4-2.4 16.2 23.1 5.4 19.8 10.8 72.6 5.4 2.7 10.8-46.1 5.4-2.6 5.4 5.4 10.8 9.2 21.6 15.8 37.8 30.3 10.8 8.2 21.6 14.8 10.8 6.8 21.6 12.6 10.8 5.5 10.8 4.6 16.2 5.3 16.2 4.2 16.2 3.3 10.8 1.5 10.8 1.1 43.2 2.4M66.3 608.1l5.4-3.7 16.2-26.8 10.8-19.8 5.4-8.7 10.8-15.6 5.4-6.9 10.8-11.7 5.4-5.2 16.2-14.2 5.4-5.6 10.8-15 5.4-4.2 5.4 0 37.8 15.1 16.2 8.3 5.4 2.3 10.8 3.3 5.4 2.8 5.4 4.6 21.6 24.3 21.6 23.1 10.8 11.9 10.8 13.7 21.6 30.8 10.8 14.2 16.2 19.3 10.8 11.6 10.8 9.5 21.6 16.2 48.6 40.2 10.8 8.1 16.2 11.5 21.6 13.7 16.2 9.4 10.8 5.1 16.2 6 21.6 6.4 10.8 2.6 10.8 2.1 21.6 2.9 32.4 2.9M66.3 626l5.4-4.5 5.4-8.2 5.4-7.1 5.4-8.1 10.8-18.2 5.4-8 10.8-14 5.4-6.1 16.2-16.1 16.2-15.3 5.4-6.3 10.8-16 5.4-3.9 5.4 0 10.8 3.6 27 6.8 16.2 5.8 5.4 1.4 10.8 1.5 5.4 2.4 5.4 4.7 21.6 23.5 21.6 22 10.8 11.6 10.8 13.3 21.6 29.8 10.8 13.6 16.2 18.6 10.8 11 10.8 9.1 21.6 15.6 43.2 34.9 10.8 8.2 16.2 11.4 10.8 7.1 16.2 10 16.2 9.1 10.8 5 16.2 5.8 21.6 5.9 10.8 2.4 10.8 1.8 21.6 2.3 32.4 1.9M66.3 670.8l10.8-28.8 5.4-13.1 5.4-12 5.4-10.5 5.4-9.6 10.8-17.3 5.4-7.7 5.4-7 5.4-6.3 5.4-5.6 16.2-15.1 5.4-5.8 5.4-7.4 5.4-8.2 5.4-5.3 5.4-1 5.4 1.6 10.8 4 21.6 7.3 16.2 7.3 5.4 2.2 10.8 2.8 5.4 2.1 5.4 4 5.4 5.5 21.6 23.6 16.2 16.5 10.8 11.6 10.8 13 21.6 29.6 10.8 13.9 16.2 18.7 10.8 11.2 10.8 9.3 21.6 15.4 27 21.2 16.2 12.3 16.2 11.1 16.2 10.2 27 14.8 10.8 5.2 5.4 2.3 5.4 2 10.8 3.3 16.2 3.8 10.8 1.8 10.8 1.3 16.2 1 21.6-.1 32.4-1.4M66.3 606.8l5.4-6.6 5.4-5.8 5.4-5.1 5.4-7.3 5.4-8.9 5.4-7.9 10.8-13.9 5.4-6 5.4-5.3 10.8-9.3 16.2-16.2 5.4-6.3 10.8-16.2 5.4-4.9 5.4-.7 5.4 1.4 10.8 3.4 21.6 4.8 16.2 5.6 5.4 1.4 10.8 1.5 5.4 1.8 5.4 3.9 5.4 5.9 16.2 18.8 32.4 35.5 10.8 13.7 21.6 30.9 10.8 14.3 16.2 19.3 10.8 11.5 10.8 9.6 21.6 16 43.2 35.2 10.8 8.3 10.8 7.6 16.2 10.9 27 16.1 5.4 2.9 10.8 4.9 16.2 5.8 21.6 6 10.8 2.4 10.8 1.9 21.6 2.6 37.8 2.9M66.3 612.9l5.4-9.5 5.4-7.5 5.4-5.9 5.4-10.6 5.4-12.1 5.4-9.1 10.8-16.2 5.4-7.1 5.4-6.5 10.8-11 16.2-14.9 5.4-5.6 5.4-7.2 10.8-60.8 5.4-25.4 5.4 7.7 10.8 52.7 5.4 18.3 16.2 5.5 21.6 9.6 10.8 2.8 5.4 2.1 5.4 3.9 5.4 5.4 21.6 23.7 21.6 22.4 10.8 12.3 10.8 14.2 16.2 23.2 10.8 14.4 16.2 19.5 10.8 11.8 10.8 9.9 21.6 16.6 48.6 41.2 10.8 8.4 16.2 11.9 27 17.6 10.8 6.3 5.4 2.8 5.4 2.6 10.8 4.4 10.8 3.6 16.2 4.7 10.8 2.6 10.8 2.1 21.6 2.7 37.8 2.9M66.3 581.9l5.4 .5 5.4-6.8 5.4-6.2 5.4-7.5 10.8-18.8 5.4-8.3 10.8-14.8 5.4-6.4 5.4-5.7 10.8-10.3 16.2-13.6 5.4-5.3 5.4-6.9 5.4-7.6 5.4-4.8 5.4-.3 5.4 2 10.8 4.8 21.6 8.5 16.2 8.2 5.4 2.4 10.8 3.2 5.4 2.5 5.4 4.3 5.4 5.6 21.6 24.1 27 28.5 10.8 13.4 21.6 30.5 10.8 14.2 16.2 19.3 10.8 11.6 10.8 9.7 16.2 12 10.8 8.7 16.2 13.5 27 23.3 16.2 12.7 16.2 12 21.6 14.5 10.8 6.6 5.4 3 5.4 2.8 10.8 4.8 16.2 6 21.6 7 16.2 4 21.6 3.8 27 3.8M66.3 668l10.8-28.8 5.4-12.9 5.4-11.7 5.4-10.9 5.4-9.9 10.8-17.6 10.8-15.1 5.4-6.5 5.4-5.7 21.6-19.7 5.4-6.4 5.4-8.5 5.4-7.1 5.4-2.1 5.4 1.4 10.8 4.4 21.6 7.9 5.4 2.3 16.2 8 5.4 1.9 10.8 2.9 5.4 3.4 5.4 5.2 21.6 23.9 21.6 22.1 10.8 11.9 10.8 13.5 16.2 22.6 10.8 14 16.2 18.9 10.8 11.5 10.8 9.6 21.6 15.2 43.2 33.5 16.2 11.3 16.2 10.3 10.8 6.3 16.2 8.8 10.8 5.5 5.4 2.4 5.4 2.1 10.8 3.6 16.2 4 10.8 2 10.8 1.6 16.2 1.4 21.6 .3 32.4-.8M66.3 614.8l10.8-20.6 5.4-9 10.8-20.2 5.4-9.4 10.8-16.9 5.4-7.4 5.4-6.8 5.4-6 5.4-5.4 5.4-7.6 5.4-5.8 5.4-2.1 5.4-4.4 5.4-6.7 5.4-8.2 5.4-6.1 5.4-1.4 5.4 1.7 10.8 4.7 21.6 8.5 21.6 11.1 5.4 2 5.4 1.6 5.4 2.2 5.4 4 5.4 5.5 21.6 24.8 21.6 23.3 10.8 12.5 10.8 14.5 16.2 23.6 10.8 14.6 16.2 19.8 10.8 12.1 5.4 5.3 10.8 9 37.8 28.7 5.4 4.6 16.2 14.9 16.2 12.4 16.2 11.5 21.6 13.6 16.2 9.3 5.4 2.7 10.8 4.7 16.2 5.4 21.6 5.6 16.2 3.2 21.6 2.5 37.8 2.7M66.3 630.6l5.4-3.6 5.4-11.5 16.2-91.9 5.4-1.7 10.8 23.9 5.4 2.8 5.4-7.2 5.4-6.4 5.4-5.8 5.4-5.3 16.2-14 5.4-5.4 5.4-7 5.4-7.8 5.4-5.1 5.4-.6 5.4 1.9 10.8 4.7 16.2 6.4 5.4-17.6 5.4-20.2 5.4 6.2 5.4 25.8 5.4 18.3 10.8-3.7 5.4-1.2 5.4 4.9 10.8 12.6 5.4 5.1 5.4 5.7 16.2 26.2 5.4 7.3 10.8 10.5 10.8 11.3 21.6 24.8 21.6 23.5 21.6 25.3 10.8 11.3 27 26 16.2 14.2 16.2 13.4 10.8 8.1 10.8 7.5 10.8 7.2 10.8 6.6 16.2 9.4 10.8 5.8 5.4 2.5 10.8 4.4 10.8 3.5 10.8 2.9 16.2 3.8 10.8 1.9 10.8 1.4 10.8 1 37.8 2M66.3 633.6l5.4-10.4 10.8-18.2 10.8-19 5.4-8.5 10.8-15.1 5.4-6.5 5.4-5.8 10.8-9.9 16.2-16 5.4-6.6 5.4-8.5 5.4-7.7 5.4-3.4 5.4 .4 16.2 5.5 10.8 2.9 10.8 3.4 16.2 6.8 5.4 1.6 10.8 2.2 5.4 2.7 5.4 4.7 21.6 25.4 21.6 23.8 10.8 12.4 10.8 14.2 16.2 23.4 10.8 14.8 10.8 13.4 16.2 18.3 5.4 5.4 10.8 9 16.2 11.6 43.2 33.7 16.2 11.4 16.2 10.4 16.2 9.3 21.6 11.3 5.4 2.5 10.8 4.1 16.2 4.6 21.6 4.5 10.8 1.6 10.8 1.1 21.6 1 37.8 .5M66.3 594.6l5.4-6.6 10.8-11.7 5.4-7.5 10.8-16.3 10.8-13.8 5.4-5.9 5.4-5.1 10.8-9.2 10.8-10.8 5.4-6.3 10.8-16.3 5.4-5.2 5.4-1 5.4 1.2 10.8 3.3 21.6 5.2 16.2 5.6 5.4 1.6 10.8 1.6 5.4 1.8 5.4 3.6 5.4 5.1 16.2 17.9 21.6 22.5 10.8 11.7 10.8 13.4 21.6 30.8 10.8 14.5 16.2 19.6 10.8 11.9 10.8 9.9 21.6 16.9 48.6 41.8 10.8 8.5 16.2 12.1 21.6 14.5 16.2 9.8 5.4 2.8 10.8 4.9 16.2 5.7 21.6 6.1 10.8 2.5 10.8 1.8 27 3 21.6 1.8 10.8 .5M66.3 624.6l5.4-3.8 5.4-7.9 5.4-7 5.4-8 10.8-18.4 5.4-8 10.8-14.2 5.4-6.1 16.2-16.5 16.2-15.8 5.4-6.4 10.8-16.2 5.4-4.2 5.4-.2 10.8 3.4 27 6.5 16.2 5.7 5.4 1.4 10.8 1.6 5.4 2.4 5.4 4.7 21.6 24.2 21.6 22.7 10.8 11.8 10.8 13.6 21.6 30.4 10.8 13.9 16.2 19 10.8 11.2 10.8 9.2 21.6 15.9 43.2 35 16.2 11.9 21.6 14.6 27 16 10.8 5.3 5.4 2.3 10.8 3.9 21.6 6.2 10.8 2.5 10.8 2 10.8 1.5 10.8 1.1 37.8 2.3M66.3 656l10.8-27.1 10.8-24.2 5.4-10.3 5.4-9.3 10.8-16.9 5.4-7.5 5.4-6.7 5.4-6 5.4-5.3 16.2-14.7 5.4-5.9 10.8-15.3 5.4-4.2 5.4 0 32.4 12.2 10.8 4.8 10.8 5.5 5.4 2.2 10.8 3.1 5.4 2.7 5.4 4.5 21.6 24 21.6 22.6 10.8 11.8 10.8 13.4 21.6 29.9 10.8 13.8 16.2 18.7 10.8 11.1 10.8 9 21.6 15.4 37.8 29.5 16.2 11.4 16.2 10.4 10.8 6.5 16.2 8.8 16.2 8.1 5.4 2.2 10.8 3.8 16.2 4.2 10.8 2.2 10.8 1.7 16.2 1.6 21.6 .5 37.8-.7M66.3 679l5.4-3.6 5.4-11.2 5.4-15.5 5.4-12.9 16.2-32.3 5.4-9.5 10.8-17 5.4-7.6 5.4-6.8 5.4-5.9 5.4-5.4 10.8-9.7 5.4-1.3 5.4 1.4 10.8-.6 5.4-5.2 5.4-7.2 10.8-10.5 5.4-.1 16.2 6.1 5.4 2.3 16.2 8.3 5.4 2.3 10.8 3.3 5.4 3.2 5.4 4.8 21.6 24.9 5.4-11 5.4-15.1 5.4 28.6 5.4 21.1 10.8 12.4 10.8 14 5.4 8.9 16.2 33.6 5.4 8.2 5.4 3.9 10.8 6.9 5.4 4.5 10.8 11.8 10.8 9.7 16.2 12.1 21.6 17 16.2 11.7 10.8 7.3 16.2 9.4 10.8 5.6 10.8 5.1 27 11 10.8 3.4 10.8 2.5 10.8 1.9 10.8 1.3 16.2 1.3 10.8 .5 21.6-.3 32.4-1.7M66.3 638.4l16.2-34.6 5.4-10.5 10.8-17.9 10.8-15.2 5.4-6.6 5.4-5.7 21.6-20.5 5.4-6.1 10.8-15.8 5.4-4.6 5.4-.3 37.8 13.2 16.2 7.6 5.4 2.1 10.8 2.9 5.4 2.5 5.4 4.3 5.4 5.7 16.2 19.3 32.4 36.3 10.8 14 21.6 31 10.8 14.3 16.2 19.3 10.8 11.4 10.8 9.3 21.6 15.7 37.8 29.5 16.2 11.2 16.2 10.2 10.8 6.2 10.8 5.7 10.8 5.5 10.8 5 5.4 2.1 10.8 3.6 16.2 3.8 10.8 2.1 10.8 1.5 16.2 1.5 10.8 .4 16.2 0 27-.4 10.8-.4M66.3 655l10.8-25.8 10.8-23 5.4-10.1 5.4-9.3 10.8-16.6 5.4-7.4 5.4-6.6 5.4-5.8 21.6-20.6 5.4-6 10.8-15.6 5.4-4.5 5.4-.4 37.8 13.2 16.2 7.5 5.4 2.1 10.8 2.7 5.4 2.5 5.4 4.3 5.4 5.8 16.2 18.4 21.6 22.8 10.8 11.9 10.8 13.4 21.6 30.2 10.8 13.9 16.2 18.9 10.8 11.2 10.8 9.2 21.6 15.5 32.4 25.4 10.8 8.1 16.2 11.1 16.2 10.2 21.6 12 16.2 8 5.4 2.3 10.8 3.8 16.2 4.2 10.8 2.1 10.8 1.7 16.2 1.7 21.6 .6 37.8-.6M66.3 618.6l5.4-12.6 10.8-33 5.4-8.6 5.4-3.7 5.4-3.1 5.4-2.3 5.4-5.9 10.8-14.5 5.4-6.2 10.8-10.7 16.2-14.2 5.4-5.9 10.8-15 5.4-3.8 5.4 .3 10.8 4.5 21.6 8.3 5.4 2.3 16.2 8.2 5.4 2.3 10.8 3.2 5.4 2.9 5.4 4.7 16.2 18 5.4 1.2 5.4-1.4 10.8-3.4 5.4 10.7 16.2 35.8 27 29.1 5.4 5.1 21.6 18.8 32.4 29.1 5.4 5.5 16.2 18.5 5.4-10.1 5.4 23.2 16.2 18.2 10.8 10.7 5.4 4.8 10.8 8.7 16.2 11.7 21.6 13.3 10.8 5.9 5.4 2.5 10.8 4.4 16.2 5.1 21.6 5.5 16.2 2.9 21.6 2.2 32.4 2.1M66.3 667l5.4-2.3 10.8-22.7 16.2-29.9 10.8-17.1 10.8-14.6 16.2-18.5 16.2-16.5 5.4-6 5.4-7.6 5.4-8.8 5.4-6.5 5.4-1.8 5.4 1 10.8 3 21.6 4.5 21.6 6.9 5.4 .9 5.4 .5 5.4 1.6 5.4 4 5.4 5.5 21.6 24.1 21.6 22.5 10.8 12.2 10.8 13.9 16.2 22.7 10.8 14 16.2 18.9 10.8 11.4 10.8 9.4 21.6 15.4 21.6 17 21.6 16.4 16.2 11.1 16.2 10.2 21.6 12 16.2 8.2 5.4 2.3 10.8 3.9 16.2 4.3 21.6 3.8 16.2 1.6 21.6 .5 32.4-.7M66.3 622.7l5.4 2.5 10.8-18.4 5.4-5.9 5.4 5.8 5.4 9.7 5.4 2.2 5.4-17.9 5.4-22.3 5.4-20.3 5.4-11.3 5.4-10 10.8-10.1 16.2-13.9 5.4-6.1 5.4-8.2 5.4-6.9 5.4-2 5.4 1.5 10.8 4.7 16.2 5.6 10.8 4.2 16.2 7.6 5.4 1.7 5.4 1.1 5.4 1.6 5.4 3.6 5.4 5.3 21.6 24.2 21.6 22.3 10.8 11.7 10.8 13.6 16.2 22.4 10.8 14 16.2 18.6 10.8 11.3 10.8 9.5 5.4 4 16.2 10.9 48.6 37.6 10.8 7.7 16.2 10.9 16.2 9.9 21.6 12.4 5.4 2.7 10.8 4.7 16.2 5.5 21.6 5.8 16.2 3.2 21.6 2.5 32.4 2.2M66.3 617.7l5.4-10 10.8-17.3 10.8-18.7 5.4-8.5 10.8-15.1 5.4-6.6 5.4-5.8 27-24.9 5.4-6.3 5.4-8.3 5.4-7.3 5.4-2.9 5.4 .8 10.8 4.3 21.6 7.3 5.4 2.1 16.2 7.5 5.4 1.8 10.8 2.6 5.4 3 5.4 4.9 21.6 24.5 21.6 22.9 10.8 12.1 10.8 13.9 16.2 23.1 10.8 14.6 10.8 13.3 16.2 18.2 10.8 10 5.4 4.3 16.2 11.7 48.6 38.9 10.8 7.9 21.6 14.6 27 16 10.8 5.6 5.4 2.4 10.8 4.1 16.2 4.9 21.6 5 16.2 2.6 21.6 1.9 37.8 1.7M66.3 634.8l5.4-13 10.8-23.8 5.4-11.1 10.8-18.4 10.8-15.8 5.4-6.8 5.4-6 5.4-5.3 16.2-14.4 5.4-5.3 5.4-6.8 5.4-8 5.4-5.5 5.4-.9 5.4 1.8 10.8 5 21.6 9.2 21.6 11.6 10.8 3.8 5.4 2.4 5.4 4.2 5.4 5.7 21.6 25.6 27 30 10.8 13.6 21.6 30.8 10.8 14.3 16.2 19.2 10.8 11.4 5.4 5 5.4 4.5 21.6 15.2 37.8 28.9 10.8 7.7 10.8 7 21.6 13 27 13.9 5.4 2.5 10.8 4.2 16.2 4.6 21.6 4.4 10.8 1.5 10.8 1.1 21.6 .9 32.4 .1 10.8-.2M66.3 612.2l5.4-.7 16.2-26.7 10.8-19.2 5.4-8.5 10.8-15 5.4-6.5 5.4-5.9 10.8-10.5 16.2-13.4 5.4-5.1 5.4-6.7 5.4-7.7 5.4-5.3 5.4-.7 5.4 2 10.8 4.9 21.6 8.6 21.6 10.6 10.8 3.1 5.4 2.3 5.4 4.2 5.4 5.6 21.6 24.3 21.6 22.5 10.8 12.1 10.8 14 16.2 22.6 10.8 13.9 16.2 18.7 10.8 11.2 10.8 9.3 21.6 15.2 48.6 38.2 27 19 27 16.6 10.8 6 5.4 2.7 10.8 4.7 16.2 5.6 21.6 6 16.2 3.4 21.6 2.8 32.4 2.8M66.3 632.8l5.4-4.5 5.4-6.2 5.4-4.9 5.4-7 5.4-9.1 5.4-8.2 10.8-14.2 5.4-6.2 5.4-5.5 10.8-10.1 21.6-23.8 5.4-7.2 5.4-9.2 5.4-8.3 5.4-3.8 5.4-.1 10.8 2.4 16.2 1.2 10.8 1.3 16.2 3.4 5.4 .5 10.8-.1 5.4 2.3 5.4 4.9 21.6 24 21.6 22.4 10.8 11.9 10.8 13.7 16.2 23 10.8 14.5 10.8 13.2 16.2 18.3 5.4 5.3 10.8 9.1 16.2 11.8 48.6 39.6 21.6 15.7 16.2 10.7 16.2 9.8 10.8 6.1 5.4 2.8 10.8 4.7 16.2 5.4 21.6 5.5 10.8 2.1 10.8 1.6 21.6 1.8 32.4 1.4M66.3 647l5.4-2.1 10.8-26.1 5.4-11 10.8-21 5.4-9.6 10.8-16.9 5.4-7.6 5.4-6.9 5.4-6.1 5.4-5.3 16.2-13.7 5.4-5 5.4-6.4 5.4-8.1 5.4-6.4 5.4-1.4 5.4 1.6 10.8 5 21.6 8.9 5.4 2.6 16.2 8.7 5.4 2 5.4 1.5 5.4 2 5.4 3.8 5.4-3 5.4-16.5 5.4-21.5 10.8 58.8 5.4 14.1 5.4 4.5 5.4 8.3 5.4 7.1 10.8 11.9 5.4 6.6 27 37 10.8 13.3 16.2 18.2 10.8 10.5 5.4 4.5 21.6 15.2 16.2 12.6 5.4-3.5 5.4-7.7 10.8 28 16.2 11.9 21.6 14.2 10.8 6.5 16.2 9.1 10.8 5.7 5.4 2.5 10.8 4.3 10.8 3.4 16.2 3.9 16.2 3.2 10.8 1.4 16.2 1.2 37.8 .9M66.3 645.4l5.4-8.7 5.4-12.1 5.4-11.1 10.8-21.1 5.4-9.8 5.4-9 10.8-16.2 5.4-7.1 5.4-6.4 5.4-5.8 21.6-19.9 5.4-6.1 10.8-15.5 5.4-3.5 5.4 .3 10.8 4.2 21.6 7.6 5.4 2.1 16.2 7.8 5.4 2 10.8 2.8 5.4 2.9 5.4 4.8 21.6 23.7 21.6 22.3 10.8 11.8 10.8 13.4 21.6 30.1 10.8 13.8 16.2 18.7 10.8 11.2 10.8 9.1 21.6 15.8 43.2 34.5 10.8 7.9 21.6 14.5 27 15.9 10.8 5.5 5.4 2.4 10.8 4.1 16.2 4.7 21.6 4.7 16.2 2.2 21.6 1.3 32.4 .7M66.3 656.1l5.4-5.7 10.8-26.8 5.4-12.1 5.4-8.7 5.4-10.3 5.4-9.4 10.8-16.7 5.4-7.5 5.4-6.7 5.4-6 5.4-5.5 16.2-14.7 5.4-5.6 5.4-7.2 5.4-8 5.4-5.2 5.4-.8 5.4 1.7 10.8 4.4 21.6 7.9 16.2 7.8 5.4 2.3 10.8 3.1 5.4 2.3 5.4 4.3 5.4 5.6 21.6 24.2 21.6 22.6 10.8 12.3 10.8 14.1 21.6 29.9 10.8 13.3 16.2 18.2 5.4 5.4 10.8 9.3 21.6 15.5 16.2 12.7 5.4 10 16.2 37.1 5.4 .8 16.2-13.4 5.4 1.1 10.8 6.8 10.8 6.3 16.2 8.9 10.8 5.4 10.8 4.5 16.2 4.9 10.8 2.6 10.8 2 10.8 1.7 10.8 1.1 21.6 1 32.4-.1M66.3 612.9l5.4 3 5.4-2.9 16.2-23.5 5.4-7.2 5.4-6.1 5.4-5 5.4-4.2 16.2-11.6 10.8-9.9 5.4-5.9 5.4-6.8 5.4-7.9 5.4-9.3 10.8-22.7 5.4-7.9 5.4-3.3 5.4-.6 10.8 .8 5.4 .9 5.4 1.3 10.8 3.6 5.4 2.6 10.8 5.6 5.4 2.5 10.8 3.6 5.4 3 5.4 4.9 21.6 25.2 32.4 36.2 10.8 13.9 27 38.6 16.2 20.2 10.8 12.3 5.4 5.5 10.8 9.5 21.6 16.1 5.4 .3 10.8-16.9 5.4 0 5.4 17.2 5.4 37.4 5.4 33.4 5.4-11.1 5.4-16.4 5.4-.8 21.6 14.8 27 16.3 10.8 5.7 5.4 2.6 10.8 4.3 10.8 3.6 16.2 4.6 10.8 2.6 10.8 2.1 21.6 2.9 32.4 2.8M66.3 626.7l5.4-7.3 5.4-11.1 21.6-39.8 10.8-16.8 10.8-14.4 5.4-6.1 5.4-5.4 5.4-4.9 16.2-13.7 5.4-5.8 10.8-14.7 5.4-3.4 5.4 .6 10.8 4.8 27 11.3 16.2 8.6 5.4 2.3 10.8 3.4 5.4 3 5.4 4.9 21.6 24.2 21.6 22.6 10.8 11.9 10.8 13.5 16.2 22.7 10.8 14.4 10.8 13.1 16.2 18 5.4 5.3 10.8 9 21.6 15.5 43.2 34.1 10.8 7.9 16.2 11.1 10.8 6.9 16.2 9.5 16.2 8.9 10.8 4.7 16.2 5.5 21.6 5.6 10.8 2.3 10.8 1.7 21.6 2 32.4 1.8M66.3 635.4l5.4 5.6 10.8-9.2 5.4-6 10.8-16.6 5.4-7.4 5.4-6.6 5.4-6.1 5.4-5.5 5.4-4.7 5.4-5.6 5.4-6.8 16.2-18.2 5.4-6.6 5.4-8.1 5.4-9.5 5.4-7.6 5.4-2.8 5.4 .1 5.4 1 5.4 .2 21.6-.3 5.4 .3 16.2 1.7 5.4-.2 5.4-.8 5.4 .6 5.4 3.7 5.4 5.2 16.2 17.8 27 27.6 10.8 11.9 10.8 13.8 16.2 22.6 10.8 14.1 16.2 19 10.8 11.6 10.8 9.6 21.6 15.8 43.2 35.2 10.8 8.3 16.2 11.5 16.2 10.6 16.2 9.8 10.8 6.1 10.8 5.1 5.4 2.2 10.8 3.7 21.6 5.9 10.8 2.3 10.8 1.8 21.6 2 32.4 1.5M66.3 672.3l10.8-28.2 10.8-24.5 5.4-11 5.4-9.9 10.8-17.9 5.4-8.1 5.4-7.3 5.4-6.6 5.4-6 21.6-21.7 5.4-7 5.4-8.9 5.4-7.1 5.4-2.2 5.4 1.1 10.8 3.7 21.6 6.3 5.4 2 16.2 7.1 5.4 1.6 5.4 1.1 5.4 1.5 5.4 3.4 5.4 5.3 21.6 24 21.6 22.6 10.8 12.1 10.8 14 16.2 23 10.8 14.4 16.2 19.4 10.8 11.8 10.8 9.9 21.6 16 43.2 34.6 16.2 11.5 16.2 10.5 21.6 12.3 16.2 8.3 5.4 2.3 10.8 4 16.2 4.3 10.8 2.1 10.8 1.6 16.2 1.5 21.6 .3 37.8-1.3M66.3 650.7l5.4-4.8 10.8-26.6 16.2-32.9 10.8-18.7 10.8-16.1 5.4-7 5.4-6.3 5.4-5.5 16.2-14.7 5.4-5.5 5.4-7 5.4-8 5.4-5.6 5.4-1 5.4 1.7 10.8 4.7 21.6 8.8 21.6 11.2 10.8 3.7 5.4 2.4 5.4 4.3 5.4 5.8 21.6 25.1 21.6 23.4 10.8 12.7 10.8 14.4 16.2 23.3 10.8 14.4 16.2 19.3 10.8 11.6 10.8 9.6 21.6 15.7 37.8 29.7 10.8 8 16.2 10.8 16.2 9.9 27 14.6 5.4 2.5 10.8 4.4 16.2 4.9 10.8 2.4 10.8 2 10.8 1.7 10.8 1.1 21.6 1 32.4 .2M66.3 648.5l5.4-1 5.4-4.5 10.8-25 16.2-31.8 10.8-18.2 10.8-15.6 5.4-6.9 5.4-6.2 5.4-5.4 16.2-14.5 5.4-5.4 5.4-7 5.4-8 5.4-5.5 5.4-.9 5.4 1.8 10.8 4.6 16.2 6.3 10.8 4.9 5.4 5.1 10.8 18.6 5.4 6.5 5.4 4.6 5.4 5.5 5.4 8.6 5.4 3.7 16.2-9.5 16.2 17.6 5.4 4.5 10.8-6.6 5.4 10.4 5.4 16.1 5.4 13.9 5.4 7.7 5.4 10 5.4 17 5.4-7.3 5.4-5.2 5.4 .2 5.4 7.7 16.2 36.7 5.4 6 10.8 8.4 16.2 11.5 43.2 33.4 10.8 7.7 10.8 7 16.2 10.1 27 14.7 5.4 2.6 10.8 4.4 16.2 5 21.6 4.7 10.8 1.7 10.8 1.3 16.2 .9 32.4 .6M66.3 633l5.4 .9 5.4-1.9 10.8-22.3 16.2-30.6 10.8-17.6 5.4-7.9 10.8-13.9 5.4-6.2 5.4-5.4 16.2-14.5 5.4-5.3 5.4-6.9 5.4-8.1 5.4-5.9 5.4-1.2 5.4 1.7 10.8 4.4 21.6 7.9 21.6 10.3 10.8 3.2 5.4 2.3 5.4 4.1 5.4 5.5 21.6 24.4 21.6 22.6 10.8 12.3 10.8 14.1 16.2 23 10.8 14.2 16.2 19.2 10.8 11.5 10.8 9.6 21.6 15.8 43.2 34.5 10.8 8.1 21.6 14.7 21.6 13 16.2 9 10.8 4.8 16.2 5.7 21.6 5.5 10.8 2.2 10.8 1.6 21.6 2 27 1.2M66.3 632.4l5.4-12 16.2-32 10.8-18.1 10.8-15.5 5.4-6.8 5.4-6 5.4-5.3 16.2-14.4 5.4-5.3 5.4-6.7 5.4-8.3 5.4-6.4 5.4-1.5 5.4 1.5 10.8 4.6 21.6 7.7 21.6 10.2 5.4 6.1 10.8 16.2 10.8 20 21.6-2.1 5.4 3.5 16.2 16.8 10.8 12.1 10.8 13.9 21.6 30.1 10.8 13.5 10.8 12.4 10.8 11.6 5.4 5 10.8 8.6 10.8 7.5 5.4 7.9 10.8 24.3 5.4 4.7 10.8-7.1 5.4-.1 5.4 4.3 5.4 3.4 5.4-25.1 5.4-3.1 5.4 9.3 16.2 42 21.6 12.7 16.2 8.8 10.8 4.7 16.2 5.5 16.2 4 16.2 3.1 10.8 1.4 16.2 1.3 27 .7 21.6 .1M66.3 627.6l16.2-31.3 10.8-19.4 10.8-16.9 5.4-7.4 5.4-6.7 5.4-6 21.6-21.3 5.4-6.3 10.8-16.3 5.4-4.9 5.4-.8 5.4 1.5 10.8 3.5 21.6 6.4 16.2 6.9 5.4 1.9 10.8 2.4 5.4 2.3 5.4 4.1 5.4 5.3 16.2 18.1 27 27.8 10.8 11.9 5.4 6.6 21.6 28.1 10.8 12.6 16.2 22.9 5.4 3.6 5.4 2.2 5.4 1.7 16.2 8.9 10.8 6.4 10.8 7.4 16.2 11.9 54 44 21.6 17 10.8 8 5.4 3.6 10.8 6.2 5.4 2.8 10.8 4.7 16.2 5.8 16.2 4.2 10.8 1.7 16.2 1.6 21.6 1 21.6 .3M66.3 619.9l5.4 2.4 5.4-7.9 27-48.3 10.8-16.4 5.4-7.2 5.4-6.6 10.8-11.9 21.6-19.9 5.4-6.2 5.4-8.2 5.4-7.3 5.4-2.8 5.4 .9 10.8 4.2 21.6 7.4 5.4 2.2 16.2 7.7 5.4 1.9 10.8 2.9 5.4 3.4 5.4 5.1 21.6 24.4 21.6 22.7 10.8 12.1 10.8 13.9 16.2 23.1 10.8 14.6 10.8 13.3 16.2 18.3 10.8 10.1 27 20.4 43.2 35.4 10.8 8.1 21.6 15.1 27 16.5 10.8 5.8 10.8 4.8 16.2 5.6 21.6 5.8 16.2 3.3 21.6 2.6 32.4 2.4M66.3 624.1l5.4-9.6 16.2-34.8 5.4-9.1 10.8-16.3 5.4-7.2 5.4-6.5 5.4-5.7 5.4-5.1 10.8-9.4 10.8-6.6 5.4-5 5.4-5.6 5.4-4.4 5.4-2.7 5.4-.4 10.8 .2 16.2 6 5.4-18.9 5.4-41.4 5.4 23.2 5.4 46.8 5.4 3 10.8 3.2 5.4 2.4 5.4 4.2 5.4 5.6 21.6 24.5 5.4-16.9 10.8-36.1 5.4 7.5 10.8 61.5 5.4 28 5.4 6.3 16.2 23.2 10.8 14.7 16.2 20.4 10.8 12.8 10.8 11.1 21.6 20.1 37.8 38.5 10.8 9.8 5.4 4.4 5.4 4.1 10.8 7.3 10.8 6.2 10.8 4.8 10.8 4.2 10.8 3.2 5.4 1.1 5.4 1 10.8 1.1 37.8 2 21.6 .5 54 .2M66.3 616.4l5.4-9 10.8-15.4 10.8-17.7 5.4-8 10.8-14.4 5.4-6.1 5.4-5.5 10.8-9.3 16.2-14.9 5.4-6.3 5.4-8.2 5.4-7.5 5.4-3.1 5.4 .6 16.2 6 21.6 6.7 16.2 6.8 5.4 1.7 10.8 2.1 5.4 2.6 5.4 4.6 21.6 24.3 21.6 22.5 10.8 11.9 10.8 13.6 16.2 22.7 10.8 14.4 10.8 13.1 16.2 17.9 10.8 9.9 5.4 4.2 16.2 11.3 5.4 4.2 43.2 34.2 10.8 7.9 21.6 14.7 27 16.1 10.8 5.6 5.4 2.5 10.8 4.3 16.2 5 21.6 5.2 16.2 2.8 21.6 2.1 37.8 1.9M66.3 620.9l5.4-11.2 21.6-39.9 10.8-17.5 10.8-15 5.4-6.4 5.4-5.6 21.6-20.1 5.4-6.1 10.8-15.5 5.4-3.6 5.4 .3 32.4 12.3 5.4 2.3 16.2 8.3 5.4 2.2 10.8 3.3 5.4 3 5.4 4.8 21.6 24.9 21.6 23.5 10.8 12.3 10.8 14 21.6 31.1 10.8 14.3 16.2 19.4 10.8 11.5 10.8 9.5 21.6 16.3 43.2 35.1 10.8 8 16.2 11.1 16.2 10.1 21.6 12.3 5.4 2.6 10.8 4.6 16.2 5.3 21.6 5.2 10.8 2 10.8 1.5 21.6 1.8 37.8 1.6M66.3 599.4l5.4-8 10.8-13.8 16.2-25.1 10.8-14.2 5.4-6.1 5.4-5.4 10.8-9.3 10.8-9.8 5.4-5.5 5.4-6.9 5.4-8.4 5.4-6.4 5.4-1.6 5.4 1.4 10.8 4.2 21.6 6.7 21.6 9 5.4 1.5 5.4 1 5.4 1.6 5.4 3.4 5.4 5.1 16.2 18.3 27 28.4 10.8 12.2 10.8 14.1 16.2 23.1 10.8 14.4 16.2 19.4 10.8 11.8 10.8 9.9 21.6 16.2 48.6 40.1 16.2 12.2 16.2 11.4 21.6 13.6 10.8 6.3 5.4 2.8 5.4 2.5 10.8 4.4 16.2 5.3 21.6 5.7 16.2 3 10.8 1.4 16.2 1.6 32.4 2.3M66.3 640.9l5.4-7.9 5.4-10 10.8-17.9 5.4-9.9 5.4-9 10.8-15.8 5.4-6.9 5.4-6.3 16.2-16.3 16.2-15.3 5.4-6.5 5.4-8.3 5.4-7.6 5.4-3.2 5.4 .5 10.8 3.9 5.4-3.1 5.4-7.8 5.4-2.8 10.8 25.2 5.4 4.6 10.8 .4 10.8-.8 5.4 .9 5.4 2.6 5.4 4.9 21.6 23.3 21.6 21.7 10.8 11.7 10.8 13.5 21.6 30.3 10.8 14 16.2 19.2 10.8 11.4 10.8 9.3 16.2 11.9 43.2 34.3 16.2 11.7 21.6 14.1 27 15.4 10.8 5.4 5.4 2.3 5.4 2.1 10.8 3.6 10.8 2.9 10.8 2.5 10.8 2.1 10.8 1.6 21.6 1.8 37.8 1.1M66.3 651.6l5.4-3.4 10.8-26.6 16.2-32 10.8-18.2 10.8-15.5 5.4-6.8 5.4-5.9 5.4-5.3 16.2-13.7 5.4-5 5.4-6.5 5.4-8 5.4-5.9 5.4-1.2 5.4 1.8 10.8 5 21.6 9 21.6 11.3 5.4 2 5.4 1.5 5.4 2.2 5.4 3.9 5.4 5.5 21.6 24.4 21.6 22.4 10.8 12 10.8 13.8 16.2 22.5 10.8 13.9 16.2 18.6 10.8 11.2 10.8 9.3 21.6 14.9 43.2 32.7 10.8 7.6 16.2 10.4 16.2 9.6 16.2 8.9 10.8 5.5 10.8 4.5 16.2 5.2 10.8 2.6 10.8 2.2 10.8 1.8 10.8 1.3 21.6 1.2 32.4 .3M66.3 579.6l10.8 10.6 5.4 .4 5.4-8.9 5.4-10.1 16.2-27.6 10.8-15.4 10.8-13.2 5.4-6.3 5.4-5.4 5.4-4.9 16.2-12.9 5.4-5.1 10.8-14.2 5.4-4.4 5.4-.1 37.8 16.2 16.2 8.5 5.4 2.4 10.8 3.7 5.4 2.8 5.4 4.5 5.4 5.7 16.2 18.6 21.6 22.9 10.8 11.8 10.8 13.4 21.6 30.3 10.8 14 16.2 18.9 10.8 11.3 10.8 9.3 16.2 11.6 10.8 8.3 43.2 35.9 27 20.1 27 17.8 10.8 6.5 10.8 5.5 16.2 6.9 21.6 7.6 16.2 4.8 10.8 2.4 10.8 2.1 27 4.2M66.3 626.2l10.8-21.7 5.4-9.4 10.8-20.1 10.8-17.8 10.8-15.2 5.4-6.6 5.4-5.8 5.4-5.2 16.2-14.2 5.4-5.2 5.4-6.7 5.4-8.1 5.4-6.2 5.4-1.4 5.4 1.6 10.8 4.8 21.6 8.2 21.6 10.7 16.2 5.3 5.4 3.8 5.4 5.5 21.6 24.4 21.6 22.7 10.8 12.2 10.8 14 16.2 23 10.8 14.3 16.2 19.2 10.8 11.7 10.8 9.7 21.6 15.8 43.2 34.7 10.8 8.2 21.6 14.9 21.6 13.2 16.2 9.1 5.4 2.7 10.8 4.5 16.2 5.2 21.6 5.4 10.8 2.1 10.8 1.5 21.6 1.9 32.4 1.6M66.3 627.9l5.4-8.8 10.8-14.8 10.8-17.5 5.4-8 10.8-14.3 5.4-6.2 5.4-5.4 10.8-9.5 16.2-16.4 5.4-6.7 5.4-8.7 5.4-7.9 5.4-3.5 5.4 .2 16.2 4.7 16.2 3.3 5.4 1.4 16.2 5.5 5.4 1.1 10.8 1.3 5.4 2.3 5.4 4.3 21.6 24.3 21.6 22.8 10.8 12 10.8 13.7 16.2 23 10.8 14.6 10.8 13.2 16.2 18.2 5.4 5.3 10.8 9 16.2 11.7 48.6 38.8 21.6 15.2 16.2 10.4 27 15.4 5.4 2.6 10.8 4.6 16.2 5.1 21.6 5.2 10.8 1.9 10.8 1.4 21.6 1.5 37.8 1.1M66.3 628.9l5.4 7.9 5.4 3.4 5.4-7.4 16.2-61.4 5.4-14.8 5.4-6.3 5.4-5.4 5.4-4.5 5.4-3.6 5.4-2.7 5.4-2.1 5.4-1.4 10.8-2 5.4-1.8 10.8-6.5 5.4 .6 5.4 4.6 16.2 19.3 10.8 11.3 10.8 10.2 10.8 9.2 5.4 3.7 5.4 2.7 5.4 1.4 5.4 .7 5.4 1.5 5.4 2.8 10.8 6.7 5.4 2.9 5.4 2.4 10.8 3.5 16.2 4.4 5.4-34.1 5.4 38.5 5.4 3.1 10.8 8.1 16.2 13.6 32.4 26.3 5.4 3.8 10.8 6.8 5.4-4.8 5.4-6.5 5.4 12.2 5.4 13.5 16.2 12.5 21.6 17.5 16.2 12.1 21.6 14.9 27 16.4 10.8 5.5 5.4 2.4 10.8 4.1 16.2 5.1 16.2 4.3 10.8 2.4 16.2 2.5 16.2 1.8 27 2.4M66.3 637.7l5.4-10.9 21.6-38.8 5.4-8.7 10.8-15.5 5.4-6.7 5.4-6 27-25.8 5.4-6.3 10.8-15.8 5.4-4.1 5.4 0 16.2 5.5 21.6 6.4 16.2 6.7 5.4 1.8 10.8 2.1 5.4 2.4 5.4 4.4 21.6 24 21.6 22.6 10.8 11.9 10.8 13.5 21.6 30.2 10.8 13.8 16.2 18.8 10.8 11.1 10.8 9.1 21.6 15.7 43.2 34.2 10.8 7.8 21.6 14.3 27 15.6 10.8 5.4 5.4 2.4 10.8 4 16.2 4.7 10.8 2.4 10.8 2.1 16.2 2.2 21.6 1.2 37.8 .6M66.3 632.4l10.8-24.4 10.8-22.1 5.4-10.1 10.8-17.8 10.8-15.3 5.4-6.6 5.4-5.8 5.4-5.2 10.8-9.3 5.4 3.2 5.4 2.5 5.4-.8 5.4-15.6 5.4-12 5.4-6.3 32.4 13.6 10.8 5.3 10.8 6 5.4 2.5 10.8 3.6 5.4 3 5.4 4.8 21.6 24.7 21.6 23.2 10.8 12 10.8 13.7 16.2 23 10.8 14.8 10.8 13.3 16.2 18.3 5.4 5.4 10.8 9.2 21.6 15.7 37.8 29.9 10.8 8 10.8 9.6 5.4 3.4 10.8 4.9 27 15.4 10.8 5.5 10.8 4.4 16.2 5.1 21.6 4.9 10.8 1.9 10.8 1.3 21.6 1.4 37.8 .9M66.3 626.7l5.4-11.6 16.2-31.2 10.8-18 10.8-15.5 5.4-6.7 5.4-5.9 5.4-5.2 16.2-14.4 5.4-5.3 5.4-6.7 5.4-8.3 5.4-6.2 5.4-1.5 5.4 1.6 10.8 4.6 21.6 8.1 5.4 2.4 10.8 5.6 5.4 20.7 5.4 27 5.4 9.2 5.4-23.1 5.4-21.3 5.4 4.3 21.6 24.7 21.6 22.9 10.8 12.3 10.8 14.2 16.2 23 10.8 14.3 16.2 19.2 10.8 11.6 10.8 9.7 21.6 15.6 43.2 34.1 16.2 11.6 16.2 10.7 10.8 6.5 16.2 9.1 10.8 5.6 5.4 2.5 5.4 2.3 10.8 3.7 16.2 4.4 10.8 2.4 10.8 2 16.2 2 27 1.4 32.4 .5M66.3 616.5l5.4-3.2 16.2-23.5 10.8-18.8 5.4-8.2 10.8-14.6 5.4-6.3 16.2-16.5 16.2-15.1 5.4-6.1 10.8-15.7 5.4-4.3 5.4-.2 10.8 3.8 27 8 16.2 6.6 5.4 1.7 10.8 2.2 5.4 2.5 5.4 4.6 21.6 24.3 21.6 22.9 10.8 11.9 10.8 13.5 21.6 30.5 10.8 14.1 16.2 19 10.8 11.4 10.8 9.3 21.6 15.9 43.2 35.2 10.8 8.2 21.6 15.1 27 16.7 10.8 5.9 10.8 5 16.2 5.8 21.6 6 10.8 2.5 10.8 1.9 21.6 2.5 32.4 2.4M66.3 636.4l10.8-23.6 16.2-31.2 5.4-9 10.8-16.3 5.4-7.1 5.4-6.5 5.4-5.7 5.4-5.2 16.2-14 5.4-5.5 10.8-14.8 5.4-4.8 5.4-.4 5.4 1.9 10.8 4.6 21.6 8.4 16.2 8.2 5.4 2.3 10.8 3.2 5.4 2.4 5.4 4.2 5.4 5.6 21.6 23.8 16.2 16.6 10.8 11.5 10.8 13 21.6 29.8 10.8 13.8 16.2 18.6 10.8 11.2 10.8 9.2 21.6 15.4 43.2 34 10.8 7.9 21.6 14.5 21.6 12.8 16.2 8.8 5.4 2.5 10.8 4.2 16.2 5 21.6 4.9 16.2 2.5 21.6 1.6 37.8 1M66.3 621.8l5.4-4.8 5.4-7.9 5.4-6.7 5.4-8 10.8-18.4 5.4-8.1 10.8-14.1 5.4-6.1 32.4-32.2 5.4-6.5 10.8-16.2 5.4-3.7 5.4 .2 10.8 3.5 16.2 3.8 10.8 3 16.2 6 5.4 1.4 10.8 1.6 5.4 2.7 5.4 4.9 21.6 24.5 21.6 22.9 10.8 12 10.8 13.8 16.2 23.1 10.8 14.7 10.8 13.3 16.2 18.4 5.4 5.3 10.8 9.2 16.2 11.8 48.6 39.3 16.2 11.9 21.6 14.5 27 15.9 10.8 5.3 5.4 2.2 10.8 3.9 21.6 6.1 10.8 2.5 10.8 2 21.6 2.6 37.8 2.5M66.3 635.6l10.8-22.4 16.2-31.2 5.4-9.8 5.4-12.7 10.8-30.2 5.4-14.1 5.4-.9 5.4 1.2 5.4 1.7 5.4 .2 10.8-10.3 5.4-6.5 5.4-8.6 5.4-7.3 5.4-2.4 5.4 1.1 21.6 8.7 5.4 2.5 5.4 2.8 5.4 3.5 5.4 4.3 5.4 4.9 16.2 16.1 5.4 6.3 5.4 8.7 5.4 10.7 16.2 34 5.4 10 5.4 8.6 5.4 7.1 5.4 5.7 5.4 4.3 5.4 3.2 5.4 2.4 16.2 6.1 10.8 4.9 10.8 5.8 10.8 7.1 27 22.1 21.6 15.5 48.6 40.1 16.2 12 16.2 11.1 21.6 13.1 10.8 6.1 5.4 2.7 5.4 2.4 10.8 4.1 16.2 4.7 21.6 4.9 16.2 2.3 21.6 1.5 32.4 1.2M66.3 623.6l10.8-19.7 5.4-8.3 10.8-19.3 5.4-9.1 10.8-16 5.4-7.1 5.4-6.4 5.4-5.7 27-25.3 5.4-6.7 5.4-8.5 5.4-6.6 5.4-1.8 5.4 1.4 10.8 4.4 21.6 7.2 5.4 2.2 16.2 7.6 5.4 1.7 5.4 1.1 5.4 1.6 5.4 3.6 5.4 5.5 21.6 24.5 21.6 22.8 10.8 12.2 10.8 14.1 16.2 23.1 10.8 14.5 16.2 19.3 10.8 11.8 10.8 9.9 21.6 15.9 48.6 39.3 16.2 11.7 16.2 10.9 27 16.2 10.8 5.6 5.4 2.4 10.8 4.1 16.2 4.9 21.6 5.2 16.2 2.6 21.6 1.9 32.4 1.9M66.3 647l5.4-.6 5.4-2.8 5.4-20 5.4-17.4 5.4-19.4 5.4-24.5 5.4-11 10.8-15.5 5.4-6.8 10.8-11.3 16.2-14.8 5.4-5.5 5.4-6.9 5.4-8.1 5.4-5.7 5.4-1 5.4 1.7 10.8 4.7 21.6 8.4 21.6 11.1 10.8 3.6 5.4 2.3 5.4 4.3 5.4 5.7 21.6 25.3 21.6 23.7 10.8 12.8 5.4 7.1 21.6 31.3 10.8 14.6 16.2 19.8 10.8 11.9 10.8 9.9 21.6 16.3 5.4-23.5 5.4 2 5.4 9.5 5.4 12.5 5.4 19.6 5.4 6.4 10.8 8.7 16.2 12 16.2 11 21.6 13 16.2 8.9 5.4 2.5 10.8 4.3 16.2 5 21.6 5.1 16.2 2.8 21.6 2 37.8 2.1M66.3 615.7l10.8-17.9 5.4-7.5 5.4-8.8 5.4-9.5 5.4-8.6 10.8-15.1 5.4-6.5 5.4-5.9 5.4-5.1 21.6-19.2 5.4-5.3 5.4-6.8 5.4-8.1 5.4-5.7 5.4-1.1 5.4 1.7 10.8 4.7 21.6 7.6 21.6 9.9 5.4 1.6 5.4 1.3 5.4 1.8 5.4 3.9 5.4 5.7 21.6 24.9 21.6 23 10.8 12.4 10.8 14.2 16.2 22.9 10.8 14.2 16.2 19 10.8 11.4 10.8 9.4 21.6 15.4 43.2 33.8 10.8 8 21.6 14.6 21.6 12.9 16.2 9 5.4 2.6 10.8 4.5 16.2 5.2 21.6 5.5 16.2 3.1 21.6 2.5 37.8 2.6M66.3 668.4l5.4-8.8 5.4-12.7 5.4-11.7 10.8-21 5.4-9.7 10.8-17 10.8-14.4 5.4-6.1 10.8-11.4 16.2-15.5 5.4-6.3 16.2-24.2 5.4-5.1 10.8-6.6 10.8 4.7 5.4-6.6 5.4-7.3 10.8 25.8 5.4 6 5.4 1.7 5.4 4.4 16.2 11.4 5.4 4.8 21.6 24.1 21.6 22.6 10.8 11.8 10.8 13.3 16.2 22.4 10.8 14.4 10.8 12.9 16.2 17.7 5.4 5.2 10.8 8.9 16.2 11.1 27 20.6 21.6 16 10.8 7.3 16.2 10.1 16.2 9.1 21.6 11.2 10.8 4.5 10.8 3.6 10.8 2.8 10.8 2.3 16.2 2.4 10.8 1.1 10.8 .5 10.8 .2 37.8-.9M66.3 623.6l10.8-19.9 5.4-8.5 16.2-28.5 16.2-24.9 10.8-37.6 10.8-35.8 5.4 3.2 5.4-1.5 5.4 13.4 5.4 6.6 5.4-4.4 5.4-7.4 5.4-2.4 5.4 1.1 5.4 2.2 10.8-40.4 5.4 2.6 5.4 20.6 5.4 24.9 5.4 9.9 5.4 2.8 5.4 .4 5.4 3.2 5.4 2.5 10.8 4.1 5.4 4.1 5.4 5.8 21.6 25.3 21.6 22.6 10.8 11.9 10.8 13.6 16.2 22.5 10.8 14.1 16.2 18.8 10.8 11.5 10.8 9.6 21.6 15.5 48.6 38.9 10.8 8 16.2 11.4 27 17 16.2 9 5.4 2.5 10.8 4.4 10.8 3.6 16.2 4.6 10.8 2.6 10.8 2 10.8 1.6 10.8 1.1 37.8 2.5M66.3 619.5l5.4-9.7 5.4-8.9 5.4-8.2 10.8-18 5.4-8.2 10.8-14.5 5.4-6.3 5.4-5.7 10.8-9.5 16.2-13.2 5.4-5.3 10.8-14.6 5.4-4.4 5.4-.2 5.4 2 10.8 4.7 21.6 7.9 16.2 7.5 5.4 2 10.8 2.6 5.4 2.1 5.4 4 5.4 5.4 16.2 17.5 32.4 32.4 10.8 12.6 21.6 28.7 10.8 13.3 16.2 18 10.8 10.7 10.8 8.8 21.6 14.8 48.6 37.8 16.2 11.5 16.2 10.9 21.6 13.2 10.8 6.1 5.4 2.7 5.4 2.5 10.8 4.2 16.2 5.2 10.8 3 10.8 2.6 16.2 2.8 21.6 2.2 32.4 2M66.3 613.8l10.8-17.5 5.4-7.5 16.2-27.1 10.8-15.4 5.4-6.7 5.4-6.1 5.4-5.3 21.6-19.8 5.4-5.6 5.4-7.1 5.4-8.1 5.4-5.6 5.4-1 5.4 1.6 10.8 4.3 21.6 7.1 21.6 9.4 10.8 2.7 5.4 1.9 5.4 3.9 5.4 5.6 21.6 24.4 21.6 22.7 10.8 12.4 5.4 6.9 21.6 30.5 10.8 14.2 16.2 19.3 10.8 11.6 10.8 9.6 21.6 16 48.6 39.4 16.2 11.8 16.2 11.1 21.6 13.2 10.8 6.1 5.4 2.6 5.4 2.5 10.8 4.1 16.2 5 21.6 5.4 16.2 2.8 21.6 2.2 32.4 2.3M66.3 655l5.4-12.3 16.2-32.3 5.4-9.3 10.8-16.8 5.4-7.4 5.4-6.7 5.4-6.1 21.6-21 5.4-8.3 5.4-10 5.4-12 5.4-5.9 5.4 .4 5.4 3.9 5.4 2.7 10.8 3.1 16.2 3.9 5.4 1.7 16.2 6.1 5.4 1.3 10.8 1.7 5.4 2.9 5.4 4.8 10.8 12.3 5.4 8.2 10.8 39.8 5.4 17.8 16.2-25.1 10.8 12.9 10.8 14.8 5.4 8.3 10.8 23.2 5.4 6 10.8 5.3 16.2 17.9 10.8 9.8 21.6 15.6 32.4 25.7 5.4-16.1 5.4-4 5.4 32.4 10.8 7.4 16.2 10.3 10.8 6.2 16.2 8.8 10.8 5.4 5.4 2.3 5.4 2.1 10.8 3.5 16.2 3.9 10.8 2 10.8 1.5 16.2 1.2 21.6 .2 37.8-1.2M66.3 638.7l5.4-14.8 5.4-49.5 5.4 21.5 5.4-10.2 5.4-9.3 5.4-8.5 10.8-14.8 5.4-6.4 5.4-5.6 5.4-4.8 5.4-4.1 16.2-10.9 5.4-4.5 10.8-12.1 5.4-1.9 5.4 2.2 5.4 4.1 27 22.1 21.6 20 5.4 4.4 10.8 6.8 5.4 4.4 5.4 5.9 16.2 19.9 10.8 11.2 10.8 9.4 21.6 16.9 5.4 4.8 21.6 20.6 5.4 4.6 21.6 16.8 10.8 7.6 10.8 6 10.8 5.2 5.4-10.5 5.4-17.7 5.4 29.8 5.4 11.6 5.4 3.7 5.4-.5 5.4-5.8 5.4-17.1 5.4-12 10.8 56.2 5.4 5.7 21.6 13.7 27 15.4 10.8 5.5 5.4 2.4 16.2 5.9 16.2 4.4 10.8 2.5 10.8 2.1 16.2 2.1 21.6 1.4 32.4 1.1M66.3 609.9l5.4-7.1 10.8-11.6 5.4-7.8 5.4-8.9 5.4-8.1 10.8-14.4 5.4-6.2 5.4-5.4 10.8-9.7 16.2-16.7 5.4-6.8 10.8-16.7 5.4-4.2 5.4-.3 16.2 4.4 10.8 2 10.8 2.4 16.2 5.2 5.4 1.2 10.8 1.3 5.4 2 5.4 4.2 21.6 24.2 21.6 22.8 10.8 12.1 10.8 13.8 21.6 31.1 10.8 14.2 16.2 19.5 10.8 11.6 10.8 9.5 21.6 16.7 43.2 36.4 10.8 8.5 16.2 11.8 16.2 10.7 21.6 13.1 5.4 2.9 10.8 5 16.2 5.8 21.6 5.9 10.8 2.4 10.8 1.9 21.6 2.3 37.8 2.6M66.3 627.6l5.4 4 5.4-5.1 10.8-16.4 5.4-6.9 5.4-2.4 5.4-17 5.4-9.2 10.8-14.1 16.2-18.6 21.6-22.7 5.4-7 10.8-17.7 5.4-4.6 5.4-.9 10.8 .6 5.4-.3 5.4-6.8 5.4-16.9 5.4-5.6 5.4 15.9 5.4 11 10.8-.1 5.4-.6 5.4-1.1 5.4-.5 5.4 1.9 5.4 3.9 5.4 5.1 5.4 5.7 21.6 25.3 10.8 13.9 5.4 7.4 10.8 16.4 21.6 37.8 10.8 18 10.8 16 10.8 14.7 5.4 6.7 5.4 6.1 5.4 5.4 5.4 4.9 16.2 12.6 48.6 39.8 10.8 8 16.2 11.2 21.6 13.5 10.8 6.3 10.8 5.8 5.4 2.5 10.8 4.2 10.8 3.5 16.2 4.4 10.8 2.5 10.8 1.9 10.8 1.4 10.8 1 32.4 1.9M66.3 657.9l5.4-10.3 5.4-11.3 16.2-29.7 5.4-9 5.4-8.3 10.8-14.7 5.4-6.4 5.4-5.6 27-26.1 5.4-6.6 5.4-8.6 5.4-7.5 5.4-2.8 5.4 .7 10.8 3.8 16.2 4.1 10.8 3.1 16.2 6.2 5.4 1.3 10.8 1.6 5.4 2.9 5.4 5 21.6 23.6 21.6 21.9 10.8 11.6 10.8 13.4 16.2 22.2 10.8 14 10.8 12.6 16.2 17.4 10.8 9.6 5.4 4 16.2 11.1 48.6 37.2 10.8 7.5 21.6 13.8 27 15.2 10.8 5.2 5.4 2.3 10.8 3.8 16.2 4.4 10.8 2.3 10.8 1.9 16.2 1.8 21.6 .8 32.4-.1M66.3 677.2l5.4-6 10.8-28.6 5.4-11.7 10.8-21.3 5.4-9.6 10.8-17.2 5.4-7.7 5.4-7 5.4-6.3 5.4-5.7 16.2-15.2 5.4-5.8 5.4-7.2 5.4-8.4 5.4-5.8 5.4-1.3 5.4 1.4 10.8 3.9 21.6 6.8 21.6 9.2 10.8 2.6 5.4 1.9 5.4 4 5.4 5.3 21.6 23.5 21.6 21.9 10.8 12 10.8 13.7 16.2 22.4 10.8 13.8 16.2 18.7 10.8 11.2 10.8 9.4 21.6 15.3 21.6 17 21.6 16.4 16.2 11.1 16.2 10.2 21.6 12 16.2 8.2 5.4 2.3 10.8 3.8 16.2 4.2 10.8 2 10.8 1.6 16.2 1.5 21.6 .1 32.4-1.2M66.3 662.5l5.4-6.7 10.8-27.4 5.4-11.5 10.8-21.2 5.4-9.6 10.8-16.9 5.4-7.5 5.4-6.8 5.4-6.1 5.4-5.5 16.2-14.8 5.4-5.7 10.8-15.2 5.4-5 5.4-.7 5.4 1.8 10.8 4.5 21.6 8.3 16.2 8.2 5.4 2.5 10.8 3.3 5.4 2.5 5.4 4.5 5.4 5.8 21.6 25 27 29.4 10.8 13.4 21.6 30.3 10.8 14.1 16.2 18.9 10.8 11.3 10.8 9.2 21.6 15.3 37.8 28.7 10.8 7.6 10.8 7 21.6 12.9 27 13.8 10.8 4.6 5.4 2 10.8 3.2 10.8 2.5 10.8 1.9 10.8 1.6 10.8 1.1 10.8 .7 10.8 .2 37.8-.6M66.3 644.2l5.4-13 16.2-34.7 10.8-18.3 10.8-15.9 5.4-6.9 5.4-6.2 5.4-5.5 16.2-14.4 5.4-5.2 5.4-6.6 5.4-8.4 5.4-6.5 5.4-1.7 5.4 1.4 10.8 4.4 21.6 7.7 5.4 2.2 16.2 7.7 16.2 4.7 5.4 3.5 5.4 5.1 21.6 23.4 21.6 21.7 10.8 11.7 10.8 13.5 16.2 22.4 10.8 13.9 16.2 18.7 10.8 11.4 10.8 9.5 21.6 15.3 43.2 34.2 16.2 11.6 21.6 14.2 27 15.5 10.8 5.3 5.4 2.2 10.8 3.9 10.8 3.1 10.8 2.6 10.8 2.1 10.8 1.6 16.2 1.4 27 .6 27-.4M66.3 605l5.4-1.1 5.4-7 5.4-6.2 5.4-7.6 10.8-18.6 5.4-8.2 10.8-14.4 5.4-6.2 16.2-16.6 16.2-15.4 5.4-6 10.8-15.8 5.4-4.7 5.4-.5 10.8 3.7 27 7.6 16.2 6.5 5.4 1.7 10.8 2.1 5.4 2.3 5.4 4.6 5.4 5.8 16.2 18.5 21.6 23 10.8 11.9 10.8 13.7 21.6 30.8 10.8 14.2 16.2 19.4 10.8 11.6 10.8 9.6 21.6 16.2 43.2 36.1 10.8 8.5 10.8 7.9 16.2 11.3 27 16.8 10.8 5.7 5.4 2.5 10.8 4.3 21.6 6.8 10.8 2.9 10.8 2.5 10.8 1.9 10.8 1.5 37.8 3.8M66.3 635.5l5.4-10.1 21.6-35.6 10.8-15.2 5.4-6.8 5.4-6 5.4-5.4 10.8-9.2 10.8-10 5.4-5.6 5.4-6.9 5.4-8.6 5.4-6.8 5.4-2 5.4 1.1 10.8 3.8 21.6 5.7 5.4 1.7 16.2 5.9 16.2 2.8 5.4 2.9 5.4 4.8 21.6 23.5 21.6 21.8 10.8 11.7 10.8 13.6 16.2 22.2 10.8 13.9 16.2 18.6 10.8 11.3 10.8 9.3 21.6 15.2 48.6 37.8 16.2 11.2 16.2 10.5 27 15.5 10.8 5.4 5.4 2.3 10.8 3.9 10.8 3.2 10.8 2.7 10.8 2.2 10.8 1.8 16.2 1.7 27 1 27 .1M66.3 651.7l10.8-27.5 5.4-12.2 10.8-22 5.4-9.6 10.8-17.1 5.4-7.7 5.4-6.9 5.4-6.2 5.4-5.4 10.8-9.1 5.4-10.1 5.4-16.6 5.4-8 5.4 3.7 5.4 1 5.4-.7 5.4 2.8 5.4 3.4 10.8 2.6 5.4 1.8 10.8 4.8 5.4 2.7 16.2 9.1 5.4 2.2 10.8 3.5 5.4 3.7 5.4 5.5 21.6 24.5 21.6 22.5 5.4 9.1 5.4 17.6 5.4-.9 5.4-2.9 5.4 7.3 10.8 18.4 10.8 14.6 21.6 27.1 10.8 13.1 21.6 24.2 5.4 6.7 21.6 29.1 10.8 13.6 5.4 6.2 5.4 5.5 5.4 4.7 5.4 3.9 5.4 3 5.4 2.3 5.4 1.6 5.4 1 5.4 .5 32.4-1.1 21.6 .1 16.2 1 27 2.9 16.2 1.1 21.6 .6 27 .1M66.3 612.6l10.8-16.7 5.4-7.3 5.4-8.6 5.4-10 5.4-9 10.8-16 5.4-7.1 5.4-6.4 5.4-5.7 10.8-10.3 16.2-14.2 5.4-6.2 5.4-8.1 5.4-6.8 5.4-1.7 5.4 1.7 27 14.5 10.8 6.4 16.2 10.8 5.4 2.6 10.8 3.5 5.4 3.4 21.6 21.2 10.8 9.3 21.6 17.2 5.4 4.9 5.4 5.5 10.8 12.8 21.6 27.6 16.2 18.8 10.8 11.7 5.4 5.3 10.8 9 5.4 11.4 5.4 13.5 5.4 8.2 10.8-10.4 5.4 2.8 27 23 5.4 1.2 10.8 1.5 5.4 6.7 5.4 23.1 5.4-8 5.4-.9 5.4 7.1 5.4 5.2 10.8 6.9 16.2 9.5 10.8 5.1 10.8 4.2 21.6 6.7 10.8 2.9 10.8 2.3 10.8 1.7 10.8 1.3 37.8 3.3M66.3 619.8l10.8-21.2 16.2-29.3 10.8-17.3 10.8-14.8 5.4-6.3 5.4-5.6 21.6-19.2 5.4-5.7 10.8-15 5.4-4.2 5.4 0 37.8 15.3 16.2 8.4 5.4 2.3 10.8 3.3 5.4 2.7 5.4 4.6 21.6 24.1 21.6 22.9 10.8 11.8 10.8 13.5 21.6 30.4 10.8 14 16.2 19.1 10.8 11.3 10.8 9.4 21.6 15.8 43.2 34.9 10.8 8.1 21.6 14.9 21.6 13.1 16.2 9 5.4 2.5 10.8 4.4 16.2 5.1 21.6 5.3 16.2 2.8 21.6 2.1 37.8 2M66.3 668.2l5.4-15 10.8-27.3 5.4-12.2 5.4-9.8 10.8-17.5 5.4-7.9 5.4-7.1 5.4-6.4 10.8-10.8 16.2-14.6 5.4-6.4 5.4-8.3 5.4-6.5 5.4-1.5 5.4 1.8 21.6 11.5 10.8 6.3 5.4 7.6 10.8 19.5 5.4 2.7 5.4-2.4 5.4-3.2 5.4 .1 5.4 4.3 5.4 5.9 10.8 12.8 10.8 11.4 10.8 9.7 16.2 13 10.8 9.8 10.8 11.6 21.6 24.5 16.2 16.5 10.8 10.5 10.8 8.9 21.6 14.4 43.2 32.6 10.8 7.3 21.6 13.2 10.8 6 16.2 8.3 10.8 5.2 5.4 2.2 5.4 2 10.8 3.2 16.2 3.6 10.8 1.8 10.8 1.2 16.2 .9 10.8 0 16.2-.6 32.4-1.9M66.3 615.9l5.4-9.1 10.8-15.5 10.8-17.8 10.8-15.7 5.4-6.9 5.4-6.3 5.4-5.5 21.6-19.3 5.4-5.3 5.4-6.7 5.4-8.7 5.4-7.3 5.4-2.2 5.4 1.1 10.8 4.1 21.6 6.3 5.4 1.8 16.2 6.6 5.4 1.5 10.8 1.9 5.4 3 5.4 4.9 21.6 23.8 21.6 22.2 10.8 11.9 10.8 13.7 16.2 22.8 10.8 14.3 16.2 19.2 10.8 11.7 10.8 9.9 21.6 15.8 48.6 39.4 21.6 15.7 16.2 10.8 21.6 13.1 5.4 3 10.8 5.2 5.4 2.3 10.8 3.8 16.2 4.7 10.8 2.7 10.8 2.2 16.2 2.3 27 2 27 1.2M66.3 649.1l5.4-7.7 5.4-11.8 5.4-10.8 16.2-30.2 5.4-8.8 10.8-15.8 5.4-6.9 10.8-11.8 5.4-5.4 16.2-14.8 5.4-6.1 10.8-15.5 5.4-3.9 5.4 0 10.8 4 27 9 16.2 7.3 5.4 1.8 10.8 2.5 5.4 2.7 5.4 4.7 21.6 23.8 21.6 22.3 10.8 11.7 10.8 13.3 21.6 29.8 10.8 13.7 16.2 18.6 10.8 11 10.8 9 21.6 15.5 43.2 33.8 10.8 7.7 21.6 14.2 27 15.6 10.8 5.4 5.4 2.4 10.8 4 16.2 4.7 21.6 4.4 16.2 2.2 21.6 1.2 32.4 .4M66.3 652.7l5.4-10.1 5.4-12.1 5.4-10.8 10.8-20.7 5.4-9.4 5.4-8.7 10.8-15.4 5.4-6.8 10.8-11.5 21.6-20 5.4-6.2 5.4-8.2 5.4-7.4 5.4-2.9 5.4 .6 10.8 4.3 16.2 5.2 10.8 3.9 16.2 7.4 5.4 1.8 10.8 2.4 5.4 3 5.4 5 21.6 24.1 21.6 22.3 10.8 11.8 10.8 13.4 16.2 22.5 10.8 14.2 10.8 12.9 16.2 17.6 10.8 9.7 5.4 4.1 16.2 11.2 43.2 33.3 16.2 11.5 16.2 10.5 16.2 9.5 21.6 11.7 5.4 2.5 10.8 4.3 16.2 4.9 10.8 2.5 10.8 2.2 10.8 1.6 10.8 1.2 21.6 .9 32.4 .2M66.3 599.5l10.8-17.6 5.4-7.6 5.4-6.4 16.2-22.5 5.4-7 5.4-6.3 5.4-5.5 27-24.5 5.4-6.1 10.8-15.5 5.4-3.8 5.4 .1 16.2 6.2 21.6 7.1 16.2 7.2 5.4 1.9 10.8 2.5 5.4 2.6 5.4 4.5 21.6 24.8 21.6 23.3 10.8 12.2 10.8 13.8 16.2 23.3 10.8 14.9 10.8 13.5 16.2 18.5 5.4 5.5 10.8 9.4 16.2 11.8 27 21.8 5.4 6.1 5.4 9.7 5.4 3.6 5.4-2.4 5.4 2.4 16.2 14.1 10.8 7.5 10.8 6.9 16.2 9.8 10.8 5.9 10.8 5 10.8 4 10.8 3.4 16.2 4.5 10.8 2.6 10.8 2 21.6 2.8 37.8 3.2M66.3 643.6l10.8-25.8 10.8-22.6 5.4-10.7 5.4-9.7 10.8-17.4 5.4-7.7 5.4-7.1 5.4-6.3 5.4-5.5 16.2-14.4 5.4 1 5.4 .5 5.4-17.4 5.4-10.5 5.4-1.4 5.4 1.7 10.8 4.7 16.2 6 10.8-11.3 5.4-6.5 5.4-7.3 5.4-.6 21.6 48.1 5.4 6.9 27 31.9 5.4 8.4 10.8 33.2 5.4 6 5.4-2.7 5.4-2.1 5.4 7.3 16.2 27.6 10.8 17.5 10.8 16 10.8 14.6 5.4 6.5 5.4 5.7 5.4 4.9 5.4 4.1 5.4 3.5 16.2 9.6 5.4 12.9 5.4 52.1 5.4-44.5 5.4-9.1 86.4 42.3 10.8 4.5 10.8 3.6 10.8 2.9 16.2 3.6 10.8 1.9 10.8 1.4 21.6 1.4 37.8 .7M66.3 637.9l10.8-24.3 16.2-32.7 10.8-18.8 10.8-16 5.4-7.1 5.4-6.2 5.4-5.5 21.6-19.6 5.4-6.2 5.4-8.2 5.4-7 5.4-2 5.4 1.4 10.8 5 21.6 9.1 5.4 2.6 16.2 9.1 5.4 2.3 10.8 3.7 5.4 3.8 5.4 5.7 21.6 25.7 21.6 23.9 10.8 12.7 10.8 14.3 16.2 23.6 10.8 14.7 16.2 19.7 10.8 11.9 5.4 5.3 10.8 8.9 16.2 11.4 43.2 33.7 16.2 11.3 21.6 13.6 27 14.7 10.8 5 5.4 2.2 16.2 5.1 21.6 4.9 10.8 1.8 10.8 1.5 21.6 1.4 37.8 1.1M66.3 616.5l5.4-9.4 10.8-16.2 10.8-18.1 5.4-8.2 10.8-14.6 5.4-6.3 5.4-5.7 27-24.2 5.4-6.2 5.4-8.2 5.4-7.3 5.4-2.9 5.4 .7 10.8 4.2 27 9 16.2 7.1 5.4 1.7 10.8 2.3 5.4 2.7 5.4 4.7 21.6 23.9 21.6 22.3 10.8 11.7 10.8 13.5 16.2 22.7 10.8 14.3 10.8 13 16.2 17.9 10.8 9.9 27 19.8 43.2 34.6 10.8 8 21.6 14.8 27 16.4 10.8 5.8 5.4 2.5 10.8 4.3 16.2 5.1 21.6 5.4 16.2 2.8 21.6 2.1 37.8 2M66.3 619.5l5.4-8.8 5.4-11.4 10.8-21.3 10.8-23 5.4-10.4 10.8-19.4 5.4-8.9 10.8-16.1 5.4-16.2 16.2-51.5 5.4-9.1 5.4-.9 5.4-.1 5.4 4.2 5.4 7.2 16.2 .3 10.8 .8 5.4 1 5.4 1.4 5.4 2.1 10.8 5.4 16.2 7.5 5.4 4.5 5.4 6.8 10.8 16.2 32.4 50.7 10.8 17.5 10.8 19 16.2 30.4 16.2 56.8 5.4-.6 10.8-4.3 5.4 5.6 5.4 6.4 5.4 5.8 5.4 5.2 16.2 13.7 5.4 27.6 5.4 31.5 5.4-38.8 5.4-1.4 27 22.5 10.8 8.2 16.2 11.2 10.8 6.8 21.6 12.6 10.8 5.5 5.4 2.4 10.8 4 10.8 3.3 16.2 4.1 16.2 3.2 10.8 1.5 10.8 1.1 43.2 2.6M66.3 654l5.4 .4 5.4-2.3 10.8-22.3 16.2-28.9 16.2-26.2 10.8-15.7 5.4-7.2 5.4-8.6 16.2-27.8 5.4-6.6 5.4-5.2 5.4-6.4 5.4-3.9 5.4-.5 5.4 .8 5.4-3.7 10.8-20.7 5.4-14.9 5.4-7.6 5.4-16.6 5.4 36.9 5.4 21.5 10.8 17.3 5.4 7.8 5.4 3.5 5.4 2.1 5.4 4 5.4 5.4 21.6 24 21.6 22.5 10.8 12.3 5.4 6.8 27 37.7 10.8 13.6 16.2 18.7 5.4 5.7 10.8 9.8 21.6 16.1 43.2 35 16.2 11.9 16.2 11 10.8 6.6 21.6 12.4 10.8 5.2 10.8 4.3 10.8 3.4 16.2 3.9 16.2 3.1 10.8 1.3 10.8 .9 16.2 .6 21.6 .3M66.3 643.5l5.4-10.4 10.8-27.9 10.8-29.9 5.4-8 5.4-2.7 5.4-2.1 5.4-1.5 5.4-3.6 16.2-15.9 10.8-10 5.4-5.4 5.4-6.8 5.4-8.7 5.4-7.2 5.4-2.2 5.4 1.1 10.8 3.6 21.6 4.7 21.6 6 5.4 .6 5.4-.1 5.4 2.6 5.4 5 10.8 5 5.4 4.6 27 25.2 10.8 10.9 5.4 6.2 5.4 39.2 5.4 33.5 5.4-49 5.4 6.7 16.2 24 5.4 8.4 10.8 37.7 5.4 7.8 10.8-11.5 5.4 3 5.4 4.6 16.2 12.6 37.8 31 10.8 8.4 5.4 6.5 16.2 27.5 5.4 2.9 16.2-6.6 5.4 1.3 16.2 8.9 5.4 2.6 10.8 4.5 10.8 3.5 10.8 3 21.6 4.6 10.8 1.6 16.2 1.4 16.2 .7 27 .6M66.3 606.5l5.4-6.1 5.4-8.7 5.4-7.6 5.4-8.7 10.8-19.3 5.4-8.4 10.8-14.9 5.4-6.4 10.8-11 5.4-5.1 16.2-14.3 5.4-6 10.8-15.1 5.4-3 5.4 .7 10.8 4.7 27 10.2 16.2 7.6 5.4 1.7 10.8 2 5.4 2.4 5.4 4.2 10.8 9.9 10.8 9.1 5.4 4 21.6 14.5 5.4-14 16.2-63.1 5.4 16 16.2 102.5 5.4 16.9 21.6 32.2 10.8 14.9 10.8 12.8 27 29 16.2 15.6 10.8 9.8 10.8 9 10.8 8.1 16.2 11.2 10.8 6.8 21.6 12.7 10.8 5.3 10.8 4.4 10.8 3.5 16.2 4.7 16.2 3.9 10.8 1.9 10.8 1.5 43.2 4.2M66.3 641.1l5.4-2.9 10.8-22.1 16.2-30.8 10.8-18.1 10.8-15.5 10.8-13.1 5.4-5.7 16.2-15.5 5.4-5.8 5.4-7.4 5.4-8.4 5.4-5.9 5.4-1.3 5.4 1.3 10.8 3.6 21.6 6.4 21.6 8.9 10.8 2.5 5.4 1.9 5.4 3.9 5.4 5.3 21.6 23.3 21.6 22 10.8 12.2 5.4 6.7 5.4-5.2 5.4-12.6 5.4 3.1 5.4 27.8 5.4 24.5 10.8 13.6 10.8 12.8 10.8 11.7 10.8 9.9 21.6 16.5 48.6 40.7 16.2 12.1 16.2 11.3 21.6 13.3 10.8 6.1 5.4 2.6 10.8 4.6 16.2 5.2 21.6 5.2 16.2 2.7 21.6 1.7 32.4 1M66.3 614.7l16.2-25.6 10.8-16.2 10.8-14.2 5.4-6.2 5.4-5.4 5.4-4.7 10.8-8.5 10.8-9.9 5.4-6.4 5.4-8.5 5.4-7.2 5.4-2.3 5.4 1.1 10.8 4.2 27 8.4 16.2 6.6 5.4 1.4 10.8 1.8 5.4 2.9 5.4 4.5 5.4 5.4 16.2 17.6 21.6 21.6 10.8 11.5 10.8 13.3 16.2 22.2 10.8 13.9 16.2 18.6 10.8 11.4 10.8 9.5 21.6 15.2 48.6 38.2 21.6 15.3 16.2 10.5 21.6 12.8 10.8 5.6 5.4 2.5 5.4 2.2 10.8 3.8 21.6 6 16.2 3.3 10.8 1.6 10.8 1 32.4 1.7 10.8 .4 10.8-.1M66.3 660l5.4-2.5 10.8-22.4 16.2-29.2 5.4-8.7 10.8-15.3 5.4-6.8 5.4-6 10.8-11.5 16.2-15.2 5.4-5.7 5.4-7.3 5.4-8.4 5.4-6.1 5.4-1.4 5.4 1.3 10.8 3.5 21.6 5.5 21.6 7.6 10.8 1.7 5.4 1.7 5.4 3.9 5.4 5.3 21.6 23.4 21.6 21.7 10.8 11.7 10.8 13.5 16.2 22.1 10.8 13.6 16.2 18.3 10.8 11 10.8 9.1 21.6 14.9 43.2 33 16.2 11.2 21.6 13.6 27 15 10.8 5.1 10.8 4.1 16.2 4.7 21.6 4.4 16.2 2 21.6 1 32.4-.1M66.3 646.5l5.4-.9 5.4-11.3 5.4-12.9 16.2-32.1 10.8-18.6 10.8-16 5.4-7 5.4-6.3 5.4-5.5 21.6-18.9 5.4-6 5.4-8.1 5.4-7 5.4-2.5 5.4 1.1 10.8 4.8 21.6 8.6 5.4 2.4 16.2 8.5 5.4 2.2 10.8 3.2 5.4 3.4 5.4 5.1 21.6 24 21.6 22.4 10.8 11.8 10.8 13.5 16.2 22.6 10.8 14.3 10.8 12.9 16.2 17.7 10.8 9.7 5.4 4.1 16.2 11.3 43.2 33.6 16.2 11.7 16.2 10.6 16.2 9.7 21.6 11.9 5.4 2.5 10.8 4.4 16.2 5 21.6 4.9 16.2 2.4 21.6 1.6 32.4 .7M66.3 613.1l5.4-6.2 5.4-7.5 5.4-6.2 5.4-7.8 5.4-9.6 5.4-8.7 5.4-7.8 10.8-13.8 5.4-6 32.4-31 5.4-6.5 5.4-8.5 5.4-7.4 5.4-2.8 5.4 .7 10.8 4.1 16.2 4.4 10.8 3.4 16.2 6.6 5.4 1.5 10.8 2 5.4 3.1 5.4 5.3 21.6 24.9 21.6 23.2 10.8 12.3 10.8 14 16.2 23.3 10.8 14.6 10.8 13.3 16.2 18.2 10.8 10 5.4 4.3 16.2 11.6 48.6 39 10.8 8 21.6 14.8 27 16.3 10.8 5.7 10.8 4.7 16.2 5.6 21.6 5.8 10.8 2.4 10.8 1.8 21.6 2.5 32.4 2.6M66.3 621.7l5.4-1.3 16.2-26.2 10.8-20.3 5.4-9 10.8-16 5.4-7.1 16.2-18.6 16.2-16.6 5.4-6.2 5.4-7.8 5.4-8.5 5.4-5.7 5.4-1.2 5.4 1.3 10.8 3.4 16.2 4.3 10.8 3.7 10.8 4.7 5.4 2 10.8 2.5 5.4 2.3 5.4 4.7 5.4 5.9 21.6 25.9 27 30.9 10.8 14.2 21.6 32.2 10.8 15 16.2 20.3 10.8 12.2 10.8 10.2 21.6 16.9 37.8 31.6 10.8 8.6 16.2 11.7 16.2 10.7 27 15.5 10.8 5.2 5.4 2.2 10.8 3.8 21.6 5.7 10.8 2.3 10.8 1.9 21.6 2.3 37.8 2.3M66.3 646.8l5.4-7.2 10.8-23.7 16.2-31 5.4-9.1 10.8-16.3 5.4-7.1 5.4-6.5 5.4-5.8 5.4-5.3 16.2-14.7 5.4-5.9 10.8-15.3 5.4-4.2 5.4-.1 32.4 11.9 10.8 4.6 10.8 5.4 5.4 2.1 10.8 3 5.4 2.7 5.4 4.6 5.4 5.8 16.2 18.3 21.6 22.8 10.8 11.8 10.8 13.4 21.6 30.2 10.8 13.9 16.2 18.8 10.8 11.2 10.8 9.2 21.6 15.6 43.2 33.9 10.8 7.8 21.6 14.2 21.6 12.5 16.2 8.4 5.4 2.4 10.8 4 16.2 4.6 21.6 4.5 16.2 2.1 21.6 1.2 32.4 .6M66.3 612.8l5.4 6.3 5.4-3.8 5.4-5.7 5.4-6.9 10.8-18.1 5.4-8.1 10.8-14.2 5.4-6.2 10.8-11.3 10.8-12.2 16.2-16.5 5.4-6.8 5.4-8.8 5.4-7.9 5.4-3.4 5.4 .2 10.8 2.8 21.6 3.6 5.4 1.2 16.2 4.9 5.4 1 5.4 .3 5.4 1 5.4 3.5 5.4 5.2 21.6 24.8 21.6 23.1 10.8 12.2 10.8 13.9 16.2 23.3 10.8 14.7 10.8 13.3 16.2 18.3 10.8 10.2 5.4 4.3 16.2 11.7 43.2 35.2 16.2 12.4 21.6 14.9 27 16.5 10.8 5.8 5.4 2.5 10.8 4.4 10.8 3.6 16.2 4.6 10.8 2.7 10.8 2.1 21.6 2.9 32.4 2.7M66.3 634.4l5.4-12.6 5.4-11.4 10.8-22.3 5.4-10.2 10.8-18.2 10.8-15.5 5.4-6.7 5.4-5.9 21.6-21 5.4-6.6 5.4-8.5 5.4-7.4 5.4-2.9 5.4 .8 10.8 4.2 21.6 7.7 5.4 2.2 16.2 8.3 5.4 2.1 10.8 3.3 5.4 3.4 5.4 5.2 21.6 25.2 21.6 23.8 10.8 12.6 10.8 14.4 16.2 23.8 10.8 15.1 10.8 13.7 16.2 18.9 5.4 5.5 10.8 9.4 16.2 12.1 43.2 35.3 16.2 11.9 16.2 10.8 16.2 9.6 21.6 11.7 5.4 2.5 10.8 4.1 16.2 4.7 21.6 4.4 10.8 1.6 10.8 1 21.6 .9 37.8 .3M66.3 663.6l10.8-22.1 16.2-29.4 10.8-17.5 10.8-14.9 5.4-6.6 32.4-34.1 5.4-7.3 5.4-9.2 5.4-7.8 5.4-2.7 5.4 .6 10.8 3 16.2 2.7 10.8 2.3 16.2 5 5.4 1 10.8 .9 5.4 2.9 5.4 5.1 21.6 23.5 21.6 22 10.8 11.8 10.8 13.7 16.2 22.7 10.8 14.3 16.2 19.1 10.8 11.8 10.8 9.8 21.6 15.9 43.2 34.8 10.8 8.1 16.2 11 16.2 10.2 16.2 9.3 10.8 5.7 5.4 2.5 10.8 4.2 16.2 4.8 10.8 2.4 10.8 2 10.8 1.4 10.8 .9 21.6 .5 32.4-.5M66.3 609.4l5.4 2.3 16.2-28.7 10.8-20.6 5.4-9.3 10.8-14.4 10.8-12.7 10.8-13.7 5.4-6.1 10.8-30.7 5.4-5.8 5.4 4.5 5.4 16.3 5.4 12.9 5.4-7.7 5.4-17.3 5.4-5.4 27 11.1 5.4 2.6 16.2 8.8 5.4 2.1 10.8 3.5 5.4 3.8 5.4 5.4 21.6 25 5.4 7.1 10.8 16.4 5.4 4.5 10.8 7.6 10.8 14.2 16.2 23.5 10.8 14.7 16.2 19.7 10.8 12 10.8 10.1 5.4 4.3 16.2 11.9 48.6 40 10.8 8.2 16.2 11.4 16.2 10.4 21.6 12.9 10.8 5.2 16.2 6.2 21.6 6.4 10.8 2.7 10.8 2.2 21.6 2.9 32.4 2.9M66.3 631.9l5.4-9.5 5.4-11.4 16.2-30.7 5.4-9.5 5.4-8.8 10.8-15.6 5.4-6.9 5.4-6.1 5.4-5.4 21.6-19.2 5.4-6 5.4-8 5.4-7.1 5.4-2.7 5.4 1 10.8 4.8 21.6 8.4 5.4 2.4 16.2 8.5 5.4 2.1 10.8 3.3 5.4 3.3 5.4 5.1 21.6 24.5 21.6 22.8 10.8 12.1 10.8 13.7 16.2 23 10.8 14.4 10.8 13.2 16.2 18 10.8 9.9 5.4 4.3 16.2 11.4 43.2 34.3 16.2 11.9 16.2 10.9 16.2 9.9 21.6 12.2 5.4 2.7 10.8 4.5 16.2 5.3 21.6 5.2 10.8 2.1 10.8 1.5 21.6 1.7 32.4 1.5M66.3 622.3l10.8-22.6 16.2-30.4 10.8-17.8 10.8-15.2 5.4-6.6 5.4-5.8 5.4-5.1 16.2-13.7 5.4-5.3 5.4-6.7 5.4-7.7 5.4-5.3 5.4-.7 5.4 2 10.8 5.2 21.6 9.4 21.6 11.7 10.8 3.8 5.4 2.6 5.4 4.3 5.4 5.7 21.6 24.9 21.6 23.1 10.8 12.6 10.8 14.3 16.2 23.1 10.8 14.3 16.2 19.1 10.8 11.5 10.8 9.6 21.6 15.6 43.2 34.1 10.8 8 16.2 11 16.2 10.1 16.2 9.3 10.8 5.7 10.8 4.8 16.2 5.6 21.6 5.5 10.8 2.3 10.8 1.7 21.6 2.1 37.8 2M66.3 623.6l10.8-20.3 5.4-8.7 10.8-19.8 5.4-9.2 10.8-16.6 5.4-7.3 5.4-6.7 5.4-5.9 10.8-10.6 10.8-9.7 5.4-5.3 5.4-6.6 5.4-8.5 5.4-6.9 5.4-1.9 5.4 1.3 10.8 4.3 21.6 7.3 5.4 2.2 16.2 7.6 5.4 1.8 5.4 1.2 5.4 1.6 5.4 3.5 5.4 5.3 21.6 24.1 21.6 22.6 10.8 12.1 10.8 14 16.2 23.2 10.8 14.5 16.2 19.6 10.8 11.9 10.8 10.1 21.6 16.3 48.6 40.3 16.2 12.1 16.2 11.2 27 16.7 10.8 5.7 5.4 2.5 10.8 4.3 16.2 5.1 21.6 5.3 16.2 2.7 21.6 2.1 32.4 1.9" stroke="#fc8d62" stroke-width="0.8" stroke-opacity="0.27"/><path d="M66.4 565l.5 27 .9 18 1.8 9.6 3.7-1.2 3.7-3.9 3.6-6.4 3.7-8.4 3.7-9.4 3.7-8.8 3.7-7.4 3.6-6.3 3.7-5.7 3.7-5.9 3.7-6.4 3.7-6.2 3.6-5.8 3.7-5.2 3.7-4.6 3.7-4.1 3.7-3.7 3.6-3.5 3.7-3.1 3.7-2.9 3.7-2.7 3.7-2.5 3.6-2.4 3.7-2.3 3.7-2.1 3.7-1.9 3.7-1.8 3.6-1.5 3.7-1.3 3.7-.9 3.7-.5 3.7-.2 3.6 0 3.7 .3 3.7 .5 3.7 .7 3.7 1 3.6 1.2 3.7 1.6 3.7 1.9 3.7 2 3.7 2.1 3.6 2.1 3.7 2.1 3.7 2.3 3.7 2.5 3.7 2.6 3.6 2.8 3.7 3 3.7 3.1 3.7 3.3 3.7 3.5 3.6 3.6 3.7 3.7 3.7 3.9 3.7 4 3.7 4.1 3.6 4.2 3.7 4.5 3.7 4.7 3.7 4.8 3.7 4.8 3.6 4.6 3.7 4.5 3.7 4.3 3.7 4.4 3.7 4.6 3.6 4.7 3.7 4.9 3.7 4.8 3.7 4.7 3.7 4.6 3.6 4.4 3.7 4.2 3.7 4.2 3.7 4.1 3.7 4 3.6 3.9 3.7 4 3.7 4.2 3.7 4.3 3.6 4.4 3.7 4.5 3.7 4.4 3.7 4 3.7 3.8 3.6 3.5 3.7 3.4 3.7 3.5 3.7 3.4 3.7 3.4 3.6 3.3 3.7 3.3 3.7 3.3 3.7 3.1 3.7 3 3.6 3 3.7 2.9 3.7 2.9 3.7 2.9 3.7 2.9 3.6 2.9 3.7 3 3.7 2.9 3.7 2.9 3.7 2.8 3.6 2.7 3.7 2.6 3.7 2.6 3.7 2.5 3.7 2.5 3.6 2.4 3.7 2.4 3.7 2.2 3.7 2.2 3.7 2.2 3.6 2.1 3.7 2 3.7 2 3.7 1.8 3.7 1.9 3.6 1.7 3.7 1.7 3.7 1.6 3.7 1.5 3.7 1.4 3.6 1.4 3.7 1.3 3.7 1.2 3.7 1 3.7 1.1 3.6 .9 3.7 .9 3.7 .8 3.7 .8 3.7 .7 3.6 .7 3.7 .6 3.7 .6 3.7 .5 3.7 .5 3.6 .4 3.7 .4 3.7 .3 3.7 .3 3.7 .2 3.6 .2 3.7 .1 3.7 .2 3.7 .1 3.7 .1 3.6 .1 3.7 .1 3.7 .1 3.7 .1 3.7 .1 3.6 .1 3.7 .1 3.7 .1" stroke="#66c2a5" stroke-width="3.1" stroke-linecap="round"/><path d="M66.3 623l3 2.8 2.9-4.4 3-7.4 2.9-7.4 3-5.6 2.9-3 3-6.2 3-7.8 2.9-5.7 3-4.9 2.9-5 3-4.9 2.9-4.8 3-4.4 3-4.3 2.9-4.2 3-4 2.9-3.9 3-3.6 2.9-3.3 3-3.1 2.9-2.8 3-2.7 3-2.6 2.9-2.5 3-2.5 2.9-2.7 3-2.7 2.9-2.7 3-2.7 3-2.6 2.9-4.1 3-6.9 2.9-4.8 3-3 2.9 .3 3 1 3 1 2.9 1.2 3 1.3 2.9 1.2 3 1.1 2.9 1.1 3 1.1 3 1.1 2.9 1.3 3 1.2 2.9 1.3 3 1.2 2.9 1.2 3 1.4 3 1.6 2.9 1.7 3 1.6 2.9 1.7 3 1.7 2.9 1.4 3 1.2 3 1.1 2.9 .9 3 .6 2.9 .7 3 1.3 2.9 2.5 3 3.3 2.9 3.3 3 3.3 3 3.4 2.9 3.4 3 3.4 2.9 3.3 3 3.3 2.9 3.2 3 3.2 3 3.2 2.9 3 3 3.1 2.9 3.1 3 3.1 2.9 3.1 3 3.1 3 3.2 2.9 3.4 3 3.4 2.9 3.6 3 3.8 2.9 3.9 3 4.1 3 4.2 2.9 4.2 3 4.3 2.9 4.2 3 4.2 2.9 4.1 3 4 3 3.9 2.9 3.7 3 3.7 2.9 3.6 3 3.5 2.9 3.4 3 3.4 2.9 3.4 3 3.3 3 3.2 2.9 3.1 3 2.9 2.9 2.8 3 2.5 2.9 2.4 3 2.3 3 2.2 2.9 2 3 2 2.9 2.1 3 2.1 2.9 2.2 3 2.4 3 2.4 2.9 2.4 3 2.4 2.9 2.4 3 2.3 2.9 2.4 3 2.3 3 2.3 2.9 2.4 3 2.4 2.9 2.4 3 2.4 2.9 2.4 3 2.3 3 2.3 2.9 2.2 3 2.2 2.9 2.1 3 2 2.9 2.1 3 2 2.9 2 3 2 3 2 2.9 2 3 1.9 2.9 1.8 3 1.7 2.9 1.8 3 1.7 3 1.7 2.9 1.7 3 1.8 2.9 1.7 3 1.7 2.9 1.6 3 1.6 3 1.4 2.9 1.4 3 1.4 2.9 1.2 3 1.2 2.9 1.1 3 1 3 1 2.9 1 3 .8 2.9 .9 3 .8 2.9 .8 3 .7 3 .7 2.9 .7 3 .7 2.9 .6 3 .7 2.9 .5 3 .6 3 .5 2.9 .4 3 .4 2.9 .4 3 .3 2.9 .3 3 .3 2.9 .2 3 .2 3 .2 2.9 .2 3 .2 2.9 .1 3 .2 2.9 .1 3 .1 3 .1 2.9 .2 3 .1 2.9 .1 3 .1 2.9 .1 3 .1" stroke="#fc8d62" stroke-width="3.1" stroke-linecap="round"/></g>
<path d="M67.2,23.0V349.3H685.0" stroke="#000" stroke-width="1.5" fill="none"/>
<path d="M66.3,469.2V799.0H685.0" stroke="#000" stroke-width="1.5" fill="none"/>
<path d="M67.2,316.3h-5.3M67.2,267.4h-5.3M67.2,218.6h-5.3M67.2,169.8h-5.3M67.2,120.9h-5.3M67.2,72.1h-5.3M67.3,349.3v6M185.5,349.3v6M303.7,349.3v6M421.9,349.3v6M540.1,349.3v6M658.3,349.3v6M66.3,796.8h-5.3M66.3,754.2h-5.3M66.3,711.5h-5.3M66.3,668.9h-5.3M66.3,626.2h-5.3M66.3,583.6h-5.3M66.3,541.0h-5.3M66.3,498.3h-5.3M191.0,799.0v6M315.7,799.0v6M440.4,799.0v6M565.1,799.0v6" stroke="#000" stroke-width="1.4" fill="none"/>
<path d="M102.9,349.3v2.8M123.7,349.3v2.8M138.5,349.3v2.8M149.9,349.3v2.8M159.3,349.3v2.8M167.2,349.3v2.8M174.0,349.3v2.8M180.1,349.3v2.8M221.1,349.3v2.8M241.9,349.3v2.8M256.7,349.3v2.8M268.1,349.3v2.8M277.5,349.3v2.8M285.4,349.3v2.8M292.2,349.3v2.8M298.3,349.3v2.8M339.3,349.3v2.8M360.1,349.3v2.8M374.9,349.3v2.8M386.3,349.3v2.8M395.7,349.3v2.8M403.6,349.3v2.8M410.4,349.3v2.8M416.5,349.3v2.8M457.5,349.3v2.8M478.3,349.3v2.8M493.1,349.3v2.8M504.5,349.3v2.8M513.9,349.3v2.8M521.8,349.3v2.8M528.6,349.3v2.8M534.7,349.3v2.8M575.7,349.3v2.8M596.5,349.3v2.8M611.3,349.3v2.8M622.7,349.3v2.8M632.1,349.3v2.8M640.0,349.3v2.8M646.8,349.3v2.8M652.9,349.3v2.8" stroke="#000" stroke-width="1.0" fill="none"/>
<text x="56.4" y="323.3" font-size="18" text-anchor="end" textLength="27.2" lengthAdjust="spacingAndGlyphs">0.5</text>
<text x="56.4" y="274.4" font-size="18" text-anchor="end" textLength="27.2" lengthAdjust="spacingAndGlyphs">1.0</text>
<text x="56.4" y="225.6" font-size="18" text-anchor="end" textLength="27.2" lengthAdjust="spacingAndGlyphs">1.5</text>
<text x="56.4" y="176.8" font-size="18" text-anchor="end" textLength="27.2" lengthAdjust="spacingAndGlyphs">2.0</text>
<text x="56.4" y="127.9" font-size="18" text-anchor="end" textLength="27.2" lengthAdjust="spacingAndGlyphs">2.5</text>
<text x="56.4" y="79.1" font-size="18" text-anchor="end" textLength="27.2" lengthAdjust="spacingAndGlyphs">3.0</text>
<text x="55.0" y="802.5" font-size="18" text-anchor="end" textLength="27.2" lengthAdjust="spacingAndGlyphs">0.0</text>
<text x="55.0" y="759.9" font-size="18" text-anchor="end" textLength="27.2" lengthAdjust="spacingAndGlyphs">0.1</text>
<text x="55.0" y="717.2" font-size="18" text-anchor="end" textLength="27.2" lengthAdjust="spacingAndGlyphs">0.2</text>
<text x="55.0" y="674.6" font-size="18" text-anchor="end" textLength="27.2" lengthAdjust="spacingAndGlyphs">0.3</text>
<text x="55.0" y="631.9" font-size="18" text-anchor="end" textLength="27.2" lengthAdjust="spacingAndGlyphs">0.4</text>
<text x="55.0" y="589.3" font-size="18" text-anchor="end" textLength="27.2" lengthAdjust="spacingAndGlyphs">0.5</text>
<text x="55.0" y="546.7" font-size="18" text-anchor="end" textLength="27.2" lengthAdjust="spacingAndGlyphs">0.6</text>
<text x="55.0" y="504.0" font-size="18" text-anchor="end" textLength="27.2" lengthAdjust="spacingAndGlyphs">0.7</text>
<text x="191.3" y="821.8" font-size="18" text-anchor="middle" textLength="27.2" lengthAdjust="spacingAndGlyphs">0.2</text>
<text x="316.0" y="821.8" font-size="18" text-anchor="middle" textLength="27.2" lengthAdjust="spacingAndGlyphs">0.4</text>
<text x="440.7" y="821.8" font-size="18" text-anchor="middle" textLength="27.2" lengthAdjust="spacingAndGlyphs">0.6</text>
<text x="565.4" y="821.8" font-size="18" text-anchor="middle" textLength="27.2" lengthAdjust="spacingAndGlyphs">0.8</text>
<text x="47.7" y="372.6" font-size="18" textLength="20.6" lengthAdjust="spacingAndGlyphs">10</text>
<text x="69.3" y="365.9" font-size="12.4" textLength="16.6" lengthAdjust="spacingAndGlyphs">−5</text>
<text x="165.9" y="372.6" font-size="18" textLength="20.6" lengthAdjust="spacingAndGlyphs">10</text>
<text x="187.5" y="365.9" font-size="12.4" textLength="16.6" lengthAdjust="spacingAndGlyphs">−4</text>
<text x="284.0" y="372.6" font-size="18" textLength="20.6" lengthAdjust="spacingAndGlyphs">10</text>
<text x="305.6" y="365.9" font-size="12.4" textLength="16.6" lengthAdjust="spacingAndGlyphs">−3</text>
<text x="402.0" y="372.6" font-size="18" textLength="20.6" lengthAdjust="spacingAndGlyphs">10</text>
<text x="423.6" y="365.9" font-size="12.4" textLength="16.6" lengthAdjust="spacingAndGlyphs">−2</text>
<text x="520.2" y="372.6" font-size="18" textLength="20.6" lengthAdjust="spacingAndGlyphs">10</text>
<text x="541.8" y="365.9" font-size="12.4" textLength="16.6" lengthAdjust="spacingAndGlyphs">−1</text>
<text x="643.8" y="372.6" font-size="18" textLength="20.6" lengthAdjust="spacingAndGlyphs">10</text>
<text x="664.3" y="365.9" font-size="12.4">0</text>
<text x="376.1" y="14.5" font-size="21.5" text-anchor="middle" textLength="124" lengthAdjust="spacingAndGlyphs">g at 1.7 GeV</text>
<text x="375.6" y="461.2" font-size="21.5" text-anchor="middle" textLength="124" lengthAdjust="spacingAndGlyphs">u at 1.7 GeV</text>
<text x="376" y="397.9" font-size="21.5" text-anchor="middle">x</text>
<text x="376" y="846.7" font-size="21.5" text-anchor="middle">x</text>
<text transform="translate(15.1,187.5) rotate(-90)" font-size="21.5" text-anchor="middle">xg(x)</text>
<text transform="translate(15.1,633) rotate(-90)" font-size="21.5" text-anchor="middle">xu(x)</text>
<rect x="522.8" y="28.5" width="156.5" height="37" rx="2.5" ry="2.5" fill="#fff" fill-opacity="0.8" stroke="#cccccc" stroke-width="1.1"/><path d="M526.0999999999999,37.7h26" stroke="#66c2a5" stroke-width="3" /><path d="M526.0999999999999,54.8h26" stroke="#fc8d62" stroke-width="3" /><text x="560.4" y="44.1" font-size="12.2" textLength="76.5" lengthAdjust="spacingAndGlyphs">n3fit DIS only</text><text x="560.4" y="61.0" font-size="12.2" textLength="112.8" lengthAdjust="spacingAndGlyphs">NNPDF 3.1 DIS only</text>
<rect x="522.8" y="475.4" width="156.5" height="37" rx="2.5" ry="2.5" fill="#fff" fill-opacity="0.8" stroke="#cccccc" stroke-width="1.1"/><path d="M526.0999999999999,484.59999999999997h26" stroke="#66c2a5" stroke-width="3" /><path d="M526.0999999999999,501.7h26" stroke="#fc8d62" stroke-width="3" /><text x="560.4" y="491.0" font-size="12.2" textLength="76.5" lengthAdjust="spacingAndGlyphs">n3fit DIS only</text><text x="560.4" y="507.9" font-size="12.2" textLength="112.8" lengthAdjust="spacingAndGlyphs">NNPDF 3.1 DIS only</text>
</svg></body></html>
